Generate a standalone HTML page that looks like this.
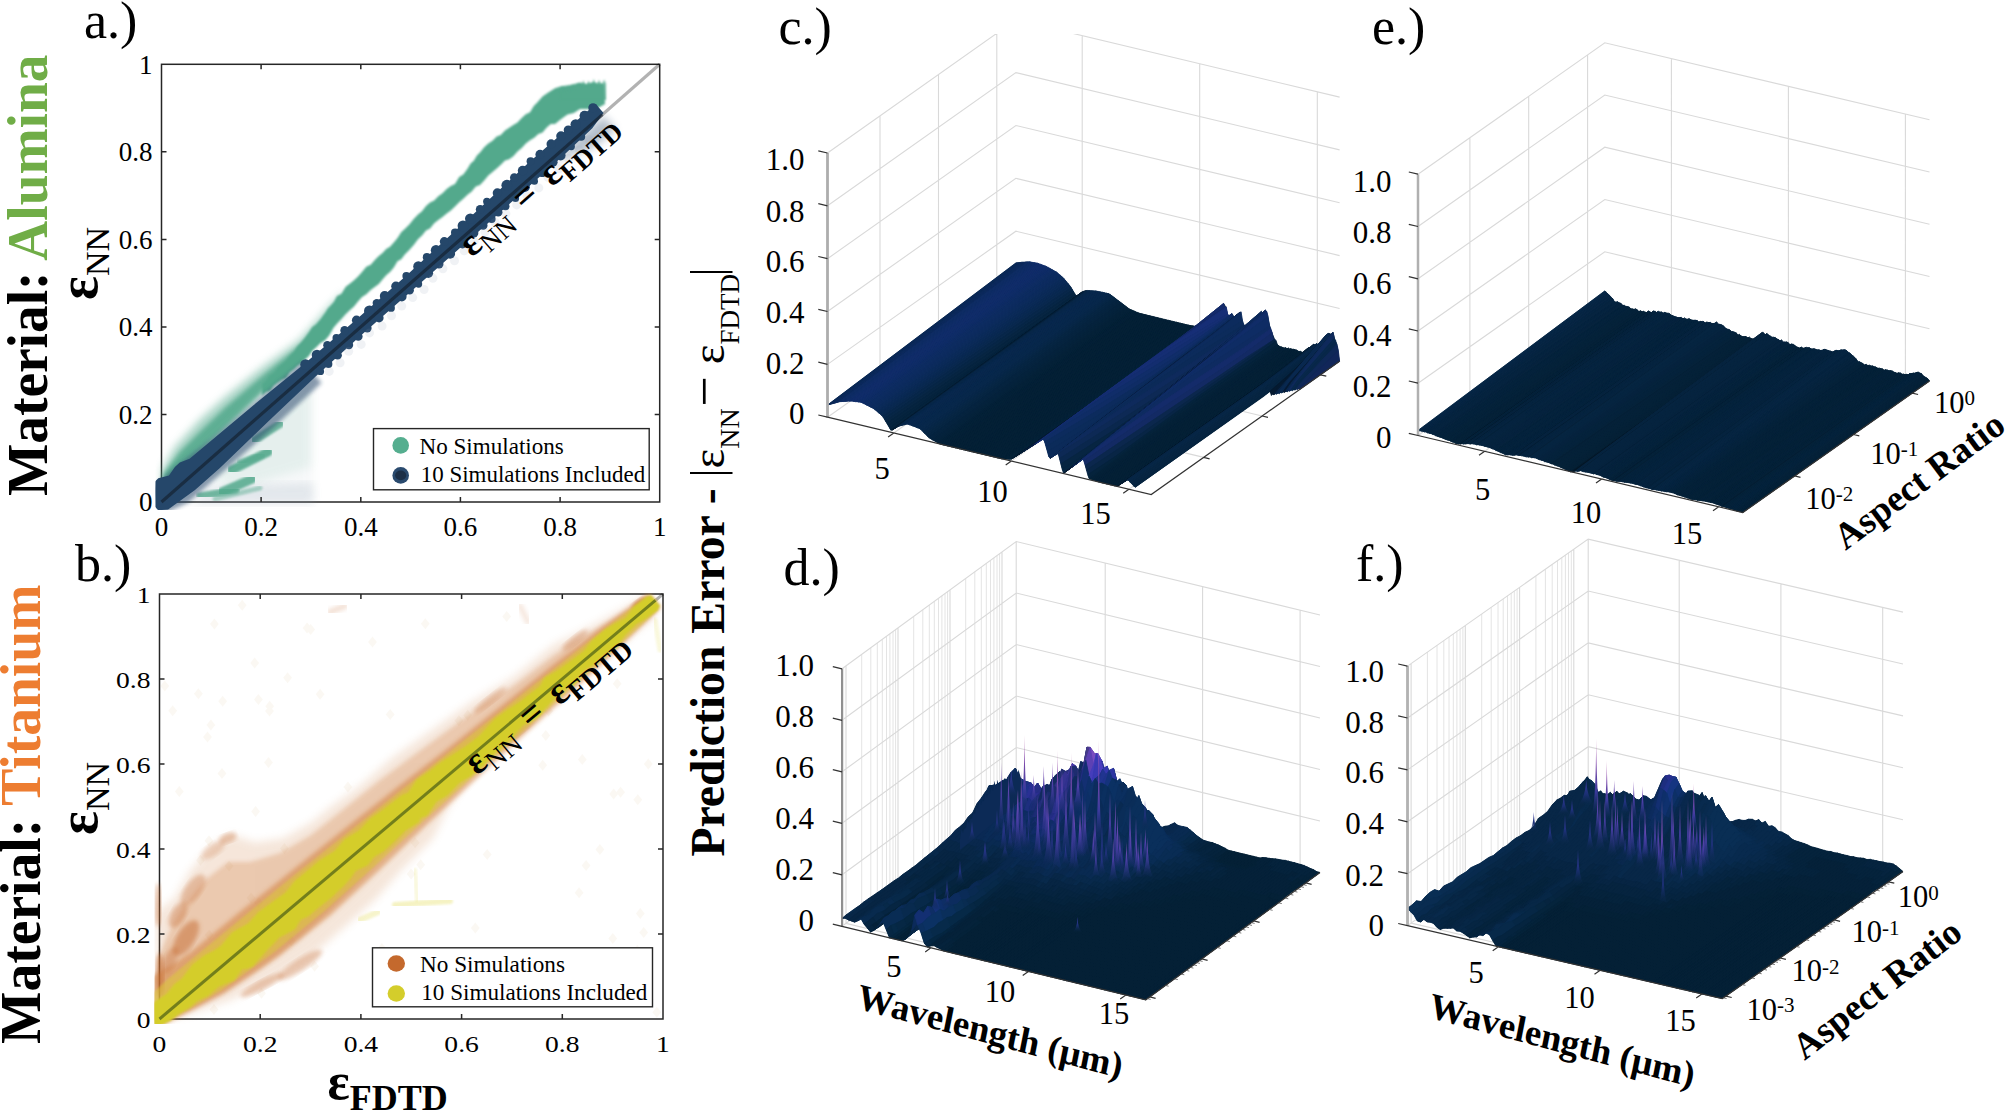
<!DOCTYPE html>
<html><head><meta charset="utf-8"><title>Figure</title>
<style>html,body{margin:0;padding:0;background:#fff}svg{display:block}text{font-family:'Liberation Serif',serif;fill:#000}</style>
</head><body>
<svg width="2007" height="1114" viewBox="0 0 2007 1114">
<defs>
<filter id="b1" x="-10%" y="-10%" width="120%" height="120%"><feGaussianBlur stdDeviation="0.8"/></filter>
<filter id="b2" x="-10%" y="-10%" width="120%" height="120%"><feGaussianBlur stdDeviation="2.2"/></filter>
<filter id="b3" x="-10%" y="-10%" width="120%" height="120%"><feGaussianBlur stdDeviation="4"/></filter>
</defs>
<g id="pa">
<clipPath id="ca"><rect x="155.5" y="62.3" width="506.2" height="447.7"/></clipPath>
<rect x="161.5" y="64.3" width="498.2" height="437.7" stroke="#262626" stroke-width="1.5" fill="none"/>
<g clip-path="url(#ca)">
<line x1="161.5" y1="502" x2="659.7" y2="64.3" stroke="#000" stroke-opacity="0.3" stroke-width="3.2"/>
<polygon points="171.5,502 313.5,502 313.5,383.8 261.1,427.6" fill="#8fa7b5" opacity="0.07" filter="url(#b3)"/>
<polygon points="191.4,504.2 313.5,504.2 313.5,482.3 211.3,486.7" fill="#7f93a8" opacity="0.16" filter="url(#b3)"/>
<polygon points="211.3,475.7 311,383.8 311,467 236.2,488.9" fill="#6fb59c" opacity="0.12" filter="url(#b3)"/>
<polygon points="162.5,470 175,447.5 200,420 225,397.5 262.5,367.5 300,340 330,306 345,292 345,310 300,352 262.5,390 225,428 200,452 175,478 162.5,496" fill="#52a98c" opacity="0.55" filter="url(#b3)"/>
<polygon points="163,474 180,452 200,432 225,408 262.5,376 300,345 330,316 330,330 300,360 262.5,392 225,428 200,452 175,478 163,497" fill="#52a98c" opacity="0.85" filter="url(#b2)"/>
<line x1="232" y1="470" x2="268" y2="452" stroke="#52a98c" stroke-width="9" stroke-linecap="round" opacity="0.9" filter="url(#b1)"/>
<line x1="222" y1="492" x2="252" y2="479" stroke="#52a98c" stroke-width="9" stroke-linecap="round" opacity="0.85" filter="url(#b1)"/>
<line x1="255" y1="440" x2="280" y2="424" stroke="#52a98c" stroke-width="8" stroke-linecap="round" opacity="0.8" filter="url(#b1)"/>
<line x1="200" y1="496" x2="236" y2="490" stroke="#52a98c" stroke-width="7" stroke-linecap="round" opacity="0.8" filter="url(#b1)"/>
<line x1="240" y1="462" x2="262" y2="455" stroke="#52a98c" stroke-width="6" stroke-linecap="round" opacity="0.5" filter="url(#b1)"/>
<line x1="215" y1="499" x2="260" y2="488" stroke="#52a98c" stroke-width="5" stroke-linecap="round" opacity="0.45" filter="url(#b1)"/>
<polygon points="262,384 266,380.5 270,375 274,372.8 278,367.4 282,363.9 286,360.8 290,355.5 293.8,352.1 297.5,346.2 301.2,342.5 305,337.7 308.7,332.4 312.3,326.9 316,324.6 320.5,319.3 325,313.1 328,308.2 331,305.3 334,301.8 337,296.1 341.3,294 345.7,286.8 350,283.6 354,280.2 358,276.5 362,272.1 366.3,266.7 370.7,264.8 375,259.8 378.8,256 382.5,253.1 386.2,249 390,246.8 393.8,242.6 397.5,237.9 401.2,232.2 405,228.7 409.3,224.4 413.7,218.9 418,214.6 422,211.3 426,206 430,202.4 434.2,200.5 438.3,196.3 442.5,193.2 446.7,188.9 450.8,186.1 455,184.1 459.2,177.1 463.3,174.6 467.5,168.7 470.6,163.4 473.8,160.8 476.9,155.4 480,152.4 484.2,147.2 488.3,143.5 492.5,140.8 496.7,136.5 500.8,134.9 505,130.4 509.2,127.8 513.3,124.9 517.5,122.4 521.7,117.9 525.8,114.2 530,112.3 533.8,106.1 537.5,102.3 542.5,96.6 547.5,93.1 555,88.3 561.2,86.3 567.5,85.4 573.8,84.2 580,82.5 586.2,84.2 592.5,82.6 598.1,83.5 603.8,84 605,104 598.8,107.6 592.5,108.9 586.2,109.1 580,109.1 573.8,113.1 567.5,114.4 561.2,119.1 555,123.9 550.8,124.1 546.7,127.5 542.5,132.5 538.3,134.1 534.2,137.7 530,140.3 525.8,143.6 521.7,148.1 517.5,151.4 513.3,156.3 509.2,159.2 505,160.4 500.8,164.8 496.7,168.5 492.5,172 488.3,175.4 484.2,180.6 480,185.1 475.8,186.5 471.7,191.5 467.5,194.7 463.3,198.8 459.2,202.3 455,206.4 450.8,210.6 446.7,213.5 442.5,217 438.3,220 434.2,223.3 430,228.4 426,230.6 422,235.4 418,239.2 413.7,245.1 409.3,250 405,254.3 401.2,259.2 397.5,261.2 393.8,267.5 390,271.9 386.2,275.3 382.5,279.6 378.8,284.1 375,286.7 370.7,290.1 366.3,294.3 362,297 358,301.6 354,306.4 350,310 345.7,314 341.3,318.9 337,323.5 333,328.3 329,335.5 325,340.2 320.5,342.8 316,347.2 312.3,350.5 308.7,355.9 305,359.5 301.2,363.4 297.5,366.1 293.8,369.6 290,372.2 286,377.9 282,379.7 278,382.6 274,385.5 270,390.7 266,391.9 262,395.4" fill="#52a98c" filter="url(#b1)"/>
<polygon points="560,93.6 562.6,86.2 565.2,92.1 567.8,86.2 570.4,90.7 573,84.4 575.6,89.2 578.2,83.6 580.8,87.9 583.4,80.2 586,87.2 588.6,80.4 591.2,86.6 593.8,78.9 596.4,86 599,79.8 601.6,85.3 604.2,79.5 606,84 606,100 560,100" fill="#52a98c" opacity="0.8" filter="url(#b1)"/>
<polygon points="150.9,490 175.2,467.3 212,439 303,361.7 321.5,382.7 273,428 223.2,471.8 188.3,502.4 163.1,513.9" fill="#25476a" opacity="0.55" filter="url(#b2)"/>
<polygon points="551.4,162.1 603.7,116.1 615.6,129.7 591.9,147.9" fill="#25476a" opacity="0.35" filter="url(#b3)"/>
<polygon points="147.6,498.2 149,487.7 158.3,478.2 169,475.4 174.9,467 179.8,462.6 189.6,458.7 253.2,405.4 304.7,363.6 355.2,320.5 405,276.8 478.4,209.6 526.9,164.3 595.7,103.9 603.6,112.9 592.3,128.2 563.4,155.6 489.3,222 414.9,288 365.1,331.8 315.9,376.3 267.7,422 219.9,468 195,489.9 168.1,509.5 158.2,510.3" fill="#25476a"/>
<g fill="#25476a"><circle cx="305.5" cy="364.5" r="5.3"/><circle cx="317" cy="355" r="5.3"/><circle cx="327.4" cy="345.2" r="4.2"/><circle cx="336.4" cy="337.9" r="3.9"/><circle cx="344.6" cy="330.4" r="4.3"/><circle cx="356.5" cy="320.2" r="4.6"/><circle cx="369.5" cy="311" r="5.5"/><circle cx="376.8" cy="303.1" r="4.2"/><circle cx="384.7" cy="295.9" r="4.9"/><circle cx="395.9" cy="286.2" r="4.7"/><circle cx="406.4" cy="276" r="4"/><circle cx="418.4" cy="266.5" r="5.2"/><circle cx="426.9" cy="257.2" r="4.1"/><circle cx="436" cy="250.2" r="5.2"/><circle cx="444.3" cy="241.6" r="4.5"/><circle cx="455.1" cy="232.5" r="4.1"/><circle cx="463" cy="225.9" r="5.4"/><circle cx="470.3" cy="218.8" r="5.3"/><circle cx="480.2" cy="209.3" r="4.4"/><circle cx="486.9" cy="201.5" r="3.8"/><circle cx="497.4" cy="193" r="4.7"/><circle cx="506.8" cy="185.2" r="5.4"/><circle cx="514.3" cy="177.6" r="4.3"/><circle cx="522.7" cy="170.6" r="4.9"/><circle cx="530.6" cy="161.3" r="4"/><circle cx="540" cy="154.4" r="4.6"/><circle cx="551.1" cy="143.9" r="4.6"/><circle cx="561" cy="136.1" r="4.8"/><circle cx="568.3" cy="130.1" r="4.6"/><circle cx="575.7" cy="124.4" r="5.2"/><circle cx="584.6" cy="115.8" r="5.1"/><circle cx="593" cy="107.9" r="4.7"/><circle cx="320.4" cy="371.4" r="3.7"/><circle cx="328.5" cy="364" r="3.9"/><circle cx="337.6" cy="355.2" r="4.3"/><circle cx="349" cy="345" r="4.2"/><circle cx="358.3" cy="336.5" r="4.3"/><circle cx="367.3" cy="328.1" r="4.3"/><circle cx="379.1" cy="317.9" r="4.5"/><circle cx="391" cy="307.9" r="3.9"/><circle cx="401.8" cy="296.7" r="4.8"/><circle cx="409.7" cy="290.4" r="4.2"/><circle cx="418.6" cy="284.1" r="3.6"/><circle cx="428.3" cy="273.2" r="4.8"/><circle cx="439" cy="264.1" r="4.5"/><circle cx="450.1" cy="253.8" r="5"/><circle cx="462.5" cy="244.3" r="4.1"/><circle cx="473.7" cy="233" r="4.7"/><circle cx="483.2" cy="225.4" r="4.3"/><circle cx="491.6" cy="218.9" r="4"/><circle cx="498.2" cy="212.2" r="4.3"/><circle cx="505.5" cy="206.3" r="4"/><circle cx="515.5" cy="198.4" r="3.6"/><circle cx="524.8" cy="187" r="5"/><circle cx="534.4" cy="181.2" r="3.6"/><circle cx="542.3" cy="173.4" r="3.7"/><circle cx="552.9" cy="162.3" r="4.7"/><circle cx="560.7" cy="155.6" r="4.9"/><circle cx="571.3" cy="146.6" r="3.6"/><circle cx="581.1" cy="136.7" r="4.1"/></g>
<circle cx="329.2" cy="371.4" r="4.5" fill="#8a9bb5" opacity="0.13"/>
<circle cx="340.1" cy="362.7" r="4.5" fill="#8a9bb5" opacity="0.13"/>
<circle cx="348.7" cy="351.3" r="4.5" fill="#8a9bb5" opacity="0.13"/>
<circle cx="361.2" cy="344.4" r="4.5" fill="#8a9bb5" opacity="0.13"/>
<circle cx="369.5" cy="332.9" r="4.5" fill="#8a9bb5" opacity="0.13"/>
<circle cx="382.1" cy="326.1" r="4.5" fill="#8a9bb5" opacity="0.13"/>
<circle cx="391.5" cy="315.7" r="4.5" fill="#8a9bb5" opacity="0.13"/>
<circle cx="401.7" cy="306.1" r="4.5" fill="#8a9bb5" opacity="0.13"/>
<circle cx="412.7" cy="297.6" r="4.5" fill="#8a9bb5" opacity="0.13"/>
<circle cx="424.1" cy="289.5" r="4.5" fill="#8a9bb5" opacity="0.13"/>
<circle cx="432.9" cy="278.3" r="4.5" fill="#8a9bb5" opacity="0.13"/>
<circle cx="442.9" cy="268.7" r="4.5" fill="#8a9bb5" opacity="0.13"/>
<circle cx="454.5" cy="260.7" r="4.5" fill="#8a9bb5" opacity="0.13"/>
<circle cx="464.2" cy="250.7" r="4.5" fill="#8a9bb5" opacity="0.13"/>
<circle cx="474.3" cy="241.1" r="4.5" fill="#8a9bb5" opacity="0.13"/>
<circle cx="484.9" cy="232.1" r="4.5" fill="#8a9bb5" opacity="0.13"/>
<circle cx="495.1" cy="222.5" r="4.5" fill="#8a9bb5" opacity="0.13"/>
<circle cx="505.9" cy="213.8" r="4.5" fill="#8a9bb5" opacity="0.13"/>
<circle cx="516.7" cy="204.9" r="4.5" fill="#8a9bb5" opacity="0.13"/>
<circle cx="527.1" cy="195.7" r="4.5" fill="#8a9bb5" opacity="0.13"/>
<circle cx="538.8" cy="187.9" r="4.5" fill="#8a9bb5" opacity="0.13"/>
<circle cx="548" cy="177.3" r="4.5" fill="#8a9bb5" opacity="0.13"/>
<circle cx="559" cy="168.7" r="4.5" fill="#8a9bb5" opacity="0.13"/>
<circle cx="568.6" cy="158.6" r="4.5" fill="#8a9bb5" opacity="0.13"/>
<circle cx="579.5" cy="149.9" r="4.5" fill="#8a9bb5" opacity="0.13"/>
<circle cx="589.1" cy="139.7" r="4.5" fill="#8a9bb5" opacity="0.13"/>
<line x1="161.5" y1="502" x2="602.4" y2="114.6" stroke="#101820" stroke-opacity="0.55" stroke-width="3.2"/>
</g>
<g stroke="#262626" stroke-width="1.5" fill="none">
<path d="M261.1 502v-5M261.1 64.3v5M161.5 414.5h5M659.7 414.5h-5M360.8 502v-5M360.8 64.3v5M161.5 326.9h5M659.7 326.9h-5M460.4 502v-5M460.4 64.3v5M161.5 239.4h5M659.7 239.4h-5M560.1 502v-5M560.1 64.3v5M161.5 151.8h5M659.7 151.8h-5"/>
</g>
<text x="161.5" y="536.2" font-size="27" text-anchor="middle" >0</text>
<text x="152.5" y="511.4" font-size="27" text-anchor="end" >0</text>
<text x="261.1" y="536.2" font-size="27" text-anchor="middle" >0.2</text>
<text x="152.5" y="423.9" font-size="27" text-anchor="end" >0.2</text>
<text x="360.8" y="536.2" font-size="27" text-anchor="middle" >0.4</text>
<text x="152.5" y="336.3" font-size="27" text-anchor="end" >0.4</text>
<text x="460.4" y="536.2" font-size="27" text-anchor="middle" >0.6</text>
<text x="152.5" y="248.8" font-size="27" text-anchor="end" >0.6</text>
<text x="560.1" y="536.2" font-size="27" text-anchor="middle" >0.8</text>
<text x="152.5" y="161.2" font-size="27" text-anchor="end" >0.8</text>
<text x="659.7" y="536.2" font-size="27" text-anchor="middle" >1</text>
<text x="152.5" y="73.7" font-size="27" text-anchor="end" >1</text>
<rect x="373.5" y="428.6" width="275.7" height="61.2" fill="#fff" stroke="#262626" stroke-width="1.4"/>
<circle cx="400.7" cy="445.4" r="8.3" fill="#55ae8f"/>
<circle cx="400.7" cy="475.4" r="8.3" fill="#2a4a6e"/><ellipse cx="400.7" cy="475.4" rx="5.6" ry="4.8" fill="#1d3048"/>
<text x="419.5" y="453.7" font-size="23" textLength="144.3" lengthAdjust="spacingAndGlyphs" >No Simulations</text>
<text x="420.7" y="482.4" font-size="23" textLength="224.5" lengthAdjust="spacingAndGlyphs" >10 Simulations Included</text>
<g transform="translate(472,258) rotate(-41.3)"><text font-size="38" font-weight="bold">ε<tspan font-size="27" font-weight="normal" dy="8">NN</tspan><tspan dy="-8" word-spacing="5.5"> = </tspan>ε<tspan font-size="27" dy="8">FDTD</tspan></text></g>
<text x="84" y="37.7" font-size="52" >a.)</text>
<g transform="translate(97,300) rotate(-90)"><text font-size="56" font-weight="bold">ε<tspan font-size="34" font-weight="normal" dy="12">NN</tspan></text></g>
<g transform="translate(46.8,496) rotate(-90)"><text font-size="56" font-weight="bold" textLength="441.5" lengthAdjust="spacingAndGlyphs">Material: <tspan fill="#70ad47">Alumina</tspan></text></g>
</g>
<g id="pb">
<clipPath id="cb"><rect x="154.5" y="593" width="509.5" height="431"/></clipPath>
<rect x="159.5" y="594" width="503.5" height="425" stroke="#262626" stroke-width="1.5" fill="none"/>
<g clip-path="url(#cb)">
<line x1="159.5" y1="1019" x2="663" y2="594" stroke="#000" stroke-opacity="0.3" stroke-width="3"/>
<path d="M387.7 825.8l4.4 5.5l-4.4 5.5l-4.4 -5.5zM620.6 786.7l4.4 5.5l-4.4 5.5l-4.4 -5.5zM415.1 837.3l4.4 5.5l-4.4 5.5l-4.4 -5.5zM255.6 805.9l4.4 5.5l-4.4 5.5l-4.4 -5.5zM475.3 922.6l4.4 5.5l-4.4 5.5l-4.4 -5.5zM210.9 719.4l4.4 5.5l-4.4 5.5l-4.4 -5.5zM209.2 929.5l4.4 5.5l-4.4 5.5l-4.4 -5.5zM506.7 610.9l4.4 5.5l-4.4 5.5l-4.4 -5.5zM649.2 993.9l4.4 5.5l-4.4 5.5l-4.4 -5.5zM487.2 849l4.4 5.5l-4.4 5.5l-4.4 -5.5zM242.2 599.7l4.4 5.5l-4.4 5.5l-4.4 -5.5zM425.3 618.2l4.4 5.5l-4.4 5.5l-4.4 -5.5zM258.4 693.9l4.4 5.5l-4.4 5.5l-4.4 -5.5zM179.3 786l4.4 5.5l-4.4 5.5l-4.4 -5.5zM381.9 943.1l4.4 5.5l-4.4 5.5l-4.4 -5.5zM420.7 859.2l4.4 5.5l-4.4 5.5l-4.4 -5.5zM411.1 868.4l4.4 5.5l-4.4 5.5l-4.4 -5.5zM390.2 708.9l4.4 5.5l-4.4 5.5l-4.4 -5.5zM656.8 1006.7l4.4 5.5l-4.4 5.5l-4.4 -5.5zM579.1 887.2l4.4 5.5l-4.4 5.5l-4.4 -5.5zM320.1 688.8l4.4 5.5l-4.4 5.5l-4.4 -5.5zM307.1 622.6l4.4 5.5l-4.4 5.5l-4.4 -5.5zM542.7 759.7l4.4 5.5l-4.4 5.5l-4.4 -5.5zM582.3 753.9l4.4 5.5l-4.4 5.5l-4.4 -5.5zM637.3 945.1l4.4 5.5l-4.4 5.5l-4.4 -5.5zM164.8 680.5l4.4 5.5l-4.4 5.5l-4.4 -5.5zM613.7 788.5l4.4 5.5l-4.4 5.5l-4.4 -5.5zM648.3 758.4l4.4 5.5l-4.4 5.5l-4.4 -5.5zM200.5 854.7l4.4 5.5l-4.4 5.5l-4.4 -5.5zM548.7 705.5l4.4 5.5l-4.4 5.5l-4.4 -5.5zM207.5 731.5l4.4 5.5l-4.4 5.5l-4.4 -5.5zM640.3 908.1l4.4 5.5l-4.4 5.5l-4.4 -5.5zM222.7 695.8l4.4 5.5l-4.4 5.5l-4.4 -5.5zM214.4 618.4l4.4 5.5l-4.4 5.5l-4.4 -5.5zM557.8 667.2l4.4 5.5l-4.4 5.5l-4.4 -5.5zM440.5 779.2l4.4 5.5l-4.4 5.5l-4.4 -5.5zM258.6 897.2l4.4 5.5l-4.4 5.5l-4.4 -5.5zM229.1 860.6l4.4 5.5l-4.4 5.5l-4.4 -5.5zM222 768.1l4.4 5.5l-4.4 5.5l-4.4 -5.5zM269.5 705.5l4.4 5.5l-4.4 5.5l-4.4 -5.5zM643.7 926.9l4.4 5.5l-4.4 5.5l-4.4 -5.5zM314.6 960.7l4.4 5.5l-4.4 5.5l-4.4 -5.5zM268.5 757.1l4.4 5.5l-4.4 5.5l-4.4 -5.5zM586.1 859.9l4.4 5.5l-4.4 5.5l-4.4 -5.5zM214 1004.1l4.4 5.5l-4.4 5.5l-4.4 -5.5zM269.7 700.7l4.4 5.5l-4.4 5.5l-4.4 -5.5zM545.8 730l4.4 5.5l-4.4 5.5l-4.4 -5.5zM310.7 624l4.4 5.5l-4.4 5.5l-4.4 -5.5zM209 835.3l4.4 5.5l-4.4 5.5l-4.4 -5.5zM284.4 843l4.4 5.5l-4.4 5.5l-4.4 -5.5zM347.9 781.6l4.4 5.5l-4.4 5.5l-4.4 -5.5zM637.8 794.2l4.4 5.5l-4.4 5.5l-4.4 -5.5zM448.1 953.1l4.4 5.5l-4.4 5.5l-4.4 -5.5zM254.7 657.5l4.4 5.5l-4.4 5.5l-4.4 -5.5zM612.8 932.9l4.4 5.5l-4.4 5.5l-4.4 -5.5zM287.6 672.3l4.4 5.5l-4.4 5.5l-4.4 -5.5zM529.4 983.8l4.4 5.5l-4.4 5.5l-4.4 -5.5zM261.5 987.8l4.4 5.5l-4.4 5.5l-4.4 -5.5zM599.9 844l4.4 5.5l-4.4 5.5l-4.4 -5.5zM372.5 636.6l4.4 5.5l-4.4 5.5l-4.4 -5.5zM183.6 993l4.4 5.5l-4.4 5.5l-4.4 -5.5zM282.2 885.9l4.4 5.5l-4.4 5.5l-4.4 -5.5zM291.3 935.3l4.4 5.5l-4.4 5.5l-4.4 -5.5zM458.9 715.3l4.4 5.5l-4.4 5.5l-4.4 -5.5zM251.1 892.4l4.4 5.5l-4.4 5.5l-4.4 -5.5zM198.4 688.3l4.4 5.5l-4.4 5.5l-4.4 -5.5zM440.5 947.2l4.4 5.5l-4.4 5.5l-4.4 -5.5zM467.7 709.8l4.4 5.5l-4.4 5.5l-4.4 -5.5zM617.2 678.2l4.4 5.5l-4.4 5.5l-4.4 -5.5zM172.7 705.2l4.4 5.5l-4.4 5.5l-4.4 -5.5z" fill="#d9b98a" opacity="0.10"/>
<polygon points="156,915 165,905 174,899 190,871 210.6,846.7 230.8,834.5 255,842.6 283,838.6 311.6,822.4 331.8,806 360,786 392.4,757.8 432.8,729.5 473,701 513.6,677 554,644.6 594.4,624.4 634.8,602 651,598 655,616 614.6,648.7 554,697 513.6,733.5 481,761.8 449,806 432.8,838.6 400.5,871 376,899 344,927.5 311.6,955.8 271,980 230.8,1000 190,1014 158,1020" fill="#cf8448" opacity="0.20" filter="url(#b3)"/>
<polygon points="157,960 170,930 185,905 205,880 228,862 250,862 280,853 311,835 340,812 380,780 432,742 473,712 513,686 554,655 594,630 634,607 652,598 656,610 614,640 554,686 513,720 481,748 449,780 420,812 395,842 365,875 335,905 300,938 262,968 225,992 190,1010 158,1020" fill="#cf7a3a" opacity="0.27" filter="url(#b2)"/>
<polygon points="145.4,1012.6 138.9,994.5 150.1,977.2 167.8,967.5 189.9,952.8 240.8,911.1 292.5,870.1 344.1,829.1 395.8,788.2 448.1,748 499.7,707 551.3,666 603.6,625.8 649,592.7 661.3,607.3 621,646.4 572.6,691.2 523.6,735.3 475.1,780 426.7,824.8 379,870.4 330.5,915.2 278.9,956.2 224,993.3 182.3,1015.4 158.3,1027.8" fill="#d07a35" opacity="0.5" filter="url(#b2)"/>
<ellipse cx="186" cy="938" rx="9" ry="20" transform="rotate(32 186 938)" fill="#c4692d" opacity="0.5" filter="url(#b2)"/>
<ellipse cx="193" cy="890" rx="8" ry="18" transform="rotate(35 193 890)" fill="#c4692d" opacity="0.35" filter="url(#b2)"/>
<ellipse cx="178" cy="915" rx="7" ry="14" transform="rotate(30 178 915)" fill="#c4692d" opacity="0.4" filter="url(#b2)"/>
<ellipse cx="170" cy="960" rx="6" ry="14" transform="rotate(25 170 960)" fill="#c4692d" opacity="0.4" filter="url(#b2)"/>
<ellipse cx="228" cy="838" rx="9" ry="5" transform="rotate(-20 228 838)" fill="#c4692d" opacity="0.35" filter="url(#b2)"/>
<ellipse cx="213" cy="850" rx="14" ry="6" transform="rotate(-35 213 850)" fill="#c4692d" opacity="0.25" filter="url(#b2)"/>
<ellipse cx="158" cy="905" rx="3" ry="22" transform="rotate(0 158 905)" fill="#c4692d" opacity="0.45" filter="url(#b2)"/>
<ellipse cx="160" cy="975" rx="4" ry="22" transform="rotate(0 160 975)" fill="#c4692d" opacity="0.55" filter="url(#b2)"/>
<ellipse cx="300" cy="965" rx="26" ry="6" transform="rotate(-33 300 965)" fill="#c4692d" opacity="0.35" filter="url(#b2)"/>
<ellipse cx="262" cy="985" rx="24" ry="5" transform="rotate(-28 262 985)" fill="#c4692d" opacity="0.35" filter="url(#b2)"/>
<ellipse cx="640" cy="603" rx="9" ry="4" transform="rotate(-35 640 603)" fill="#c4692d" opacity="0.6" filter="url(#b2)"/>
<ellipse cx="575" cy="640" rx="16" ry="4" transform="rotate(-38 575 640)" fill="#c4692d" opacity="0.35" filter="url(#b2)"/>
<ellipse cx="490" cy="700" rx="20" ry="4" transform="rotate(-38 490 700)" fill="#c4692d" opacity="0.3" filter="url(#b2)"/>
<ellipse cx="520" cy="730" rx="18" ry="4" transform="rotate(-40 520 730)" fill="#c4692d" opacity="0.3" filter="url(#b2)"/>
<line x1="330" y1="612" x2="345" y2="606" stroke="#c4692d" stroke-width="6" stroke-linecap="round" opacity="0.2" filter="url(#b2)"/>
<line x1="520" y1="606" x2="528" y2="622" stroke="#c4692d" stroke-width="6" stroke-linecap="round" opacity="0.15" filter="url(#b2)"/>
<polygon points="145.7,1014.9 144,1000.7 168.5,978.6 193.7,957.4 244.7,915.7 295.7,873.9 347.4,833 399,792 450.6,751 502.3,710 553.9,669.1 605.6,628.1 647.1,595.6 658.7,609.4 619.7,644.9 570.7,688.9 521.6,733 472.6,777 423.5,821 375.1,865.8 326,909.8 275,951.6 221.5,990.3 181.1,1013.9 156.7,1027.9" fill="#dccb3a" opacity="0.55" filter="url(#b1)"/>
<polygon points="148.3,1018 148.5,1006 159.4,998.5 166.6,993.7 174,984.2 181.5,978.7 192.2,964.5 204,955.6 207.7,953.5 213.9,950.6 220.7,945.8 232,932.2 248.2,923.3 258,912.3 270.7,903.1 285.7,892.3 294.2,881.2 307.7,870.2 319.4,860.3 334.4,850.9 344.3,839.2 359.1,830.2 370.3,818.2 381.8,810.3 391.2,802.9 401.6,795 408,792.4 416.5,779.7 430.7,770 440.1,762.5 452,754.8 466.2,745.7 478.7,736 488.4,725.4 495.7,718.1 506.3,710.2 521.2,700.5 527.3,695.4 539.4,686.3 544.7,677.6 557.8,670 571.7,659.7 583.7,650.8 591.5,640.7 604.9,629.4 615.2,623.1 625.5,617.8 633.5,606.9 647,596.8 650.9,595 660,605.7 657.4,610.3 644.7,619.4 636.4,624.3 624.9,635.8 619.1,644 612.7,649.8 605.6,654 593.8,664.9 582.9,671.4 576.7,682.1 561.9,691.7 550.5,703.3 538.3,717.1 522.8,725.7 512.6,737.6 500.5,748.9 492.8,755.3 484.2,765 471.8,775.5 459.7,782.9 447.5,795.4 436.4,802 427.4,815.4 420.9,818 419.1,822.3 405.1,831 393.8,842.2 384,851.3 373.9,857.2 367.9,865.3 355.9,871.1 350,879.3 343.1,886.7 329.9,898.9 318.2,908 308.6,916.2 300.7,919.9 295.1,929.3 287.7,933.2 279.2,937.7 267.9,949.4 258.6,960.1 252.9,966.2 246.6,969 242.1,969.5 234.6,980.2 218.5,987.1 208.6,995.8 197.1,1001.2 188.9,1008.2 180.3,1013 169.7,1020.9 156,1027.2" fill="#d4cd2b" filter="url(#b1)"/>
<line x1="395" y1="905" x2="450" y2="901" stroke="#e3dc55" stroke-width="6" stroke-linecap="round" opacity="0.35" filter="url(#b1)"/>
<line x1="360" y1="920" x2="378" y2="912" stroke="#e3dc55" stroke-width="6" stroke-linecap="round" opacity="0.3" filter="url(#b1)"/>
<line x1="415" y1="870" x2="417" y2="900" stroke="#e3dc55" stroke-width="4" stroke-linecap="round" opacity="0.2" filter="url(#b1)"/>
<line x1="655" y1="620" x2="660" y2="650" stroke="#e3dc55" stroke-width="5" stroke-linecap="round" opacity="0.2" filter="url(#b1)"/>
<line x1="159.5" y1="1019" x2="655.4" y2="600.4" stroke="#5a6a18" stroke-opacity="0.8" stroke-width="3"/>
</g>
<g stroke="#262626" stroke-width="1.5" fill="none">
<path d="M260.2 1019v-5M260.2 594v5M159.5 934h5M663 934h-5M360.9 1019v-5M360.9 594v5M159.5 849h5M663 849h-5M461.6 1019v-5M461.6 594v5M159.5 764h5M663 764h-5M562.3 1019v-5M562.3 594v5M159.5 679h5M663 679h-5"/>
</g>
<text transform="translate(159.5,1051.5) scale(1.2,1)" font-size="23" text-anchor="middle">0</text>
<text transform="translate(150.5,1027.8) scale(1.2,1)" font-size="23" text-anchor="end">0</text>
<text transform="translate(260.2,1051.5) scale(1.2,1)" font-size="23" text-anchor="middle">0.2</text>
<text transform="translate(150.5,942.8) scale(1.2,1)" font-size="23" text-anchor="end">0.2</text>
<text transform="translate(360.9,1051.5) scale(1.2,1)" font-size="23" text-anchor="middle">0.4</text>
<text transform="translate(150.5,857.8) scale(1.2,1)" font-size="23" text-anchor="end">0.4</text>
<text transform="translate(461.6,1051.5) scale(1.2,1)" font-size="23" text-anchor="middle">0.6</text>
<text transform="translate(150.5,772.8) scale(1.2,1)" font-size="23" text-anchor="end">0.6</text>
<text transform="translate(562.3,1051.5) scale(1.2,1)" font-size="23" text-anchor="middle">0.8</text>
<text transform="translate(150.5,687.8) scale(1.2,1)" font-size="23" text-anchor="end">0.8</text>
<text transform="translate(663,1051.5) scale(1.2,1)" font-size="23" text-anchor="middle">1</text>
<text transform="translate(150.5,602.8) scale(1.2,1)" font-size="23" text-anchor="end">1</text>
<rect x="372.5" y="947.8" width="280" height="59" fill="#fff" stroke="#262626" stroke-width="1.4"/>
<ellipse cx="396.3" cy="963.5" rx="8.7" ry="8.2" fill="#c4692d"/>
<ellipse cx="396.3" cy="993.5" rx="8.7" ry="8.2" fill="#d4cd2b"/>
<text x="420" y="972.3" font-size="23.5" textLength="145" lengthAdjust="spacingAndGlyphs" >No Simulations</text>
<text x="421.3" y="999.8" font-size="23.5" textLength="226" lengthAdjust="spacingAndGlyphs" >10 Simulations Included</text>
<g transform="translate(477,776) rotate(-40.2)"><text font-size="38" font-weight="bold">ε<tspan font-size="27" font-weight="normal" dy="8">NN</tspan><tspan dy="-8" word-spacing="6"> = </tspan>ε<tspan font-size="28" dy="8">FDTD</tspan></text></g>
<text x="75" y="581" font-size="52" >b.)</text>
<g transform="translate(96.5,835) rotate(-90)"><text font-size="56" font-weight="bold">ε<tspan font-size="34" font-weight="normal" dy="12">NN</tspan></text></g>
<g transform="translate(40,1044) rotate(-90)"><text font-size="56" font-weight="bold" textLength="459.5" lengthAdjust="spacingAndGlyphs">Material: <tspan fill="#ed7d31">Titanium</tspan></text></g>
<text x="327.5" y="1098.5" font-size="52" font-weight="bold">ε<tspan font-size="36" dy="11">FDTD</tspan></text>
</g>
<g id="cl">
<g transform="translate(724.3,856.6) rotate(-90)"><text font-size="47.7" font-weight="bold">Prediction Error -</text></g>
<g transform="translate(723.8,468.5) rotate(-90)"><text font-size="47">ε<tspan font-size="28" dy="15">NN</tspan><tspan dy="-17" dx="1.5" font-size="54">−</tspan><tspan dx="12" dy="2">ε</tspan><tspan font-size="27" dy="15">FDTD</tspan></text></g>
<path d="M690 473H732.5M690 272H732.5" stroke="#000" stroke-width="2" fill="none"/>
</g>
<defs><linearGradient id="sgp" x1="0" y1="0" x2="0" y2="1"><stop offset="0" stop-color="#d08ab8"/><stop offset="0.3" stop-color="#8a4fb0"/><stop offset="0.7" stop-color="#3a3a9c"/><stop offset="1" stop-color="#1a2f70" stop-opacity="0"/></linearGradient>
<linearGradient id="sgv" x1="0" y1="0" x2="0" y2="1"><stop offset="0" stop-color="#9058b8"/><stop offset="0.45" stop-color="#4a3ea6"/><stop offset="1" stop-color="#1c2f74" stop-opacity="0"/></linearGradient>
<linearGradient id="sgn" x1="0" y1="0" x2="0" y2="1"><stop offset="0" stop-color="#15306e"/><stop offset="1" stop-color="#0c2a58"/></linearGradient>
<linearGradient id="sgb" x1="0" y1="0" x2="0" y2="1"><stop offset="0" stop-color="#3a3ca2"/><stop offset="0.55" stop-color="#1b2f74"/><stop offset="1" stop-color="#0a2848" stop-opacity="0"/></linearGradient></defs>
<g id="pc">
<clipPath id="cgc"><rect x="0" y="34" width="2007" height="1114"/></clipPath>
<g clip-path="url(#cgc)">
<path d="M827.5 364.4L1015.9 231.2L1339.6 308.5M827.5 311.5L1015.9 178.3L1339.6 255.6M827.5 258.7L1015.9 125.5L1339.6 202.8M827.5 205.8L1015.9 72.6L1339.6 149.9M827.5 153L1015.9 19.8L1339.6 97.1M827.5 417.2L1015.9 284L1339.6 361.3M1082.2 299.8L1082.2 35.6M1082.2 299.8L893.8 433M1199.7 327.9L1199.7 63.7M1199.7 327.9L1011.4 461.1M1317.3 356L1317.3 91.8M1317.3 356L1128.9 489.2M880 380.1L880 115.9M880 380.1L1203.8 457.4M938.5 338.7L938.5 74.5M938.5 338.7L1262.2 416M996.8 297.5L996.8 33.3M996.8 297.5L1320.5 374.8" stroke="#d9d9d9" stroke-width="1.1" fill="none"/>
</g>
<path d="M827.5 405l11.5-3.2 11.6-.8 9.6 1.1 1.9 .6 11.6 5.9 7.7 6.5 1.9 2.3 7.7 12.9 1.9-.7 5.8-3.4 7.7-2.1 1.9 .1 11.6 4.4 9.6 9.5 9.6 5.4 63.5 15.4 7.7 .3 1.9-.5 30.8-19.5 1.9 3.6 3.9 13.7 1.9 1.5 5.8-3.7 1.9 0 3.9 15.1 1.9 3.5 17.3-12.6 1.9-.9 5.8 19.3 26.9 7.4 2-.3 9.6-6.1 7.7 7.9 128-90.5 6.7-5.4 3 3.1 27.9-6.2 38.6-27.3-2-14.7-2-5.9-2.1-8.7-2 1.9-2-.8-2 .6-2.1 3.2-2 7.3-2 .1-2 2.5-2.1-3.4-4 5-2 1-2.1-2.3-2 4.5-2 1-2 0-2-1-2.1 0-2-1.3-4-.7-2.1-.9-2-.4-2 .4-6.1-1.8-2-1.1-2-1.9-6.1-15.2-4-17.2-2.1 4.8-2-.5-2-1-2 .9-4.1 4-4 11.6-2.1-4.8-2 .6-2-.1-2-6.3-2-8.5-2.1 4.3-2 .8-2-.2-2-3.7-2.1 2-2-.1-2-8.1-2-3.5-4.1 7.7-2-1.7-2 5.3-2.1 1.7-2 2.3-2 1.7-2 .6-2 2.6-2.1 1.4-4 1.4-10.1-1.2-50.6-12.3-10.1-4.3-18.2-13.8-2.1-1.3-12.1-2.6-10.1-.6-4.1 1.2-6 4.8-6.1-10-8.1-9.5-6.1-5.1-10.1-5.6-10.1-3.4-8.1-1.1-12.2 1z" fill="#05223b"/><g stroke-width="0.9" stroke-linejoin="round"><path d="M827.5 405l188.4-142.1 1.3-.1-188.4 141.9z" fill="#0a2955" stroke="#0a2955"/><path d="M828.8 404.7l188.4-141.9 1.3-.2-188.3 141.7z" fill="#0b2956" stroke="#0b2956"/><path d="M830.2 404.3l188.3-141.7 1.4-.1-188.4 141.4z" fill="#0b2957" stroke="#0b2957"/><path d="M831.5 403.9l188.4-141.4 1.3-.1-188.3 141.1z" fill="#0b2958" stroke="#0b2958"/><path d="M832.9 403.5l188.3-141.1 1.4-.1-188.4 140.9z" fill="#0c295a" stroke="#0c295a"/><path d="M834.2 403.2l188.4-140.9 1.3-.1-188.3 140.6z" fill="#0c2a5b" stroke="#0c2a5b"/><path d="M835.6 402.8l188.3-140.6 1.4-.1-188.4 140.3z" fill="#0c2a5c" stroke="#0c2a5c"/><path d="M836.9 402.4l188.4-140.3 1.3-.1-188.3 140z" fill="#0d2a5d" stroke="#0d2a5d"/><path d="M838.3 402l188.3-140 1.4-.1-188.4 139.7z" fill="#0d2a5e" stroke="#0d2a5e"/><path d="M839.6 401.6l188.4-139.7 1.3-.1-188.3 139.8z" fill="#0e2c63" stroke="#0e2c63"/><path d="M841 401.6l188.3-139.8 1.4 .3-188.4 139.4z" fill="#0e2c64" stroke="#0e2c64"/><path d="M842.3 401.5l188.4-139.4 1.3 .2-188.3 139.1z" fill="#0e2c64" stroke="#0e2c64"/><path d="M843.7 401.4l188.3-139.1 1.4 .3-188.4 138.7z" fill="#0f2c65" stroke="#0f2c65"/><path d="M845 401.3l188.4-138.7 1.3 .2-188.3 138.4z" fill="#0f2c66" stroke="#0f2c66"/><path d="M846.4 401.2l188.3-138.4 1.4 .2-188.4 138.1z" fill="#102c67" stroke="#102c67"/><path d="M847.7 401.1l188.4-138.1 1.3 .3-188.3 137.8z" fill="#102d69" stroke="#102d69"/><path d="M849.1 401.1l188.3-137.8 1.4 .4-188.4 137.3z" fill="#102d69" stroke="#102d69"/><path d="M850.4 401l188.4-137.3 1.3 .5-188.3 136.8z" fill="#112d6a" stroke="#112d6a"/><path d="M851.8 401l188.3-136.8 1.4 .5-188.4 136.5z" fill="#112d6a" stroke="#112d6a"/><path d="M853.1 401.2l188.4-136.5 1.3 .5-188.3 136.2z" fill="#112d6a" stroke="#112d6a"/><path d="M854.5 401.4l188.3-136.2 1.4 .5-188.4 135.9z" fill="#112d6a" stroke="#112d6a"/><path d="M855.8 401.6l188.4-135.9 1.3 .5-188.3 135.5z" fill="#112d6a" stroke="#112d6a"/><path d="M857.2 401.7l188.3-135.5 1.4 .6-188.4 135.1z" fill="#102d6a" stroke="#102d6a"/><path d="M858.5 401.9l188.4-135.1 1.3 .7-188.3 134.6z" fill="#102d69" stroke="#102d69"/><path d="M859.9 402.1l188.3-134.6 1.4 .8-188.4 134z" fill="#102c68" stroke="#102c68"/><path d="M861.2 402.3l188.4-134 1.3 .7-188.3 133.9z" fill="#0f2c67" stroke="#0f2c67"/><path d="M862.6 402.9l188.3-133.9 1.4 .8-188.4 133.8z" fill="#0f2c66" stroke="#0f2c66"/><path d="M863.9 403.6l188.4-133.8 1.3 .7-188.3 133.8z" fill="#0e2c64" stroke="#0e2c64"/><path d="M865.3 404.3l188.3-133.8 1.4 .8-188.4 133.7z" fill="#0e2c63" stroke="#0e2c63"/><path d="M866.6 405l188.4-133.7 1.3 .7-188.3 133.7z" fill="#0d2c62" stroke="#0d2c62"/><path d="M868 405.7l188.3-133.7 1.4 1.1-188.4 133.3z" fill="#0d2c61" stroke="#0d2c61"/><path d="M869.3 406.4l188.4-133.3 1.3 1.2-188.3 132.8z" fill="#0d2b60" stroke="#0d2b60"/><path d="M870.7 407.1l188.3-132.8 1.4 1.1-188.4 132.4z" fill="#0c2b5f" stroke="#0c2b5f"/><path d="M872 407.8l188.4-132.4 1.3 1.1-188.3 132z" fill="#0c2b5d" stroke="#0c2b5d"/><path d="M873.4 408.5l188.3-132 1.4 1.2-188.4 131.8z" fill="#0c2b5c" stroke="#0c2b5c"/><path d="M874.7 409.5l188.4-131.8 1.3 1.5-188.3 131.4z" fill="#0b2b5a" stroke="#0b2b5a"/><path d="M876.1 410.6l188.3-131.4 1.4 1.6-188.4 130.9z" fill="#0b2a58" stroke="#0b2a58"/><path d="M877.4 411.7l188.4-130.9 1.3 1.7-188.3 130.4z" fill="#0a2a56" stroke="#0a2a56"/><path d="M878.8 412.9l188.3-130.4 1.4 1.6-188.4 129.9z" fill="#0a2953" stroke="#0a2953"/><path d="M880.1 414l188.4-129.9 1.3 1.6-188.3 129.5z" fill="#092951" stroke="#092951"/><path d="M881.5 415.2l188.3-129.5 1.4 2-188.4 128.9z" fill="#09284e" stroke="#09284e"/><path d="M882.8 416.6l188.4-128.9 1.3 2.3-188.3 128.8z" fill="#08274a" stroke="#08274a"/><path d="M884.2 418.8l188.3-128.8 1.4 2.2-188.4 128.9z" fill="#072646" stroke="#072646"/><path d="M885.5 421.1l188.4-128.9 1.3 2.3-188.3 128.8z" fill="#072542" stroke="#072542"/><path d="M886.9 423.3l188.3-128.8 1.4 2.1-188.4 129z" fill="#06243f" stroke="#06243f"/><path d="M888.2 425.6l189.7-130.1-188.3 132.4z" fill="#05233d" stroke="#05233d"/><path d="M889.6 427.9l189.7-133.6-188.4 135.8z" fill="#05233c" stroke="#05233c"/><path d="M890.9 430.1l189.7-136.9-188.3 136.8z" fill="#051d33" stroke="#051d33"/><path d="M892.2 430l27-19.5 26.9-19.6 26.9-19.5 26.9-19.6 26.9-19.5 26.9-19.6 26.9-19.5 1.3-1.1-26.9 19.6-26.9 19.6-26.9 19.5-26.9 19.6-26.9 19.6-26.9 19.6-26.9 19.6z" fill="#041a2e" stroke="#041a2e"/><path d="M893.6 429.2l188.3-137.1 1.4-.6z" fill="#051e35" stroke="#051e35"/><path d="M894.9 428.4l188.4-136.9 1.3-.4z" fill="#061f38" stroke="#061f38"/><path d="M896.3 427.6l188.3-136.5 1.4-.4z" fill="#062039" stroke="#062039"/><path d="M897.6 426.7l188.4-136 1.3-.1-188.3 135.5z" fill="#072441" stroke="#072441"/><path d="M899 426.1l188.3-135.5 1.4 .1-188.4 135z" fill="#082747" stroke="#082747"/><path d="M900.3 425.7l188.4-135 1.3 0-188.3 134.7z" fill="#082749" stroke="#082749"/><path d="M901.7 425.4l188.3-134.7 1.4 .1-188.4 134.2z" fill="#08274a" stroke="#08274a"/><path d="M903 425l188.4-134.2 1.3 .1-188.3 133.8z" fill="#08274b" stroke="#08274b"/><path d="M904.4 424.7l188.3-133.8 1.4 0-188.4 133.4z" fill="#08284c" stroke="#08284c"/><path d="M905.7 424.3l188.4-133.4 1.3 .1-188.3 133z" fill="#08284d" stroke="#08284d"/><path d="M907.1 424l188.3-133 1.4 .2-188.4 133.1z" fill="#09284e" stroke="#09284e"/><path d="M908.4 424.3l188.4-133.1 1.3 .3-188.3 133.3z" fill="#09284e" stroke="#09284e"/><path d="M909.8 424.8l188.3-133.3 1.4 .3-188.4 133.5z" fill="#09284d" stroke="#09284d"/><path d="M911.1 425.3l188.4-133.5 1.3 .2-188.3 133.8z" fill="#09284d" stroke="#09284d"/><path d="M912.5 425.8l188.3-133.8 1.4 .3-188.4 134z" fill="#09284d" stroke="#09284d"/><path d="M913.8 426.3l188.4-134 1.3 .3-188.3 134.2z" fill="#08284d" stroke="#08284d"/><path d="M915.2 426.8l188.3-134.2 1.4 .3-188.4 134.5z" fill="#08284d" stroke="#08284d"/><path d="M916.5 427.4l188.4-134.5 1.3 .3-188.3 134.7z" fill="#08284c" stroke="#08284c"/><path d="M917.9 427.9l188.3-134.7 1.4 .3-188.4 134.9z" fill="#08284c" stroke="#08284c"/><path d="M919.2 428.4l188.4-134.9 1.3 .3-188.3 135.4z" fill="#08284c" stroke="#08284c"/><path d="M920.6 429.2l188.3-135.4 1.4 .8-188.4 136z" fill="#08284b" stroke="#08284b"/><path d="M921.9 430.6l188.4-136 1.3 1-188.3 136.4z" fill="#082749" stroke="#082749"/><path d="M923.3 432l188.3-136.4 1.4 1-188.4 136.8z" fill="#072747" stroke="#072747"/><path d="M924.6 433.4l188.4-136.8 1.3 1-188.3 137.2z" fill="#072645" stroke="#072645"/><path d="M926 434.8l188.3-137.2 1.4 1-188.4 137.5z" fill="#072643" stroke="#072643"/><path d="M927.3 436.1l188.4-137.5 1.3 1.1-188.3 137.8z" fill="#062542" stroke="#062542"/><path d="M928.7 437.5l188.3-137.8 1.4 1-188.4 137.7z" fill="#062440" stroke="#062440"/><path d="M930 438.4l188.4-137.7 1.3 1-188.3 137.4z" fill="#06243f" stroke="#06243f"/><path d="M931.4 439.1l188.3-137.4 1.4 1-188.4 137.2z" fill="#06243e" stroke="#06243e"/><path d="M932.7 439.9l188.4-137.2 1.3 1.1-188.3 136.9z" fill="#06233d" stroke="#06233d"/><path d="M934.1 440.7l188.3-136.9 1.4 1-188.4 136.6z" fill="#05233c" stroke="#05233c"/><path d="M935.4 441.4l188.4-136.6 1.3 1-188.3 136.4z" fill="#05223b" stroke="#05223b"/><path d="M936.8 442.2l188.3-136.4 1.4 1.1-188.4 136.1z" fill="#05223a" stroke="#05223a"/><path d="M938.1 443l188.4-136.1 1.3 1-188.3 135.8z" fill="#052139" stroke="#052139"/><path d="M939.5 443.7l188.3-135.8 1.4 1-188.4 135.4z" fill="#042138" stroke="#042138"/><path d="M940.8 444.3l188.4-135.4 1.3 .6-188.3 135.1z" fill="#042138" stroke="#042138"/><path d="M942.2 444.6l188.3-135.1 1.4 .6-188.4 134.8z" fill="#042138" stroke="#042138"/><path d="M943.5 444.9l188.4-134.8 1.3 .6-188.3 134.5z" fill="#042137" stroke="#042137"/><path d="M944.9 445.2l188.3-134.5 1.4 .6-188.4 134.2z" fill="#042037" stroke="#042037"/><path d="M946.2 445.5l188.4-134.2 1.3 .6-188.3 134z" fill="#042037" stroke="#042037"/><path d="M947.6 445.9l188.3-134 1.4 .6-188.4 133.7z" fill="#042037" stroke="#042037"/><path d="M948.9 446.2l188.4-133.7 1.3 .5-188.3 133.5z" fill="#042036" stroke="#042036"/><path d="M950.3 446.5l188.3-133.5 1.4 .4-188.4 133.4z" fill="#042036" stroke="#042036"/><path d="M951.6 446.8l188.4-133.4 1.3 .3-188.3 133.5z" fill="#042036" stroke="#042036"/><path d="M953 447.2l188.3-133.5 1.4 .4-188.4 133.4z" fill="#042036" stroke="#042036"/><path d="M954.3 447.5l188.4-133.4 1.3 .3-188.3 133.4z" fill="#042036" stroke="#042036"/><path d="M955.7 447.8l188.3-133.4 1.3 .3-188.3 133.4z" fill="#042036" stroke="#042036"/><path d="M957 448.1l188.3-133.4 1.4 .4-188.4 133.3z" fill="#042036" stroke="#042036"/><path d="M958.3 448.4l188.4-133.3 1.3 .3-188.3 133.4z" fill="#042036" stroke="#042036"/><path d="M959.7 448.8l188.3-133.4 1.4 .3-188.4 133.4z" fill="#042036" stroke="#042036"/><path d="M961 449.1l188.4-133.4 1.3 .4-188.3 133.3z" fill="#042036" stroke="#042036"/><path d="M962.4 449.4l188.3-133.3 1.4 .3-188.4 133.3z" fill="#042036" stroke="#042036"/><path d="M963.7 449.7l188.4-133.3 1.3 .3-188.3 133.4z" fill="#042036" stroke="#042036"/><path d="M965.1 450.1l188.3-133.4 1.4 .4-188.4 133.3z" fill="#042036" stroke="#042036"/><path d="M966.4 450.4l188.4-133.3 1.3 .3-188.3 133.3z" fill="#042036" stroke="#042036"/><path d="M967.8 450.7l188.3-133.3 1.4 .3-188.4 133.3z" fill="#042036" stroke="#042036"/><path d="M969.1 451l188.4-133.3 1.3 .4-188.3 133.2z" fill="#042036" stroke="#042036"/><path d="M970.5 451.3l188.3-133.2 1.4 .3-188.4 133.3z" fill="#042036" stroke="#042036"/><path d="M971.8 451.7l188.4-133.3 1.3 .4-188.3 133.2z" fill="#042036" stroke="#042036"/><path d="M973.2 452l188.3-133.2 1.4 .3-188.4 133.2z" fill="#042036" stroke="#042036"/><path d="M974.5 452.3l188.4-133.2 1.3 .3-188.3 133.2z" fill="#042036" stroke="#042036"/><path d="M975.9 452.6l188.3-133.2 1.4 .4-188.4 133.2z" fill="#042036" stroke="#042036"/><path d="M977.2 453l188.4-133.2 1.3 .3-188.3 133.2z" fill="#042036" stroke="#042036"/><path d="M978.6 453.3l188.3-133.2 1.4 .3-188.4 133.2z" fill="#042036" stroke="#042036"/><path d="M979.9 453.6l188.4-133.2 1.3 .3-188.3 133.2z" fill="#042036" stroke="#042036"/><path d="M981.3 453.9l188.3-133.2 1.4 .3-188.4 133.2z" fill="#042036" stroke="#042036"/><path d="M982.6 454.2l188.4-133.2 1.3 .4-188.3 133.2z" fill="#042036" stroke="#042036"/><path d="M984 454.6l188.3-133.2 1.4 .3-188.4 133.2z" fill="#042036" stroke="#042036"/><path d="M985.3 454.9l188.4-133.2 1.3 .3-188.3 133.2z" fill="#042036" stroke="#042036"/><path d="M986.7 455.2l188.3-133.2 1.4 .3-188.4 133.2z" fill="#042036" stroke="#042036"/><path d="M988 455.5l188.4-133.2 1.3 .3-188.3 133.2z" fill="#042036" stroke="#042036"/><path d="M989.4 455.8l188.3-133.2 1.4 .4-188.4 133.2z" fill="#042036" stroke="#042036"/><path d="M990.7 456.2l188.4-133.2 1.3 .3-188.3 133.2z" fill="#042036" stroke="#042036"/><path d="M992.1 456.5l188.3-133.2 1.4 .3-188.4 133.2z" fill="#042036" stroke="#042036"/><path d="M993.4 456.8l188.4-133.2 1.3 .3-188.3 133.2z" fill="#042036" stroke="#042036"/><path d="M994.8 457.1l188.3-133.2 1.4 .4-188.4 133.2z" fill="#042036" stroke="#042036"/><path d="M996.1 457.5l188.4-133.2 1.3 .3-188.3 133.2z" fill="#042036" stroke="#042036"/><path d="M997.5 457.8l188.3-133.2 1.4 .3-188.4 133.2z" fill="#042036" stroke="#042036"/><path d="M998.8 458.1l188.4-133.2 1.3 .3-188.3 133.2z" fill="#042036" stroke="#042036"/><path d="M1000.2 458.4l188.3-133.2 1.4 .3-188.4 133.2z" fill="#042036" stroke="#042036"/><path d="M1001.5 458.7l188.4-133.2 1.3 .2-188.3 133.2z" fill="#042036" stroke="#042036"/><path d="M1002.9 458.9l188.3-133.2 1.4 .2-188.4 133z" fill="#042036" stroke="#042036"/><path d="M1004.2 458.9l188.4-133 1.3 .2-188.3 132.9z" fill="#042037" stroke="#042037"/><path d="M1005.6 459l188.3-132.9 1.4 .2-188.4 132.8z" fill="#042137" stroke="#042137"/><path d="M1006.9 459.1l188.4-132.8 1.3 .1-188.3 132.7z" fill="#042138" stroke="#042138"/><path d="M1008.3 459.1l188.3-132.7 1.4 .2-188.4 132.6z" fill="#042138" stroke="#042138"/><path d="M1009.6 459.2l188.4-132.6 1.3 .2-188.3 132.4z" fill="#052138" stroke="#052138"/><path d="M1011 459.2l188.3-132.4 1.4-.3-188.4 132.1z" fill="#041e33" stroke="#041e33"/><path d="M1012.3 458.6l188.4-132.1 1.3-.5z" fill="#041c31" stroke="#041c31"/><path d="M1013.7 457.8l188.3-131.8 1.4-.4z" fill="#041d32" stroke="#041d32"/><path d="M1015 456.9l188.4-131.3 1.3-.5z" fill="#051d33" stroke="#051d33"/><path d="M1016.4 456.1l26.9-18.9 26.9-18.8 26.9-18.8 26.9-18.7 26.9-18.7 26.9-18.6 26.9-18.5 1.4-1.2-27 19.1-26.9 18.6-26.9 18.6-26.9 18.7-26.9 18.7-26.9 18.8-26.9 18.8z" fill="#051d32" stroke="#051d32"/><path d="M1017.7 455.2l161.4-112.2 27-19.1 1.3-1.9-53.8 38.7z" fill="#051a2f" stroke="#051a2f"/><path d="M1019.1 454.4l134.5-93.7 53.8-38.7 1.4-2.5-27 20.4-53.8 38.7z" fill="#05192d" stroke="#05192d"/><path d="M1020.4 453.5l134.5-94 26.9-19.6 27-20.4 1.3 1.2z" fill="#06203c" stroke="#06203c"/><path d="M1021.8 452.7l189.6-132.9-26.9 18.2z" fill="#061b34" stroke="#061b34"/><path d="M1023.1 451.8l161.4-113.8 26.9-18.2 1.4-5.2-26.9 21-26.9 20z" fill="#061a33" stroke="#061a33"/><path d="M1024.4 451l134.6-95.4 26.9-20 26.9-21 1.3 2.1-53.8 37.6z" fill="#082346" stroke="#082346"/><path d="M1025.8 450.1l161.4-114.9 28.3-19.5-26.9 18.3z" fill="#071c3a" stroke="#071c3a"/><path d="M1027.1 449.3l161.5-115.3 26.9-18.3 1.3-3z" fill="#071c39" stroke="#071c39"/><path d="M1028.5 448.4l188.3-135.7 1.4-3-26.9 20.8-134.5 97.9z" fill="#081c3c" stroke="#081c3c"/><path d="M1029.8 447.6l134.6-97.1 26.9-20 26.9-20.8 1.3 2.4-26.9 18.1z" fill="#0b2653" stroke="#0b2653"/><path d="M1031.2 446.7l134.5-97.4 26.9-19.1 26.9-18.1 1.4-2.7z" fill="#091c3f" stroke="#091c3f"/><path d="M1032.5 445.9l161.5-117.4 26.9-19.1 1.3-1.5z" fill="#0a1e44" stroke="#0a1e44"/><path d="M1033.9 445l188.3-137.1 1.4-4.5-26.9 21.6-26.9 20.7z" fill="#0c1d47" stroke="#0c1d47"/><path d="M1035.2 444.1l134.6-98.4 26.9-20.7 26.9-21.6 1.3 4-26.9 17.1z" fill="#132a6b" stroke="#132a6b"/><path d="M1036.6 443.3l161.4-118.8 26.9-17.1 1.4-.2-53.8 36.7z" fill="#132866" stroke="#132866"/><path d="M1037.9 442.4l107.7-79.1 26.9-19.4 53.8-36.7 1.3 6.9-53.8 32-26.9 17.2-26.9 18.9z" fill="#162e76" stroke="#162e76"/><path d="M1039.3 441.6l80.7-59.4 26.9-18.9 26.9-17.2 53.8-32 1.4 1.4-107.6 66.8-27 18.8z" fill="#152e73" stroke="#152e73"/><path d="M1040.6 440.7l53.8-39.6 27-18.8 107.6-66.8 1.3-.1-26.9 19.2-26.9 17.8-53.8 33.4-26.9 16-26.9 18.4z" fill="#132d6f" stroke="#132d6f"/><path d="M1042 439.9l26.9-19.7 26.9-18.4 53.8-32.5 26.9-16.9 26.9-17.8 26.9-19.2 1.4-1.9-26.9 22.4-26.9 19.6-53.8 34.1-53.9 32.1z" fill="#102d69" stroke="#102d69"/><path d="M1043.3 439l26.9-17.3 53.9-32.1 53.8-34.1 26.9-19.6 26.9-22.4 1.3 2.5-53.8 40.9-26.9 19.4-53.8 33.8-53.8 31.8z" fill="#0f2c65" stroke="#0f2c65"/><path d="M1044.7 441.9l53.8-31.8 53.8-33.8 26.9-19.4 53.8-40.9 1.4 1.1-26.9 19.2-53.8 40.8-26.9 19.9-27 17.2-53.8 32.5z" fill="#0c2b5d" stroke="#0c2b5d"/><path d="M1046 446.7l53.8-32.5 27-17.2 26.9-19.9 53.8-40.8 26.9-19.2 1.3 .3-26.9 18.7-26.9 19.8-80.7 62.1-26.9 17.2-26.9 16.3z" fill="#0b2b5a" stroke="#0b2b5a"/><path d="M1047.4 451.5l26.9-16.3 26.9-17.2 80.7-62.1 26.9-19.8 26.9-18.7 1.4-2.8-161.5 123.7-26.9 18z" fill="#0b2a59" stroke="#0b2a59"/><path d="M1048.7 456.3l26.9-18 161.5-123.7 1.3 1.9-26.9 18.7-26.9 19.8-134.5 103.4z" fill="#0b2a59" stroke="#0b2a59"/><path d="M1050.1 458.4l134.5-103.4 26.9-19.8 26.9-18.7 1.4-4.2-26.9 21.5z" fill="#071c3b" stroke="#071c3b"/><path d="M1051.4 457.6l161.5-123.8 26.9-21.5 1.3-.3-26.9 21.8z" fill="#0b2551" stroke="#0b2551"/><path d="M1052.8 456.7l161.4-122.9 26.9-21.8 1.4 8.7-26.9 16-53.8 37.2z" fill="#0c2b5d" stroke="#0c2b5d"/><path d="M1054.1 455.8l107.7-81.9 53.8-37.2 26.9-16 1.3 4-53.8 33.5-26.9 17.8-26.9 18.5-26.9 19.4z" fill="#0c2b5b" stroke="#0c2b5b"/><path d="M1055.5 455l53.8-41.1 26.9-19.4 26.9-18.5 26.9-17.8 53.8-33.5 1.4 1-26.9 19.3-26.9 18-53.9 34.5-53.8 36.1z" fill="#0b2a58" stroke="#0b2a58"/><path d="M1056.8 454.1l26.9-20.5 53.8-36.1 53.9-34.5 26.9-18 26.9-19.3 1.3 1.4-26.9 21.1-26.9 19.6-107.6 69z" fill="#0e2a5c" stroke="#0e2a5c"/><path d="M1058.2 453.4l26.9-16.6 107.6-69 26.9-19.6 26.9-21.1 1.4-.7-53.8 42.8-27 20.4-26.9 17.8-80.7 51.2z" fill="#0d2955" stroke="#0d2955"/><path d="M1059.5 458.6l80.7-51.2 26.9-17.8 27-20.4 53.8-42.8 1.3 3.2-26.9 19.4-53.8 40.8-26.9 21-26.9 18.9-53.8 34.2z" fill="#0a274d" stroke="#0a274d"/><path d="M1060.9 463.9l53.8-34.2 26.9-18.9 53.8-41.7 26.9-20.1 26.9-19.4 1.4 1.7-26.9 18.2-26.9 19.6-107.7 83-26.9 17.1z" fill="#072542" stroke="#072542"/><path d="M1062.2 469.2l26.9-17.1 107.7-83 26.9-19.6 26.9-18.2 1.3-3.7-26.9 21.8-26.9 19.6-80.7 61.8-53.8 42.5z" fill="#062541" stroke="#062541"/><path d="M1063.6 473.3l80.7-63.4 53.8-40.9 26.9-19.6 26.9-21.8 1.4-8.5-26.9 25.7-26.9 24-80.8 61.4z" fill="#05192c" stroke="#05192c"/><path d="M1064.9 472.3l80.7-62.8 53.9-40.7 26.9-24 26.9-25.7 1.3 .6-26.9 21.3-53.8 46.9-26.9 21.2z" fill="#05192f" stroke="#05192f"/><path d="M1066.3 471.4l107.6-83.5 53.8-46.9 26.9-21.3 1.4-1.5-53.8 42.8-53.9 46.3-26.9 21.7z" fill="#061a32" stroke="#061a32"/><path d="M1067.6 470.4l53.8-41.4 26.9-21.7 53.9-46.3 53.8-42.8 1.3-1.4-80.7 65.1-53.8 45.2-26.9 21.6z" fill="#061b35" stroke="#061b35"/><path d="M1069 469.4l26.9-20.7 26.9-21.6 53.8-45.2 82.1-66.2-134.6 109.1-26.9 22.3z" fill="#061b38" stroke="#061b38"/><path d="M1070.3 468.4l26.9-21.3 134.6-109.8 28.2-22.3z" fill="#081e3e" stroke="#081e3e"/><path d="M1071.7 467.4l161.4-131.1 26.9-21.3 1.4-3.6-26.9 23.2z" fill="#081c3c" stroke="#081c3c"/><path d="M1073 466.5l134.5-109.5 27-22.4 26.9-23.2 1.3 4.4-26.9 19.8-26.9 20.8z" fill="#0c2b5e" stroke="#0c2b5e"/><path d="M1074.4 465.5l134.5-109.1 26.9-20.8 26.9-19.8 1.4 .6-26.9 19-27 20.4z" fill="#0b2552" stroke="#0b2552"/><path d="M1075.7 464.5l134.5-108.7 27-20.4 26.9-19 1.3-6.3-26.9 23.2-26.9 22z" fill="#091c40" stroke="#091c40"/><path d="M1077.1 463.5l134.5-108.2 26.9-22 26.9-23.2 1.4 1.4-27 22.1-134.5 107.1z" fill="#0e2960" stroke="#0e2960"/><path d="M1078.4 462.5l107.6-86.4 53.8-42.5 27-22.1 1.3 5.2-53.8 39.3-53.8 40.8z" fill="#102c68" stroke="#102c68"/><path d="M1079.8 461.6l80.7-64.8 53.8-40.8 53.8-39.3 1.4 9.3-53.9 34.3-26.9 17.8-53.8 39.3z" fill="#0e2c64" stroke="#0e2c64"/><path d="M1081.1 460.6l53.8-43.2 53.8-39.3 53.8-35.2 27-16.9 1.3 2.7-26.9 19-80.7 53.4-53.8 37.5z" fill="#0e2b61" stroke="#0e2b61"/><path d="M1082.5 459.6l26.9-21 53.8-37.5 80.7-53.4 26.9-19 1.4 4.2-27 20.2-26.9 18.2-80.7 52.9-53.8 36.5z" fill="#142b6a" stroke="#142b6a"/><path d="M1083.8 460.7l80.7-54.4 53.8-35 26.9-18.2 27-20.2 1.3 7-26.9 17.3-53.8 36.6-80.7 53.4-26.9 18.2z" fill="#132a64" stroke="#132a64"/><path d="M1085.2 465.4l134.5-89.8 26.9-18.4 28.2-18-107.6 76.5-26.9 18.6-53.8 35.8z" fill="#0b274d" stroke="#0b274d"/><path d="M1086.5 470.1l53.8-35.8 107.6-75.8 27-19.3 1.3 1.9-107.6 76.6-53.8 39.2-27 17.9z" fill="#082545" stroke="#082545"/><path d="M1087.8 474.8l27-17.9 80.7-58.5 53.8-37.8 26.9-19.5 1.3 4-80.7 54.9-53.8 38.4-53.8 40.3z" fill="#05233c" stroke="#05233c"/><path d="M1089.2 478.7l53.8-40.3 53.8-38.4 80.7-54.9 1.4 .7-53.8 37.7-53.8 36.9-53.8 38.7-27 20z" fill="#05223a" stroke="#05223a"/><path d="M1090.5 479.1l53.9-39.6 53.8-37.8 53.8-36.8 26.9-19.1 1.3 .9-80.7 56.7-53.8 37.1-53.8 39z" fill="#052138" stroke="#052138"/><path d="M1091.9 479.5l53.8-39 134.5-93.8 1.4 .3-161.4 113.6-27 19.4z" fill="#042138" stroke="#042138"/><path d="M1093.2 480l53.9-38.4 134.5-94.6 1.3 .6-188.3 132.8z" fill="#042037" stroke="#042037"/><path d="M1094.6 480.4l188.3-132.8 1.4 .5-188.4 132.8z" fill="#042037" stroke="#042037"/><path d="M1095.9 480.9l188.4-132.8 1.3-.4-188.3 133.6z" fill="#042037" stroke="#042037"/><path d="M1097.3 481.3l188.3-133.6 1.4 1-188.4 133.1z" fill="#042037" stroke="#042037"/><path d="M1098.6 481.8l188.4-133.1 1.3-.6-188.3 134.1z" fill="#042037" stroke="#042037"/><path d="M1100 482.2l161.4-114.6 26.9-19.5 1.4 1.3-188.4 133.2z" fill="#042036" stroke="#042036"/><path d="M1101.3 482.6l189.7-133.9-188.3 134.2z" fill="#042036" stroke="#042036"/><path d="M1102.7 482.9l161.4-114.6 26.9-19.6 1.4 .7-188.4 133.8z" fill="#042036" stroke="#042036"/><path d="M1104 483.2l188.4-133.8 1.3-.1-188.3 134.2z" fill="#042036" stroke="#042036"/><path d="M1105.4 483.5l161.4-114.5 26.9-19.7 1.4 .4-188.4 134.2z" fill="#042036" stroke="#042036"/><path d="M1106.7 483.9l161.5-114.6 26.9-19.6 1.3 .4-188.3 134.1z" fill="#042036" stroke="#042036"/><path d="M1108.1 484.2l161.4-114.5 26.9-19.6 1.4 .9-188.4 133.5z" fill="#042036" stroke="#042036"/><path d="M1109.4 484.5l188.4-133.5 1.3 .6-188.3 133.2z" fill="#042036" stroke="#042036"/><path d="M1110.8 484.8l188.3-133.2 1.4-.2-188.4 133.8z" fill="#042036" stroke="#042036"/><path d="M1112.1 485.2l188.4-133.8 1.3 .9-188.3 133.2z" fill="#042036" stroke="#042036"/><path d="M1113.5 485.5l188.3-133.2 1.4 .3-188.4 133.2z" fill="#042036" stroke="#042036"/><path d="M1114.8 485.8l188.4-133.2 1.3 0-188.3 133.5z" fill="#042036" stroke="#042036"/><path d="M1116.2 486.1l188.3-133.5 1.4-.2-188.4 133.7z" fill="#042036" stroke="#042036"/><path d="M1117.5 486.1l26.9-19 26.9-19 26.9-19.1 27-19 26.9-19 26.9-19.3 26.9-19.3 1.3-.8-26.9 19.2-26.9 19.3-26.9 19.1-26.9 19-26.9 19-26.9 19-26.9 19.1z" fill="#03192b" stroke="#03192b"/><path d="M1118.9 485.3l188.3-133.7 1.4-4-26.9 21.4-26.9 20.2z" fill="#031626" stroke="#031626"/><path d="M1120.2 484.4l134.6-95.2 26.9-20.2 26.9-21.4 1.3 1.1-53.8 39.7z" fill="#051e34" stroke="#051e34"/><path d="M1121.6 483.6l134.5-95.2 53.8-39.7 1.4 .7z" fill="#051e34" stroke="#051e34"/><path d="M1122.9 482.7l188.4-133.3 1.3-.5-26.9 18.5z" fill="#051c32" stroke="#051c32"/><path d="M1124.3 481.8l161.4-114.4 26.9-18.5 1.4-4.9-26.9 21.4-26.9 20.4z" fill="#04182b" stroke="#04182b"/><path d="M1125.6 481l134.6-95.2 26.9-20.4 26.9-21.4 1.3 1.7-53.8 39.2z" fill="#06223e" stroke="#06223e"/><path d="M1127 480.1l134.5-95.2 53.8-39.2 1.4-2.2-26.9 21.2-26.9 20.3-134.6 95.2z" fill="#072544" stroke="#072544"/><path d="M1128.3 480.2l134.6-95.2 26.9-20.3 26.9-21.2 1.3 2.5-53.8 40.4-134.5 95.3z" fill="#072646" stroke="#072646"/><path d="M1129.7 481.7l134.5-95.3 53.8-40.4 1.4 .8-26.9 20-26.9 20.9-134.6 95.4z" fill="#072644" stroke="#072644"/><path d="M1131 483.1l134.6-95.4 26.9-20.9 26.9-20 1.3-2.4-53.8 44.6-134.5 95.5z" fill="#072542" stroke="#072542"/><path d="M1132.4 484.5l134.5-95.5 53.8-44.6 1.4-2.2-26.9 24.5-27 23.6-134.5 95.6z" fill="#072542" stroke="#072542"/><path d="M1133.7 485.9l107.6-76.1 26.9-19.5 27-23.6 26.9-24.5 1.3 2-26.9 23.2-26.9 24.2-134.5 95.7z" fill="#062440" stroke="#062440"/><path d="M1270.1 391.2l53.3-47 1.4-6.2-45.8 48.5-7.6 9z" fill="#051a30" stroke="#051a30"/><path d="M1272.7 394.1l52.1-56.1 1.3-3-44.6 50.6-7.5 9.3z" fill="#061b33" stroke="#061b33"/><path d="M1275.3 393.4l52.2-59.7-43.6 51-7.2 9.6z" fill="#082548" stroke="#082548"/><path d="M1278 392.7l28.2-34.8 21.3-24.2 1.3-.4-35.4 41.9-14.1 18.5z" fill="#092951" stroke="#092951"/><path d="M1280.6 392.1l20.7-26.5 27.5-32.3 1.4 4.9-34.5 36.9-6.9 8.4-6.9 9.6z" fill="#09284f" stroke="#09284f"/><path d="M1283.2 391.5l6.7-9.4 26.8-30 13.5-13.9 1.3-4.3-33.5 40.3-13.4 18.4z" fill="#061a33" stroke="#061a33"/><path d="M1285.8 390.9l6.6-9.4 40.5-49.3-32.7 41.2-13 18.6z" fill="#09274f" stroke="#09274f"/><path d="M1288.5 390.2l12.7-18 31.7-40 1.3 6.2-31.7 35.8-6.3 7.9-6.4 9.3z" fill="#0e295b" stroke="#0e295b"/><path d="M1291.1 389.7l6.2-9 36.9-42.3 1.4 2.3-30.8 34.1-6.2 7.6-6.1 8.4z" fill="#08284c" stroke="#08284c"/><path d="M1293.7 389.2l6-8.2 35.9-40.3 1.3 3.6-29.9 31.4-11.9 14.5z" fill="#082749" stroke="#082749"/><path d="M1296.4 388.7l5.8-7.4 34.7-37 1.4 6.1-34.8 33.1-5.8 6.1z" fill="#0f2857" stroke="#0f2857"/><path d="M1299 388.4l39.3-38 1.3 10.9-39.3 27.8z" fill="#112659" stroke="#112659"/></g>
<line x1="827.5" y1="417.7" x2="827.5" y2="153" stroke="#adadad" stroke-width="2.8"/>
<path d="M827.5 417.2l-9.2 -2.2M827.5 364.4l-9.2 -2.2M827.5 311.5l-9.2 -2.2M827.5 258.7l-9.2 -2.2M827.5 205.8l-9.2 -2.2M827.5 153l-9.2 -2.2M827.5 417.2L1151.2 494.5L1339.6 361.3M893.8 433l-5.7 4M1011.4 461.1l-5.7 4M1128.9 489.2l-5.7 4M1203.8 457.4l5.8 1.4M1262.2 416l5.8 1.4M1320.5 374.8l5.8 1.4" stroke="#333" stroke-width="1.2" fill="none"/>
<text x="804.5" y="424.2" font-size="31" text-anchor="end" >0</text>
<text x="804.5" y="374.2" font-size="31" text-anchor="end" >0.2</text>
<text x="804.5" y="322.5" font-size="31" text-anchor="end" >0.4</text>
<text x="804.5" y="272" font-size="31" text-anchor="end" >0.6</text>
<text x="804.5" y="221.7" font-size="31" text-anchor="end" >0.8</text>
<text x="804.5" y="169.9" font-size="31" text-anchor="end" >1.0</text>
<text x="882" y="479.1" font-size="30.5" text-anchor="middle" >5</text>
<text x="992.5" y="501.6" font-size="30.5" text-anchor="middle" >10</text>
<text x="1095.5" y="524" font-size="30.5" text-anchor="middle" >15</text>
<text x="778.5" y="43.8" font-size="52" >c.)</text>
</g>
<g id="pe">
<g>
<path d="M1418 383.2L1604.8 251.8L1929.5 328.8M1418 331L1604.8 199.5L1929.5 276.5M1418 278.8L1604.8 147.2L1929.5 224.2M1418 226.5L1604.8 95L1929.5 172M1418 174.2L1604.8 42.8L1929.5 119.8M1418 435.5L1604.8 304L1929.5 381M1671.4 319.8L1671.4 58.6M1671.4 319.8L1484.7 451.3M1788.4 347.5L1788.4 86.3M1788.4 347.5L1601.7 479M1905.4 375.3L1905.4 114M1905.4 375.3L1718.7 506.8M1469.9 398.9L1469.9 137.7M1469.9 398.9L1794.7 475.9M1528.7 357.5L1528.7 96.3M1528.7 357.5L1853.5 434.5M1587.6 316.1L1587.6 54.8M1587.6 316.1L1912.3 393.1" stroke="#d9d9d9" stroke-width="1.1" fill="none"/>
</g>
<path d="M1418 430.4l8.1 1.6 2 1 6.1 1.8 2.1 1.1 6.1 2 6 2.5 2.1 .6 2 1.1 2 .5 2.1 1.1 4 .3 2.1-.4 2 .3 2-.3 4.1 .4 2-.4 4.1 1.2 2 0 10.1 2.5 6.1 2.5 2.1 1.2 6 2.4 2.1 1.1 4 .2 2.1 .5 2-.4 4.1 .2 2 .6 2-.1 10.2 2.1 4 .5 8.1 2.8 2.1 1.1 4 1 2.1 1.1 2 .2 6.1 2.6 10.1 4.7 2.1 .1 4-.8 2 .3 2.1-.6 6.1 1.7 2 .1 12.2 3.2 2 1.2 6.1 2.1 4.1 1.9 2-.1 4 .8 4.1 .2 10.1 1.8 2.1 .8 2 .2 10.2 3.6 14.2 2.9 8.1 1.1 4 .9 4.1 1.9 2 .4 12.2 4.1 4.1 .4 2 .6 8.1 .9 8.1 2 8.2 3.1 12.1 3.5 2.1 1 6.1 1.6 186.7-131.5-2-2.2-4.1-2.8-2-2.4-2-.9-2.1-.4-2 .8-4.1 .2-2 1.5-2-.6-2.1 .4-2-.1-2-1.3-2-.3-2.1 .4-2-.8-2-1.3-2.1-.5-2 .1-2-.8-2.1 .4-2-1.4-2-.4-2 .1-2.1-1.5-2-.3-2-.9-2.1-.4-2 .2-2-1.2-2 .4-2.1-1.8-2-1.1-2 .1-2.1-2.9-4-3.7-2.1-2.4-2-.8-2-1.9-2-.7-8.2 .7-2 1.2-2 .1-2.1-.9-4-1.3-2-.3-2.1 1.3-2-.7-2 0-6.1-1-2.1-1.1-2 0-2 .5-2 0-2.1-1.2-2 1.1-2-.6-2.1-2-2-.5-2-1-2 .3-2.1-2.1-4-.1-2.1-.8-2-1.5-2-.8-2.1-1.5-2 .1-4-2.3-2.1-1.8-2 .6-2-2.4-2.1 3-2 4-2 1.3-4.1-1-2-.8-2-.1-2.1-1.5-4 0-2.1-1.7-2 .7-2-2.5-2-.9-2.1 .3-2-2.3-4.1-1.5-2-2.3-4.1-2-2-.2-2-1.1-4.1 .3-2-1-2-.4-2.1 1.3-2-1.6-2-.3-2.1-.8-2 1.2-2-1.6-2 0-2.1-.4-2-1-2 .5-2.1-.5-2 .2-2-1.5-4.1 0-4-1.7-2.1-.5-2-1.6-2-.2-2.1-1.1-2 .8-2-1.2-2-.6-2.1 1.1-2-1.2-2-.3-2.1 1.3-2-1.3-2 1.5-4.1-.5-2-1.3-2 .9-2.1-1.9-2 .1-4.1-1.1-2-1.8-2-.1-2.1-1.2-2-.1-2-2.3-2-.9-4.1-.2-2-3.4-8.2-7.9z" fill="#05223b"/><g stroke-width="0.9" stroke-linejoin="round"><path d="M1418 430.4l186.8-139.5 1.6 1.5-186.8 138.3z" fill="#072746" stroke="#072746"/><path d="M1419.6 430.7l186.8-138.3 1.6 1.6-186.8 137z" fill="#072645" stroke="#072645"/><path d="M1421.2 431l186.8-137 1.6 1.4-186.7 135.9z" fill="#072644" stroke="#072644"/><path d="M1422.9 431.3l186.7-135.9 1.6 2.1-186.7 134.3z" fill="#072543" stroke="#072543"/><path d="M1424.5 431.8l186.7-134.3 1.7 1.3-186.8 133.2z" fill="#062542" stroke="#062542"/><path d="M1426.1 432l186.8-133.2 1.6 3.2-186.8 130.8z" fill="#062440" stroke="#062440"/><path d="M1427.7 432.8l186.8-130.8 1.6 0-186.7 131.2z" fill="#06243f" stroke="#06243f"/><path d="M1429.4 433.2l186.7-131.2 1.6-.2-186.7 131.7z" fill="#06243f" stroke="#06243f"/><path d="M1431 433.5l186.7-131.7 1.7 1.3-186.8 131.2z" fill="#06243f" stroke="#06243f"/><path d="M1432.6 434.3l186.8-131.2 1.6 .2-186.8 131.5z" fill="#06233e" stroke="#06233e"/><path d="M1434.2 434.8l186.8-131.5 1.6 2.1-186.7 130.4z" fill="#06233d" stroke="#06233d"/><path d="M1435.9 435.8l186.7-130.4 1.6 0-186.7 130.8z" fill="#05233c" stroke="#05233c"/><path d="M1437.5 436.2l186.7-130.8 1.7 1-186.8 130.5z" fill="#05233c" stroke="#05233c"/><path d="M1439.1 436.9l186.8-130.5 1.6 .1-186.8 130.8z" fill="#05223c" stroke="#05223c"/><path d="M1440.7 437.3l186.8-130.8 1.6 .5-186.7 130.9z" fill="#05223c" stroke="#05223c"/><path d="M1442.4 437.9l186.7-130.9 1.6 1.7-186.7 130.1z" fill="#05223b" stroke="#05223b"/><path d="M1444 438.8l186.7-130.1 1.7 .2-186.8 130.4z" fill="#05223a" stroke="#05223a"/><path d="M1445.6 439.3l186.8-130.4 1.6 .5-186.8 130.5z" fill="#05223a" stroke="#05223a"/><path d="M1447.2 439.9l186.8-130.5 1.6-.5-186.7 131.3z" fill="#05223a" stroke="#05223a"/><path d="M1448.9 440.2l186.7-131.3 1.6 .9-186.7 131.2z" fill="#05223a" stroke="#05223a"/><path d="M1450.5 441l186.7-131.2 1.6 1.7-186.7 130.4z" fill="#052139" stroke="#052139"/><path d="M1452.1 441.9l186.7-130.4 1.7-.7-186.8 131.4z" fill="#042138" stroke="#042138"/><path d="M1453.7 442.2l186.8-131.4 1.6 1.3-186.8 131.1z" fill="#052138" stroke="#052138"/><path d="M1455.3 443.2l186.8-131.1 1.6-.8-186.7 132.3z" fill="#042138" stroke="#042138"/><path d="M1457 443.6l186.7-132.3 1.6 1-186.7 131.6z" fill="#052139" stroke="#052139"/><path d="M1458.6 443.9l186.7-131.6 1.7 .3-186.8 131.4z" fill="#052138" stroke="#052138"/><path d="M1460.2 444l186.8-131.4 1.6-1.5-186.8 132.5z" fill="#041a2d" stroke="#041a2d"/><path d="M1461.8 443.6l186.8-132.5 1.6 1.3-186.7 131.5z" fill="#05223b" stroke="#05223b"/><path d="M1463.5 443.9l186.7-131.5 1.6 .1-186.7 131.4z" fill="#05223b" stroke="#05223b"/><path d="M1465.1 443.9l188.4-132.8-186.8 132.5z" fill="#041c30" stroke="#041c30"/><path d="M1466.7 443.6l186.8-132.5 1.6 .3-186.8 132.2z" fill="#06233d" stroke="#06233d"/><path d="M1468.3 443.6l186.8-132.2 1.6 1.2-186.7 131.4z" fill="#06233d" stroke="#06233d"/><path d="M1470 444l188.3-132.6-186.7 132.2z" fill="#051e34" stroke="#051e34"/><path d="M1471.6 443.6l186.7-132.2 1.7 .9-186.8 131.6z" fill="#06243f" stroke="#06243f"/><path d="M1473.2 443.9l186.8-131.6 1.6-.2-186.8 132z" fill="#06243f" stroke="#06243f"/><path d="M1474.8 444.1l186.8-132 1.6 1.1-186.7 131.5z" fill="#06243f" stroke="#06243f"/><path d="M1476.5 444.7l188.3-132.4-186.7 132.4z" fill="#05213a" stroke="#05213a"/><path d="M1478.1 444.7l186.7-132.4 1.7 .9-186.8 131.9z" fill="#062440" stroke="#062440"/><path d="M1479.7 445.1l186.8-131.9 1.6 0-186.8 132.1z" fill="#062440" stroke="#062440"/><path d="M1481.3 445.3l186.8-132.1 1.6 .6-186.7 131.9z" fill="#062440" stroke="#062440"/><path d="M1483 445.7l186.7-131.9 1.6 1.5-186.7 131z" fill="#06243f" stroke="#06243f"/><path d="M1484.6 446.3l186.7-131 1.6 .4-186.7 130.9z" fill="#06243e" stroke="#06243e"/><path d="M1486.2 446.6l186.7-130.9 1.7 .8-186.8 130.6z" fill="#06243e" stroke="#06243e"/><path d="M1487.8 447.1l186.8-130.6 1.6 .5-186.8 130.4z" fill="#06233e" stroke="#06233e"/><path d="M1489.4 447.4l186.8-130.4 1.6 .6-186.7 130.6z" fill="#06233e" stroke="#06233e"/><path d="M1491.1 448.2l186.7-130.6 1.6 0-186.7 131.2z" fill="#06233e" stroke="#06233e"/><path d="M1492.7 448.8l186.7-131.2 1.7-.2-186.8 132z" fill="#06233e" stroke="#06233e"/><path d="M1494.3 449.4l186.8-132 1.6 1.5-186.8 131.6z" fill="#06233d" stroke="#06233d"/><path d="M1495.9 450.5l188.4-132.5-186.7 132.9z" fill="#05223b" stroke="#05223b"/><path d="M1497.6 450.9l186.7-132.9 1.6 .9-186.7 132.9z" fill="#05233d" stroke="#05233d"/><path d="M1499.2 451.8l186.7-132.9 1.7 .4-186.8 133.3z" fill="#05233c" stroke="#05233c"/><path d="M1500.8 452.6l186.8-133.3 1.6-.6-186.8 134.4z" fill="#05233d" stroke="#05233d"/><path d="M1502.4 453.1l186.8-134.4 1.6 1-186.7 134.3z" fill="#05233c" stroke="#05233c"/><path d="M1504.1 454l186.7-134.3 1.6 .6-186.7 134.5z" fill="#05223c" stroke="#05223c"/><path d="M1505.7 454.8l186.7-134.5 1.7 0-186.8 134.5z" fill="#05223c" stroke="#05223c"/><path d="M1507.3 454.8l186.8-134.5 1.6 0-186.8 134.4z" fill="#05233c" stroke="#05233c"/><path d="M1508.9 454.7l186.8-134.4 1.6 .3-186.7 134.2z" fill="#05233d" stroke="#05233d"/><path d="M1510.6 454.8l186.7-134.2 1.6 1.5-186.7 133.1z" fill="#05233d" stroke="#05233d"/><path d="M1512.2 455.2l186.7-133.1 1.7 .4-186.8 132.8z" fill="#05233c" stroke="#05233c"/><path d="M1513.8 455.3l188.4-133.8-186.8 133.4z" fill="#051e35" stroke="#051e35"/><path d="M1515.4 454.9l186.8-133.4 1.6 .2-186.8 133.3z" fill="#06243f" stroke="#06243f"/><path d="M1517 455l186.8-133.3 1.6 1.7-186.7 132z" fill="#06233e" stroke="#06233e"/><path d="M1518.7 455.4l188.3-133.4-186.7 133.3z" fill="#051e34" stroke="#051e34"/><path d="M1520.3 455.3l186.7-133.3 1.7 .8-186.8 133z" fill="#06243f" stroke="#06243f"/><path d="M1521.9 455.8l186.8-133 1.6-.3-186.8 133.5z" fill="#06243f" stroke="#06243f"/><path d="M1523.5 456l186.8-133.5 1.6 1-186.7 133.1z" fill="#062440" stroke="#062440"/><path d="M1525.2 456.6l186.7-133.1 1.6 0-186.7 133.3z" fill="#06243f" stroke="#06243f"/><path d="M1526.8 456.8l186.7-133.3 1.7-.3-186.8 133.8z" fill="#062440" stroke="#062440"/><path d="M1528.4 457l188.4-135-186.8 134.9z" fill="#062038" stroke="#062038"/><path d="M1530 456.9l186.8-134.9 1.6 2.3-186.7 133.3z" fill="#062541" stroke="#062541"/><path d="M1531.7 457.6l186.7-133.3 1.6 0-186.7 133.3z" fill="#062541" stroke="#062541"/><path d="M1533.3 457.6l186.7-133.3 1.7 .6-186.8 132.9z" fill="#062541" stroke="#062541"/><path d="M1534.9 457.8l186.8-132.9 1.6 .9-186.8 132.5z" fill="#062541" stroke="#062541"/><path d="M1536.5 458.3l186.8-132.5 1.6 2.1-186.7 131.3z" fill="#06243f" stroke="#06243f"/><path d="M1538.2 459.2l186.7-131.3 1.6 .9-186.7 130.9z" fill="#06233e" stroke="#06233e"/><path d="M1539.8 459.7l186.7-130.9 1.7 .6-186.8 130.8z" fill="#06233e" stroke="#06233e"/><path d="M1541.4 460.2l186.8-130.8 1.6 .5-186.8 130.7z" fill="#06233d" stroke="#06233d"/><path d="M1543 460.6l186.8-130.7 1.6 2.1-186.7 129.6z" fill="#05233c" stroke="#05233c"/><path d="M1544.7 461.6l186.7-129.6 1.6-.4-186.7 130.2z" fill="#05223c" stroke="#05223c"/><path d="M1546.3 461.8l186.7-130.2 1.7 .7-186.8 130z" fill="#05233c" stroke="#05233c"/><path d="M1547.9 462.3l186.8-130 1.6 .7-186.8 129.8z" fill="#05223c" stroke="#05223c"/><path d="M1549.5 462.8l186.8-129.8 1.6 2.3-186.8 128.5z" fill="#05223a" stroke="#05223a"/><path d="M1551.1 463.8l188.4-129.4-186.7 129.5z" fill="#051f36" stroke="#051f36"/><path d="M1552.8 463.9l186.7-129.5 1.6 1.9-186.7 128.6z" fill="#052139" stroke="#052139"/><path d="M1554.4 464.9l155.6-106.8 31.1-21.8 1.7 .4-186.8 128.8z" fill="#052138" stroke="#052138"/><path d="M1556 465.5l186.8-128.8 1.6-.1-186.8 129.4z" fill="#052139" stroke="#052139"/><path d="M1557.6 466l186.8-129.4 1.6-.1-186.7 130.1z" fill="#052139" stroke="#052139"/><path d="M1559.3 466.6l186.7-130.1 1.6 1.4-186.7 129.7z" fill="#042138" stroke="#042138"/><path d="M1560.9 467.6l186.7-129.7 1.7-.7-186.8 130.8z" fill="#042138" stroke="#042138"/><path d="M1562.5 468l186.8-130.8 1.6 1.1-186.8 130.6z" fill="#042138" stroke="#042138"/><path d="M1564.1 468.9l186.8-130.6 1.6 .7-186.7 130.7z" fill="#042037" stroke="#042037"/><path d="M1565.8 469.7l186.7-130.7 1.6 .4-186.7 131z" fill="#042037" stroke="#042037"/><path d="M1567.4 470.4l186.7-131 1.7 .4-186.8 131.4z" fill="#042036" stroke="#042036"/><path d="M1569 471.2l186.8-131.4 1.6 .4-186.8 131.5z" fill="#042036" stroke="#042036"/><path d="M1570.6 471.7l188.4-132.9-186.7 132.9z" fill="#041c2f" stroke="#041c2f"/><path d="M1572.3 471.7l186.7-132.9 1.6-3.4-186.7 135.9z" fill="#031626" stroke="#031626"/><path d="M1573.9 471.3l186.7-135.9 1.7-3-186.8 138.6z" fill="#041728" stroke="#041728"/><path d="M1575.5 471l186.8-138.6 1.6 1.3-186.8 137.6z" fill="#06243f" stroke="#06243f"/><path d="M1577.1 471.3l186.8-137.6 1.6 .9-186.7 136.6z" fill="#06243f" stroke="#06243f"/><path d="M1578.8 471.2l188.3-137.6-186.7 137z" fill="#051e34" stroke="#051e34"/><path d="M1580.4 470.6l186.7-137 1.6 1.6-186.7 136z" fill="#062440" stroke="#062440"/><path d="M1582 471.2l186.7-136 1.7 1-186.8 135.4z" fill="#06243f" stroke="#06243f"/><path d="M1583.6 471.6l186.8-135.4 1.6 1-186.8 134.8z" fill="#06243f" stroke="#06243f"/><path d="M1585.2 472l186.8-134.8 1.6 .1-186.7 134.8z" fill="#06243f" stroke="#06243f"/><path d="M1586.9 472.1l186.7-134.8 1.6 .3-186.7 134.8z" fill="#06243f" stroke="#06243f"/><path d="M1588.5 472.4l186.7-134.8 1.7 1.3-186.8 134z" fill="#06243f" stroke="#06243f"/><path d="M1590.1 472.9l186.8-134 1.6 .7-186.8 133.6z" fill="#06243e" stroke="#06243e"/><path d="M1591.7 473.2l186.8-133.6 1.6 1.3-186.7 132.9z" fill="#06233e" stroke="#06233e"/><path d="M1593.4 473.8l188.3-133.8-186.7 133.6z" fill="#052038" stroke="#052038"/><path d="M1595 473.6l186.7-133.6 1.7 2.2-186.8 132.2z" fill="#06233e" stroke="#06233e"/><path d="M1596.6 474.4l186.8-132.2 1.6-.2-186.8 132.8z" fill="#05233d" stroke="#05233d"/><path d="M1598.2 474.8l186.8-132.8 1.6 0-186.7 133.3z" fill="#06233d" stroke="#06233d"/><path d="M1599.9 475.3l186.7-133.3 1.6 .6-186.7 133.4z" fill="#06233d" stroke="#06233d"/><path d="M1601.5 476l186.7-133.4 1.7 2-186.8 132.4z" fill="#05233c" stroke="#05233c"/><path d="M1603.1 477l186.8-132.4 1.6-.5-186.8 133.2z" fill="#05223c" stroke="#05223c"/><path d="M1604.7 477.3l186.8-133.2 1.6 .2-186.7 133.5z" fill="#05233c" stroke="#05233c"/><path d="M1606.4 477.8l186.7-133.5 1.6 1-186.7 133.3z" fill="#05223c" stroke="#05223c"/><path d="M1608 478.6l186.7-133.3 1.7 1.8-186.8 132.5z" fill="#05223a" stroke="#05223a"/><path d="M1609.6 479.6l186.8-132.5 1.6 .1-186.8 132.8z" fill="#052139" stroke="#052139"/><path d="M1611.2 480l186.8-132.8 1.6 1-186.8 132.6z" fill="#052139" stroke="#052139"/><path d="M1612.8 480.8l188.4-133.7-186.7 133.6z" fill="#041d32" stroke="#041d32"/><path d="M1614.5 480.7l186.7-133.6 1.6 1.1-186.7 133z" fill="#05223a" stroke="#05223a"/><path d="M1616.1 481.2l186.7-133 1.7-.1-186.8 133.2z" fill="#05223a" stroke="#05223a"/><path d="M1617.7 481.3l186.8-133.2 1.6-.8-186.8 133.9z" fill="#051f36" stroke="#051f36"/><path d="M1619.3 481.2l186.8-133.9 1.6 .5-186.7 133.7z" fill="#05223c" stroke="#05223c"/><path d="M1621 481.5l186.7-133.7 1.6-.1-186.7 134z" fill="#05233c" stroke="#05233c"/><path d="M1622.6 481.7l186.7-134 1.7 1.1-186.8 133.4z" fill="#05233c" stroke="#05233c"/><path d="M1624.2 482.2l186.8-133.4 1.6 .2-186.8 133.3z" fill="#05223c" stroke="#05223c"/><path d="M1625.8 482.3l186.8-133.3 1.6-.3-186.7 133.7z" fill="#05233c" stroke="#05233c"/><path d="M1627.5 482.4l186.7-133.7 1.6 .6-186.7 133.5z" fill="#05233d" stroke="#05233d"/><path d="M1629.1 482.8l186.7-133.5 1.7 .6-186.8 133.2z" fill="#05233d" stroke="#05233d"/><path d="M1630.7 483.1l186.8-133.2 1.6-.1-186.8 133.4z" fill="#05233d" stroke="#05233d"/><path d="M1632.3 483.2l186.8-133.4 1.6 .7-186.7 133.4z" fill="#05233d" stroke="#05233d"/><path d="M1634 483.9l186.7-133.4 1.6-.3-186.7 134.1z" fill="#06233d" stroke="#06233d"/><path d="M1635.6 484.3l188.4-135-186.8 135.2z" fill="#05213a" stroke="#05213a"/><path d="M1637.2 484.5l186.8-135.2 1.6 .2-186.8 135.5z" fill="#06243f" stroke="#06243f"/><path d="M1638.8 485l186.8-135.5 1.6 .8-186.7 135.4z" fill="#06243e" stroke="#06243e"/><path d="M1640.5 485.7l186.7-135.4 1.6 .4-186.7 135.6z" fill="#06233e" stroke="#06233e"/><path d="M1642.1 486.3l186.7-135.6 1.7 .5-186.8 135.7z" fill="#06233e" stroke="#06233e"/><path d="M1643.7 486.9l186.8-135.7 1.6 .6-186.8 135.7z" fill="#06233d" stroke="#06233d"/><path d="M1645.3 487.5l186.8-135.7 1.6-.1-186.8 136.2z" fill="#06233d" stroke="#06233d"/><path d="M1646.9 487.9l188.4-137.3-186.7 137.6z" fill="#05213a" stroke="#05213a"/><path d="M1648.6 488.2l186.7-137.6 1.6-.3-186.7 138.4z" fill="#06243f" stroke="#06243f"/><path d="M1650.2 488.7l186.7-138.4 1.7 .7-186.8 138.4z" fill="#06243f" stroke="#06243f"/><path d="M1651.8 489.4l188.4-139.3-186.8 139.4z" fill="#06213a" stroke="#06213a"/><path d="M1653.4 489.5l186.8-139.4 1.6-.2-186.7 139.8z" fill="#062541" stroke="#062541"/><path d="M1655.1 489.7l186.7-139.8 1.6 0-186.7 140.1z" fill="#062541" stroke="#062541"/><path d="M1656.7 490l186.7-140.1 1.7-.1-186.8 140.5z" fill="#072542" stroke="#072542"/><path d="M1658.3 490.3l186.8-140.5 1.6 .8-186.8 139.9z" fill="#072542" stroke="#072542"/><path d="M1659.9 490.5l186.8-139.9 1.6 1.8-186.7 138.6z" fill="#062541" stroke="#062541"/><path d="M1661.6 491l186.7-138.6 1.6 .6-186.7 138z" fill="#062440" stroke="#062440"/><path d="M1663.2 491l186.7-138 1.7 1.9-186.8 136.6z" fill="#062440" stroke="#062440"/><path d="M1664.8 491.5l186.8-136.6 1.6 1.2-186.8 135.6z" fill="#06243f" stroke="#06243f"/><path d="M1666.4 491.7l186.8-135.6 1.6 1.3-186.7 134.4z" fill="#06243e" stroke="#06243e"/><path d="M1668.1 491.8l186.7-134.4 1.6 1.9-186.7 132.8z" fill="#06233d" stroke="#06233d"/><path d="M1669.7 492.1l186.7-132.8 1.7 2.5-186.8 130.7z" fill="#05223c" stroke="#05223c"/><path d="M1671.3 492.5l186.8-130.7 1.6 0-186.8 131z" fill="#05223b" stroke="#05223b"/><path d="M1672.9 492.8l186.8-131 1.6 1.1-186.7 130.6z" fill="#05223b" stroke="#05223b"/><path d="M1674.6 493.5l186.7-130.6 1.6 .6-186.7 130.6z" fill="#05223a" stroke="#05223a"/><path d="M1676.2 494.1l186.7-130.6 1.6 1.5-186.7 129.9z" fill="#052139" stroke="#052139"/><path d="M1677.8 494.9l186.8-129.9 1.6-.5-186.8 130.7z" fill="#052139" stroke="#052139"/><path d="M1679.4 495.2l186.8-130.7 1.6 1-186.8 130.4z" fill="#052139" stroke="#052139"/><path d="M1681 495.9l186.8-130.4 1.6-.2-186.7 130.9z" fill="#052139" stroke="#052139"/><path d="M1682.7 496.2l186.7-130.9 1.6 .8-186.7 130.8z" fill="#052139" stroke="#052139"/><path d="M1684.3 496.9l186.7-130.8 1.7-.1-186.8 131.3z" fill="#052139" stroke="#052139"/><path d="M1685.9 497.3l186.8-131.3 1.6 .8-186.8 131.1z" fill="#052139" stroke="#052139"/><path d="M1687.5 497.9l186.8-131.1 1.6 .2-186.7 131.4z" fill="#052138" stroke="#052138"/><path d="M1689.2 498.4l186.7-131.4 1.6 1.3-186.7 130.9z" fill="#042138" stroke="#042138"/><path d="M1690.8 499.2l186.7-130.9 1.7-.1-186.8 131.1z" fill="#042138" stroke="#042138"/><path d="M1692.4 499.3l186.8-131.1 1.6 .4-186.8 130.9z" fill="#042138" stroke="#042138"/><path d="M1694 499.5l186.8-130.9 1.6 .3-186.7 130.8z" fill="#042138" stroke="#042138"/><path d="M1695.7 499.7l186.7-130.8 1.6 1.3-186.7 130z" fill="#042138" stroke="#042138"/><path d="M1697.3 500.2l186.7-130 1.7-.5-186.8 130.5z" fill="#042036" stroke="#042036"/><path d="M1698.9 500.2l186.8-130.5 1.6 .4-186.8 130.4z" fill="#052139" stroke="#052139"/><path d="M1700.5 500.5l186.8-130.4 1.6 .7-186.7 130z" fill="#052139" stroke="#052139"/><path d="M1702.2 500.8l186.7-130 1.6-.2-186.7 130.3z" fill="#052139" stroke="#052139"/><path d="M1703.8 500.9l186.7-130.3 1.7 .4-186.8 130.2z" fill="#052139" stroke="#052139"/><path d="M1705.4 501.2l186.8-130.2 1.6 1.2-186.8 129.5z" fill="#052139" stroke="#052139"/><path d="M1707 501.7l186.8-129.5 1.6 .4-186.7 129.3z" fill="#052138" stroke="#052138"/><path d="M1708.7 501.9l186.7-129.3 1.6 .7-186.7 129.1z" fill="#042138" stroke="#042138"/><path d="M1710.3 502.4l186.7-129.1 1.6-.5-186.7 129.8z" fill="#042037" stroke="#042037"/><path d="M1711.9 502.6l186.7-129.8 1.7 .2-186.8 130z" fill="#052139" stroke="#052139"/><path d="M1713.5 503l186.8-130 1.6 1.2-186.8 129.6z" fill="#052139" stroke="#052139"/><path d="M1715.1 503.8l186.8-129.6 1.6 0-186.7 130.1z" fill="#042138" stroke="#042138"/><path d="M1716.8 504.3l186.7-130.1 1.6 .4-186.7 130.2z" fill="#052138" stroke="#052138"/><path d="M1718.4 504.8l186.7-130.2 1.7-.3-186.8 131z" fill="#052139" stroke="#052139"/><path d="M1720 505.3l186.8-131 1.6 .7-186.8 131.2z" fill="#052138" stroke="#052138"/><path d="M1721.6 506.2l188.4-132.7-186.7 132.9z" fill="#041d32" stroke="#041d32"/><path d="M1723.3 506.4l186.7-132.9 1.6 .1-186.7 133.4z" fill="#05223a" stroke="#05223a"/><path d="M1724.9 507l186.7-133.4 1.7-.5-186.8 134.4z" fill="#05223a" stroke="#05223a"/><path d="M1726.5 507.5l186.8-134.4 1.6 .1-186.8 134.9z" fill="#05223b" stroke="#05223b"/><path d="M1728.1 508.1l186.8-134.9 1.6-.7-186.7 136z" fill="#05223b" stroke="#05223b"/><path d="M1729.8 508.5l186.7-136 1.6-.4-186.7 136.8z" fill="#05233c" stroke="#05233c"/><path d="M1731.4 508.9l186.7-136.8 1.7 1-186.8 136.4z" fill="#05233c" stroke="#05233c"/><path d="M1733 509.5l186.8-136.4 1.6 .5-186.8 136.3z" fill="#05223c" stroke="#05223c"/><path d="M1734.6 509.9l186.8-136.3 1.6 2-186.7 135.2z" fill="#05223a" stroke="#05223a"/><path d="M1736.3 510.8l186.7-135.2 1.6 1.2-186.7 134.4z" fill="#052139" stroke="#052139"/><path d="M1737.9 511.2l186.7-134.4 1.7 .9-186.8 133.9z" fill="#052139" stroke="#052139"/><path d="M1739.5 511.6l186.8-133.9 1.6 1.1-186.8 133.1z" fill="#042138" stroke="#042138"/><path d="M1741.1 511.9l186.8-133.1 1.6 2.2-186.7 131.5z" fill="#042037" stroke="#042037"/></g>
<line x1="1418" y1="436" x2="1418" y2="174.2" stroke="#b0b0b0" stroke-width="2.5"/>
<path d="M1418 435.5l-9.2 -2.2M1418 383.2l-9.2 -2.2M1418 331l-9.2 -2.2M1418 278.8l-9.2 -2.2M1418 226.5l-9.2 -2.2M1418 174.2l-9.2 -2.2M1418 435.5L1742.8 512.5L1929.5 381M1484.7 451.3l-5.7 4M1601.7 479l-5.7 4M1718.7 506.8l-5.7 4M1794.7 475.9l5.8 1.4M1853.5 434.5l5.8 1.4M1912.3 393.1l5.8 1.4" stroke="#333" stroke-width="1.2" fill="none"/>
<text x="1391.5" y="448" font-size="31" text-anchor="end" >0</text>
<text x="1391.5" y="396.7" font-size="31" text-anchor="end" >0.2</text>
<text x="1391.5" y="345.5" font-size="31" text-anchor="end" >0.4</text>
<text x="1391.5" y="294.2" font-size="31" text-anchor="end" >0.6</text>
<text x="1391.5" y="243" font-size="31" text-anchor="end" >0.8</text>
<text x="1391.5" y="191.7" font-size="31" text-anchor="end" >1.0</text>
<text x="1482.5" y="499.8" font-size="30.5" text-anchor="middle" >5</text>
<text x="1586" y="522.8" font-size="30.5" text-anchor="middle" >10</text>
<text x="1687" y="544" font-size="30.5" text-anchor="middle" >15</text>
<text x="1372" y="43.8" font-size="52" >e.)</text>
<text x="1934" y="412.5" font-size="30.5">10<tspan font-size="21" dy="-7.5">0</tspan></text>
<text x="1870.3" y="463.8" font-size="30.5">10<tspan font-size="21" dy="-7.5">-1</tspan></text>
<text x="1805.3" y="508.8" font-size="30.5">10<tspan font-size="21" dy="-7.5">-2</tspan></text>
<g transform="translate(1845.5,551) rotate(-36.8)"><text font-size="37" font-weight="bold">Aspect Ratio</text></g>
</g>
<g id="pd">
<g>
<path d="M843.6 925.1L843.6 667.6M861.7 911.9L861.7 654.4M870.8 905.3L870.8 647.8M877.3 900.5L877.3 643M882.3 896.8L882.3 639.3M886.5 893.8L886.5 636.3M889.9 891.3L889.9 633.8M893 889.1L893 631.6M895.6 887.1L895.6 629.6M913.7 874L913.7 616.5M922.8 867.3L922.8 609.8M929.3 862.5L929.3 605M934.3 858.8L934.3 601.3M938.5 855.8L938.5 598.3M941.9 853.3L941.9 595.8M945 851.1L945 593.6M947.6 849.1L947.6 591.6M965.7 836L965.7 578.5M974.8 829.3L974.8 571.8M981.3 824.5L981.3 567M986.3 820.8L986.3 563.3M990.5 817.8L990.5 560.3M993.9 815.3L993.9 557.8M997 813.1L997 555.6M999.6 811.1L999.6 553.6" stroke="#e4e4e4" stroke-width="1" fill="none"/>
<path d="M842 874.8L1016.2 747.5L1320 821M842 823.3L1016.2 696L1320 769.5M842 771.8L1016.2 644.5L1320 718M842 720.3L1016.2 593L1320 666.5M842 668.8L1016.2 541.5L1320 615M842 926.3L1016.2 799L1320 872.5M1105.2 820.5L1105.2 563M1105.2 820.5L930.9 947.8M1202.6 844.1L1202.6 586.6M1202.6 844.1L1028.4 971.4M1300.1 867.7L1300.1 610.2M1300.1 867.7L1125.9 995M846 923.4L846 665.9M846 923.4L1149.8 996.9M898 885.4L898 627.9M898 885.4L1201.8 958.9M950 847.4L950 589.9M950 847.4L1253.8 920.9M1002 809.4L1002 551.9M1002 809.4L1305.8 882.9M1016.2 799L1016.2 541.5" stroke="#d9d9d9" stroke-width="1.1" fill="none"/>
</g>
<style>.d0{fill:#0a2d58;stroke:#0a2d58}.d1{fill:#092c54;stroke:#092c54}.d2{fill:#092a51;stroke:#092a51}.d3{fill:#09284d;stroke:#09284d}.d4{fill:#09284d;stroke:#09284d}.d5{fill:#092952;stroke:#092952}.d6{fill:#092951;stroke:#092951}.d7{fill:#092953;stroke:#092953}.d8{fill:#082747;stroke:#082747}.d9{fill:#08294b;stroke:#08294b}.d10{fill:#072746;stroke:#072746}.d11{fill:#072543;stroke:#072543}.d12{fill:#0a2954;stroke:#0a2954}.d13{fill:#06243f;stroke:#06243f}.d14{fill:#062542;stroke:#062542}.d15{fill:#072543;stroke:#072543}.d16{fill:#092951;stroke:#092951}.d17{fill:#0a2a56;stroke:#0a2a56}.d18{fill:#072949;stroke:#072949}.d19{fill:#082a4e;stroke:#082a4e}.d20{fill:#0a2954;stroke:#0a2954}.d21{fill:#0b2a58;stroke:#0b2a58}.d22{fill:#05233c;stroke:#05233c}.d23{fill:#06243f;stroke:#06243f}.d24{fill:#0b2b5a;stroke:#0b2b5a}.d25{fill:#0c2b5d;stroke:#0c2b5d}.d26{fill:#052139;stroke:#052139}.d27{fill:#042137;stroke:#042137}.d28{fill:#05233c;stroke:#05233c}.d29{fill:#0a2b57;stroke:#0a2b57}.d30{fill:#0c2c5e;stroke:#0c2c5e}.d31{fill:#0e2e65;stroke:#0e2e65}.d32{fill:#0c2e62;stroke:#0c2e62}.d33{fill:#06243f;stroke:#06243f}.d34{fill:#05233c;stroke:#05233c}.d35{fill:#052139;stroke:#052139}.d36{fill:#052139;stroke:#052139}.d37{fill:#0e2f6a;stroke:#0e2f6a}.d38{fill:#14337c;stroke:#14337c}.d39{fill:#143177;stroke:#143177}.d40{fill:#072543;stroke:#072543}.d41{fill:#072543;stroke:#072543}.d42{fill:#06243f;stroke:#06243f}.d43{fill:#132f72;stroke:#132f72}.d44{fill:#122d6d;stroke:#122d6d}.d45{fill:#082747;stroke:#082747}.d46{fill:#09284d;stroke:#09284d}.d47{fill:#1e3085;stroke:#1e3085}.d48{fill:#1f328b;stroke:#1f328b}.d49{fill:#0d2c61;stroke:#0d2c61}.d50{fill:#1d2e7f;stroke:#1d2e7f}.d51{fill:#293094;stroke:#293094}.d52{fill:#062641;stroke:#062641}.d53{fill:#062745;stroke:#062745}.d54{fill:#05243f;stroke:#05243f}.d55{fill:#05243c;stroke:#05243c}.d56{fill:#05253f;stroke:#05253f}.d57{fill:#052641;stroke:#052641}.d58{fill:#062744;stroke:#062744}.d59{fill:#062947;stroke:#062947}.d60{fill:#222d82;stroke:#222d82}.d61{fill:#252e86;stroke:#252e86}.d62{fill:#282e8e;stroke:#282e8e}.d63{fill:#05223a;stroke:#05223a}.d64{fill:#04233b;stroke:#04233b}.d65{fill:#05243e;stroke:#05243e}.d66{fill:#052640;stroke:#052640}.d67{fill:#192d76;stroke:#192d76}.d68{fill:#1e2d78;stroke:#1e2d78}.d69{fill:#2c2f93;stroke:#2c2f93}.d70{fill:#102c67;stroke:#102c67}.d71{fill:#042036;stroke:#042036}.d72{fill:#042239;stroke:#042239}.d73{fill:#152c6c;stroke:#152c6c}.d74{fill:#192c6d;stroke:#192c6d}.d75{fill:#212d7b;stroke:#212d7b}.d76{fill:#1b2c75;stroke:#1b2c75}.d77{fill:#042137;stroke:#042137}.d78{fill:#042036;stroke:#042036}.d79{fill:#0b2a5a;stroke:#0b2a5a}.d80{fill:#1b2c6e;stroke:#1b2c6e}.d81{fill:#122b5f;stroke:#122b5f}.d82{fill:#112a5e;stroke:#112a5e}.d83{fill:#172b6b;stroke:#172b6b}.d84{fill:#042036;stroke:#042036}.d85{fill:#0e2b61;stroke:#0e2b61}.d86{fill:#132b60;stroke:#132b60}.d87{fill:#082747;stroke:#082747}.d88{fill:#06243f;stroke:#06243f}.d89{fill:#05233c;stroke:#05233c}.d90{fill:#05233c;stroke:#05233c}.d91{fill:#052139;stroke:#052139}.d92{fill:#052139;stroke:#052139}.d93{fill:#142b60;stroke:#142b60}.d94{fill:#212f72;stroke:#212f72}.d95{fill:#152b69;stroke:#152b69}.d96{fill:#05233c;stroke:#05233c}.d97{fill:#06243f;stroke:#06243f}.d98{fill:#162c62;stroke:#162c62}.d99{fill:#082747;stroke:#082747}.d100{fill:#09284d;stroke:#09284d}.d101{fill:#09284d;stroke:#09284d}.d102{fill:#082747;stroke:#082747}.d103{fill:#152c61;stroke:#152c61}.d104{fill:#242f73;stroke:#242f73}.d105{fill:#2e3183;stroke:#2e3183}.d106{fill:#1d2d6f;stroke:#1d2d6f}.d107{fill:#2d308c;stroke:#2d308c}.d108{fill:#072948;stroke:#072948}.d109{fill:#082a4c;stroke:#082a4c}.d110{fill:#092c51;stroke:#092c51}.d111{fill:#092e54;stroke:#092e54}.d112{fill:#0a2f5b;stroke:#0a2f5b}.d113{fill:#0b3163;stroke:#0b3163}.d114{fill:#0b2f5f;stroke:#0b2f5f}.d115{fill:#3a3494;stroke:#3a3494}.d116{fill:#353391;stroke:#353391}.d117{fill:#31318f;stroke:#31318f}.d118{fill:#292f8a;stroke:#292f8a}.d119{fill:#062744;stroke:#062744}.d120{fill:#072a4a;stroke:#072a4a}.d121{fill:#082c4f;stroke:#082c4f}.d122{fill:#33329f;stroke:#33329f}.d123{fill:#4035a2;stroke:#4035a2}.d124{fill:#493aad;stroke:#493aad}.d125{fill:#2e319a;stroke:#2e319a}.d126{fill:#052641;stroke:#052641}.d127{fill:#272f7f;stroke:#272f7f}.d128{fill:#0f2a5c;stroke:#0f2a5c}.d129{fill:#102a5d;stroke:#102a5d}.d130{fill:#0d2a5c;stroke:#0d2a5c}.d131{fill:#112b63;stroke:#112b63}.d132{fill:#0d2a59;stroke:#0d2a59}.d133{fill:#0b2a57;stroke:#0b2a57}.d134{fill:#192d62;stroke:#192d62}.d135{fill:#2a3081;stroke:#2a3081}.d136{fill:#4b3c8b;stroke:#4b3c8b}.d137{fill:#463a8a;stroke:#463a8a}.d138{fill:#4f3cb0;stroke:#4f3cb0}.d139{fill:#794cc0;stroke:#794cc0}.d140{fill:#5d41b4;stroke:#5d41b4}.d141{fill:#0f3372;stroke:#0f3372}.d142{fill:#493db8;stroke:#493db8}.d143{fill:#6d49c5;stroke:#6d49c5}.d144{fill:#453dbb;stroke:#453dbb}.d145{fill:#4c3fbf;stroke:#4c3fbf}.d146{fill:#3939b4;stroke:#3939b4}.d147{fill:#0d326a;stroke:#0d326a}.d148{fill:#0d3066;stroke:#0d3066}.d149{fill:#0a2d5b;stroke:#0a2d5b}.d150{fill:#3535a6;stroke:#3535a6}.d151{fill:#3438ae;stroke:#3438ae}.d152{fill:#203490;stroke:#203490}.d153{fill:#2d35a1;stroke:#2d35a1}</style><path d="M842 918.4l3.2-.2 3.1 1.7 6.4 2.3 3.1-1.4 3.2-2.1 3.1 5.5 6.4 7.8 3.1-1.5 6.4-6.7 3.1-2 6.4 16 12.6 3 3.2-1.4 3.1-2.6 3.2-6 3.2-15.7 3.1 10.4 3.2 7.6 3.2 10.1 3.1 3.8 3.2-1.1 3.2-.3 9.4 5.2 202.5 49 135.1-98.7 4.3-4.2 8.8-6.5 4.3-2 21.8-15.9-3.2-.8-3.1-1.9-9.5-4.2-9.5-2.9-9.5-2.3-9.5-1.5-12.7-1.4-3.1 .5-31.7-7.7-3.1-2.1-6.4-3.1-6.3-2.5-3.1-.5-6.4-2.1-6.3-4.5-9.5-8-6.3-1.3-3.2-1-3.1-2.4-6.4 3.1-3.1 .3-3.2 1.1-6.3-2.9-3.2-2.2-3.2-1.4-3.1-2.1-3.2-3.6-3.2 .6-3.1-3.1-3.2-1.1-3.1-4.5-3.2 0-3.2-1.2-3.1-3.4-3.2-2.1-3.2-.3-3.1-.7-3.2-2.9-3.2 .8-3.1-2.6-3.2 1.7-3.1-3.5-3.2-1.6-3.2 2.2-3.1-.1-3.2 .9-3.2 .2-3.1-1.7-6.4 1.2-3.1-.4-3.2 1.4-3.2-1.3-3.1 1.2-3.2 0-3.1 .5-3.2-1.3-3.2 .7-3.1-.2-3.2-1.1-3.2 .5-6.3-4.2-3.2-1.2-6.3-8.5-3.2-2.5-4.3 5.5-4.4 2.8-4.3 5.6-4.4 .1-4.3-3.2-4.4-.1-4.3 3-4.4 6.8-4.4 5.5-4.3 9.3-4.4 3.9-4.3 6.3-4.4 3.9-4.3 3.3-4.4 5.3-4.4 3.6-8.7 8.2-17.4 13.8-4.3 3.9-13.1 9.3-4.4 3.6-34.8 24.1-4.4 3.6-13 9.1z" fill="#042036"/><g stroke-width="0.9" stroke-linejoin="round"><path class="d0" d="M1011.9 783l4.4-5.5 3.1 2.5-4.3 3.6z"/><path class="d1" d="M1007.5 785.8l4.4-2.8 3.2 .6-4.4 6.2z"/><path class="d2" d="M1003.2 791.4l4.3-5.6 3.2 4-4.4 2.6z"/><path class="d3" d="M998.8 791.5l4.4-.1 3.1 1-4.3-1.5z"/><path class="d4" d="M994.5 788.3l4.3 3.2 3.2-.6-4.4-5z"/><path class="d5" d="M990.1 788.2l4.4 .1 3.1-2.4-4.3-.6z"/><path class="d6" d="M981.4 798l4.4-6.8 4.3-3 3.2-2.9-4.4 .6-4.3 10.1z"/><path class="d7" d="M977 803.5l4.4-5.5 3.2-2-4.4 8.5z"/><path class="d4" d="M972.7 812.8l4.3-9.3 3.2 1-4.3 7.1z"/><path class="d3" d="M942.2 843.2l8.7-7.7 4.4-5.3 4.3-3.3 4.4-3.9 4.3-6.3 4.4-3.9 3.2-1.2-17.5 19.7-4.3 3.4-8.7 8.8z"/><path class="d8" d="M937.8 847.3l4.4-4.1 3.2 .3-4.4 4z"/><path class="d9" d="M924.8 857.8l13-10.5 3.2 .2-13.1 11.6z"/><path class="d10" d="M911.7 868.2l4.4-3.2 8.7-7.2 3.1 1.3-13 9.6z"/><path class="d11" d="M907.3 871.4l4.4-3.2 3.2 .5-4.4 3.6z"/><path class="d10" d="M894.3 880.6l4.3-2.7 4.4-3.6 4.3-2.9 3.2 .9-13.1 9.4z"/><path class="d11" d="M881.2 890.1l13.1-9.5 3.1 1.1-8.7 5.6-4.3 3.7z"/><path class="d10" d="M876.9 893l4.3-2.9 3.2 .9-4.4 2.4z"/><path class="d11" d="M868.1 898.9l8.8-5.9 3.1 .4-8.7 6.9z"/><path class="d9" d="M863.8 902l4.3-3.1 3.2 1.4-4.4 2.4z"/><path class="d8" d="M855.1 908.5l4.3-2.9 4.4-3.6 3.1 .7-8.7 6.2z"/><path class="d9" d="M846.4 914.7l8.7-6.2 3.1 .4-8.7 6.1z"/><path class="d8" d="M842 918.4l4.4-3.7 3.1 .3-4.3 3.2z"/><path class="d0" d="M1015.1 783.6l4.3-3.6 3.2 4.2-4.4 3.2z"/><path class="d1" d="M1006.3 792.4l4.4-2.6 4.4-6.2 3.1 3.8-4.3 3.2-4.4 2.1z"/><path class="d3" d="M1002 790.9l4.3 1.5 3.2 .3-4.3-2.6z"/><path class="d7" d="M997.6 785.9l4.4 5 3.2-.8z"/><path class="d5" d="M993.3 785.3l4.3 .6 3.2 1.9z"/><path class="d6" d="M988.9 785.9l4.4-.6 3.1 1.3-4.3-.7z"/><path class="d5" d="M984.6 796l4.3-10.1 3.2 0-4.4 8.5z"/><path class="d7" d="M975.9 811.6l4.3-7.1 4.4-8.5 3.1-1.6-4.3 6.4-4.4 10.9z"/><path class="d4" d="M967.1 821.7l8.8-10.1 3.1 .1-4.3 5.6-4.4 4.7z"/><path class="d3" d="M949.7 839.3l4.4-4.6 4.3-3.4 8.7-9.6 3.2 .3-8.7 9.1-4.4 5.5-4.3 4.7z"/><path class="d8" d="M936.6 850.9l13.1-11.6 3.2 2-13.1 11.9z"/><path class="d9" d="M932.3 855l4.3-4.1 3.2 2.3-4.3 3.8z"/><path class="d10" d="M906.2 875.4l8.7-6.7 8.7-6.1 8.7-7.6 3.2 2-4.4 3.9-4.4 2.9-13 9.9-4.4 3.8z"/><path class="d11" d="M871.3 900.3l8.7-6.9 4.4-2.4 4.3-3.7 17.5-11.9 3.1 2.1-4.3 3-4.4 2.4-4.4 3.7-13 8.3-4.4 3.3-4.3 2.6z"/><path class="d8" d="M845.2 918.2l21.7-15.5 4.4-2.4 3.2 .5-4.4 3-4.3 3.8-4.4 2.4-13.1 9.9z"/><path class="d1" d="M1009.5 792.7l4.4-2.1 8.7-6.4 3.1 4.3-4.3 1.6-4.4 3.7-4.3 1z"/><path class="d12" d="M1005.2 790.1l4.3 2.6 3.2 2.1-4.4-2.8z"/><path class="d7" d="M1000.8 787.8l4.4 2.3 3.1 1.9-4.3-2.7z"/><path class="d5" d="M979 811.7l4.4-10.9 4.3-6.4 4.4-8.5 4.3 .7 4.4 1.2 3.2 1.5-4.4-6.5-4.4 2.7-8.7 19.3-4.3 8z"/><path class="d7" d="M974.7 817.3l4.3-5.6 3.2 1.1-4.4 6.3z"/><path class="d4" d="M965.9 826.3l8.8-9 3.1 1.8-8.7 9.9z"/><path class="d3" d="M952.9 841.3l4.3-4.7 8.7-10.3 3.2 2.7-4.3 4.1-4.4 5.3-4.4 3.4z"/><path class="d8" d="M944.2 849.1l8.7-7.8 3.1 .5-4.3 3.9-4.4 5.3z"/><path class="d11" d="M926.7 863.8l4.4-2.9 13.1-11.8 3.1 1.9-4.3 3.5-4.4 4.3-8.7 7.1z"/><path class="d13" d="M922.4 867.5l4.3-3.7 3.2 2.1-4.4 3.4z"/><path class="d11" d="M913.7 873.7l8.7-6.2 3.1 1.8-4.3 2.4-4.4 3.2z"/><path class="d13" d="M905 880.5l4.3-3 4.4-3.8 3.1 1.2-8.7 6.9z"/><path class="d11" d="M848.3 919.9l13.1-9.9 4.4-2.4 4.3-3.8 8.7-5.6 4.4-3.3 13-8.3 4.4-3.7 4.4-2.4 3.1 1.3-8.7 5.3-8.7 6.2-4.4 3.9-4.3 1.6-4.4 3.4-4.3 4.2-4.4 1.8-4.3 4-4.4 2.7-4.4 3.6-4.3 2.4z"/><path class="d1" d="M1017 793.8l4.4-3.7 4.3-1.6 3.2 1.2-4.4 3.7-4.3 2.9z"/><path class="d2" d="M1012.7 794.8l4.3-1 3.2 2.5-4.4 2.5z"/><path class="d12" d="M1008.3 792l4.4 2.8 3.1 4-4.3-5.6z"/><path class="d7" d="M1004 789.3l4.3 2.7 3.2 1.2-4.4-6.3z"/><path class="d5" d="M995.2 785.5l4.4-2.7 4.4 6.5 3.1-2.4-4.3-6.5-4.4 3.3z"/><path class="d6" d="M986.5 804.8l8.7-19.3 3.2-1.8-4.3 13-4.4 8.6z"/><path class="d5" d="M982.2 812.8l4.3-8 3.2 .5-4.4 8z"/><path class="d7" d="M973.5 823.7l4.3-4.6 4.4-6.3 3.1 .5-4.3 3.5-4.4 8z"/><path class="d3" d="M956 841.8l4.4-3.4 4.4-5.3 4.3-4.1 4.4-5.3 3.1 1.1-4.3 4.8-4.4 3.2-4.3 5-4.4 6z"/><path class="d8" d="M947.3 851l4.4-5.3 4.3-3.9 3.2 2-4.3 3.4-4.4 4.2z"/><path class="d11" d="M934.3 862.4l4.3-3.6 4.4-4.3 4.3-3.5 3.2 .4-8.7 8.2-4.4 2.8z"/><path class="d14" d="M916.8 874.9l4.4-3.2 4.3-2.4 8.8-6.9 3.1 0-8.7 7.4-4.3 3.1-4.4 3.8z"/><path class="d13" d="M903.8 884.4l8.7-5.8 4.3-3.7 3.2 1.8-4.4 1.9-8.7 6.5z"/><path class="d11" d="M873.3 906.4l4.3-4.2 4.4-3.4 4.3-1.6 4.4-3.9 8.7-6.2 4.4-2.7 3.1 .7-4.3 3.2-4.4 1.8-4.3 4-4.4 2.8-4.4 3.6-8.7 4.6z"/><path class="d15" d="M860.2 914.9l4.4-2.7 4.3-4 7.5-3.1-4.3 4-4.4 2.1-4.3 4.3z"/><path class="d11" d="M855.8 918.5l4.4-3.6 3.2 .6z"/><path class="d15" d="M851.5 920.9l4.3-2.4 3.2-1.1-4.3 4.8z"/><path class="d2" d="M1015.8 798.8l8.8-5.4 4.3-3.7 3.2 2.2-4.4 3.9-4.3 2.1-4.4 1.6z"/><path class="d12" d="M1011.5 793.2l4.3 5.6 3.2 .7-4.4-5z"/><path class="d5" d="M1007.1 786.9l4.4 6.3 3.1 1.3-4.3-7.3z"/><path class="d16" d="M998.4 783.7l4.4-3.3 4.3 6.5 3.2 .3-4.4-4.6-4.3 6.1z"/><path class="d6" d="M994.1 796.7l4.3-13 3.2 5-4.4 .6z"/><path class="d5" d="M981 816.8l4.3-3.5 8.8-16.6 3.1-7.4-8.7 20.5-4.3 8.3z"/><path class="d7" d="M972.3 829.6l4.3-4.8 4.4-8 3.2 1.3-4.4 6.7-4.4 3.5z"/><path class="d4" d="M967.9 832.8l4.4-3.2 3.1-1.3-4.3 6.7z"/><path class="d3" d="M959.2 843.8l4.4-6 4.3-5 3.2 2.2-4.4 3.5-4.3 4.5z"/><path class="d8" d="M950.5 851.4l4.4-4.2 4.3-3.4 3.2-.8-8.7 8.7z"/><path class="d11" d="M937.4 862.4l4.4-2.8 8.7-8.2 3.2 .3-8.8 8-4.3 3.4z"/><path class="d10" d="M928.7 869.8l8.7-7.4 3.2 .7-8.7 6.8z"/><path class="d14" d="M915.6 878.6l4.4-1.9 4.4-3.8 4.3-3.1 3.2 .1-13.1 10.2z"/><path class="d10" d="M889.5 896.9l4.4-2.8 4.3-4 4.4-1.8 13-9.7 3.2 1.5-4.3 1.4-17.5 12.6-4.3 2.3z"/><path class="d11" d="M885.1 900.5l4.4-3.6 3.2-.5z"/><path class="d8" d="M854.7 922.2l4.3-4.8 4.4-1.9 4.3-4.3 4.4-2.1 4.3-4 11.9-6.5-8.7 5.8-4.4 4.3-4.3 2.5-4.4 4.2-8.7 5.4z"/><path class="d9" d="M1027.7 795.8l4.4-3.9 3.1 2-4.3 2.8z"/><path class="d2" d="M1023.4 797.9l4.3-2.1 3.2 .9-4.4 1.9z"/><path class="d3" d="M1019 799.5l4.4-1.6 3.1 .7-4.3-.1z"/><path class="d7" d="M1014.6 794.5l4.4 5 3.2-1-4.4-3.4z"/><path class="d5" d="M1010.3 787.2l4.3 7.3 3.2 .6-4.3-12z"/><path class="d16" d="M997.2 789.3l4.4-.6 4.3-6.1 4.4 4.6 3.2-4.1-4.4-1.7-4.4-2.5-4.3 7z"/><path class="d6" d="M988.5 809.8l8.7-20.5 3.2-3.4-4.4 11.9-4.3 14.1z"/><path class="d5" d="M984.2 818.1l4.3-8.3 3.2 2.1z"/><path class="d7" d="M975.4 828.3l4.4-3.5 4.4-6.7 3.1-2.7-4.3 9.3-4.4 5z"/><path class="d4" d="M966.7 838.5l4.4-3.5 4.3-6.7 3.2 1.4-8.7 10.1z"/><path class="d3" d="M962.4 843l4.3-4.5 3.2 1.3-4.4 4.4z"/><path class="d8" d="M953.7 851.7l8.7-8.7 3.1 1.2-4.3 3.9-4.4 4.8z"/><path class="d11" d="M940.6 863.1l13.1-11.4 3.1 1.2-4.3 4.1-4.4 3.3-4.3 4.6z"/><path class="d13" d="M936.2 866.4l4.4-3.3 3.2 1.8-4.4 3.7z"/><path class="d14" d="M918.8 880.1l17.4-13.7 3.2 2.2-4.4 2.9-4.3 3.8-4.4 2.3-4.3 3.7z"/><path class="d10" d="M897 894.1l17.5-12.6 4.3-1.4 3.2 1.2-4.4 1.7-4.3 3.8-4.4 2.5-4.4 1.3-4.3 4.2z"/><path class="d9" d="M875.2 908.7l4.4-4.3 8.7-5.8 8.7-4.5 3.2 .7-4.4 1.5-4.3 2.7-8.7 6.5-4.4 1.1z"/><path class="d2" d="M870.9 911.2l7.5-4.6-4.3 1.9z"/><path class="d9" d="M862.2 918.1l4.3-2.7 7.6-6.9-4.4 6z"/><path class="d2" d="M857.8 920.8l4.4-2.7 3.1-1.7-4.3 2.3z"/><path class="d8" d="M1030.9 796.7l4.3-2.8 3.2-.5-4.4 3.6z"/><path class="d3" d="M1022.2 798.5l4.3 .1 4.4-1.9 3.1 .3-4.3 3.6-4.4-.7z"/><path class="d7" d="M1017.8 795.1l4.4 3.4 3.1 1.4-4.3-10.7z"/><path class="d5" d="M1009.1 781.4l4.4 1.7 4.3 12 3.2-5.9-4.4-10.7-4.3-4.4z"/><path class="d17" d="M1000.4 785.9l4.3-7 4.4 2.5 3.2-7.3-4.4 3.1-4.4 9.9z"/><path class="d5" d="M987.3 815.4l4.4-3.5 4.3-14.1 4.4-11.9 3.1 1.2-4.3 10.6-4.4 7.6-4.3 10.4z"/><path class="d7" d="M978.6 829.7l4.4-5 4.3-9.3 3.2 .3-8.7 11.9z"/><path class="d12" d="M974.2 834.4l4.4-4.7 3.2-2.1-4.4 4.8z"/><path class="d3" d="M965.5 844.2l4.4-4.4 4.3-5.4 3.2-2-4.3 7.4-4.4 4.7z"/><path class="d8" d="M956.8 852.9l4.4-4.8 4.3-3.9 3.2 .3-4.4 3.6-4.3 4.9z"/><path class="d11" d="M948.1 860.3l4.4-3.3 4.3-4.1 3.2 .1-4.4 4.3-4.3 5.4z"/><path class="d13" d="M943.8 864.9l4.3-4.6 3.2 2.4-4.4 3.4z"/><path class="d14" d="M908.9 889.3l4.4-2.5 4.3-3.8 4.4-1.7 4.3-3.7 4.4-2.3 4.3-3.8 4.4-2.9 4.4-3.7 3.1 1.2-4.3 4.4-4.4 2.7-17.4 13.5-8.7 5.6z"/><path class="d18" d="M891.5 899l4.3-2.7 4.4-1.5 4.3-4.2 4.4-1.3 3.2 3-8.7 6.2-8.8 4.2z"/><path class="d19" d="M887.1 902.5l4.4-3.5 3.1 3.7-4.3 2.7z"/><path class="d18" d="M882.8 905.5l4.3-3 3.2 2.9-4.4 4.1z"/><path class="d19" d="M861 918.7l8.7-4.2 4.4-6 4.3-1.9 4.4-1.1 3.1 4-4.3 2.4-4.4 1.6-13.1 10.7z"/><path class="d3" d="M1029.7 800.6l8.7-7.2 3.2 1.1-4.4 4-4.4 .9z"/><path class="d4" d="M1025.3 799.9l4.4 .7 3.1-1.2-4.3-1.6z"/><path class="d7" d="M1016.6 778.5l8.7 21.4 3.2-2.1-8.7-16.6z"/><path class="d17" d="M1012.3 774.1l7.5 7.1-4.4-13.1z"/><path class="d20" d="M1007.9 777.2l4.4-3.1 3.1-6-4.3 4.4z"/><path class="d17" d="M1003.5 787.1l4.4-9.9 3.2-4.7-4.4 13.2z"/><path class="d21" d="M999.2 797.7l4.3-10.6 3.2-1.4-4.3 8.8z"/><path class="d7" d="M986.1 821.8l4.4-6.1 4.3-10.4 4.4-7.6 3.2-3.2-8.8 23.4-4.3 4.7z"/><path class="d12" d="M977.4 832.4l4.4-4.8 4.3-5.8 3.2 .8-8.7 11z"/><path class="d7" d="M973.1 839.8l4.3-7.4 3.2 1.2-4.4 5.3z"/><path class="d3" d="M968.7 844.5l4.4-4.7 3.1-.9-4.3 6.9z"/><path class="d8" d="M960 853l4.3-4.9 4.4-3.6 3.2 1.3-8.8 8.7z"/><path class="d11" d="M955.6 857.3l4.4-4.3 3.1 1.5-4.3 5.3z"/><path class="d13" d="M946.9 866.1l4.4-3.4 4.3-5.4 3.2 2.5-8.7 8.1z"/><path class="d22" d="M925.1 883l13.1-9.8 4.4-2.7 4.3-4.4 3.2 1.8-8.7 8-13.1 10.3z"/><path class="d23" d="M899 900.5l4.4-2 13-9.3 4.4-2.5 4.3-3.7 3.2 3.2-21.8 15-4.3 2.6z"/><path class="d14" d="M881.6 911.9l4.3-2.4 4.4-4.1 8.7-4.9 3.2 3.3-4.4 3.7-13.1 8.1z"/><path class="d10" d="M872.9 917.4l4.3-3.9 4.4-1.6 3.1 3.7-8.7 6.7z"/><path class="d14" d="M864.1 924.2l8.8-6.8 3.1 4.9-8.7 5.7z"/><path class="d4" d="M1037.2 798.5l4.4-4 3.1 .2-4.3 3.7z"/><path class="d3" d="M1032.8 799.4l4.4-.9 3.2-.1-4.4 1.9z"/><path class="d12" d="M1028.5 797.8l7.5 2.5-4.3-1z"/><path class="d7" d="M1024.1 789.7l4.4 8.1 3.2 1.5-4.4-7.3z"/><path class="d21" d="M1019.8 781.2l4.3 8.5 3.2 2.3-4.4-10.7z"/><path class="d24" d="M1015.4 768.1l4.4 13.1 3.1 .1-4.3-5z"/><path class="d25" d="M1011.1 772.5l4.3-4.4 3.2 8.2-4.4 5.5z"/><path class="d24" d="M998 806.4l4.4-11.9 4.3-8.8 4.4-13.2 3.1 9.3-4.3 9.8-8.7 15.9z"/><path class="d7" d="M993.6 817.9l4.4-11.5 3.2 1.1-4.4 10.4z"/><path class="d12" d="M976.2 838.9l13.1-16.3 4.3-4.7 3.2 0-4.3 5-4.4 8.7-4.4 4.8-4.3 3.8z"/><path class="d3" d="M971.9 845.8l4.3-6.9 3.2 1.3-4.4 6.6z"/><path class="d8" d="M963.1 854.5l8.8-8.7 3.1 1-4.3 3.7-4.4 5z"/><path class="d11" d="M958.8 859.8l4.4-5.3 3.1 1-4.3 5.1z"/><path class="d13" d="M950.1 867.9l8.7-8.1 3.2 .8-8.8 8z"/><path class="d22" d="M941.4 875.9l8.7-8 3.1 .7-8.7 7.6z"/><path class="d26" d="M915.2 895.2l13.1-9 13.1-10.3 3.1 .3-21.7 17.5-4.4 4.5z"/><path class="d27" d="M906.5 901.2l8.7-6 3.2 3-8.7 6.3z"/><path class="d26" d="M884.7 915.6l13.1-8.1 4.4-3.7 4.3-2.6 3.2 3.3-21.8 16z"/><path class="d28" d="M876 922.3l8.7-6.7 3.2 4.9-8.7 6.3z"/><path class="d26" d="M871.7 925.2l4.3-2.9 3.2 4.5-4.4 2.2z"/><path class="d23" d="M867.3 928l4.4-2.8 3.1 3.8-4.3 3z"/><path class="d4" d="M1036 800.3l4.4-1.9 4.3-3.7 3.2-.7-4.4 4.9-4.3 1.2z"/><path class="d12" d="M1031.7 799.3l4.3 1 3.2-.2-4.4-.2z"/><path class="d29" d="M1027.3 792l4.4 7.3 3.1 .6-4.3-6.7z"/><path class="d30" d="M1022.9 781.3l4.4 10.7 3.2 1.2z"/><path class="d31" d="M1005.5 799.4l4.4-7.8 4.3-9.8 4.4-5.5 4.3 5 3.2 4.9-4.3-7.2-4.4 .1-4.4 8.3-4.3 12.5z"/><path class="d32" d="M1001.2 807.5l4.3-8.1 3.2 .5-4.4 10.8z"/><path class="d30" d="M996.8 817.9l4.4-10.4 3.1 3.2-4.3 8z"/><path class="d29" d="M983.7 836.4l4.4-4.8 4.4-8.7 4.3-5 3.2 .8-4.4 7.4-8.7 10.2z"/><path class="d12" d="M979.4 840.2l4.3-3.8 3.2-.1-4.4 4.1z"/><path class="d3" d="M975 846.8l4.4-6.6 3.1 .2-4.3 6.1z"/><path class="d8" d="M966.3 855.5l4.4-5 4.3-3.7 3.2-.3-4.4 5.4-4.3 3.6z"/><path class="d11" d="M957.6 864.7l4.4-4.1 4.3-5.1 3.2 0-8.7 8.1z"/><path class="d33" d="M944.5 876.2l13.1-11.5 3.2-1.1-4.4 4.7-4.3 3.7z"/><path class="d34" d="M922.8 893.7l17.4-13.6 4.3-3.9 3.2-1.5-8.7 7.2-4.4 3.2-4.3 3.9z"/><path class="d35" d="M918.4 898.2l4.4-4.5 3.1-2-4.3 3.2z"/><path class="d36" d="M905.3 907.7l13.1-9.5 3.2-3.3-4.4 2.3-8.7 6.6z"/><path class="d35" d="M896.6 914.1l8.7-6.4 3.2-3.9-8.7 6.6z"/><path class="d36" d="M887.9 920.5l8.7-6.4 3.2-3.7-4.4 2.9z"/><path class="d35" d="M879.2 926.8l8.7-6.3 3.2-2.9-8.7 6z"/><path class="d36" d="M874.8 929l4.4-2.2 3.2-3.2-4.4 3.7z"/><path class="d35" d="M870.5 932l4.3-3 3.2-1.7-4.4 3.2z"/><path class="d4" d="M1039.2 800.1l4.3-1.2 4.4-4.9 3.2 1.3-4.4 2.7-4.4 3.3z"/><path class="d12" d="M1034.8 799.9l4.4 .2 3.1 1.2-4.3-.4z"/><path class="d29" d="M1030.5 793.2l4.3 6.7 3.2 1-4.4-6.5z"/><path class="d30" d="M1026.1 786.2l4.4 7 3.1 1.2-4.3-7.2z"/><path class="d37" d="M1021.8 779l4.3 7.2 3.2 1-4.4-6z"/><path class="d38" d="M1017.4 779.1l4.4-.1 3.1 2.2-4.3 1.2z"/><path class="d39" d="M1013 787.4l4.4-8.3 3.2 3.3-4.4 8.9z"/><path class="d37" d="M1008.7 799.9l4.3-12.5 3.2 3.9-4.4 12.5z"/><path class="d32" d="M1004.3 810.7l4.4-10.8 3.1 3.9-4.3 6.4z"/><path class="d30" d="M1000 818.7l4.3-8 3.2-.5-4.4 10.3z"/><path class="d29" d="M982.5 840.4l4.4-4.1 8.7-10.2 4.4-7.4 3.1 1.8-4.3 6.4-8.7 9.5-4.4 6.9z"/><path class="d3" d="M973.8 851.9l8.7-11.5 3.2 2.9-4.3 3-4.4 4z"/><path class="d8" d="M965.1 859.3l8.7-7.4 3.2-1.6-4.4 6.1-4.3 3.5z"/><path class="d11" d="M956.4 868.3l8.7-9 3.2 .6-4.4 3.4-4.3 4.8z"/><path class="d13" d="M952.1 872l4.3-3.7 3.2-.2-4.4 3.4z"/><path class="d33" d="M921.6 894.9l8.7-5.9 4.3-3.9 8.7-6.5 4.4-3.9 4.4-2.7 3.1-.5-8.7 6.2-4.4 2.6-4.3 3.5-4.4 2.3-4.3 3.8-4.4 1.8z"/><path class="d40" d="M891.1 917.6l4.3-4.3 21.8-16.1 4.4-2.3 3.1-3.2-8.7 6.9-8.7 5.7-4.4 2-4.3 4.2-4.4 1.6z"/><path class="d41" d="M878 927.3l8.7-6.9 4.4-2.8 3.1-5.5-4.3 5-4.4 2-4.3 4.2z"/><path class="d42" d="M873.6 930.5l4.4-3.2 3.2-4z"/><path class="d4" d="M1042.3 801.3l4.4-3.3 4.4-2.7 3.1-.5-4.3 2-4.4 5z"/><path class="d12" d="M1033.6 794.4l4.4 6.5 7.5 .9-4.3 .7-4.4-3.3z"/><path class="d31" d="M1029.3 787.2l7.5 12-4.4-12.5z"/><path class="d39" d="M1024.9 781.2l4.4 6 3.1-.5-4.3-4.6z"/><path class="d43" d="M1020.6 782.4l4.3-1.2 3.2 .9-4.4 1.2z"/><path class="d44" d="M1016.2 791.3l4.4-8.9 3.1 .9-4.3 10.8z"/><path class="d31" d="M1011.8 803.8l4.4-12.5 3.2 2.8-4.4 12.8z"/><path class="d30" d="M1003.1 820.5l4.4-10.3 4.3-6.4 3.2 3.1-4.3 9.7-4.4 5.1z"/><path class="d29" d="M998.8 826.9l4.3-6.4 3.2 1.2-4.4 7.5z"/><path class="d12" d="M985.7 843.3l4.4-6.9 8.7-9.5 3.1 2.3-4.3 5.6-4.4 3.4-4.3 4.3z"/><path class="d3" d="M977 850.3l4.4-4 4.3-3 3.2-.8-4.4 5.9-4.3 3z"/><path class="d8" d="M968.3 859.9l4.3-3.5 4.4-6.1 3.2 1.1-8.7 9.4z"/><path class="d11" d="M929.1 889.9l4.3-3.8 4.4-2.3 4.3-3.5 8.8-5.5 8.7-6.7 4.3-4.8 4.4-3.4 3.2 .9-4.4 2.8-4.4 4.2-4.3 3-4.4 1.7-8.7 7.4-8.7 5.8z"/><path class="d8" d="M924.7 891.7l4.4-1.8 3.1-2z"/><path class="d45" d="M907.3 904.3l8.7-5.7 8.7-6.9 3.2-1.5-4.4 2.6-4.3 1-4.4 5-4.3 1.5z"/><path class="d4" d="M889.9 917.1l4.3-5 4.4-1.6 4.3-4.2 4.4-2 3.2-4-4.4 4.4-4.3 .9-4.4 3z"/><path class="d46" d="M876.8 927.2l8.7-8.1 4.4-2 3.1-3.9-8.7 4.7-4.3 5.9z"/><path class="d7" d="M1045.5 801.8l4.4-5 4.3-2 3.2 0-4.4 3-4.3 4.5z"/><path class="d12" d="M1036.8 799.2l4.4 3.3 4.3-.7 3.2 .5-4.4 .5-4.3-5.3z"/><path class="d31" d="M1032.4 786.7l4.4 12.5 3.2-1.7-4.4-8z"/><path class="d44" d="M1028.1 782.1l7.5 7.4-4.4-6.5z"/><path class="d47" d="M1023.7 783.3l4.4-1.2 3.1 .9-4.3 3.4z"/><path class="d48" d="M1019.4 794.1l4.3-10.8 3.2 3.1-4.4 10.8z"/><path class="d39" d="M1015 806.9l4.4-12.8 3.1 3.1-4.3 7.4z"/><path class="d37" d="M1010.7 816.6l4.3-9.7 3.2-2.3-4.4 12.3z"/><path class="d30" d="M1006.3 821.7l4.4-5.1 3.1 .3-4.3 8z"/><path class="d29" d="M993.2 838.2l4.4-3.4 4.3-5.6 4.4-7.5 3.2 3.2-8.7 9.9-4.4 6.5z"/><path class="d2" d="M984.5 848.4l4.4-5.9 4.3-4.3 3.2 3.1-4.4 4.2-4.3 5z"/><path class="d9" d="M975.8 856.3l4.4-4.9 4.3-3 3.2 2.1-4.4 3.4-4.3 4.3z"/><path class="d10" d="M932.2 887.9l4.4-2.2 8.7-5.8 8.7-7.4 4.4-1.7 4.3-3 4.4-4.2 4.4-2.8 4.3-4.5 3.2 1.9-8.7 9.1-8.8 7.1-4.3 2.2-4.4 3.6-8.7 5.2-8.7 6.1z"/><path class="d9" d="M923.5 892.8l8.7-4.9 3.2 3.6-8.7 3.4z"/><path class="d2" d="M901.8 905.6l4.3-.9 4.4-4.4 4.3-1.5 4.4-5 4.3-1 3.2 2.1-8.7 3.7-4.4 5.2-4.3-.8-4.4 5.2z"/><path class="d29" d="M880 923.8l4.3-5.9 8.7-4.7 4.4-4.6 4.4-3 3.1 2.6-4.3 .7-8.8 3.4-8.7 9.5z"/><path class="d7" d="M1044.3 802.8l4.4-.5 4.3-4.5 4.4-3 3.1-1.2-4.3 3.1-4.4 5.5-4.3 1.2z"/><path class="d24" d="M1040 797.5l4.3 5.3 3.2 .6-4.4-5.4z"/><path class="d49" d="M1035.6 789.5l4.4 8 3.1 .5-4.3-6.7z"/><path class="d50" d="M1031.2 783l4.4 6.5 3.2 1.8-4.4-2.8z"/><path class="d51" d="M1026.9 786.4l4.3-3.4 3.2 5.5-4.3-2.9z"/><path class="d48" d="M1022.5 797.2l4.4-10.8 3.2-.8-4.4 13.4z"/><path class="d43" d="M1018.2 804.6l4.3-7.4 3.2 1.8-4.4 10.3z"/><path class="d31" d="M1013.8 816.9l4.4-12.3 3.1 4.7-4.3 6z"/><path class="d30" d="M1009.5 824.9l4.3-8 3.2-1.6-4.4 10.9z"/><path class="d12" d="M1000.8 834.8l8.7-9.9 3.1 1.3-4.3 3.9-4.4 5.3z"/><path class="d29" d="M996.4 841.3l4.4-6.5 3.1 .6-4.3 5.9z"/><path class="d2" d="M992 845.5l4.4-4.2 3.2 0-4.4 4.8z"/><path class="d9" d="M983.3 853.9l4.4-3.4 4.3-5 3.2 .6-8.7 10.7z"/><path class="d10" d="M974.6 863.1l8.7-9.2 3.2 2.9-4.4 3.7-4.3 4.4z"/><path class="d14" d="M965.9 870.6l4.4-3.3 4.3-4.2 3.2 1.8-4.4 4.8-4.3 3.9z"/><path class="d23" d="M948.5 882.7l4.3-2.5 4.4-3.6 4.3-2.2 4.4-3.8 3.2 3-17.5 14.2z"/><path class="d52" d="M939.8 888.6l8.7-5.9 3.1 5.1-8.7 6.2z"/><path class="d53" d="M926.7 894.9l8.7-3.4 4.4-2.9 3.1 5.4-13 8.4z"/><path class="d18" d="M913.6 903.8l4.4-5.2 8.7-3.7 3.2 7.5-4.4 3.1-4.4 2.3-4.3 3z"/><path class="d19" d="M900.6 908.9l4.3-.7 4.4-5.2 4.3 .8 3.2 7-4.4 1.9-8.7 6.6z"/><path class="d1" d="M883.1 921.8l8.7-9.5 8.8-3.4 3.1 10.4-8.7 4.6-4.3 1.6-4.4 4.4z"/><path class="d7" d="M1047.5 803.4l4.3-1.2 4.4-5.5 4.3-3.1 3.2 1.3-4.3 1.4-4.4 4.5-4.4 2.8z"/><path class="d21" d="M1043.1 798l4.4 5.4 3.1 .2-4.3-4.9z"/><path class="d44" d="M1038.8 791.3l4.3 6.7 3.2 .7-4.4-5.3z"/><path class="d50" d="M1034.4 788.5l7.5 4.9-4.3-10.4z"/><path class="d51" d="M1025.7 799l4.4-13.4 4.3 2.9 3.2-5.5-4.4 5.4-4.3 9.7z"/><path class="d44" d="M1021.3 809.3l4.4-10.3 3.2-.9-4.4 12.4z"/><path class="d49" d="M1017 815.3l4.3-6 3.2 1.2-4.4 10.2z"/><path class="d24" d="M1008.3 830.1l4.3-3.9 4.4-10.9 3.1 5.4-4.3 4.8-4.4 7.3z"/><path class="d12" d="M999.6 841.3l8.7-11.2 3.1 2.7-4.3 5.2-4.4 4.3z"/><path class="d2" d="M995.2 846.1l4.4-4.8 3.1 1-4.3 5.5z"/><path class="d9" d="M986.5 856.8l8.7-10.7 3.2 1.7-4.4 5.1-4.3 4.3z"/><path class="d10" d="M982.1 860.5l4.4-3.7 3.2 .4-4.4 5z"/><path class="d14" d="M973.4 869.7l8.7-9.2 3.2 1.7-4.4 3.8-4.3 4.7z"/><path class="d23" d="M964.7 877.4l8.7-7.7 3.2 1-8.7 7.6z"/><path class="d54" d="M956 884.4l8.7-7 3.2 .9-8.7 7.5z"/><path class="d55" d="M934.2 899.8l17.4-12 4.4-3.4 3.2 1.4-4.4 4.2-17.4 12.8z"/><path class="d56" d="M929.9 902.4l4.3-2.6 3.2 3-4.4 3.2z"/><path class="d57" d="M903.7 919.3l8.7-6.6 4.4-1.9 4.3-3 4.4-2.3 4.4-3.1 3.1 3.6-26.1 19.1z"/><path class="d58" d="M895 923.9l8.7-4.6 3.2 5.8-8.7 6.3z"/><path class="d59" d="M890.7 925.5l4.3-1.6 3.2 7.5-4.4 3.2z"/><path class="d58" d="M886.3 929.9l4.4-4.4 3.1 9.1-4.3 3.2z"/><path class="d21" d="M1055 800.8l4.4-4.5 7.5-2.8-4.4 2.2-4.3 4.2z"/><path class="d7" d="M1050.6 803.6l4.4-2.8 3.2-.9-4.4 4.6z"/><path class="d24" d="M1046.3 798.7l4.3 4.9 3.2 .9-4.3-7.4z"/><path class="d44" d="M1041.9 793.4l4.4 5.3 3.1-1.6-4.3-7.7z"/><path class="d60" d="M1037.6 783l4.3 10.4 3.2-4-4.4-1.4z"/><path class="d61" d="M1033.2 788.4l4.4-5.4 3.1 5-4.3 5.2z"/><path class="d62" d="M1028.9 798.1l4.3-9.7 3.2 4.8-4.4 8.2z"/><path class="d50" d="M1024.5 810.5l4.4-12.4 3.1 3.3-4.3 10.3z"/><path class="d49" d="M1015.8 825.5l4.3-4.8 4.4-10.2 3.2 1.2-4.4 6.7-4.3 7.6z"/><path class="d24" d="M1011.4 832.8l4.4-7.3 3.2 .5-4.4 5.9z"/><path class="d12" d="M1002.7 842.3l4.4-4.3 4.3-5.2 3.2-.9-8.7 11.8z"/><path class="d3" d="M998.4 847.8l4.3-5.5 3.2 1.4-4.4 5.3z"/><path class="d8" d="M994 852.9l4.4-5.1 3.1 1.2-4.3 4.7z"/><path class="d11" d="M985.3 862.2l8.7-9.3 3.2 .8-4.4 4.5-4.3 3.8z"/><path class="d13" d="M976.6 870.7l4.3-4.7 4.4-3.8 3.2-.2-4.4 5.3-4.4 3.6z"/><path class="d22" d="M967.9 878.3l8.7-7.6 3.1 .2-4.3 4.5-4.4 3.6z"/><path class="d28" d="M959.2 885.8l8.7-7.5 3.1 .7-8.7 7.3z"/><path class="d63" d="M954.8 890l4.4-4.2 3.1 .5-4.3 4.5z"/><path class="d64" d="M928.7 909.1l26.1-19.1 3.2 .8-26.2 19.1z"/><path class="d65" d="M906.9 925.1l21.8-16 3.1 .8-21.8 15.9z"/><path class="d66" d="M889.5 937.8l17.4-12.7 3.1 .7-17.4 12.8z"/><path class="d21" d="M1053.8 804.5l8.7-8.8 4.4-2.2 3.1 .4-8.7 8.2z"/><path class="d25" d="M1049.5 797.1l4.3 7.4 3.2-1-4.4-2.4z"/><path class="d67" d="M1045.1 789.4l4.4 7.7 3.1 4-4.3-12.6z"/><path class="d68" d="M1040.7 788l4.4 1.4 3.2-.9-4.4 2z"/><path class="d61" d="M1036.4 793.2l4.3-5.2 3.2 2.5-4.4 2.7z"/><path class="d69" d="M1032 801.4l4.4-8.2 3.1 0-4.3 4.3z"/><path class="d67" d="M1027.7 811.7l4.3-10.3 3.2-3.9-4.4 13.6z"/><path class="d70" d="M1023.3 818.4l4.4-6.7 3.1-.6-4.3 9.8z"/><path class="d49" d="M1019 826l4.3-7.6 3.2 2.5-4.4 5.1z"/><path class="d24" d="M1014.6 831.9l4.4-5.9 3.1 0-4.3 7.4z"/><path class="d12" d="M1005.9 843.7l8.7-11.8 3.2 1.5-4.4 5.6-4.3 4.5z"/><path class="d3" d="M1001.5 849l4.4-5.3 3.2-.2-4.4 5.6z"/><path class="d8" d="M992.8 858.2l8.7-9.2 3.2 .1-8.7 9.4z"/><path class="d11" d="M988.5 862l4.3-3.8 3.2 .3-4.4 3.9z"/><path class="d13" d="M979.8 870.9l4.3-3.6 4.4-5.3 3.1 .4-8.7 9.7z"/><path class="d22" d="M971 879l4.4-3.6 4.4-4.5 3.1 1.2-8.7 7.6z"/><path class="d26" d="M962.3 886.3l8.7-7.3 3.2 .7-8.7 7.5z"/><path class="d27" d="M958 890.8l4.3-4.5 3.2 .9-4.4 4.4z"/><path class="d71" d="M944.9 900.4l13.1-9.6 3.1 .8-13 9.5z"/><path class="d72" d="M905.7 929l39.2-28.6 3.2 .7-39.2 28.7z"/><path class="d64" d="M892.6 938.5l13.1-9.5 3.2 .8-13.1 9.5z"/><path class="d21" d="M1057 803.5l4.3-1.4 8.7-8.2 3.2-.6-4.4 5.1-4.3 1.6-4.4 4z"/><path class="d25" d="M1052.6 801.1l4.4 2.4 3.1 .5-4.3-2.8z"/><path class="d73" d="M1048.3 788.5l4.3 12.6 3.2 .1-4.4-11.3z"/><path class="d74" d="M1043.9 790.5l4.4-2 3.1 1.4-4.3-5.4z"/><path class="d75" d="M1035.2 797.5l4.3-4.3 4.4-2.7 3.2-6-4.4 2.2-4.3 14.1z"/><path class="d76" d="M1030.8 811.1l4.4-13.6 3.2 3.3-4.4 10.3z"/><path class="d70" d="M1026.5 820.9l4.3-9.8 3.2 0-4.4 7.9z"/><path class="d25" d="M1022.1 826l4.4-5.1 3.1-1.9-4.3 8.4z"/><path class="d21" d="M1017.8 833.4l4.3-7.4 3.2 1.4-4.4 5.1z"/><path class="d7" d="M1009.1 843.5l4.3-4.5 4.4-5.6 3.1-.9-4.3 7.1-4.4 3.9z"/><path class="d4" d="M1004.7 849.1l4.4-5.6 3.1 0-4.3 6.6z"/><path class="d45" d="M996 858.5l8.7-9.4 3.2 1-4.4 3.2-4.4 5.6z"/><path class="d11" d="M991.6 862.4l4.4-3.9 3.1 .4-4.3 4z"/><path class="d15" d="M987.3 867l4.3-4.6 3.2 .5-4.4 5z"/><path class="d33" d="M982.9 872.1l4.4-5.1 3.1 .9-4.3 4.6z"/><path class="d34" d="M974.2 879.7l8.7-7.6 3.2 .4-8.7 7.9z"/><path class="d35" d="M965.5 887.2l8.7-7.5 3.2 .7-8.7 7.5z"/><path class="d77" d="M961.1 891.6l4.4-4.4 3.2 .7-4.4 4.4z"/><path class="d78" d="M895.8 939.3l65.3-47.7 3.2 .7-65.3 47.8z"/><path class="d25" d="M1068.8 798.4l4.4-5.1 3.2-.6-4.4 4.4z"/><path class="d24" d="M1064.5 800l7.5-2.9-4.3 5.8z"/><path class="d21" d="M1060.1 804l4.4-4 3.2 2.9-4.4-.8z"/><path class="d79" d="M1055.8 801.2l4.3 2.8 3.2-1.9-4.4-1.8z"/><path class="d76" d="M1051.4 789.9l4.4 11.3 3.1-.9-4.3-12.7z"/><path class="d80" d="M1047.1 784.5l4.3 5.4 3.2-2.3z"/><path class="d81" d="M1042.7 786.7l4.4-2.2 3.1 1.5-4.3 5.6z"/><path class="d82" d="M1038.4 800.8l4.3-14.1 3.2 4.9-4.4 8.4z"/><path class="d83" d="M1034 811.1l4.4-10.3 3.1-.8-4.3 5.6z"/><path class="d73" d="M1029.6 819l7.6-13.4-4.4 12.1z"/><path class="d70" d="M1025.3 827.4l4.3-8.4 3.2-1.3-4.4 11z"/><path class="d21" d="M1016.6 839.6l4.3-7.1 4.4-5.1 3.1 1.3-4.3 4.7-4.4 5.8z"/><path class="d7" d="M1012.2 843.5l4.4-3.9 3.1-.4-4.3 5.1z"/><path class="d46" d="M1007.9 850.1l4.3-6.6 3.2 .8-4.4 5.1z"/><path class="d4" d="M1003.5 853.3l4.4-3.2 3.1-.7-4.3 5.5z"/><path class="d45" d="M999.1 858.9l4.4-5.6 3.2 1.6-4.4 3.2z"/><path class="d15" d="M990.4 867.9l4.4-5 4.3-4 3.2-.8-8.7 9.9z"/><path class="d33" d="M981.7 876.2l4.4-3.7 4.3-4.6 3.2 .1-8.7 8.3z"/><path class="d34" d="M973 884.1l8.7-7.9 3.2 .1-8.7 7.6z"/><path class="d35" d="M968.7 887.9l4.3-3.8 3.2-.2-4.4 3.9z"/><path class="d77" d="M955.6 898.7l8.7-6.4 4.4-4.4 3.1-.1-13.1 10.5z"/><path class="d78" d="M925.1 921l30.5-22.3 3.1-.4-4.3 4.4-26.1 19.1z"/><path class="d84" d="M903.3 936.9l21.8-15.9 3.2 .8-21.8 15.9z"/><path class="d78" d="M899 940.1l4.3-3.2 3.2 .8-4.4 3.1z"/><path class="d25" d="M1072 797.1l4.4-4.4 3.1 1.7-4.3 3.1z"/><path class="d21" d="M1067.7 802.9l4.3-5.8 3.2 .4-4.4 4.8z"/><path class="d25" d="M1063.3 802.1l4.4 .8 3.1-.6-4.3 1.7z"/><path class="d85" d="M1058.9 800.3l4.4 1.8 3.2 1.9-4.4-6.2z"/><path class="d83" d="M1054.6 787.6l4.3 12.7 3.2-2.5-4.3-13.7z"/><path class="d86" d="M1045.9 791.6l4.3-5.6 4.4 1.6 3.1-3.5-4.3-4.7-4.4 7.8z"/><path class="d81" d="M1041.5 800l4.4-8.4 3.1-4.4-4.3 6.5z"/><path class="d75" d="M1037.2 805.6l4.3-5.6 3.2-6.3-4.4 16.4z"/><path class="d76" d="M1032.8 817.7l4.4-12.1 3.1 4.5-4.3 7.5z"/><path class="d85" d="M1028.4 828.7l4.4-11 3.2-.1z"/><path class="d79" d="M1024.1 833.4l4.3-4.7 3.2-4.2-4.3 7.8z"/><path class="d17" d="M1019.7 839.2l4.4-5.8 3.2-1.1-4.4 5.3z"/><path class="d5" d="M1011 849.4l8.7-10.2 3.2-1.6-8.7 12.1z"/><path class="d46" d="M1006.7 854.9l4.3-5.5 3.2 .3-4.4 4.4z"/><path class="d87" d="M998 863.4l4.3-5.3 4.4-3.2 3.1-.8-4.3 5.3-4.4 4.4z"/><path class="d40" d="M989.2 872l4.4-4 4.4-4.6 3.1 .4-4.3 3.9-4.4 4.7z"/><path class="d88" d="M980.5 880.1l8.7-8.1 3.2 .4-4.4 3.5-4.3 4.2z"/><path class="d89" d="M976.2 883.9l4.3-3.8 3.2 0-4.4 3.1z"/><path class="d90" d="M967.5 891.5l8.7-7.6 3.1-.7-4.3 4.1-4.4 3.4z"/><path class="d91" d="M963.1 894.9l4.4-3.4 3.1-.8-4.3 3.1z"/><path class="d92" d="M950 905.8l4.4-3.1 4.3-4.4 4.4-3.4 3.2-1.1-13.1 10.1z"/><path class="d91" d="M906.5 937.7l43.5-31.9 3.2-1.9-13.1 8.9-8.7 6.9-8.7 5.8-4.3 3.6z"/><path class="d92" d="M902.1 940.8l7.5-5.5-4.3 4.1z"/><path class="d25" d="M1066.5 804l4.3-1.7 4.4-4.8 4.3-3.1 3.2-.2-8.7 7.8-4.4-1.7z"/><path class="d73" d="M1062.1 797.8l4.4 6.2 3.1-3.7-4.3-5.4z"/><path class="d74" d="M1057.8 784.1l4.3 13.7 3.2-2.9-4.4-8.5z"/><path class="d93" d="M1053.4 779.4l4.3 4.7 3.2 2.3-4.3-12.1z"/><path class="d94" d="M1049 787.2l7.6-12.9-4.4 4.8z"/><path class="d93" d="M1044.7 793.7l4.3-6.5 3.2-8.1-4.4 12.6z"/><path class="d82" d="M1040.3 810.1l4.4-16.4 3.1-2-4.3 15.2z"/><path class="d95" d="M1036 817.6l4.3-7.5 3.2-3.2-4.4 11.6z"/><path class="d73" d="M1031.6 824.5l4.4-6.9 3.1 .9z"/><path class="d85" d="M1027.3 832.3l4.3-7.8 3.2-2.4-4.4 9.4z"/><path class="d79" d="M1022.9 837.6l4.4-5.3 3.1-.8-4.3 6.3z"/><path class="d17" d="M1018.5 843.8l4.4-6.2 3.2 .2z"/><path class="d5" d="M1009.8 854.1l4.4-4.4 4.3-5.9 3.2-2.4-4.3 5.1-4.4 6.4z"/><path class="d4" d="M1005.5 859.4l4.3-5.3 3.2-1.2-4.4 5.3z"/><path class="d45" d="M996.8 867.7l8.7-8.3 3.1-1.2-4.3 2.9-4.4 4.4z"/><path class="d40" d="M988 875.9l4.4-3.5 4.4-4.7 3.1-2.2-4.3 5.5-4.4 3.9z"/><path class="d88" d="M975 887.3l4.3-4.1 4.4-3.1 4.4-4.2 3.1-1-8.7 6.6-4.4 3.8z"/><path class="d42" d="M961.9 897.2l13.1-9.9 3.1-2-4.3 4.1-4.4 2.8-4.3 4.2z"/><path class="d96" d="M948.8 907.2l13.1-10 3.2-.8-8.7 6.2-4.4 2.3z"/><path class="d97" d="M905.3 939.4l4.3-4.1 8.8-6.2 8.7-6.6 13-9.7 11.9-7.9-4.3 2.9-4.4 4.2-4.4 2-4.3 3.5-4.4 2.4-17.4 13.1z"/><path class="d25" d="M1078.3 798.2l4.4-4 3.2-.9-4.4 3.8z"/><path class="d79" d="M1074 802l4.3-3.8 3.2-1.1-4.4 3.9z"/><path class="d25" d="M1069.6 800.3l4.4 1.7 3.1-1-4.3 2.1z"/><path class="d73" d="M1065.3 794.9l4.3 5.4 3.2 2.8-4.4-9.6z"/><path class="d74" d="M1060.9 786.4l4.4 8.5 3.1-1.4-4.3-11.1z"/><path class="d93" d="M1056.6 774.3l4.3 12.1 3.2-4-4.4-10.6z"/><path class="d98" d="M1052.2 779.1l4.4-4.8 3.1-2.5-4.3 3.7z"/><path class="d93" d="M1047.8 791.7l4.4-12.6 3.2-3.6-4.4 18z"/><path class="d80" d="M1043.5 806.9l4.3-15.2 3.2 1.8-4.3 9.3z"/><path class="d83" d="M1039.1 818.5l4.4-11.6 3.2-4.1-4.4 14.6z"/><path class="d73" d="M1034.8 822.1l4.3-3.6 3.2-1.1-4.4 7.3z"/><path class="d85" d="M1030.4 831.5l4.4-9.4 3.1 2.6-4.3 3.5z"/><path class="d79" d="M1021.7 841.4l4.4-3.6 4.3-6.3 3.2-3.3-4.4 7.5-4.3 4.5z"/><path class="d21" d="M1013 852.9l4.4-6.4 4.3-5.1 3.2-1.2-4.4 5.6-4.3 4.8z"/><path class="d7" d="M1008.6 858.2l4.4-5.3 3.2-2.3-4.4 6.4z"/><path class="d4" d="M999.9 865.5l4.4-4.4 4.3-2.9 3.2-1.2-4.4 1.9-4.3 5.8z"/><path class="d45" d="M973.8 889.4l13.1-11.3 4.3-3.2 4.4-3.9 4.3-5.5 3.2-.8-13.1 10.5-8.7 5.1-4.3 1.1z"/><path class="d87" d="M956.4 902.6l8.7-6.2 4.3-4.2 4.4-2.8 3.2-8-4.4 2.6-4.4 4.8-4.3 1-4.4 5.4z"/><path class="d99" d="M952 904.9l4.4-2.3 3.1-7.4-4.3 0z"/><path class="d100" d="M943.3 912l4.4-4.2 4.3-2.9 3.2-9.7-4.4 2-4.3 4.8z"/><path class="d101" d="M912.8 933l17.4-13.1 4.4-2.4 4.3-3.5 4.4-2 3.2-10-4.4 2.9-4.4 .9-4.3 5.3-4.4 2.9-4.3 5.5-4.4 .3-4.3 5.5z"/><path class="d102" d="M908.4 936.8l4.4-3.8 3.2-7.7-4.4 5.5z"/><path class="d70" d="M1077.1 801l8.8-7.7 3.1 .1-4.3 1-4.4 5.5z"/><path class="d85" d="M1072.8 803.1l7.5-3.2-4.3 1.4z"/><path class="d73" d="M1068.4 793.5l4.4 9.6 3.2-1.8-4.4-5.1z"/><path class="d80" d="M1064.1 782.4l4.3 11.1 3.2 2.7-4.4-17.2z"/><path class="d94" d="M1059.7 771.8l4.4 10.6 3.1-3.4-4.3-5z"/><path class="d98" d="M1055.4 775.5l4.3-3.7 3.2 2.2-4.4 6z"/><path class="d103" d="M1051 793.5l4.4-18 3.1 4.5-4.3 5.7z"/><path class="d86" d="M1046.7 802.8l4.3-9.3 3.2-7.8-4.4 13.6z"/><path class="d74" d="M1042.3 817.4l4.4-14.6 3.1-3.5-4.3 13z"/><path class="d76" d="M1037.9 824.7l7.6-12.4-4.4 12z"/><path class="d73" d="M1033.6 828.2l4.3-3.5 3.2-.4-4.4 3.4z"/><path class="d70" d="M1029.2 835.7l4.4-7.5 3.1-.5-4.3 7.1z"/><path class="d25" d="M1024.9 840.2l4.3-4.5 3.2-.9-4.4 6.8z"/><path class="d21" d="M1016.2 850.6l4.3-4.8 4.4-5.6 3.1 1.4-4.3 5.8-4.4 3.5z"/><path class="d7" d="M1011.8 857l4.4-6.4 3.1 .3-4.3 6.8z"/><path class="d4" d="M998.7 868.4l4.4-3.7 4.3-5.8 4.4-1.9 3.2 .7-4.4 5.1-4.3 3.8-4.4 2.8z"/><path class="d3" d="M977 881.4l4.3-1.1 8.7-5.1 8.7-6.8 3.2 1-4.4 4.8-4.3 1.6-4.4 4.1-4.3 1.3-4.4 4.7z"/><path class="d12" d="M963.9 889.8l4.3-1 4.4-4.8 4.4-2.6 3.1 4.5-4.3 .2-4.4 3.4-4.4 .6z"/><path class="d7" d="M959.5 895.2l4.4-5.4 3.1 .3-4.3 .1z"/><path class="d21" d="M942.1 904.9l4.4-2.9 4.3-4.8 4.4-2 4.3 0 3.2-5-4.4 2.6-4.3 1.6-4.4 4-4.3-.1z"/><path class="d25" d="M933.4 911.1l4.3-5.3 4.4-.9 3.2-6.6-4.4 2-4.3-1.3z"/><path class="d79" d="M911.6 930.8l8.7-11 4.4-.3 4.3-5.5 4.4-2.9 3.2-12.1-4.4 8.5-4.4-1.2-4.3 6.6-4.4-3-4.3 5.2z"/><path class="d70" d="M1076 801.3l4.3-1.4 4.4-5.5 4.3-1 3.2-2.2-4.4 3.7-4.3 5-4.4 1.7z"/><path class="d60" d="M1071.6 796.2l4.4 5.1 3.1 .3-4.3-11.9z"/><path class="d80" d="M1067.2 779l4.4 17.2 3.2-6.5-4.4-11.6z"/><path class="d103" d="M1062.9 774l4.3 5 3.2-.9-4.4-6.5z"/><path class="d104" d="M1058.5 780l4.4-6 3.1-2.4-4.3-2.2z"/><path class="d105" d="M1054.2 785.7l4.3-5.7 3.2-10.6-4.4 19.6z"/><path class="d106" d="M1049.8 799.3l4.4-13.6 3.1 3.3-4.3 7.2z"/><path class="d74" d="M1045.5 812.3l4.3-13 3.2-3.1-4.4 17.9z"/><path class="d76" d="M1041.1 824.3l4.4-12 3.1 1.8-4.3 8.4z"/><path class="d67" d="M1036.7 827.7l4.4-3.4 3.2-1.8-4.4 8z"/><path class="d70" d="M1032.4 834.8l4.3-7.1 3.2 2.8-4.3 3.2z"/><path class="d25" d="M1028 841.6l4.4-6.8 3.2-1.1-4.4 8.4z"/><path class="d24" d="M1019.3 850.9l4.4-3.5 4.3-5.8 3.2 .5-8.7 12z"/><path class="d12" d="M1015 857.7l4.3-6.8 3.2 3.2-4.4 3z"/><path class="d3" d="M1001.9 869.4l4.4-2.8 4.3-3.8 4.4-5.1 3.1-.6-4.3 6.5-4.4 3.4-4.3 4.2z"/><path class="d8" d="M997.5 874.2l4.4-4.8 3.2 1.8-4.4 5.5z"/><path class="d9" d="M975.8 886.1l4.3-.2 4.4-4.7 4.3-1.3 4.4-4.1 4.3-1.6 3.2 2.5-8.7 5.6-4.4 4.5-4.3 2-4.4 2.6z"/><path class="d2" d="M967 890.1l4.4-.6 4.4-3.4 3.1 5.3-4.3 4.1-4.4 1.8z"/><path class="d29" d="M958.3 892.8l4.4-2.6 4.3-.1 3.2 7.2-4.3 2.7-4.4-.4z"/><path class="d30" d="M945.3 898.3l4.3 .1 4.4-4 4.3-1.6 3.2 6.8-4.4 4.5-4.3 1.2-4.4 1.9z"/><path class="d31" d="M940.9 900.3l4.4-2 3.1 8.9-4.3 3.9z"/><path class="d37" d="M936.6 899l4.3 1.3 3.2 10.8-4.4-1.8z"/><path class="d39" d="M932.2 907.5l4.4-8.5 3.1 10.3-4.3 3.8z"/><path class="d31" d="M927.8 906.3l4.4 1.2 3.2 5.6-4.4 2.2z"/><path class="d43" d="M914.8 915.1l4.3-5.2 4.4 3 4.3-6.6 3.2 9-4.3 3.4-4.4 4.5-4.4 2.3z"/><path class="d44" d="M1083.5 799.9l4.3-5 4.4-3.7 3.2 1.6-4.4 2.4-4.4 5.7z"/><path class="d70" d="M1079.1 801.6l4.4-1.7 3.1 1-4.3-1.4z"/><path class="d60" d="M1074.8 789.7l4.3 11.9 3.2-2.1-4.4-7.7z"/><path class="d107" d="M1070.4 778.1l4.4 11.6 3.1 2.1-4.3-18.6z"/><path class="d105" d="M1066 771.6l4.4 6.5 3.2-4.9-4.4-3.3z"/><path class="d104" d="M1061.7 769.4l4.3 2.2 3.2-1.7-4.3 2.1z"/><path class="d94" d="M1057.3 789l4.4-19.6 3.2 2.6-4.4 7z"/><path class="d106" d="M1053 796.2l4.3-7.2 3.2-10-4.4 19.2z"/><path class="d74" d="M1048.6 814.1l4.4-17.9 3.1 2-4.3 15.3z"/><path class="d76" d="M1044.3 822.5l4.3-8.4 3.2-.6-4.4 5.9z"/><path class="d67" d="M1039.9 830.5l4.4-8 3.1-3.1-4.3 9.4z"/><path class="d44" d="M1035.6 833.7l4.3-3.2 3.2-1.7-4.4 7.9z"/><path class="d49" d="M1031.2 842.1l4.4-8.4 3.1 3-4.3 7.1z"/><path class="d24" d="M1022.5 854.1l8.7-12 3.2 1.7-4.4 4.8-4.3 3.8z"/><path class="d12" d="M1018.1 857.1l4.4-3 3.2-1.7-4.4 7.6z"/><path class="d2" d="M1009.4 867l4.4-3.4 4.3-6.5 3.2 2.9-4.4 5-4.3 4z"/><path class="d9" d="M1005.1 871.2l4.3-4.2 3.2 2-4.4 4.9z"/><path class="d10" d="M996.4 879.5l4.3-2.8 4.4-5.5 3.1 2.7-8.7 9.8z"/><path class="d18" d="M987.6 886.8l4.4-4.5 4.4-2.8 3.1 4.2-8.7 6.5z"/><path class="d108" d="M983.3 888.8l4.3-2 3.2 3.4-4.4 4z"/><path class="d109" d="M965.9 900l4.3-2.7 4.4-1.8 4.3-4.1 4.4-2.6 3.1 5.4-13 8.6-4.4 2.3z"/><path class="d110" d="M961.5 899.6l4.4 .4 3.1 5.1-4.3 3z"/><path class="d111" d="M952.8 905.3l4.3-1.2 4.4-4.5 3.2 8.5-4.4 2.7-4.3 2.1z"/><path class="d112" d="M939.7 909.3l4.4 1.8 4.3-3.9 4.4-1.9 3.2 7.6-4.4 3.6-4.4 1-4.3 3z"/><path class="d113" d="M922.3 923.2l4.4-4.5 4.3-3.4 4.4-2.2 4.3-3.8 3.2 11.2-4.4 2.4-4.3 4.3-8.7 4.3z"/><path class="d114" d="M917.9 925.5l4.4-2.3 3.2 8.3-4.4 1.6z"/><path class="d44" d="M1091 795.2l4.4-2.4 3.1 3.5-4.3 1.2z"/><path class="d49" d="M1086.6 800.9l4.4-5.7 3.2 2.3-4.4 5.1z"/><path class="d44" d="M1082.3 799.5l4.3 1.4 3.2 1.7-4.4-1.5z"/><path class="d67" d="M1077.9 791.8l4.4 7.7 3.1 1.6z"/><path class="d107" d="M1073.6 773.2l4.3 18.6 3.2 4.1-4.4-23.9z"/><path class="d115" d="M1069.2 769.9l4.4 3.3 3.1-1.2-4.3-8.3z"/><path class="d105" d="M1064.9 772l4.3-2.1 3.2-6.2-4.4 11.4z"/><path class="d116" d="M1060.5 779l4.4-7 3.1 3.1-4.3 13.1z"/><path class="d117" d="M1056.1 798.2l4.4-19.2 3.2 9.2-4.4 7.2z"/><path class="d118" d="M1051.8 813.5l4.3-15.3 3.2-2.8-4.3 18.2z"/><path class="d60" d="M1047.4 819.4l4.4-5.9 3.2 .1-4.4 6.2z"/><path class="d50" d="M1043.1 828.8l4.3-9.4 3.2 .4-4.4 11.9z"/><path class="d44" d="M1038.7 836.7l4.4-7.9 3.1 2.9-4.3 5.6z"/><path class="d49" d="M1034.4 843.8l4.3-7.1 3.2 .6-4.4 7.4z"/><path class="d24" d="M1025.7 852.4l4.3-3.8 4.4-4.8 3.1 .9-4.3 3.5-4.4 7.9z"/><path class="d12" d="M1021.3 860l4.4-7.6 3.1 3.7-4.3 4z"/><path class="d3" d="M1016.9 865l4.4-5 3.2 .1-4.4 5.1z"/><path class="d8" d="M1012.6 869l4.3-4 3.2 .2-4.4 5.6z"/><path class="d9" d="M1008.2 873.9l4.4-4.9 3.1 1.8-4.3 5.4z"/><path class="d10" d="M1003.9 879.1l4.3-5.2 3.2 2.3-4.4 4.1z"/><path class="d14" d="M999.5 883.7l4.4-4.6 3.1 1.2-4.3 4.7z"/><path class="d52" d="M982.1 896.9l4.3-2.7 4.4-4 8.7-6.5 3.2 1.3-17.4 15.5z"/><path class="d57" d="M973.4 902.8l8.7-5.9 3.2 3.6-4.4 4.3-4.4 3.2z"/><path class="d119" d="M969 905.1l4.4-2.3 3.1 5.2-4.3 3.2z"/><path class="d59" d="M947.2 917.5l4.4-1 4.4-3.6 4.3-2.1 8.7-5.7 3.2 6.1-21.8 15.9z"/><path class="d120" d="M929.8 929.4l4.4-2.2 4.3-4.3 4.4-2.4 4.3-3 3.2 9.6-8.7 6.4-4.4 1.7-4.3 2.8z"/><path class="d121" d="M921.1 933.1l4.4-1.6 4.3-2.1 3.2 8.6-8.7 5.2z"/><path class="d31" d="M1089.8 802.6l4.4-5.1 4.3-1.2 3.2-1.7-4.4 5.6-4.3 1.9z"/><path class="d49" d="M1085.4 801.1l4.4 1.5 3.2-.5-4.4 .1z"/><path class="d50" d="M1081.1 795.9l4.3 5.2 3.2 1.1-4.3-5.2z"/><path class="d122" d="M1076.7 772l4.4 23.9 3.2 1.1-4.4-18.4z"/><path class="d123" d="M1072.4 763.7l7.5 14.9-4.4-12.7z"/><path class="d124" d="M1068 775.1l4.4-11.4 3.1 2.2-4.3 .8z"/><path class="d117" d="M1063.7 788.2l7.5-21.5-4.4 21.9z"/><path class="d107" d="M1059.3 795.4l4.4-7.2 3.1 .4-4.3 5.3z"/><path class="d125" d="M1055 813.6l4.3-18.2 3.2-1.5-4.4 18.6z"/><path class="d62" d="M1050.6 819.8l4.4-6.2 3.1-1.1-4.3 9z"/><path class="d70" d="M1046.2 831.7l4.4-11.9 3.2 1.7-4.4 10z"/><path class="d49" d="M1037.5 844.7l4.4-7.4 4.3-5.6 3.2-.2-8.7 11.7z"/><path class="d24" d="M1033.2 848.2l4.3-3.5 3.2-1.5-4.4 7.1z"/><path class="d12" d="M1024.5 860.1l4.3-4 4.4-7.9 3.1 2.1-4.3 4.4-4.4 6.6z"/><path class="d3" d="M1020.1 865.2l4.4-5.1 3.1 1.2-4.3 5.5z"/><path class="d8" d="M1015.7 870.8l4.4-5.6 3.2 1.6-4.4 5.4z"/><path class="d10" d="M1007 880.3l4.4-4.1 4.3-5.4 3.2 1.4-4.3 4.9-4.4 3.6z"/><path class="d14" d="M1002.7 885l4.3-4.7 3.2 .4-4.4 4.2z"/><path class="d23" d="M994 893l8.7-8 3.1-.1-8.7 8.3z"/><path class="d28" d="M985.3 900.5l8.7-7.5 3.1 .2-8.7 7.2z"/><path class="d63" d="M980.9 904.8l4.4-4.3 3.1-.1-4.3 3.7z"/><path class="d55" d="M967.8 914.4l13.1-9.6 3.2-.7-13.1 9.7z"/><path class="d56" d="M959.1 920.7l8.7-6.3 3.2-.6-8.7 6.5z"/><path class="d65" d="M950.4 927.1l8.7-6.4 3.2-.4-4.4 4.4-4.3 1.9z"/><path class="d126" d="M946 930.3l4.4-3.2 3.2-.5-4.4 3.3z"/><path class="d66" d="M941.7 933.5l4.3-3.2 3.2-.4-4.3 4.3z"/><path class="d126" d="M928.6 940.6l8.7-5.4 4.4-1.7 3.2 .7-4.4 2.2-4.4 4.2-4.3 3.2z"/><path class="d119" d="M924.3 943.2l4.3-2.6 3.2 3.2-4.4 3.2z"/><path class="d31" d="M1088.6 802.2l4.4-.1 4.3-1.9 4.4-5.6 3.1 2.6-4.3 3.2-4.4 5-4.3 1z"/><path class="d44" d="M1084.3 797l7.5 9.4-4.4-14.1z"/><path class="d69" d="M1079.9 778.6l4.4 18.4 3.1-4.7-4.3-10.3z"/><path class="d107" d="M1075.5 765.9l4.4 12.7 3.2 3.4-4.4-11.1z"/><path class="d106" d="M1071.2 766.7l4.3-.8 3.2 5-4.4 5.6z"/><path class="d127" d="M1066.8 788.6l4.4-21.9 3.1 9.8-4.3 9.6z"/><path class="d75" d="M1062.5 793.9l4.3-5.3 3.2-2.5-4.4 15.1z"/><path class="d68" d="M1058.1 812.5l4.4-18.6 3.1 7.3-4.3 8.1z"/><path class="d67" d="M1053.8 821.5l4.3-9 3.2-3.2-4.4 16.4z"/><path class="d44" d="M1049.4 831.5l4.4-10 3.1 4.2-4.3 5.3z"/><path class="d25" d="M1045 837.4l4.4-5.9 3.2-.5-4.4 7.3z"/><path class="d21" d="M1036.3 850.3l4.4-7.1 4.3-5.8 3.2 .9-4.3 7.6-4.4 4.6z"/><path class="d12" d="M1027.6 861.3l4.4-6.6 4.3-4.4 3.2 .2-8.7 10.2z"/><path class="d3" d="M1023.3 866.8l4.3-5.5 3.2-.6-4.4 7.3z"/><path class="d8" d="M1018.9 872.2l4.4-5.4 3.1 1.2-4.3 3.9z"/><path class="d11" d="M1010.2 880.7l4.4-3.6 4.3-4.9 3.2-.3-4.4 5.6-4.3 4.3z"/><path class="d13" d="M1005.8 884.9l4.4-4.2 3.2 1.1-4.4 4.4z"/><path class="d22" d="M992.8 897.1l8.7-7.7 4.3-4.5 3.2 1.3-13.1 10.8z"/><path class="d26" d="M988.4 900.4l4.4-3.3 3.1-.1-4.3 3.6z"/><path class="d28" d="M953.6 926.6l4.3-1.9 4.4-4.4 21.8-16.2 4.3-3.7 3.2 .2-21.8 16.6-4.4 2.7-4.3 3.5-4.4 2.8z"/><path class="d54" d="M936.1 940.6l4.4-4.2 4.4-2.2 4.3-4.3 4.4-3.3 3.1-.4-17.4 13.1z"/><path class="d55" d="M927.4 947l8.7-6.4 3.2-1.3-4.4 2.9-4.3 3.7z"/><path class="d30" d="M1100.5 800.4l4.3-3.2 3.2-.8-4.3 5.3z"/><path class="d24" d="M1091.8 806.4l4.3-1 4.4-5 3.2 1.3-4.4 4.1-4.4-2.1z"/><path class="d44" d="M1087.4 792.3l4.4 14.1 3.1-2.7-4.3-4.7z"/><path class="d62" d="M1083.1 782l7.5 17-4.4-18.2z"/><path class="d118" d="M1078.7 770.9l4.4 11.1 3.1-1.2-4.3-4.3z"/><path class="d80" d="M1074.3 776.5l4.4-5.6 3.2 5.6z"/><path class="d81" d="M1070 786.1l4.3-9.6 3.2 .2-4.3 3.5z"/><path class="d83" d="M1065.6 801.2l4.4-15.1 3.2-5.9-4.4 25.4z"/><path class="d76" d="M1061.3 809.3l4.3-8.1 3.2 4.4-4.4 11.7z"/><path class="d70" d="M1052.6 831l4.3-5.3 4.4-16.4 3.1 8-4.3 5.7-4.4 8.3z"/><path class="d25" d="M1048.2 838.3l4.4-7.3 3.1 .3-4.3 9.1z"/><path class="d21" d="M1039.5 850.5l4.4-4.6 4.3-7.6 3.2 2.1-4.4 6.4-4.3 5.1z"/><path class="d7" d="M1030.8 860.7l8.7-10.2 3.2 1.4-4.4 4.2-4.3 5.5z"/><path class="d4" d="M1026.4 868l4.4-7.3 3.2 .9-4.4 5.6z"/><path class="d8" d="M1022.1 871.9l4.3-3.9 3.2-.8-4.4 6.1z"/><path class="d11" d="M1013.4 881.8l4.3-4.3 4.4-5.6 3.1 1.4-8.7 9.4z"/><path class="d13" d="M1009 886.2l4.4-4.4 3.1 .9-4.3 3.7z"/><path class="d22" d="M991.6 900.6l17.4-14.4 3.2 .2-4.4 4.7-13.1 10.5z"/><path class="d26" d="M952.4 929.4l8.7-6 4.3-3.5 4.4-2.7 21.8-16.6 3.1 1-17.4 13.3-21.8 15.2z"/><path class="d22" d="M948 932.6l4.4-3.2 3.1 .7-4.3 2.8z"/><path class="d26" d="M930.6 945.9l4.4-3.7 13-9.6 3.2 .3-13.1 9.9-4.3 2.8z"/><path class="d24" d="M1103.7 801.7l4.3-5.3 3.2 2.9-4.4 2z"/><path class="d30" d="M1099.3 805.8l4.4-4.1 3.1-.4-4.3 5.3z"/><path class="d24" d="M1094.9 803.7l4.4 2.1 3.2 .8-4.4-.4z"/><path class="d79" d="M1090.6 799l4.3 4.7 3.2 2.5-4.4-11.8z"/><path class="d128" d="M1086.2 780.8l4.4 18.2 3.1-4.6-4.3-17.8z"/><path class="d82" d="M1073.2 780.2l4.3-3.5 4.4-.2 4.3 4.3 3.2-4.2-4.4-13.3-4.3-1.6-4.4 19z"/><path class="d129" d="M1068.8 805.6l4.4-25.4 3.1 .5-4.3 10.8z"/><path class="d73" d="M1064.4 817.3l4.4-11.7 3.2-14.1-4.4 17.8z"/><path class="d130" d="M1060.1 823l4.3-5.7 3.2-8-4.3 15.2z"/><path class="d79" d="M1051.4 840.4l8.7-17.4 3.2 1.5-8.8 10.5z"/><path class="d21" d="M1047 846.8l7.5-11.8-4.3 8.2z"/><path class="d17" d="M1042.7 851.9l7.5-8.7-4.4 5.8z"/><path class="d7" d="M1034 861.6l4.3-5.5 7.5-7.1-4.3 7.5-4.4 4.3z"/><path class="d4" d="M1029.6 867.2l4.4-5.6 3.1-.8-4.3 7.8z"/><path class="d45" d="M1020.9 878.2l4.3-4.9 4.4-6.1 3.2 1.4-4.4 4-4.4 5z"/><path class="d11" d="M1016.5 882.7l4.4-4.5 3.1-.6-4.3 5.7z"/><path class="d13" d="M1012.2 886.4l4.3-3.7 3.2 .6-4.4 4.5z"/><path class="d22" d="M999.1 898.1l8.7-7 4.4-4.7 3.1 1.4-13 11.5z"/><path class="d26" d="M933.8 945.6l56.6-40.6 8.7-6.9 3.2 1.2-21.8 16.8-39.2 27.7-4.4 3.5z"/><path class="d30" d="M1102.5 806.6l4.3-5.3 4.4-2 3.1 .7-4.3 6.5-4.4-1.2z"/><path class="d24" d="M1098.1 806.2l4.4 .4 3.1-1.3-4.3 1.3z"/><path class="d25" d="M1093.7 794.4l4.4 11.8 3.2 .4-4.4-11.3z"/><path class="d131" d="M1089.4 776.6l4.3 17.8 3.2 .9-4.3-19.1z"/><path class="d129" d="M1085 763.3l4.4 13.3 3.2-.4-4.4-15.2z"/><path class="d86" d="M1080.7 761.7l4.3 1.6 3.2-2.3-4.4 3.2z"/><path class="d82" d="M1076.3 780.7l4.4-19 3.1 2.5-4.3 10.3z"/><path class="d128" d="M1072 791.5l4.3-10.8 3.2-6.2-4.4 16.4z"/><path class="d132" d="M1067.6 809.3l4.4-17.8 3.1-.6-4.3 20.1z"/><path class="d130" d="M1063.3 824.5l4.3-15.2 3.2 1.7-4.4 9z"/><path class="d133" d="M1058.9 829.7l7.5-9.7-4.3 10.3z"/><path class="d79" d="M1054.5 835l4.4-5.3 3.2 .6-4.4 4.8z"/><path class="d17" d="M1045.8 849l4.4-5.8 4.3-8.2 3.2 .1-4.4 9.1-4.3 4.8z"/><path class="d5" d="M1041.5 856.5l4.3-7.5 3.2 0-4.4 5.7z"/><path class="d7" d="M1032.8 868.6l4.3-7.8 4.4-4.3 3.1-1.8-4.3 5.7-4.4 6.6z"/><path class="d4" d="M1028.4 872.6l4.4-4 3.1-1.6-4.3 7.2z"/><path class="d45" d="M1024 877.6l4.4-5 3.2 1.6-4.4 5.1z"/><path class="d15" d="M1019.7 883.3l4.3-5.7 3.2 1.7-4.3 3.9z"/><path class="d13" d="M1015.3 887.8l4.4-4.5 3.2-.1-4.4 4.7z"/><path class="d22" d="M1002.3 899.3l13-11.5 3.2 .1-4.4 4.6-8.7 7.8z"/><path class="d26" d="M993.6 906.3l8.7-7 3.1 1-8.7 6.9z"/><path class="d28" d="M989.2 909.4l4.4-3.1 3.1 .9-4.3 3.5z"/><path class="d63" d="M980.5 916.1l8.7-6.7 3.2 1.3-4.4 4.3-4.4 3.2z"/><path class="d27" d="M976.1 918.9l4.4-2.8 3.1 2.1-4.3 3.2z"/><path class="d63" d="M950 937.8l26.1-18.9 3.2 2.5-4.4 2.1-4.3 4.3-4.4 3.1-4.3 2.1-4.4 4.3-4.3 2.1z"/><path class="d28" d="M936.9 947.3l13.1-9.5 3.2 1.6-13.1 9.4z"/><path class="d29" d="M1105.6 805.3l4.4 1.2 4.3-6.5 3.2 .3-4.4 5.4-4.3 4.4z"/><path class="d24" d="M1101.3 806.6l4.3-1.3 3.2 4.8-4.4-5.2z"/><path class="d25" d="M1096.9 795.3l4.4 11.3 3.1-1.7-4.3-19.5z"/><path class="d132" d="M1092.6 776.2l4.3 19.1 3.2-9.9-4.4-25.2z"/><path class="d129" d="M1088.2 761l4.4 15.2 3.1-16-4.3-1.3z"/><path class="d134" d="M1083.8 764.2l7.6-5.3-4.4-11.7z"/><path class="d94" d="M1079.5 774.5l4.3-10.3 3.2-17-4.3 22.2z"/><path class="d95" d="M1075.1 790.9l4.4-16.4 3.2-5.1-4.4 22z"/><path class="d132" d="M1070.8 811l4.3-20.1 3.2 .5z"/><path class="d130" d="M1066.4 820l4.4-9 3.1-8-4.3 14.2z"/><path class="d25" d="M1062.1 830.3l4.3-10.3 3.2-2.8-4.4 8.8z"/><path class="d17" d="M1049 849l4.3-4.8 4.4-9.1 4.4-4.8 3.1-4.3-4.3 10.4-4.4 3.4-4.3 8.9z"/><path class="d5" d="M1044.6 854.7l4.4-5.7 3.2-.3-4.4 6.3z"/><path class="d7" d="M1040.3 860.4l4.3-5.7 3.2 .3-4.4 7.4z"/><path class="d12" d="M1035.9 867l4.4-6.6 3.1 2-4.3 4.1z"/><path class="d4" d="M1031.6 874.2l4.3-7.2 3.2-.5-4.4 7.2z"/><path class="d45" d="M1027.2 879.3l4.4-5.1 3.1-.5-4.3 4.8z"/><path class="d11" d="M1022.9 883.2l4.3-3.9 3.2-.8-4.4 5.6z"/><path class="d13" d="M1014.1 892.5l8.8-9.3 3.1 .9-8.7 9.3z"/><path class="d22" d="M1009.8 896.2l4.3-3.7 3.2 .9-4.3 4z"/><path class="d26" d="M1001.1 904l8.7-7.8 3.1 1.2-8.7 7.6z"/><path class="d27" d="M996.7 907.2l4.4-3.2 3.1 1-4.3 4.4z"/><path class="d63" d="M992.4 910.7l4.3-3.5 3.2 2.2-4.4 3.2z"/><path class="d71" d="M979.3 921.4l8.7-6.4 4.4-4.3 3.1 1.9-13 9.6z"/><path class="d72" d="M953.2 939.4l4.3-2.1 4.4-4.3 4.3-2.1 4.4-3.1 4.3-4.3 4.4-2.1 3.2 .8-26.2 19.1z"/><path class="d63" d="M940.1 948.8l13.1-9.4 3.1 1.9-13.1 9.5z"/><path class="d29" d="M1108.8 810.1l4.3-4.4 4.4-5.4 3.2 2.1-4.4 5.4-4.3 2.9z"/><path class="d12" d="M1104.4 804.9l4.4 5.2 3.2 .6-4.4-4.9z"/><path class="d25" d="M1100.1 785.4l4.3 19.5 3.2 .9-4.4-13z"/><path class="d85" d="M1095.7 760.2l4.4 25.2 3.1 7.4-4.3-25.8z"/><path class="d135" d="M1091.4 758.9l4.3 1.3 3.2 6.8-4.4-13.4z"/><path class="d136" d="M1087 747.2l4.4 11.7 3.1-5.3-4.3-6.2z"/><path class="d137" d="M1082.7 769.4l4.3-22.2 3.2 .2z"/><path class="d60" d="M1078.3 791.4l4.4-22 3.1-9.1-4.3 20.2z"/><path class="d44" d="M1073.9 803l4.4-11.6 3.2-10.9-4.4 21.3z"/><path class="d25" d="M1065.2 826l4.4-8.8 4.3-14.2 3.2-1.2-4.4 10.9-4.3 13.7z"/><path class="d21" d="M1052.2 848.7l4.3-8.9 4.4-3.4 4.3-10.4 3.2 .4-4.4 6.3-4.3 9-4.4 5.4z"/><path class="d12" d="M1039.1 866.5l4.3-4.1 4.4-7.4 4.4-6.3 3.1-1.6-8.7 12.9-4.3 7.5z"/><path class="d3" d="M1034.7 873.7l4.4-7.2 3.2 1-4.4 5.2z"/><path class="d8" d="M1030.4 878.5l4.3-4.8 3.2-1-4.4 6z"/><path class="d11" d="M1026 884.1l4.4-5.6 3.1 .2-4.3 5.3z"/><path class="d13" d="M1017.3 893.4l8.7-9.3 3.2-.1-4.4 5.5-4.3 4.3z"/><path class="d22" d="M1013 897.4l4.3-4 3.2 .4-4.4 4.1z"/><path class="d26" d="M1004.2 905l8.8-7.6 3.1 .5-8.7 7.8z"/><path class="d27" d="M999.9 909.4l4.3-4.4 3.2 .7-4.4 4.5z"/><path class="d71" d="M952 944.4l47.9-35 3.1 .8-47.9 35z"/><path class="d72" d="M943.2 950.8l8.8-6.4 3.1 .8-8.7 6.4z"/><path class="d29" d="M1107.6 805.8l4.4 4.9 4.3-2.9 4.4-5.4 3.1 3.4-4.3 2-4.4 4z"/><path class="d24" d="M1103.2 792.8l4.4 13 3.2 2.4-4.4-12.7z"/><path class="d49" d="M1098.9 767l4.3 25.8 3.2 2.7-4.4-34.3z"/><path class="d138" d="M1094.5 753.6l4.4 13.4 3.1-5.8-4.3-7.7z"/><path class="d139" d="M1090.2 747.4l4.3 6.2 3.2-.1-4.4 12z"/><path class="d140" d="M1085.8 760.3l4.4-12.9 3.1 18.1-4.3 10.6z"/><path class="d43" d="M1081.5 780.5l4.3-20.2 3.2 15.8-4.4 18.7z"/><path class="d31" d="M1077.1 801.8l4.4-21.3 3.1 14.3-4.3 7.2z"/><path class="d49" d="M1072.7 812.7l4.4-10.9 3.2 .2-4.4 19.4z"/><path class="d21" d="M1068.4 826.4l4.3-13.7 3.2 8.7-4.3 7.3z"/><path class="d24" d="M1064 832.7l4.4-6.3 3.2 2.3-4.4 7.7z"/><path class="d30" d="M1059.7 841.7l4.3-9 3.2 3.7-4.4 4.5z"/><path class="d12" d="M1042.3 867.5l8.7-14.3 8.7-11.5 3.1-.8-8.7 14.1-4.3 8.6-4.4 6.2z"/><path class="d3" d="M1037.9 872.7l4.4-5.2 3.1 2.3-4.3 4.6z"/><path class="d8" d="M1033.5 878.7l4.4-6 3.2 1.7-4.4 6.1z"/><path class="d11" d="M1029.2 884l4.3-5.3 3.2 1.8-4.4 5.1z"/><path class="d13" d="M1020.5 893.8l4.3-4.3 4.4-5.5 3.1 1.6-8.7 8.8z"/><path class="d22" d="M1016.1 897.9l4.4-4.1 3.1 .6-4.3 4.3z"/><path class="d26" d="M1007.4 905.7l8.7-7.8 3.2 .8-8.7 7.6z"/><path class="d27" d="M1003 910.2l4.4-4.5 3.2 .6-4.4 4.7z"/><path class="d71" d="M946.4 951.6l56.6-41.4 3.2 .8-56.6 41.3z"/><path class="d29" d="M1110.8 808.2l4.3 3.6 4.4-4 4.3-2 3.2 1.2-4.4 4.5-4.3 0-4.4-2.3z"/><path class="d32" d="M1106.4 795.5l4.4 12.7 3.1 1-4.3-18.2z"/><path class="d141" d="M1102 761.2l4.4 34.3 3.2-4.5-4.4-19.4z"/><path class="d142" d="M1097.7 753.5l4.3 7.7 3.2 10.4z"/><path class="d143" d="M1093.3 765.5l4.4-12 3.2 7.6-4.4-7.5z"/><path class="d144" d="M1089 776.1l4.3-10.6 3.2-11.9-4.4 29.1z"/><path class="d37" d="M1080.3 802l4.3-7.2 4.4-18.7 3.1 6.6-4.3 9.8-4.4 20.3z"/><path class="d32" d="M1075.9 821.4l4.4-19.4 3.1 10.8-4.3 11.7z"/><path class="d30" d="M1071.6 828.7l4.3-7.3 3.2 3.1z"/><path class="d29" d="M1045.4 869.8l4.4-6.2 4.3-8.6 8.7-14.1 4.4-4.5 4.4-7.7 3.1-1.9-4.3 8.9-4.4 6.4-4.4 9.2-4.3 7.9-8.7 10.5z"/><path class="d2" d="M1041.1 874.4l4.3-4.6 3.2-.1-4.4 6.7z"/><path class="d8" d="M1036.7 880.5l4.4-6.1 3.1 2-4.3 5.6z"/><path class="d11" d="M1032.3 885.6l4.4-5.1 3.2 1.5-4.4 4.1z"/><path class="d13" d="M1023.6 894.4l8.7-8.8 3.2 .5-8.7 9.7z"/><path class="d22" d="M1019.3 898.7l4.3-4.3 3.2 1.4-4.4 3.7z"/><path class="d26" d="M1010.6 906.3l8.7-7.6 3.1 .8-8.7 7.9z"/><path class="d27" d="M1006.2 911l4.4-4.7 3.1 1.1-4.3 4.3z"/><path class="d71" d="M949.6 952.3l56.6-41.3 3.2 .7-56.7 41.4z"/><path class="d29" d="M1109.6 791l4.3 18.2 4.4 2.3 4.3 0 4.4-4.5 3.2 0-4.4 6.1-4.4 0-4.3-1.2-4.4-14.5z"/><path class="d32" d="M1105.2 771.6l4.4 19.4 3.1 6.4z"/><path class="d141" d="M1100.9 761.1l4.3 10.5 3.2 10.7-4.4-11.4z"/><path class="d145" d="M1096.5 753.6l4.4 7.5 3.1 9.8-4.3 4.1z"/><path class="d146" d="M1092.1 782.7l4.4-29.1 3.2 21.4-4.4 3.5z"/><path class="d147" d="M1087.8 792.5l4.3-9.8 3.2-4.2-4.3 22.9z"/><path class="d148" d="M1079.1 824.5l4.3-11.7 4.4-20.3 3.2 8.9-4.4 14.3z"/><path class="d114" d="M1074.7 826.8l4.4-2.3 3.1-3.7-4.3 9.4z"/><path class="d149" d="M1070.4 835.7l4.3-8.9 3.2 3.4-4.4 12.3z"/><path class="d29" d="M1061.6 851.3l4.4-9.2 4.4-6.4 3.1 6.8-4.3 6.7-4.4 2.8z"/><path class="d149" d="M1057.3 859.2l4.3-7.9 3.2 .7-4.3 6.6z"/><path class="d29" d="M1052.9 864.2l4.4-5 3.2-.6-4.4 6.8z"/><path class="d2" d="M1044.2 876.4l4.4-6.7 4.3-5.5 3.2 1.2-4.4 7.3-4.3 4.1z"/><path class="d9" d="M1039.9 882l4.3-5.6 3.2 .4-4.4 6z"/><path class="d10" d="M1035.5 886.1l4.4-4.1 3.1 .8-4.3 5.4z"/><path class="d13" d="M1031.2 891.2l4.3-5.1 3.2 2.1-4.4 4.4z"/><path class="d22" d="M1022.4 899.5l4.4-3.7 4.4-4.6 3.1 1.4-8.7 8.2z"/><path class="d26" d="M1013.7 907.4l8.7-7.9 3.2 1.3-8.7 7.3z"/><path class="d27" d="M1009.4 911.7l4.3-4.3 3.2 .7-4.4 4.4z"/><path class="d71" d="M952.7 953.1l56.7-41.4 3.1 .8-56.6 41.4z"/><path class="d149" d="M1125.8 813.1l4.4-6.1 3.1 4.5-4.3 1.3z"/><path class="d29" d="M1112.7 797.4l4.4 14.5 4.3 1.2 7.6-.3-4.4 3.5-4.3-.8-4.4-13.3z"/><path class="d114" d="M1108.4 782.3l4.3 15.1 3.2 4.8-4.4-17.7z"/><path class="d147" d="M1104 770.9l4.4 11.4 3.1 2.2-4.3-18.4z"/><path class="d150" d="M1099.7 775l4.3-4.1 3.2-4.8-4.4 3.1z"/><path class="d47" d="M1095.3 778.5l4.4-3.5 3.1-5.8-4.3 14.7z"/><path class="d30" d="M1091 801.4l4.3-22.9 3.2 5.4-4.4 19.2z"/><path class="d149" d="M1086.6 815.7l4.4-14.3 3.1 1.7-4.3 15z"/><path class="d114" d="M1082.2 820.8l4.4-5.1 3.2 2.4-4.4 6.6z"/><path class="d149" d="M1073.5 842.5l4.4-12.3 4.3-9.4 3.2 3.9-4.4 12.4-4.3 4.5z"/><path class="d29" d="M1056.1 865.4l8.7-13.4 4.4-2.8 4.3-6.7 3.2-.9-4.4 8.6-4.3 7.3-8.7 10.8z"/><path class="d3" d="M1047.4 876.8l4.3-4.1 4.4-7.3 3.2 2.9-4.4 4.9-4.3 5.6z"/><path class="d9" d="M1043 882.8l4.4-6 3.2 2-4.4 5.8z"/><path class="d11" d="M1038.7 888.2l4.3-5.4 3.2 1.8-4.4 4.4z"/><path class="d13" d="M1034.3 892.6l4.4-4.4 3.1 .8-4.3 4.2z"/><path class="d22" d="M1025.6 900.8l8.7-8.2 3.2 .6-8.7 8.5z"/><path class="d26" d="M1016.9 908.1l8.7-7.3 3.2 .9-8.7 7.2z"/><path class="d27" d="M1012.5 912.5l4.4-4.4 3.2 .8-4.4 4.4z"/><path class="d71" d="M955.9 953.9l56.6-41.4 3.2 .8-56.6 41.3z"/><path class="d29" d="M1124.6 816.3l4.4-3.5 4.3-1.3 3.2 1.1-4.4 3.7-4.3 1.7z"/><path class="d149" d="M1115.9 802.2l4.4 13.3 4.3 .8 3.2 1.7-4.4-4.8-4.3-10.8z"/><path class="d114" d="M1111.5 784.5l4.4 17.7 3.2 .2-4.4-21.6z"/><path class="d148" d="M1107.2 766.1l4.3 18.4 3.2-3.7-4.4-3z"/><path class="d151" d="M1102.8 769.2l4.4-3.1 3.1 11.7-4.3-3.3z"/><path class="d152" d="M1098.5 783.9l4.3-14.7 3.2 5.3-4.4 8.5z"/><path class="d149" d="M1089.8 818.1l4.3-15 4.4-19.2 3.1-.9-4.3 18.5-4.4 14.1z"/><path class="d29" d="M1081 837.1l4.4-12.4 4.4-6.6 3.1-2.5-4.3 15-4.4 5.8z"/><path class="d149" d="M1072.3 850.2l4.4-8.6 4.3-4.5 3.2-.7-4.3 8.8-4.4 3.3z"/><path class="d29" d="M1068 857.5l4.3-7.3 3.2-1.7-4.4 8.9z"/><path class="d12" d="M1063.6 862.6l4.4-5.1 3.1-.1-4.3 6.8z"/><path class="d2" d="M1054.9 873.2l4.4-4.9 4.3-5.7 3.2 1.6-8.7 9.6z"/><path class="d8" d="M1050.6 878.8l4.3-5.6 3.2 .6-4.4 5.4z"/><path class="d11" d="M1041.8 889l4.4-4.4 4.4-5.8 3.1 .4-4.3 5.9-4.4 4.2z"/><path class="d13" d="M1037.5 893.2l4.3-4.2 3.2 .3-4.4 4.9z"/><path class="d22" d="M1033.1 897.6l4.4-4.4 3.1 1-4.3 4.2z"/><path class="d26" d="M1020.1 908.9l13-11.3 3.2 .8-13.1 11.3z"/><path class="d27" d="M1015.7 913.3l4.4-4.4 3.1 .8-4.3 4.3z"/><path class="d71" d="M959.1 954.6l56.6-41.3 3.2 .7-56.7 41.4z"/><path class="d1" d="M1132.1 816.3l4.4-3.7 3.1 3.1-4.3 2.2z"/><path class="d2" d="M1127.8 818l4.3-1.7 3.2 1.6-4.4 3z"/><path class="d29" d="M1110.3 777.8l4.4 3 4.4 21.6 4.3 10.8 4.4 4.8 3.1 2.9-4.3-2.2-4.4-15.1-8.7-35.2z"/><path class="d125" d="M1106 774.5l4.3 3.3 3.2-9.4-4.3 2z"/><path class="d48" d="M1101.6 783l4.4-8.5 3.2-4.1-4.4 14.3z"/><path class="d149" d="M1084.2 836.4l4.4-5.8 8.7-29.1 4.3-18.5 3.2 1.7-4.4 14.8-4.3 22.5-8.7 18.2z"/><path class="d29" d="M1079.9 845.2l4.3-8.8 3.2 3.8-4.4 4.6z"/><path class="d12" d="M1075.5 848.5l4.4-3.3 3.1-.4-4.3 5z"/><path class="d29" d="M1066.8 864.2l4.3-6.8 4.4-8.9 3.2 1.3-4.4 6-4.4 7z"/><path class="d2" d="M1062.4 868.7l4.4-4.5 3.1-1.4-4.3 5.7z"/><path class="d3" d="M1058.1 873.8l4.3-5.1 3.2-.2-4.4 6z"/><path class="d8" d="M1053.7 879.2l4.4-5.4 3.1 .7-4.3 5.8z"/><path class="d11" d="M1045 889.3l4.4-4.2 4.3-5.9 3.2 1.1-4.4 6-4.3 4.1z"/><path class="d13" d="M1040.6 894.2l4.4-4.9 3.2 1.1-4.4 4.1z"/><path class="d22" d="M1031.9 902.3l8.7-8.1 3.2 .3-8.7 8.4z"/><path class="d26" d="M1027.6 906.2l4.3-3.9 3.2 .6-4.4 3.9z"/><path class="d27" d="M1023.2 909.7l4.4-3.5 3.1 .6-4.3 4.8z"/><path class="d71" d="M962.2 955.4l56.7-41.4 4.3-4.3 3.2 1.9-61 44.6z"/><path class="d1" d="M1135.3 817.9l4.3-2.2 3.2-.6-4.3 3.9z"/><path class="d2" d="M1126.6 818.7l4.3 2.2 4.4-3 3.2 1.1-4.4 3.2-4.4-3.5z"/><path class="d29" d="M1117.9 785.8l4.3 17.8 4.4 15.1 3.1 0-4.3-14.8-4.4-17.5z"/><path class="d149" d="M1113.5 768.4l4.4 17.4 3.1 .6-4.3-6.2z"/><path class="d153" d="M1109.2 770.4l4.3-2 3.2 11.8-4.4-1.8z"/><path class="d38" d="M1104.8 784.7l4.4-14.3 3.1 8-4.3 8.7z"/><path class="d114" d="M1100.4 799.5l4.4-14.8 3.2 2.4-4.4 22.7z"/><path class="d29" d="M1078.7 849.8l8.7-9.6 8.7-18.2 4.3-22.5 3.2 10.3-4.4 8.7-4.3 12.6-4.4 6.1-4.3 8.3-4.4 6.9z"/><path class="d12" d="M1069.9 862.8l4.4-7 4.4-6 3.1 2.6-4.3 5.3-4.4 6.6z"/><path class="d3" d="M1061.2 874.5l8.7-11.7 3.2 1.5-4.3 7.4-4.4 4.2z"/><path class="d8" d="M1056.9 880.3l4.3-5.8 3.2 1.4-4.4 4.9z"/><path class="d11" d="M1052.5 886.3l4.4-6 3.1 .5-4.3 5.5z"/><path class="d13" d="M1043.8 894.5l8.7-8.2 3.2 0-4.4 5.4-4.3 4.2z"/><path class="d22" d="M1035.1 902.9l8.7-8.4 3.2 1.4-8.7 8z"/><path class="d26" d="M1030.7 906.8l4.4-3.9 3.2 1-4.4 3.8z"/><path class="d27" d="M1026.4 911.6l4.3-4.8 3.2 .9-4.4 4.7z"/><path class="d71" d="M965.4 956.2l61-44.6 3.1 .8-60.9 44.5z"/><path class="d2" d="M1129.7 818.7l4.4 3.5 4.4-3.2 4.3-3.9 3.2 3.6-4.4 2.8-4.3 .9-4.4-3.4z"/><path class="d149" d="M1125.4 803.9l4.3 14.8 3.2 .3-4.3-10.8z"/><path class="d114" d="M1121 786.4l4.4 17.5 3.2 4.3-4.4-19.8z"/><path class="d149" d="M1112.3 778.4l4.4 1.8 4.3 6.2 3.2 2-4.4-9.6-4.3 4.4z"/><path class="d113" d="M1108 787.1l4.3-8.7 3.2 4.8-4.4 10.3z"/><path class="d149" d="M1099.2 818.5l4.4-8.7 4.4-22.7 3.1 6.4-4.3 19-4.4 13.1z"/><path class="d29" d="M1094.9 831.1l4.3-12.6 3.2 7.1-4.3 8z"/><path class="d12" d="M1081.8 852.4l4.4-6.9 4.3-8.3 4.4-6.1 3.2 2.5-8.8 13.2-4.3 8z"/><path class="d2" d="M1077.5 857.7l4.3-5.3 3.2 2.4-4.4 7.1z"/><path class="d3" d="M1068.8 871.7l8.7-14 3.1 4.2-4.3 5.2-4.4 4.3z"/><path class="d2" d="M1064.4 875.9l4.4-4.2 3.1-.3-4.3 6.7z"/><path class="d9" d="M1060 880.8l4.4-4.9 3.2 2.2-4.4 4.6z"/><path class="d11" d="M1051.3 891.7l8.7-10.9 3.2 1.9-8.7 9.2z"/><path class="d13" d="M1047 895.9l4.3-4.2 3.2 .2-4.4 4.6z"/><path class="d22" d="M1042.6 900l4.4-4.1 3.1 .6-4.3 4.1z"/><path class="d26" d="M1033.9 907.7l8.7-7.7 3.2 .6-8.7 8z"/><path class="d27" d="M1029.5 912.4l4.4-4.7 3.2 .9-4.4 4.5z"/><path class="d71" d="M968.6 956.9l60.9-44.5 3.2 .7-61 44.6z"/><path class="d2" d="M1132.9 819l4.4 3.4 4.3-.9 4.4-2.8 3.1 2.1-4.3 2.5-4.4 1.6-4.3-2.1z"/><path class="d29" d="M1128.6 808.2l4.3 10.8 3.2 3.8-4.4-9.2z"/><path class="d149" d="M1124.2 788.4l4.4 19.8 3.1 5.4-4.3-21.4z"/><path class="d113" d="M1111.1 793.5l4.4-10.3 4.3-4.4 4.4 9.6 3.2 3.8-4.4-10-4.4 2.9-4.3 18.2z"/><path class="d114" d="M1106.8 812.5l4.3-19 3.2 9.8-4.4 12.2z"/><path class="d29" d="M1102.4 825.6l4.4-13.1 3.1 3z"/><path class="d12" d="M1098.1 833.6l4.3-8 3.2-4.1-4.4 13.7z"/><path class="d29" d="M1093.7 840.4l4.4-6.8 3.1 1.6-4.3 7.5z"/><path class="d12" d="M1089.3 846.8l4.4-6.4 3.2 2.3-4.4 8.1z"/><path class="d3" d="M1085 854.8l4.3-8 3.2 4-4.3 4.1z"/><path class="d2" d="M1067.6 878.1l4.3-6.7 4.4-4.3 4.3-5.2 4.4-7.1 3.2 .1-4.4 8.1-4.4 3.8-4.3 5.9-4.4 5z"/><path class="d8" d="M1063.2 882.7l4.4-4.6 3.1-.4-4.3 6.7z"/><path class="d11" d="M1058.9 887.1l4.3-4.4 3.2 1.7-4.4 3.6z"/><path class="d13" d="M1050.1 896.5l8.8-9.4 3.1 .9-4.3 5.6-4.4 4.2z"/><path class="d22" d="M1045.8 900.6l4.3-4.1 3.2 1.3-4.4 4z"/><path class="d26" d="M1037.1 908.6l8.7-8 3.1 1.2-8.7 7.6z"/><path class="d27" d="M1032.7 913.1l4.4-4.5 3.1 .8-4.3 4.5z"/><path class="d71" d="M971.7 957.7l61-44.6 3.2 .8-61 44.6z"/><path class="d19" d="M1144.8 823.3l4.3-2.5 3.2 1.4-4.4 2.5z"/><path class="d2" d="M1131.7 813.6l4.4 9.2 4.3 2.1 4.4-1.6 3.1 1.4-4.3 1.2-4.4-1.2-4.3-9.4z"/><path class="d149" d="M1123 782.2l4.4 10 4.3 21.4 3.2 1.7-4.4-16.3-4.3-13.7z"/><path class="d29" d="M1118.6 785.1l4.4-2.9 3.2 3.1-4.4 8.9z"/><path class="d114" d="M1114.3 803.3l4.3-18.2 3.2 9.1-4.3 5.9z"/><path class="d149" d="M1109.9 815.5l4.4-12.2 3.2-3.2-4.4 11.4z"/><path class="d29" d="M1101.2 835.2l4.4-13.7 7.5-10-4.4 16.3-4.3 8.2z"/><path class="d2" d="M1079.4 866.8l4.4-3.8 4.4-8.1 4.3-4.1 8.7-15.6 3.2 .8-4.4 6.3-4.3 7.5-4.4 5.7-4.3 7.7-4.4 4.7z"/><path class="d3" d="M1070.7 877.7l4.4-5 4.3-5.9 3.2 1.1-4.4 6.8-4.3 5.1z"/><path class="d8" d="M1066.4 884.4l4.3-6.7 3.2 2.1-4.4 5.2z"/><path class="d11" d="M1062 888l4.4-3.6 3.1 .6-4.3 4.3z"/><path class="d13" d="M1057.7 893.6l4.3-5.6 3.2 1.3-4.4 4.4z"/><path class="d22" d="M1048.9 901.8l8.8-8.2 3.1 .1-8.7 9z"/><path class="d26" d="M1040.2 909.4l8.7-7.6 3.2 .9-8.7 7.5z"/><path class="d27" d="M1035.9 913.9l4.3-4.5 3.2 .8-4.4 4.5z"/><path class="d71" d="M974.9 958.5l61-44.6 3.1 .8-60.9 44.5z"/><path class="d9" d="M1147.9 824.7l4.4-2.5 3.2 2.2-4.4 2.8z"/><path class="d2" d="M1139.2 824.7l4.4 1.2 4.3-1.2 3.2 2.5-4.3 .7-4.4-1.2z"/><path class="d1" d="M1134.9 815.3l4.3 9.4 3.2 2-4.4-12.4z"/><path class="d0" d="M1130.5 799l4.4 16.3 3.1-1-4.3-13.1z"/><path class="d114" d="M1117.5 800.1l4.3-5.9 4.4-8.9 4.3 13.7 3.2 2.2-4.4-9.2-4.3 3.3-4.4 6.5z"/><path class="d149" d="M1113.1 811.5l4.4-11.4 3.1 1.7-4.3 8.8z"/><path class="d29" d="M1108.7 827.8l4.4-16.3 3.2-.9-4.4 16.2z"/><path class="d3" d="M1104.4 836l4.3-8.2 3.2-1-4.4 10.4z"/><path class="d2" d="M1091.3 855.5l4.4-5.7 4.3-7.5 4.4-6.3 3.1 1.2-4.3 9.3-4.4 3.2-4.3 6.8z"/><path class="d3" d="M1082.6 867.9l4.4-4.7 4.3-7.7 3.2 1-4.4 7.8-4.3 6z"/><path class="d2" d="M1078.2 874.7l4.4-6.8 3.2 2.4-4.4 5.3z"/><path class="d9" d="M1073.9 879.8l4.3-5.1 3.2 .9-4.3 5.6z"/><path class="d8" d="M1069.5 885l4.4-5.2 3.2 1.4-4.4 3.9z"/><path class="d11" d="M1065.2 889.3l4.3-4.3 3.2 .1-4.4 5z"/><path class="d13" d="M1056.5 898.4l8.7-9.1 3.1 .8-8.7 9z"/><path class="d22" d="M1052.1 902.7l4.4-4.3 3.1 .7-4.3 4.4z"/><path class="d26" d="M1043.4 910.2l8.7-7.5 3.2 .8-8.7 7.4z"/><path class="d27" d="M1039 914.7l4.4-4.5 3.2 .7-4.4 4.5z"/><path class="d71" d="M978.1 959.2l60.9-44.5 3.2 .7-61 44.6z"/><path class="d9" d="M1146.8 827.9l4.3-.7 4.4-2.8 3.1 1.3-4.3 2.5-4.4 1.5z"/><path class="d2" d="M1138 814.3l4.4 12.4 4.4 1.2 3.1 1.8-4.3-3.2-4.4-12.1z"/><path class="d1" d="M1133.7 801.2l4.3 13.1 3.2 .1-4.3-13.1z"/><path class="d0" d="M1129.3 792l4.4 9.2 3.2 .1-4.4-14.8z"/><path class="d114" d="M1125 795.3l4.3-3.3 3.2-5.5-4.4 2.5z"/><path class="d149" d="M1120.6 801.8l4.4-6.5 3.1-6.3-4.3 16.1z"/><path class="d2" d="M1116.3 810.6l4.3-8.8 3.2 3.3-4.4 8.5z"/><path class="d1" d="M1103.2 846.5l8.7-19.7 4.4-16.2 3.1 3-4.3 16.5-4.4 8.1-4.3 11.1z"/><path class="d2" d="M1081.4 875.6l8.7-11.3 4.4-7.8 4.3-6.8 4.4-3.2 3.2 2.8-4.4 3.7-4.4 8-8.7 11-4.3 3.6z"/><path class="d9" d="M1072.7 885.1l4.4-3.9 4.3-5.6 3.2 0-4.4 6.4-4.3 4.1z"/><path class="d11" d="M1068.3 890.1l4.4-5 3.2 1-4.4 5.5z"/><path class="d13" d="M1059.6 899.1l8.7-9 3.2 1.5-8.7 8.5z"/><path class="d22" d="M1055.3 903.5l4.3-4.4 3.2 1-4.4 4.3z"/><path class="d26" d="M1046.6 910.9l8.7-7.4 3.1 .9-8.7 7.4z"/><path class="d27" d="M1042.2 915.4l4.4-4.5 3.1 .9-4.3 4.4z"/><path class="d71" d="M981.2 960l61-44.6 3.2 .8-61 44.6z"/><path class="d11" d="M1154.3 828.2l4.3-2.5 3.2 1.6-4.4 1.8z"/><path class="d8" d="M1149.9 829.7l4.4-1.5 3.1 .9-4.3 3z"/><path class="d3" d="M1145.6 826.5l7.5 5.6-4.4-3.6z"/><path class="d2" d="M1136.9 801.3l8.7 25.2 3.1 2-4.3-6.9-4.4-16.7z"/><path class="d0" d="M1115.1 830.1l4.3-16.5 4.4-8.5 4.3-16.1 4.4-2.5 4.4 14.8 3.1 3.6-4.3-8.9-4.4 4.6-4.4 6.1-4.3 18.3-4.4 4.6z"/><path class="d2" d="M1110.7 838.2l4.4-8.1 3.1-.5-4.3 10.3z"/><path class="d1" d="M1097.6 861l4.4-8 4.4-3.7 4.3-11.1 3.2 1.7-8.7 17.5-4.4 3.6z"/><path class="d2" d="M1084.6 875.6l4.3-3.6 8.7-11 3.2 0-4.3 5.6-4.4 6.7-4.4 4.4z"/><path class="d9" d="M1080.2 882l4.4-6.4 3.1 2.1-4.3 5.8z"/><path class="d11" d="M1071.5 891.6l4.4-5.5 4.3-4.1 3.2 1.5-8.7 9.4z"/><path class="d13" d="M1067.2 895.6l4.3-4 3.2 1.3-4.4 4.4z"/><path class="d22" d="M1058.4 904.4l8.8-8.8 3.1 1.7-8.7 8z"/><path class="d26" d="M1049.7 911.8l8.7-7.4 3.2 .9-8.7 7.2z"/><path class="d27" d="M1045.4 916.2l4.3-4.4 3.2 .7-4.4 4.5z"/><path class="d71" d="M984.4 960.8l61-44.6 3.1 .8-61 44.5z"/><path class="d15" d="M1157.4 829.1l7.6-2.9-4.4 3.8z"/><path class="d45" d="M1153.1 832.1l4.3-3 3.2 .9-4.4 2z"/><path class="d3" d="M1148.7 828.5l4.4 3.6 3.1-.1-4.3-.7z"/><path class="d2" d="M1144.4 821.6l4.3 6.9 3.2 2.8-4.4-10.1z"/><path class="d1" d="M1140 804.9l4.4 16.7 3.1-.4-4.3-13.1z"/><path class="d0" d="M1126.9 806.7l4.4-6.1 4.4-4.6 4.3 8.9 3.2 3.2-4.4-12.5-4.3 8.8-4.4 6.7z"/><path class="d112" d="M1118.2 829.6l4.4-4.6 4.3-18.3 3.2 4.4-8.7 23.2z"/><path class="d1" d="M1100.8 861l4.4-3.6 8.7-17.5 4.3-10.3 3.2 4.7-4.4 12.8-13 17.5z"/><path class="d2" d="M1087.7 877.7l4.4-4.4 4.4-6.7 4.3-5.6 3.2 3.6-4.4 4.4-4.3 6-4.4 5z"/><path class="d9" d="M1083.4 883.5l4.3-5.8 3.2 2.3-4.4 4.1z"/><path class="d10" d="M1079 887.9l4.4-4.4 3.1 .6-4.3 5.7z"/><path class="d14" d="M1074.7 892.9l4.3-5 3.2 1.9-4.4 4.3z"/><path class="d13" d="M1070.3 897.3l4.4-4.4 3.1 1.2-4.3 3.7z"/><path class="d22" d="M1061.6 905.3l8.7-8 3.2 .5-8.7 8.3z"/><path class="d26" d="M1052.9 912.5l8.7-7.2 3.2 .8-8.7 7.4z"/><path class="d27" d="M1048.5 917l4.4-4.5 3.2 1-4.4 4.2z"/><path class="d71" d="M987.5 961.5l61-44.5 3.2 .7-61 44.6z"/><path class="d45" d="M1156.2 832l4.4-2 4.4-3.8 3.1-.3-4.3 3.8-4.4 .9z"/><path class="d3" d="M1151.9 831.3l4.3 .7 3.2-1.4-4.3-.2z"/><path class="d2" d="M1147.5 821.2l4.4 10.1 3.2-.9-4.4-8.9z"/><path class="d1" d="M1143.2 808.1l4.3 13.1 3.2 .3-4.4-9.1z"/><path class="d112" d="M1125.8 822.6l4.3-11.5 4.4-6.7 4.3-8.8 4.4 12.5 3.1 4.3-4.3-8.5-4.4 3-4.3 8.6-4.4 15.3z"/><path class="d0" d="M1121.4 834.3l4.4-11.7 3.1 8.2-4.3 6.3z"/><path class="d1" d="M1108.3 858.8l8.7-11.7 4.4-12.8 3.2 2.8-4.4 8.8-4.4 7.6-4.3 5.8z"/><path class="d2" d="M1095.3 875l4.3-6 4.4-4.4 4.3-5.8 3.2 .5-4.4 6.5-4.3 5.7-4.4 4.6z"/><path class="d9" d="M1086.5 884.1l4.4-4.1 4.4-5 3.1 1.1-4.3 5.3-4.4 4.4z"/><path class="d10" d="M1082.2 889.8l4.3-5.7 3.2 1.7-4.3 4.8z"/><path class="d14" d="M1077.8 894.1l4.4-4.3 3.2 .8-4.4 4.4z"/><path class="d13" d="M1073.5 897.8l4.3-3.7 3.2 .9-4.4 3.8z"/><path class="d22" d="M1069.1 902.1l4.4-4.3 3.1 1-4.3 4.5z"/><path class="d26" d="M1056.1 913.5l13-11.4 3.2 1.2-13.1 10.9z"/><path class="d27" d="M1051.7 917.7l4.4-4.2 3.1 .7-4.3 4.3z"/><path class="d71" d="M990.7 962.3l61-44.6 3.2 .8-61 44.6z"/><path class="d4" d="M1155.1 830.4l4.3 .2 4.4-.9 4.3-3.8 3.2-1.5-8.7 6.6-4.4 .6z"/><path class="d3" d="M1150.7 821.5l4.4 8.9 3.1 1.2-4.3-8.9z"/><path class="d1" d="M1146.3 812.4l4.4 9.1 3.2 1.2-4.4-8.7z"/><path class="d0" d="M1142 803.9l4.3 8.5 3.2 1.6-4.3-6.5z"/><path class="d112" d="M1133.3 815.5l4.3-8.6 4.4-3 3.2 3.6-4.4 4.4-4.4 6.6z"/><path class="d0" d="M1128.9 830.8l4.4-15.3 3.1 3-4.3 16.3z"/><path class="d1" d="M1124.6 837.1l4.3-6.3 3.2 4-4.4 7.8z"/><path class="d0" d="M1120.2 845.9l4.4-8.8 3.1 5.5-4.3 6.5z"/><path class="d1" d="M1115.8 853.5l4.4-7.6 3.2 3.2-4.4 7.2z"/><path class="d2" d="M1098.4 876.1l4.4-4.6 4.3-5.7 8.7-12.3 3.2 2.8-8.7 9.8-8.7 12.2z"/><path class="d9" d="M1094.1 881.4l4.3-5.3 3.2 2.2-4.4 4z"/><path class="d10" d="M1089.7 885.8l4.4-4.4 3.1 .9-4.3 4.7z"/><path class="d11" d="M1085.4 890.6l4.3-4.8 3.2 1.2-4.4 4.8z"/><path class="d13" d="M1081 895l4.4-4.4 3.1 1.2-4.3 4.3z"/><path class="d22" d="M1072.3 903.3l4.3-4.5 4.4-3.8 3.2 1.1-8.7 7.9z"/><path class="d26" d="M1063.6 910.6l8.7-7.3 3.2 .7-8.8 7.5z"/><path class="d27" d="M1054.9 918.5l8.7-7.9 3.1 .9-8.7 7.8z"/><path class="d71" d="M993.9 963l61-44.5 3.1 .8-61 44.5z"/><path class="d4" d="M1162.6 831l8.7-6.6 3.2-1.6-8.8 9.2z"/><path class="d3" d="M1158.2 831.6l4.4-.6 3.1 1-4.3-2z"/><path class="d2" d="M1153.9 822.7l4.3 8.9 3.2-1.6z"/><path class="d0" d="M1149.5 814l4.4 8.7 3.1 2.9-4.3-11z"/><path class="d112" d="M1132.1 834.8l4.3-16.3 4.4-6.6 4.4-4.4 4.3 6.5 3.2 .6-4.4-4.6-4.3 9-4.4 3-4.4 11z"/><path class="d0" d="M1127.7 842.6l4.4-7.8 3.1-1.8-4.3 9.8z"/><path class="d1" d="M1123.4 849.1l4.3-6.5 3.2 .2-4.4 8.9z"/><path class="d2" d="M1105.9 872.4l4.4-6.3 8.7-9.8 4.4-7.2 3.1 2.6-8.7 13.1-4.3 3.1-4.4 6.7z"/><path class="d9" d="M1097.2 882.3l4.4-4 4.3-5.9 3.2 2.2-4.3 4.9-4.4 3.8z"/><path class="d10" d="M1092.9 887l4.3-4.7 3.2 1-4.4 4.5z"/><path class="d14" d="M1088.5 891.8l4.4-4.8 3.1 .8-4.3 5.1z"/><path class="d13" d="M1084.2 896.1l4.3-4.3 3.2 1.1-4.4 3.8z"/><path class="d22" d="M1075.5 904l8.7-7.9 3.1 .6-8.7 8.3z"/><path class="d26" d="M1066.7 911.5l8.8-7.5 3.1 1-8.7 7.5z"/><path class="d27" d="M1062.4 915l4.3-3.5 3.2 1-4.4 4.3z"/><path class="d71" d="M997 963.8l61-44.5 4.4-4.3 3.1 1.8-65.3 47.8z"/><path class="d4" d="M1170.1 827.6l4.4-4.8 3.1 2.4-4.3 2.8z"/><path class="d3" d="M1161.4 830l4.3 2 4.4-4.4 3.2 .4-4.4 3.5-4.4 1.2z"/><path class="d1" d="M1157 825.6l7.5 7.1-4.3-4.6z"/><path class="d0" d="M1152.7 814.6l4.3 11 3.2 2.5-4.4-5.8z"/><path class="d112" d="M1135.2 833l4.4-11 4.4-3 4.3-9 4.4 4.6 3.1 7.7-4.3-9-4.4 9.4-4.3 7.7-4.4 4.6z"/><path class="d0" d="M1122.2 857.9l4.3-6.2 8.7-18.7 3.2 2-4.3 11-4.4 8.1-4.4 6.1z"/><path class="d1" d="M1113.5 867.9l4.3-3.1 4.4-6.9 3.1 2.3-4.3 4.6-4.4 6.2z"/><path class="d2" d="M1109.1 874.6l4.4-6.7 3.1 3.1-4.3 5z"/><path class="d9" d="M1100.4 883.3l4.4-3.8 4.3-4.9 3.2 1.4-8.7 8.7z"/><path class="d10" d="M1096 887.8l4.4-4.5 3.2 1.4-4.4 4.6z"/><path class="d14" d="M1091.7 892.9l4.3-5.1 3.2 1.5-4.4 4.2z"/><path class="d13" d="M1087.3 896.7l4.4-3.8 3.1 .6-4.3 4.2z"/><path class="d22" d="M1078.6 905l8.7-8.3 3.2 1-8.7 8.1z"/><path class="d26" d="M1069.9 912.5l8.7-7.5 3.2 .8-8.7 7.6z"/><path class="d27" d="M1065.5 916.8l4.4-4.3 3.2 .9-4.4 4.2z"/><path class="d71" d="M1000.2 964.6l65.3-47.8 3.2 .8-65.3 47.7z"/><path class="d3" d="M1164.5 832.7l4.4-1.2 8.7-6.3 3.2 1-4.4 2.7-4.3 4.4-4.4 2.5z"/><path class="d1" d="M1160.2 828.1l7.5 7.7-4.3-2.5z"/><path class="d0" d="M1155.8 822.3l4.4 5.8 3.2 5.2-4.4-9.3z"/><path class="d112" d="M1138.4 835l4.4-4.6 4.3-7.7 4.4-9.4 4.3 9 3.2 1.7-4.4-5.6-4.3 7.9-4.4 6.5-4.3 7.4z"/><path class="d0" d="M1129.7 854.1l4.4-8.1 4.3-11 3.2 5.2-4.4 10.6-4.3 5.8z"/><path class="d1" d="M1116.6 871l4.4-6.2 4.3-4.6 4.4-6.1 3.2 2.5-8.8 10.5-4.3 5.8z"/><path class="d9" d="M1107.9 880.3l4.4-4.3 4.3-5 3.2 1.9-4.4 5.1-4.3 4.2z"/><path class="d10" d="M1099.2 889.3l8.7-9 3.2 1.9-8.7 8.4z"/><path class="d14" d="M1094.8 893.5l4.4-4.2 3.2 1.3-4.4 4.8z"/><path class="d22" d="M1086.1 902.1l8.7-8.6 3.2 1.9-8.7 7.9z"/><path class="d26" d="M1077.4 909.6l8.7-7.5 3.2 1.2-8.7 7.4z"/><path class="d27" d="M1073.1 913.4l4.3-3.8 3.2 1.1-4.4 4.5z"/><path class="d71" d="M1003.4 965.3l65.3-47.7 4.4-4.2 3.1 1.8-69.7 50.9z"/><path class="d2" d="M1167.7 835.8l4.4-2.5 4.3-4.4 4.4-2.7 3.1 .5-8.7 7.9-4.3 2z"/><path class="d1" d="M1163.4 833.3l4.3 2.5 3.2 .8-4.4-1.4z"/><path class="d112" d="M1137.2 850.8l4.4-10.6 4.3-7.4 4.4-6.5 4.3-7.9 4.4 5.6 4.4 9.3 3.1 1.9-4.3-7.5-4.4-2.9-4.3 5.4-4.4 10.2-8.7 14.6z"/><path class="d0" d="M1132.9 856.6l4.3-5.8 3.2 4.2-4.4 5.9z"/><path class="d1" d="M1119.8 872.9l13.1-16.3 3.1 4.3-4.3 5.8-4.4 4.9-4.3 3.6z"/><path class="d19" d="M1115.4 878l4.4-5.1 3.2 2.3-4.4 3.7z"/><path class="d10" d="M1106.7 886.3l8.7-8.3 3.2 .9-4.4 5.1-4.3 3.9z"/><path class="d14" d="M1098 895.4l8.7-9.1 3.2 1.6-8.7 8.4z"/><path class="d23" d="M1093.7 899.3l4.3-3.9 3.2 .9-4.4 4.4z"/><path class="d22" d="M1089.3 903.3l4.4-4 3.1 1.4-4.3 3.5z"/><path class="d26" d="M1080.6 910.7l8.7-7.4 3.2 .9-8.7 7.3z"/><path class="d27" d="M1076.2 915.2l4.4-4.5 3.2 .8-4.4 4.5z"/><path class="d71" d="M1006.5 966.1l69.7-50.9 3.2 .8-69.7 50.9z"/><path class="d2" d="M1170.9 836.6l4.3-2 8.7-7.9 3.2 .8-4.3 5.5-4.4 2-4.4 4z"/><path class="d1" d="M1166.5 835.2l4.4 1.4 3.1 2.4-4.3-1.6z"/><path class="d0" d="M1162.2 827.7l4.3 7.5 3.2 2.2-4.4-2.8z"/><path class="d112" d="M1140.4 855l8.7-14.6 4.4-10.2 4.3-5.4 4.4 2.9 3.1 6.9-4.3 1.2-8.7 7.6-4.4 7.7-4.4 5.9z"/><path class="d0" d="M1136 860.9l4.4-5.9 3.1 2-4.3 7.6z"/><path class="d1" d="M1131.7 866.7l4.3-5.8 3.2 3.7-4.4 3.5z"/><path class="d19" d="M1123 875.2l4.3-3.6 4.4-4.9 3.1 1.4-8.7 8.6z"/><path class="d9" d="M1118.6 878.9l4.4-3.7 3.1 1.5-4.3 4.5z"/><path class="d10" d="M1114.2 884l4.4-5.1 3.2 2.3-4.4 4.4z"/><path class="d14" d="M1105.5 892.3l8.7-8.3 3.2 1.6-4.3 4.7-4.4 3.9z"/><path class="d23" d="M1096.8 900.7l8.7-8.4 3.2 1.9-8.7 7.3z"/><path class="d26" d="M1088.1 908l8.7-7.3 3.2 .8-8.7 7.6z"/><path class="d27" d="M1079.4 916l4.4-4.5 4.3-3.5 3.2 1.1-4.4 3.4-4.3 4.2z"/><path class="d71" d="M1009.7 966.9l69.7-50.9 3.2 .7-69.7 50.9z"/><path class="d2" d="M1169.7 837.4l4.3 1.6 4.4-4 4.4-2 4.3-5.5 3.2 2.6-4.4 4.3-4.3 2.8-4.4 4.1-4.4 .1z"/><path class="d0" d="M1165.3 834.6l4.4 2.8 3.1 4-4.3-2.8z"/><path class="d112" d="M1147.9 851.1l4.4-7.7 8.7-7.6 4.3-1.2 3.2 4-4.4 .1-4.3 3-4.4 7.6-4.3 5.7z"/><path class="d0" d="M1143.5 857l4.4-5.9 3.2 3.9-4.4 5.4z"/><path class="d1" d="M1139.2 864.6l4.3-7.6 3.2 3.4-4.3 5.6z"/><path class="d19" d="M1126.1 876.7l8.7-8.6 4.4-3.5 3.2 1.4-4.4 4.7-8.7 7.9z"/><path class="d10" d="M1121.8 881.2l4.3-4.5 3.2 1.9-4.4 4.9z"/><path class="d14" d="M1113.1 890.3l8.7-9.1 3.1 2.3-4.3 3.6-4.4 4.4z"/><path class="d23" d="M1104.3 897.8l8.8-7.5 3.1 1.2-8.7 7.7z"/><path class="d26" d="M1091.3 909.1l13-11.3 3.2 1.4-13.1 10.8z"/><path class="d27" d="M1086.9 912.5l4.4-3.4 3.1 .9-4.3 4.3z"/><path class="d71" d="M1012.9 967.6l69.7-50.9 4.3-4.2 3.2 1.8-74.1 54.1z"/><path class="d19" d="M1177.2 841.3l4.4-4.1 4.3-2.8 4.4-4.3 3.1 2.5-8.7 8-4.3 1.8z"/><path class="d1" d="M1172.8 841.4l4.4-.1 3.2 1.1-4.4 .1z"/><path class="d0" d="M1168.5 838.6l4.3 2.8 3.2 1.1-4.3-1z"/><path class="d112" d="M1155.4 849.3l4.4-7.6 4.3-3 4.4-.1 3.2 2.9-4.4-.7-4.4 5.5-4.3 4.4z"/><path class="d0" d="M1151.1 855l4.3-5.7 3.2 1.4-4.4 5.4z"/><path class="d1" d="M1142.4 866l8.7-11 3.1 1.1-4.3 7.3-4.4 4.6z"/><path class="d9" d="M1138 870.7l4.4-4.7 3.1 2-4.3 5.1z"/><path class="d10" d="M1129.3 878.6l8.7-7.9 3.2 2.4-8.8 8.2z"/><path class="d14" d="M1120.6 887.1l4.3-3.6 4.4-4.9 3.2 2.7-4.4 3.5-4.4 4.2z"/><path class="d23" d="M1107.5 899.2l8.7-7.7 4.4-4.4 3.1 1.9-4.3 3.3-8.7 8z"/><path class="d26" d="M1098.8 906.4l8.7-7.2 3.2 1.1-8.7 7z"/><path class="d27" d="M1094.4 910l4.4-3.6 3.2 .9-4.4 4.6z"/><path class="d71" d="M1016 968.4l74.1-54.1 4.3-4.3 3.2 1.9-78.4 57.3z"/><path class="d19" d="M1189.1 836.7l4.3-4.1 3.2 2.9-4.4 2.7z"/><path class="d18" d="M1180.4 842.4l4.3-1.8 4.4-3.9 3.1 1.5-4.3 4.4-4.4 1.7z"/><path class="d19" d="M1176 842.5l4.4-.1 3.1 1.9-4.3 .1z"/><path class="d1" d="M1171.7 841.5l4.3 1 3.2 1.9-4.4-1.2z"/><path class="d0" d="M1154.2 856.1l4.4-5.4 4.3-4.4 4.4-5.5 4.4 .7 3.1 1.7-4.3 1.5-4.4 3.7-8.7 11.8z"/><path class="d1" d="M1149.9 863.4l4.3-7.3 3.2 4.1-4.4 4.7z"/><path class="d19" d="M1145.5 868l4.4-4.6 3.1 1.5-4.3 4.8z"/><path class="d10" d="M1136.8 876.9l4.4-3.8 4.3-5.1 3.2 1.7-4.4 5-4.3 3.4z"/><path class="d14" d="M1123.7 889l4.4-4.2 4.3-3.5 4.4-4.4 3.2 1.2-13.1 11.6z"/><path class="d23" d="M1119.4 892.3l4.3-3.3 3.2 .7-4.4 4z"/><path class="d22" d="M1115 896.3l4.4-4 3.1 1.4-4.3 3.6z"/><path class="d26" d="M1102 907.3l8.7-7 4.3-4 3.2 1-13.1 11z"/><path class="d27" d="M1097.6 911.9l4.4-4.6 3.1 1-4.3 4.4z"/><path class="d71" d="M1019.2 969.2l78.4-57.3 3.2 .8-78.4 57.2z"/><path class="d18" d="M1187.9 842.6l4.3-4.4 4.4-2.7 3.2 2.3-8.7 6.3z"/><path class="d10" d="M1183.5 844.3l4.4-1.7 3.2 1.5-4.4 3.1z"/><path class="d9" d="M1179.2 844.4l4.3-.1 3.2 2.9-4.4 1.1z"/><path class="d1" d="M1170.5 844.7l4.3-1.5 4.4 1.2 3.1 3.9-4.3-.1-4.4-1.7z"/><path class="d0" d="M1166.1 848.4l4.4-3.7 3.1 1.8-4.3 5.4z"/><path class="d1" d="M1157.4 860.2l8.7-11.8 3.2 3.5-4.4 3.3-4.3 6z"/><path class="d19" d="M1153 864.9l4.4-4.7 3.2 1-4.4 6.2z"/><path class="d10" d="M1144.3 874.7l8.7-9.8 3.2 2.5-8.7 8.2z"/><path class="d14" d="M1131.3 885.7l13-11 3.2 .9-8.7 8-4.4 3.5z"/><path class="d23" d="M1122.5 893.7l8.8-8 3.1 1.4-8.7 7.8z"/><path class="d22" d="M1118.2 897.3l4.3-3.6 3.2 1.2-4.3 3.7z"/><path class="d26" d="M1109.5 904.8l8.7-7.5 3.2 1.3-8.8 7.2z"/><path class="d27" d="M1105.1 908.3l4.4-3.5 3.1 1-4.3 4.4z"/><path class="d71" d="M1022.4 969.9l78.4-57.2 4.3-4.4 3.2 1.9-82.8 60.5z"/><path class="d14" d="M1186.7 847.2l13.1-9.4 3.1 2.2-4.3 2.8-4.4 3.7-4.3 2.7z"/><path class="d10" d="M1182.3 848.3l4.4-1.1 3.2 2-4.4 .5z"/><path class="d19" d="M1178 848.2l4.3 .1 3.2 1.4-4.4-.4z"/><path class="d1" d="M1160.6 861.2l4.3-6 4.4-3.3 4.3-5.4 7.5 2.8-4.3 .8-4.4 4.3-4.3 5.3-4.4 3.8z"/><path class="d9" d="M1156.2 867.4l4.4-6.2 3.1 2.3-4.3 6.1z"/><path class="d10" d="M1147.5 875.6l8.7-8.2 3.2 2.2-4.4 3.2-4.3 4.8z"/><path class="d14" d="M1138.8 883.6l8.7-8 3.2 2-8.8 7.1z"/><path class="d22" d="M1125.7 894.9l13.1-11.3 3.1 1.1-13 11.4z"/><path class="d26" d="M1112.6 905.8l13.1-10.9 3.2 1.2-13.1 10.6z"/><path class="d27" d="M1108.3 910.2l4.3-4.4 3.2 .9-4.4 4.3z"/><path class="d71" d="M1025.5 970.7l82.8-60.5 3.1 .8-82.7 60.5z"/><path class="d14" d="M1198.6 842.8l4.3-2.8 3.2 1.1-4.4 3.2z"/><path class="d23" d="M1194.2 846.5l4.4-3.7 3.1 1.5-4.3 3.2z"/><path class="d14" d="M1185.5 849.7l4.4-.5 4.3-2.7 3.2 1-4.4 2.4-4.3 1z"/><path class="d19" d="M1181.1 849.3l4.4 .4 3.2 1.2-4.4 0z"/><path class="d1" d="M1168.1 859.7l4.3-5.3 4.4-4.3 4.3-.8 3.2 1.6-4.3 2.1-8.8 6.9z"/><path class="d9" d="M1163.7 863.5l4.4-3.8 3.1 .2-4.3 5.6z"/><path class="d10" d="M1155 872.8l4.4-3.2 4.3-6.1 3.2 2-8.7 8.8z"/><path class="d14" d="M1146.3 881.4l4.4-3.8 4.3-4.8 3.2 1.5-4.4 4.7-4.3 3.2z"/><path class="d23" d="M1137.6 888.4l8.7-7 3.2 .8-8.8 7.8z"/><path class="d22" d="M1133.2 892.4l4.4-4 3.1 1.6-4.3 3.6z"/><path class="d26" d="M1120.2 903.1l13-10.7 3.2 1.2-13.1 10.6z"/><path class="d27" d="M1111.4 911l4.4-4.3 4.4-3.6 3.1 1.1-4.3 3.3-4.4 4.3z"/><path class="d71" d="M1028.7 971.5l82.7-60.5 3.2 .8-82.8 60.4z"/><path class="d23" d="M1193 849.9l4.4-2.4 8.7-6.4 3.2 1-8.8 6.5-4.3 2.4z"/><path class="d14" d="M1188.7 850.9l4.3-1 3.2 1.1-4.4 1.2z"/><path class="d10" d="M1184.3 850.9l4.4 0 3.1 1.3-4.3 .7z"/><path class="d9" d="M1180 853l4.3-2.1 3.2 2-4.4 .8z"/><path class="d2" d="M1175.6 856.5l4.4-3.5 3.1 .7-4.3 4.2z"/><path class="d9" d="M1166.9 865.5l4.3-5.6 4.4-3.4 3.2 1.4-8.7 8.7z"/><path class="d10" d="M1162.5 870l4.4-4.5 3.2 1.1-4.4 5.1z"/><path class="d14" d="M1153.8 879l8.7-9 3.2 1.7-8.7 8.3z"/><path class="d23" d="M1149.5 882.2l4.3-3.2 3.2 1-4.4 3.6z"/><path class="d22" d="M1140.8 890l8.7-7.8 3.1 1.4-4.3 3.2-4.4 4z"/><path class="d26" d="M1123.3 904.2l17.5-14.2 3.1 .8-17.4 14.2z"/><path class="d27" d="M1114.6 911.8l4.4-4.3 4.3-3.3 3.2 .8-4.4 3.3-4.3 4.2z"/><path class="d71" d="M1031.8 972.2l82.8-60.4 3.2 .7-82.8 60.5z"/><path class="d22" d="M1196.2 851l4.3-2.4 8.8-6.5 3.1 .5-8.7 7.1-4.3 2.7z"/><path class="d14" d="M1191.8 852.2l4.4-1.2 3.2 1.4-4.4 1.2z"/><path class="d10" d="M1187.5 852.9l4.3-.7 3.2 1.4-4.4 .8z"/><path class="d9" d="M1174.4 862.3l8.7-8.6 4.4-.8 3.1 1.5-4.3 2-4.4 2.8-4.3 4.6z"/><path class="d10" d="M1165.7 871.7l4.4-5.1 4.3-4.3 3.2 1.5-8.7 8.7z"/><path class="d14" d="M1157 880l8.7-8.3 3.2 .8-8.8 8.2z"/><path class="d22" d="M1143.9 890.8l4.4-4 8.7-6.8 3.1 .7-4.3 4.1-8.7 6.7z"/><path class="d26" d="M1126.5 905l17.4-14.2 3.2 .7-17.4 14.2z"/><path class="d27" d="M1122.1 908.3l4.4-3.3 3.2 .7-4.4 4.4z"/><path class="d71" d="M1035 973l82.8-60.5 4.3-4.2 3.2 1.8-87.1 63.7z"/><path class="d22" d="M1203.7 849.7l8.7-7.1 3.2 1.4-8.7 6.2z"/><path class="d23" d="M1199.4 852.4l4.3-2.7 3.2 .5-4.4 3.2z"/><path class="d14" d="M1195 853.6l4.4-1.2 3.1 1-4.3 1.1z"/><path class="d10" d="M1190.6 854.4l4.4-.8 3.2 .9-4.4 .6z"/><path class="d9" d="M1177.6 863.8l4.3-4.6 4.4-2.8 4.3-2 3.2 .7-4.4 1.9-8.7 7.5z"/><path class="d10" d="M1168.9 872.5l8.7-8.7 3.1 .7-8.7 9.7z"/><path class="d14" d="M1164.5 876.9l4.4-4.4 3.1 1.7-4.3 3.7z"/><path class="d22" d="M1147.1 891.5l8.7-6.7 8.7-7.9 3.2 1-17.5 15z"/><path class="d26" d="M1134 902.3l13.1-10.8 3.1 1.4-13 10.5z"/><path class="d27" d="M1129.7 905.7l4.3-3.4 3.2 1.1-4.4 4.3z"/><path class="d71" d="M1038.2 973.8l87.1-63.7 4.4-4.4 3.1 2-91.5 66.8z"/><path class="d23" d="M1198.2 854.5l4.3-1.1 8.7-6.6 4.4-2.8 3.1 1.1-8.7 6.8-4.3 2.7-4.4 2z"/><path class="d10" d="M1189.4 857l4.4-1.9 4.4-.6 3.1 2.1-4.3 1-4.4 2z"/><path class="d9" d="M1185.1 860.8l4.3-3.8 3.2 2.6-4.3 3.6z"/><path class="d10" d="M1176.4 869.7l4.3-5.2 4.4-3.7 3.2 2.4-8.8 7.5z"/><path class="d14" d="M1167.7 877.9l4.3-3.7 4.4-4.5 3.1 1-8.7 9z"/><path class="d22" d="M1154.6 889.3l13.1-11.4 3.1 1.8-13 10.7z"/><path class="d26" d="M1137.2 903.4l17.4-14.1 3.2 1.1-17.5 13.6z"/><path class="d27" d="M1132.8 907.7l4.4-4.3 3.1 .6-4.3 4.5z"/><path class="d71" d="M1041.3 974.5l91.5-66.8 3.2 .8-91.5 66.8z"/><path class="d28" d="M1205.7 854.6l4.3-2.7 8.8-6.8 3.1 1.6-8.7 6.6-4.4 2.7z"/><path class="d23" d="M1201.3 856.6l4.4-2 3.1 1.4-4.3 1.6z"/><path class="d14" d="M1197 857.6l4.3-1 3.2 1-4.4 1.5z"/><path class="d10" d="M1183.9 867l8.7-7.4 4.4-2 3.1 1.5-4.3 2.3-8.7 7.1z"/><path class="d14" d="M1175.2 875.5l4.3-4.8 4.4-3.7 3.2 1.5-8.7 8z"/><path class="d23" d="M1170.8 879.7l4.4-4.2 3.2 1-4.4 4.2z"/><path class="d22" d="M1162.1 886.7l8.7-7 3.2 1-8.7 7.1z"/><path class="d26" d="M1144.7 900.7l17.4-14 3.2 1.1-17.4 13.8z"/><path class="d27" d="M1140.3 904l4.4-3.3 3.2 .9-4.4 4.5z"/><path class="d71" d="M1044.5 975.3l91.5-66.8 4.3-4.5 3.2 2.1-95.8 70z"/><path class="d28" d="M1208.8 856l4.4-2.7 8.7-6.6 3.2 1.5-8.7 6.5-4.4 2.7z"/><path class="d23" d="M1204.5 857.6l4.3-1.6 3.2 1.4-4.3 2z"/><path class="d14" d="M1195.8 861.4l4.3-2.3 4.4-1.5 3.2 1.8-8.8 3.3z"/><path class="d10" d="M1187.1 868.5l8.7-7.1 3.1 1.3-4.3 2.7-4.4 3.8z"/><path class="d14" d="M1178.4 876.5l8.7-8 3.1 .7-8.7 8.9z"/><path class="d22" d="M1169.6 884.1l4.4-3.4 4.4-4.2 3.1 1.6-8.7 7.4z"/><path class="d26" d="M1147.9 901.6l21.7-17.5 3.2 1.4-21.8 16.9z"/><path class="d27" d="M1143.5 906.1l4.4-4.5 3.1 .8-4.3 4.4z"/><path class="d71" d="M1047.7 976.1l95.8-70 3.2 .7-95.9 70z"/><path class="d63" d="M1212 857.4l8.7-5.8 4.4-3.4 3.1 2.1-8.7 6.4-4.3 1.9z"/><path class="d28" d="M1207.7 859.4l4.3-2 3.2 1.2-4.4 1.6z"/><path class="d23" d="M1203.3 860.9l4.4-1.5 3.1 .8-4.3 1.9z"/><path class="d14" d="M1198.9 862.7l4.4-1.8 3.2 1.2-4.4 1.2z"/><path class="d10" d="M1194.6 865.4l4.3-2.7 3.2 .6-4.4 3.5z"/><path class="d14" d="M1185.9 874l4.3-4.8 4.4-3.8 3.1 1.4-8.7 8.4z"/><path class="d22" d="M1177.2 881.7l8.7-7.7 3.1 1.2-8.7 7.5z"/><path class="d26" d="M1155.4 899.1l21.8-17.4 3.1 1-21.8 17.4z"/><path class="d27" d="M1146.7 906.8l4.3-4.4 4.4-3.3 3.1 1-4.3 3.3-4.4 4.2z"/><path class="d71" d="M1050.8 976.8l95.9-70 3.1 .8-95.8 70z"/><path class="d71" d="M1219.5 856.7l8.7-6.4 3.2 .8-8.7 6.3z"/><path class="d72" d="M1215.2 858.6l4.3-1.9 3.2 .7-4.4 3.2z"/><path class="d28" d="M1210.8 860.2l4.4-1.6 3.1 2-4.3 .7z"/><path class="d22" d="M1206.5 862.1l4.3-1.9 3.2 1.1-4.4 1.3z"/><path class="d13" d="M1189 875.2l8.7-8.4 4.4-3.5 4.4-1.2 3.1 .5-8.7 5-4.3 4.6-4.4 3.7z"/><path class="d22" d="M1180.3 882.7l8.7-7.5 3.2 .7-8.7 7.7z"/><path class="d26" d="M1158.5 900.1l21.8-17.4 3.2 .9-21.8 17.3z"/><path class="d27" d="M1154.2 903.4l4.3-3.3 3.2 .8-4.4 4.3z"/><path class="d71" d="M1054 977.6l95.8-70 4.4-4.2 3.1 1.8-100.1 73.2z"/><path class="d71" d="M1218.3 860.6l13.1-9.5 3.2 .7-13.1 9.6z"/><path class="d27" d="M1214 861.3l4.3-.7 3.2 .8-4.4 1z"/><path class="d22" d="M1209.6 862.6l4.4-1.3 3.1 1.1-4.3 1.5z"/><path class="d13" d="M1200.9 867.6l8.7-5 3.2 1.3-8.7 5.4z"/><path class="d14" d="M1196.6 872.2l4.3-4.6 3.2 1.7-4.4 3.4z"/><path class="d22" d="M1183.5 883.6l13.1-11.4 3.1 .5-13 11.8z"/><path class="d26" d="M1166.1 897.4l17.4-13.8 3.2 .9-17.5 13.8z"/><path class="d27" d="M1157.3 905.2l4.4-4.3 4.4-3.5 3.1 .9-4.3 3.4-4.4 4.2z"/><path class="d71" d="M1057.2 978.4l100.1-73.2 3.2 .7-100.2 73.2z"/><path class="d71" d="M1221.5 861.4l13.1-9.6 3.1 .8-13 9.5z"/><path class="d27" d="M1217.1 862.4l4.4-1 3.2 .7-4.4 1.2z"/><path class="d22" d="M1212.8 863.9l4.3-1.5 3.2 .9-4.3 1.5z"/><path class="d13" d="M1208.4 866.4l4.4-2.5 3.2 .9-4.4 2.1z"/><path class="d14" d="M1204.1 869.3l4.3-2.9 3.2 .5-4.4 3.5z"/><path class="d13" d="M1199.7 872.7l4.4-3.4 3.1 1.1-4.3 3.3z"/><path class="d22" d="M1191 880.8l8.7-8.1 3.2 1-8.7 8.2z"/><path class="d26" d="M1173.6 895l17.4-14.2 3.2 1.1-17.5 13.9z"/><path class="d27" d="M1164.9 901.7l8.7-6.7 3.1 .8-4.3 3.4-4.4 4.3z"/><path class="d71" d="M1060.3 979.1l100.2-73.2 4.4-4.2 3.1 1.8-104.5 76.4z"/><path class="d71" d="M1224.7 862.1l13-9.5 3.2 .8-13.1 9.5z"/><path class="d27" d="M1220.3 863.3l4.4-1.2 3.1 .8-4.3 1.2z"/><path class="d22" d="M1211.6 866.9l8.7-3.6 3.2 .8-8.7 3.9z"/><path class="d14" d="M1207.2 870.4l4.4-3.5 3.2 1.1-4.4 3.8z"/><path class="d22" d="M1194.2 881.9l8.7-8.2 4.3-3.3 3.2 1.4-13.1 11z"/><path class="d26" d="M1176.7 895.8l17.5-13.9 3.1 .9-17.4 13.8z"/><path class="d27" d="M1168 903.5l4.4-4.3 4.3-3.4 3.2 .8-4.3 3.3-4.4 4.4z"/><path class="d71" d="M1063.5 979.9l104.5-76.4 3.2 .8-104.6 76.4z"/><path class="d71" d="M1227.8 862.9l13.1-9.5 3.2 .7-13.1 9.6z"/><path class="d27" d="M1223.5 864.1l4.3-1.2 3.2 .8-4.4 1.7z"/><path class="d26" d="M1219.1 866.2l4.4-2.1 3.1 1.3-4.3 1.7z"/><path class="d22" d="M1201.7 879.2l13.1-11.2 4.3-1.8 3.2 .9-4.4 2.1-8.7 7-4.3 4.1z"/><path class="d26" d="M1184.3 893.3l17.4-14.1 3.2 1.1-17.5 14z"/><path class="d27" d="M1175.6 899.9l8.7-6.6 3.1 1-4.3 3.3-4.4 4.3z"/><path class="d71" d="M1066.6 980.7l104.6-76.4 4.4-4.4 3.1 2-108.9 79.5z"/><path class="d71" d="M1231 863.7l13.1-9.6 3.1 .8-13 9.5z"/><path class="d27" d="M1226.6 865.4l4.4-1.7 3.2 .7-4.4 1.8z"/><path class="d26" d="M1222.3 867.1l4.3-1.7 3.2 .8-4.4 1.8z"/><path class="d23" d="M1209.2 876.2l8.7-7 4.4-2.1 3.1 .9-8.7 5.7-4.3 3.7z"/><path class="d22" d="M1204.9 880.3l4.3-4.1 3.2 1.2-4.4 3.7z"/><path class="d26" d="M1191.8 890.9l13.1-10.6 3.1 .8-13 10.7z"/><path class="d27" d="M1183.1 897.6l8.7-6.7 3.2 .9-4.4 3.3-4.4 4.3z"/><path class="d71" d="M1069.8 981.4l108.9-79.5 4.4-4.3 3.1 1.8-113.2 82.8z"/><path class="d71" d="M1234.2 864.4l13-9.5 3.2 .8-13.1 9.5z"/><path class="d27" d="M1229.8 866.2l4.4-1.8 3.1 .8-4.3 1.9z"/><path class="d26" d="M1225.4 868l4.4-1.8 3.2 .9-4.4 2.1z"/><path class="d22" d="M1208 881.1l8.7-7.4 8.7-5.7 3.2 1.2-4.3 2.5-13.1 10.4z"/><path class="d26" d="M1195 891.8l13-10.7 3.2 1-13.1 10.5z"/><path class="d27" d="M1186.2 899.4l4.4-4.3 4.4-3.3 3.1 .8-4.3 3.4-4.4 4.2z"/><path class="d71" d="M1073 982.2l113.2-82.8 3.2 .8-113.3 82.8z"/><path class="d71" d="M1237.3 865.2l13.1-9.5 3.2 .7-13.1 9.6z"/><path class="d27" d="M1233 867.1l4.3-1.9 3.2 .8-4.4 2z"/><path class="d26" d="M1224.3 871.7l8.7-4.6 3.1 .9-4.3 2.3-4.4 2.9z"/><path class="d22" d="M1215.5 878.5l8.8-6.8 3.1 1.5-8.7 6.4z"/><path class="d26" d="M1202.5 889.2l13-10.7 3.2 1.1-13.1 10.7z"/><path class="d27" d="M1193.8 896l8.7-6.8 3.1 1.1-4.3 4.3-4.4 3.2z"/><path class="d71" d="M1076.1 983l113.3-82.8 4.4-4.2 3.1 1.8-117.6 85.9z"/><path class="d71" d="M1240.5 866l13.1-9.6 3.1 .8-13 9.5z"/><path class="d27" d="M1236.1 868l4.4-2 3.2 .7-4.4 1.9z"/><path class="d26" d="M1205.6 890.3l21.8-17.1 4.4-2.9 4.3-2.3 3.2 .6-8.7 5.2-21.8 17.3z"/><path class="d27" d="M1201.3 894.6l4.3-4.3 3.2 .8-4.4 4.3z"/><path class="d71" d="M1079.3 983.7l122-89.1 3.1 .8-121.9 89.1z"/><path class="d71" d="M1243.7 866.7l13-9.5 3.2 .8-13.1 9.5z"/><path class="d27" d="M1239.3 868.6l4.4-1.9 3.1 .8-4.3 1.8z"/><path class="d26" d="M1213.2 887.5l17.4-13.7 8.7-5.2 3.2 .7-8.8 5.1-4.3 3.2-13.1 10.9z"/><path class="d27" d="M1204.4 895.4l4.4-4.3 4.4-3.6 3.1 1-4.3 3.4-4.4 4.2z"/><path class="d71" d="M1082.5 984.5l121.9-89.1 3.2 .7-122 89.2z"/><path class="d27" d="M1242.5 869.3l4.3-1.8 13.1-9.5 3.1-.5-17.4 12.4z"/><path class="d26" d="M1216.3 888.5l13.1-10.9 13.1-8.3 3.1 .6-8.7 5.4-8.7 6.6-8.7 7.4z"/><path class="d27" d="M1207.6 896.1l4.4-4.2 4.3-3.4 3.2 .8-4.4 3.4-4.3 4.2z"/><path class="d71" d="M1085.6 985.3l122-89.2 3.2 .8-122 89.1z"/><path class="d35" d="M1254.3 863.9l8.7-6.4 3.2 .3-8.7 6.7z"/><path class="d27" d="M1250 867l4.3-3.1 3.2 .6-4.4 3.2z"/><path class="d26" d="M1219.5 889.3l8.7-7.4 8.7-6.6 13.1-8.3 3.1 .7-17.4 11.6-13.1 10.6z"/><path class="d27" d="M1210.8 896.9l4.3-4.2 4.4-3.4 3.1 .6-4.3 3.5-4.4 4.3z"/><path class="d71" d="M1088.8 986l122-89.1 3.1 .8-121.9 89.1z"/><path class="d35" d="M1253.1 867.7l13.1-9.9 3.2 .6-13.1 9.8z"/><path class="d26" d="M1222.6 889.9l13.1-10.6 17.4-11.6 3.2 .5-13.1 8.6-17.4 13.9z"/><path class="d27" d="M1213.9 897.7l4.4-4.3 4.3-3.5 3.2 .8-4.3 3.4-4.4 4.3z"/><path class="d71" d="M1092 986.8l121.9-89.1 3.2 .7-122 89.1z"/><path class="d26" d="M1225.8 890.7l17.4-13.9 17.5-11.8 8.7-6.6 3.1 .4-17.4 13.2-8.7 5.6-17.4 14z"/><path class="d27" d="M1217.1 898.4l4.4-4.3 4.3-3.4 3.2 .9-4.4 3.4-4.3 4.2z"/><path class="d71" d="M1095.1 987.5l122-89.1 3.2 .8-122 89.1z"/><path class="d26" d="M1229 891.6l17.4-14 13.1-8.7 13-10.1 3.2 .1-4.4 3.2-4.3 3.9-13.1 9.7-4.3 2.7-17.5 14.1z"/><path class="d27" d="M1220.3 899.2l4.3-4.2 4.4-3.4 3.1 .9-4.3 3.2-4.4 4.3z"/><path class="d71" d="M1098.3 988.3l122-89.1 3.1 .8-121.9 89.1z"/><path class="d22" d="M1267 866l4.3-3.9 4.4-3.2 3.2 .6-8.7 6.8z"/><path class="d26" d="M1232.1 892.5l17.5-14.1 17.4-12.4 3.2 .3-4.4 3.9-21.8 16-8.7 7z"/><path class="d27" d="M1227.8 895.7l4.3-3.2 3.2 .7-4.4 4.4z"/><path class="d71" d="M1101.5 989.1l121.9-89.1 4.4-4.3 3.1 1.9-126.3 92.2z"/><path class="d22" d="M1270.2 866.3l8.7-6.8 3.1 .6-8.7 6.9z"/><path class="d26" d="M1239.7 889.9l17.4-13.8 8.7-5.9 4.4-3.9 3.1 .7-8.7 6.9-17.4 13-4.4 3.7z"/><path class="d27" d="M1230.9 897.6l4.4-4.4 4.4-3.3 3.1 .7-4.3 3.4-4.4 4.3z"/><path class="d71" d="M1104.6 989.8l126.3-92.2 3.2 .7-126.3 92.3z"/><path class="d22" d="M1269 870.5l13-10.4 3.2 .3-4.4 2.9-8.7 7.9z"/><path class="d26" d="M1242.8 890.6l17.5-13.7 8.7-6.4 3.1 .7-21.8 16.5-4.3 3.7z"/><path class="d27" d="M1234.1 898.3l4.4-4.3 4.3-3.4 3.2 .8-4.4 3.4-4.3 4.3z"/><path class="d71" d="M1107.8 990.6l126.3-92.3 3.2 .8-126.4 92.3z"/><path class="d22" d="M1272.1 871.2l8.7-7.9 4.4-2.9 3.2 .8-4.4 3.1-8.7 7.6z"/><path class="d26" d="M1246 891.4l13.1-10.5 13-9.7 3.2 .7-4.4 3.7-13 9.4-8.7 7z"/><path class="d27" d="M1241.6 894.8l4.4-3.4 3.2 .6-4.4 4.7z"/><path class="d71" d="M1110.9 991.4l126.4-92.3 4.3-4.3 3.2 1.9-130.7 95.4z"/><path class="d22" d="M1275.3 871.9l8.7-7.6 4.4-3.1 3.1 .9-13 10.7z"/><path class="d26" d="M1249.2 892l17.4-13.6 4.3-2.8 4.4-3.7 3.2 .9-13.1 9.6-13.1 10.5z"/><path class="d27" d="M1244.8 896.7l4.4-4.7 3.1 .9-4.3 4.5z"/><path class="d71" d="M1114.1 992.1l130.7-95.4 3.2 .7-130.7 95.5z"/><path class="d22" d="M1278.5 872.8l13-10.7 3.2 .6-4.4 3.2-4.3 4.2-4.4 3.3z"/><path class="d26" d="M1252.3 892.9l13.1-10.5 8.7-6 4.4-3.6 3.1 .6-8.7 7-4.3 2.9-13.1 10.4z"/><path class="d27" d="M1248 897.4l4.3-4.5 3.2 .8-4.4 4.5z"/><path class="d71" d="M1117.3 992.9l130.7-95.5 3.1 .8-130.7 95.5z"/><path class="d22" d="M1281.6 873.4l4.4-3.3 4.3-4.2 4.4-3.2 3.2 1.1-4.4 3.1-8.7 7.7z"/><path class="d26" d="M1255.5 893.7l13-10.4 8.8-6.3 4.3-3.6 3.2 1.2-26.2 19.9z"/><path class="d27" d="M1251.1 898.2l4.4-4.5 3.1 .8-4.3 4.5z"/><path class="d71" d="M1120.4 993.7l130.7-95.5 3.2 .8-130.7 95.4z"/><path class="d22" d="M1284.8 874.6l8.7-7.7 4.4-3.1 3.1 .7-13.1 10.5z"/><path class="d26" d="M1258.6 894.5l26.2-19.9 3.1 .4-4.3 3.8-21.8 16.5z"/><path class="d27" d="M1254.3 899l4.3-4.5 3.2 .8-4.3 4.4z"/><path class="d71" d="M1123.6 994.4l130.7-95.4 3.2 .7-130.7 95.5z"/><path class="d22" d="M1292.3 871.3l8.7-6.8 3.2 1.1-8.7 7.1z"/><path class="d26" d="M1261.8 895.3l21.8-16.5 8.7-7.5 3.2 1.4-30.5 23.4z"/><path class="d27" d="M1257.5 899.7l4.3-4.4 3.2 .8-4.4 4.4z"/><path class="d71" d="M1126.8 995.2l130.7-95.5 3.1 .8-130.7 95.5z"/><path class="d23" d="M1299.8 869l4.4-3.4 3.1 1.5-4.3 3.4z"/><path class="d28" d="M1295.5 872.7l4.3-3.7 3.2 1.5-4.4 3.3z"/><path class="d26" d="M1291.1 876.3l4.4-3.6 3.1 1.1-4.3 3.6z"/><path class="d28" d="M1286.8 879.7l4.3-3.4 3.2 1.1-4.4 3.3z"/><path class="d26" d="M1269.3 892.7l17.5-13 3.1 1-17.4 12.9z"/><path class="d27" d="M1260.6 900.5l4.4-4.4 4.3-3.4 3.2 .9-4.4 3.4-4.3 4.3z"/><path class="d71" d="M1129.9 996l130.7-95.5 3.2 .8-130.7 95.4z"/><path class="d28" d="M1289.9 880.7l17.4-13.6 3.2 1.4-17.4 13.1z"/><path class="d26" d="M1272.5 893.6l8.7-6.9 8.7-6 3.2 .9-17.4 12.8z"/><path class="d27" d="M1268.1 897l4.4-3.4 3.2 .8-4.4 4.4z"/><path class="d71" d="M1133.1 996.7l130.7-95.4 4.3-4.3 3.2 1.8-135 98.7z"/><path class="d28" d="M1301.8 875.1l8.7-6.6 3.2 1.3-8.7 6.5z"/><path class="d63" d="M1297.4 878.4l4.4-3.3 3.2 1.2-4.4 4.2z"/><path class="d27" d="M1288.7 884.6l8.7-6.2 3.2 2.1-4.4 3.2-4.3 1.9z"/><path class="d26" d="M1275.7 894.4l13-9.8 3.2 1-13.1 9.6z"/><path class="d27" d="M1271.3 898.8l4.4-4.4 3.1 .8-4.3 4.4z"/><path class="d71" d="M1136.3 997.5l135-98.7 3.2 .8-135.1 98.7z"/><path class="d63" d="M1305 876.3l8.7-6.5 3.1 1.9-8.7 6.4z"/><path class="d72" d="M1300.6 880.5l4.4-4.2 3.1 1.8-4.3 3.2z"/><path class="d71" d="M1296.2 883.7l4.4-3.2 3.2 .8-4.4 3.2z"/><path class="d27" d="M1287.5 888.6l4.4-3 4.3-1.9 3.2 .8-4.3 2.1-4.4 3z"/><path class="d26" d="M1278.8 895.2l8.7-6.6 3.2 1-8.7 6.5z"/><path class="d27" d="M1274.5 899.6l4.3-4.4 3.2 .9-4.4 4.3z"/><path class="d71" d="M1139.4 998.3l135.1-98.7 3.1 .8-135 98.6z"/><path class="d72" d="M1295.1 886.6l4.3-2.1 17.4-12.8 3.2 .8-21.8 15.9z"/><path class="d27" d="M1277.6 900.4l4.4-4.3 13.1-9.5 3.1 1.8-4.3 2-8.7 6.5-4.4 4.2z"/><path class="d71" d="M1142.6 999l135-98.6 3.2 .7-135 98.7z"/></g>
<polygon points="960,839 961.5,829.3 963,833 964.5,828.5 966,828.2 967.5,820 969,823.5 970.5,819 972,818.7 973.5,812 975,813.9 976.5,806.2 978,809.2 979.5,800.1 981,804.8 982.5,800.5 984,801.2 985.5,792.7 987,797.6 988.5,792.7 990,794 991.5,787.6 993,790.7 994.5,780.8 996,788.8 997.5,779.7 999,786.8 1000.5,782.4 1002,784.9 1003.5,780.9 1005,783 1006.5,778.8 1008,781.8 1009.5,773.1 1011,780.6 1012.5,776.4 1014,779.4 1015.5,770.7 1017,778.2 1018.5,769.4 1022,782 1022,800 960,850" fill="#0c2a56"/>
<path d="M1000 800Q1009.9 796.4 1011.2 770Q1012.6 796.4 1022.5 800Z" fill="url(#sgb)"/><path d="M1019.7 812Q1023.9 802.8 1024.5 735Q1025.1 802.8 1029.3 812Z" fill="url(#sgp)"/><path d="M1027.6 806Q1033 802.3 1033.8 775Q1034.5 802.3 1039.9 806Z" fill="url(#sgv)"/><path d="M1037.6 812Q1043 806.5 1043.8 766Q1044.5 806.5 1049.9 812Z" fill="url(#sgv)"/><path d="M1046.9 815Q1051.8 808.7 1052.5 762.5Q1053.2 808.7 1058.1 815Z" fill="url(#sgv)"/><path d="M1052.5 826Q1056.9 816.9 1057.5 750Q1058.1 816.9 1062.5 826Z" fill="url(#sgp)"/><path d="M1066.2 830Q1070.6 820.7 1071.2 752.5Q1071.9 820.7 1076.3 830Z" fill="url(#sgp)"/><path d="M1094.3 842Q1098.2 829.6 1098.8 739Q1099.3 829.6 1103.2 842Z" fill="url(#sgp)"/><path d="M1055 815Q1061.1 809.6 1062 770Q1062.9 809.6 1069 815Z" fill="url(#sgv)"/><path d="M1069.6 812Q1077 806.7 1078 768Q1079 806.7 1086.4 812Z" fill="url(#sgv)"/><path d="M978 862Q984.1 859.6 985 842Q985.9 859.6 992 862Z" fill="url(#sgb)"/><path d="M998 860Q1004.1 857.4 1005 838Q1005.9 857.4 1012 860Z" fill="url(#sgb)"/><path d="M1003 852Q1009.1 848.8 1010 825Q1010.9 848.8 1017 852Z" fill="url(#sgb)"/><path d="M991.4 835Q996.3 832 997 810Q997.7 832 1002.6 835Z" fill="url(#sgb)"/><path d="M965 842Q971.1 839.6 972 822Q972.9 839.6 979 842Z" fill="url(#sgb)"/><path d="M1078.8 856Q1084.2 849.3 1085 800Q1085.8 849.3 1091.2 856Z" fill="url(#sgv)"/><path d="M1088.8 860Q1094.2 854.2 1095 812Q1095.8 854.2 1101.2 860Z" fill="url(#sgv)"/><path d="M1103.8 858Q1109.2 850.2 1110 793Q1110.8 850.2 1116.2 858Z" fill="url(#sgv)"/><path d="M1111.3 862Q1116.7 856.4 1117.5 815Q1118.3 856.4 1123.7 862Z" fill="url(#sgv)"/><path d="M1123.8 866Q1129.2 858.8 1130 806Q1130.8 858.8 1136.2 866Z" fill="url(#sgv)"/><path d="M1130.4 868Q1135.3 862 1136 818Q1136.7 862 1141.6 868Z" fill="url(#sgv)"/><path d="M1135.4 872Q1140.3 867.2 1141 832Q1141.7 867.2 1146.6 872Z" fill="url(#sgv)"/><path d="M1040 850Q1046.1 843 1047 792Q1047.9 843 1054 850Z" fill="url(#sgv)"/><path d="M1059 858Q1065.1 849.2 1066 785Q1066.9 849.2 1073 858Z" fill="url(#sgv)"/><path d="M1031 856Q1037.1 850.5 1038 810Q1038.9 850.5 1045 856Z" fill="url(#sgb)"/><path d="M1018 852Q1024.1 847.9 1025 818Q1025.9 847.9 1032 852Z" fill="url(#sgb)"/><path d="M1045.8 866Q1051.2 860.7 1052 822Q1052.8 860.7 1058.2 866Z" fill="url(#sgb)"/><path d="M1067.8 868Q1073.2 860.8 1074 808Q1074.8 860.8 1080.2 868Z" fill="url(#sgv)"/><path d="M1095.8 872Q1101.2 866 1102 822Q1102.8 866 1108.2 872Z" fill="url(#sgb)"/><path d="M1116.4 878Q1121.3 873.2 1122 838Q1122.7 873.2 1127.6 878Z" fill="url(#sgb)"/><path d="M1072.5 932Q1076.9 930.2 1077.5 917Q1078.1 930.2 1082.5 932Z" fill="url(#sgb)"/><path d="M941.9 906Q946.8 904.3 947.5 892Q948.2 904.3 953.1 906Z" fill="url(#sgb)"/><path d="M1139.4 830Q1144.3 826.4 1145 800Q1145.7 826.4 1150.6 830Z" fill="url(#sgb)"/><path d="M1011.8 830Q1017.2 825.2 1018 790Q1018.8 825.2 1024.2 830Z" fill="url(#sgv)"/><path d="M1113.1 866.6Q1119 862.8 1119.9 834.6Q1120.7 862.8 1126.6 866.6Z" fill="url(#sgv)"/><path d="M1011.2 842.6Q1016.5 836.9 1017.3 794.7Q1018 836.9 1023.3 842.6Z" fill="url(#sgv)"/><path d="M1015 847.9Q1021 842.5 1021.8 802.8Q1022.7 842.5 1028.6 847.9Z" fill="url(#sgv)"/><path d="M997.5 850.2Q1003.4 846.8 1004.3 821.6Q1005.1 846.8 1011 850.2Z" fill="url(#sgb)"/><path d="M1070.9 872.1Q1075.4 868.6 1076.1 842.9Q1076.7 868.6 1081.3 872.1Z" fill="url(#sgb)"/><path d="M1008.2 848.6Q1012.5 843 1013.1 801.9Q1013.7 843 1017.9 848.6Z" fill="url(#sgv)"/><path d="M1022.8 837.4Q1028 833.8 1028.8 807.4Q1029.5 833.8 1034.7 837.4Z" fill="url(#sgb)"/><path d="M1058.9 866.3Q1064.8 863.5 1065.6 842.5Q1066.5 863.5 1072.4 866.3Z" fill="url(#sgb)"/><path d="M1140.5 877.6Q1146.5 872.8 1147.3 837.6Q1148.2 872.8 1154.1 877.6Z" fill="url(#sgv)"/><path d="M1007.6 841.3Q1013.4 838.5 1014.2 817.4Q1015.1 838.5 1020.8 841.3Z" fill="url(#sgb)"/><path d="M1074.1 855.7Q1079.9 850.7 1080.7 813.5Q1081.5 850.7 1087.3 855.7Z" fill="url(#sgv)"/><path d="M1078.4 856.6Q1082.3 848.6 1082.8 789.8Q1083.4 848.6 1087.2 856.6Z" fill="url(#sgv)"/><path d="M1119.4 882.4Q1125.6 877.6 1126.5 842.1Q1127.4 877.6 1133.6 882.4Z" fill="url(#sgv)"/><path d="M1073.2 858.2Q1078.8 852.9 1079.6 814.6Q1080.5 852.9 1086.1 858.2Z" fill="url(#sgv)"/><path d="M1111 867.8Q1114.7 859.8 1115.3 800.5Q1115.8 859.8 1119.6 867.8Z" fill="url(#sgv)"/><path d="M1067.1 852.5Q1073.5 848 1074.4 814.6Q1075.3 848 1081.6 852.5Z" fill="url(#sgv)"/><path d="M1011.4 855Q1016.9 847.1 1017.7 789.7Q1018.5 847.1 1024 855Z" fill="url(#sgv)"/><path d="M1003.9 839.8Q1007.8 833.3 1008.4 785.2Q1009 833.3 1012.9 839.8Z" fill="url(#sgv)"/><path d="M1037.7 844.1Q1043.9 836.6 1044.7 781.9Q1045.6 836.6 1051.8 844.1Z" fill="url(#sgv)"/><path d="M1134.2 877.6Q1138 873.5 1138.5 843.4Q1139.1 873.5 1142.9 877.6Z" fill="url(#sgv)"/><path d="M1067.9 869.3Q1071.7 862.4 1072.2 811.5Q1072.7 862.4 1076.5 869.3Z" fill="url(#sgv)"/><path d="M996.7 828.5Q1000.7 820.5 1001.2 762.3Q1001.8 820.5 1005.8 828.5Z" fill="url(#sgv)"/><path d="M1053.9 858.8Q1058 851.1 1058.5 794.6Q1059.1 851.1 1063.2 858.8Z" fill="url(#sgv)"/><path d="M1034.5 858.2Q1038.6 855.3 1039.2 833.9Q1039.8 855.3 1043.9 858.2Z" fill="url(#sgb)"/><path d="M998 850.1Q1003 846.3 1003.8 818.5Q1004.5 846.3 1009.5 850.1Z" fill="url(#sgb)"/><path d="M1050.8 870.3Q1056.1 863.6 1056.9 814.7Q1057.6 863.6 1062.9 870.3Z" fill="url(#sgv)"/><path d="M1068.9 857.8Q1072.9 850.3 1073.4 795.8Q1074 850.3 1077.9 857.8Z" fill="url(#sgv)"/><path d="M1087.7 863.4Q1092.6 859.3 1093.3 829.6Q1094 859.3 1098.9 863.4Z" fill="url(#sgv)"/><path d="M1024.1 849.6Q1027.8 846.7 1028.4 826Q1028.9 846.7 1032.6 849.6Z" fill="url(#sgb)"/><path d="M1015.4 834.6Q1020.5 827 1021.2 770.7Q1021.9 827 1027 834.6Z" fill="url(#sgv)"/><path d="M1094.7 876.8Q1100.9 873.4 1101.8 848.5Q1102.7 873.4 1108.9 876.8Z" fill="url(#sgb)"/><path d="M1051.3 858.1Q1056.9 852.8 1057.6 813.7Q1058.4 852.8 1064 858.1Z" fill="url(#sgv)"/><path d="M1109.7 863.3Q1114.6 855.9 1115.3 801.9Q1115.9 855.9 1120.8 863.3Z" fill="url(#sgv)"/><path d="M1030.8 859.8Q1036.8 852.2 1037.7 796.2Q1038.5 852.2 1044.5 859.8Z" fill="url(#sgv)"/><path d="M1041.3 865.3Q1047.6 858.3 1048.5 806.5Q1049.4 858.3 1055.7 865.3Z" fill="url(#sgv)"/><path d="M1106.7 882.5Q1112.4 877.3 1113.2 838.6Q1114 877.3 1119.7 882.5Z" fill="url(#sgv)"/><path d="M1111.7 871.3Q1116.5 865.8 1117.2 826.1Q1117.9 865.8 1122.6 871.3Z" fill="url(#sgv)"/><path d="M1124.3 868.3Q1129.5 863.5 1130.3 828.2Q1131 863.5 1136.2 868.3Z" fill="url(#sgv)"/><path d="M1099.8 865.7Q1105.3 862.8 1106 841.7Q1106.8 862.8 1112.3 865.7Z" fill="url(#sgb)"/><path d="M1017.4 841.3Q1021.2 834.2 1021.8 782.3Q1022.3 834.2 1026.1 841.3Z" fill="url(#sgv)"/><path d="M1130.4 873.6Q1135.9 869.6 1136.7 840Q1137.4 869.6 1142.9 873.6Z" fill="url(#sgv)"/><path d="M1002.5 829.1Q1007.8 822.4 1008.5 773.1Q1009.3 822.4 1014.6 829.1Z" fill="url(#sgv)"/><path d="M1091.2 876.7Q1095.3 872.7 1095.9 843.2Q1096.5 872.7 1100.6 876.7Z" fill="url(#sgv)"/><path d="M1139.2 861.3Q1144.6 857.4 1145.3 829.2Q1146.1 857.4 1151.5 861.3Z" fill="url(#sgv)"/><path d="M978.8 866Q984.2 863.1 985 842Q985.8 863.1 991.2 866Z" fill="url(#sgb)"/><path d="M953.8 884Q959.2 881.1 960 860Q960.8 881.1 966.2 884Z" fill="url(#sgb)"/><path d="M940.8 900Q946.2 897.6 947 880Q947.8 897.6 953.2 900Z" fill="url(#sgb)"/><path d="M928.8 910Q934.2 907.4 935 888Q935.8 907.4 941.2 910Z" fill="url(#sgb)"/><path d="M996.8 852Q1002.2 848.4 1003 822Q1003.8 848.4 1009.2 852Z" fill="url(#sgb)"/>
<line x1="842" y1="926.8" x2="842" y2="668.8" stroke="#7c7c7c" stroke-width="1.7"/>
<path d="M842 926.3l-9.2 -2.2M842 874.8l-9.2 -2.2M842 823.3l-9.2 -2.2M842 771.8l-9.2 -2.2M842 720.3l-9.2 -2.2M842 668.8l-9.2 -2.2M842 926.3L1145.8 999.8L1320 872.5M930.9 947.8l-5.7 4.1M1028.4 971.4l-5.7 4.1M1125.9 995l-5.7 4.1M1149.8 996.9l5.8 1.4M1201.8 958.9l5.8 1.4M1253.8 920.9l5.8 1.4M1305.8 882.9l5.8 1.4" stroke="#333" stroke-width="1.2" fill="none"/>
<path d="M1147.4 998.6l3.2 0.8M1165.4 985.4l3.2 0.8M1174.6 978.8l3.2 0.8M1181.1 974l3.2 0.8M1186.1 970.3l3.2 0.8M1190.2 967.3l3.2 0.8M1193.7 964.8l3.2 0.8M1196.7 962.6l3.2 0.8M1199.4 960.6l3.2 0.8M1217.4 947.5l3.2 0.8M1226.6 940.8l3.2 0.8M1233.1 936l3.2 0.8M1238.1 932.3l3.2 0.8M1242.2 929.3l3.2 0.8M1245.7 926.8l3.2 0.8M1248.7 924.6l3.2 0.8M1251.4 922.6l3.2 0.8M1269.4 909.5l3.2 0.8M1278.6 902.8l3.2 0.8M1285.1 898l3.2 0.8M1290.1 894.3l3.2 0.8M1294.2 891.3l3.2 0.8M1297.7 888.8l3.2 0.8M1300.7 886.6l3.2 0.8M1303.4 884.6l3.2 0.8" stroke="#555" stroke-width="0.8" fill="none"/>
<text x="814" y="931" font-size="31" text-anchor="end" >0</text>
<text x="814" y="880" font-size="31" text-anchor="end" >0.2</text>
<text x="814" y="829" font-size="31" text-anchor="end" >0.4</text>
<text x="814" y="778" font-size="31" text-anchor="end" >0.6</text>
<text x="814" y="727" font-size="31" text-anchor="end" >0.8</text>
<text x="814" y="676" font-size="31" text-anchor="end" >1.0</text>
<text x="893.8" y="976.5" font-size="30.5" text-anchor="middle" >5</text>
<text x="1000" y="1001.5" font-size="30.5" text-anchor="middle" >10</text>
<text x="1114" y="1023.6" font-size="30.5" text-anchor="middle" >15</text>
<text x="783.5" y="585" font-size="52" >d.)</text>
<g transform="matrix(1,0.266,-0.2,1,855.5,1008)"><text font-size="35.9" font-weight="bold">Wavelength (μm)</text></g>
</g>
<g id="pf">
<g>
<path d="M1408.6 924.8L1408.6 665.3M1427.4 911.6L1427.4 652.1M1437 904.9L1437 645.4M1443.8 900.1L1443.8 640.6M1449 896.4L1449 636.9M1453.3 893.4L1453.3 633.9M1456.9 890.9L1456.9 631.4M1460.1 888.7L1460.1 629.2M1462.9 886.7L1462.9 627.2M1481.7 873.5L1481.7 614M1491.2 866.8L1491.2 607.3M1498 862L1498 602.5M1503.2 858.3L1503.2 598.8M1507.5 855.3L1507.5 595.8M1511.2 852.8L1511.2 593.3M1514.3 850.6L1514.3 591.1M1517.1 848.6L1517.1 589.1M1535.9 835.4L1535.9 575.9M1545.4 828.7L1545.4 569.2M1552.2 823.9L1552.2 564.4M1557.5 820.2L1557.5 560.7M1561.8 817.2L1561.8 557.7M1565.4 814.7L1565.4 555.2M1568.5 812.5L1568.5 553M1571.3 810.5L1571.3 551" stroke="#e4e4e4" stroke-width="1" fill="none"/>
<path d="M1407.5 873.7L1588.2 746.7L1903 819.7M1407.5 821.8L1588.2 694.8L1903 767.8M1407.5 769.9L1588.2 642.9L1903 715.9M1407.5 718L1588.2 591L1903 664M1407.5 666.1L1588.2 539.1L1903 612.1M1407.5 925.6L1588.2 798.6L1903 871.6M1679.2 819.7L1679.2 560.2M1679.2 819.7L1498.4 946.7M1780.9 843.3L1780.9 583.8M1780.9 843.3L1600.2 970.3M1882.7 866.9L1882.7 607.4M1882.7 866.9L1701.9 993.9M1411.1 923.1L1411.1 663.6M1411.1 923.1L1725.9 996.1M1465.3 885L1465.3 625.5M1465.3 885L1780.1 958M1519.6 846.9L1519.6 587.4M1519.6 846.9L1834.3 919.9M1573.8 808.8L1573.8 549.3M1573.8 808.8L1888.5 881.8M1588.2 798.6L1588.2 539.1" stroke="#d9d9d9" stroke-width="1.1" fill="none"/>
</g>
<style>.f0{fill:#092e54;stroke:#092e54}.f1{fill:#082a4e;stroke:#082a4e}.f2{fill:#082747;stroke:#082747}.f3{fill:#082747;stroke:#082747}.f4{fill:#082747;stroke:#082747}.f5{fill:#082747;stroke:#082747}.f6{fill:#08294b;stroke:#08294b}.f7{fill:#092c51;stroke:#092c51}.f8{fill:#072543;stroke:#072543}.f9{fill:#072746;stroke:#072746}.f10{fill:#072949;stroke:#072949}.f11{fill:#062542;stroke:#062542}.f12{fill:#082747;stroke:#082747}.f13{fill:#06243f;stroke:#06243f}.f14{fill:#06243f;stroke:#06243f}.f15{fill:#05233c;stroke:#05233c}.f16{fill:#06243f;stroke:#06243f}.f17{fill:#05233c;stroke:#05233c}.f18{fill:#072543;stroke:#072543}.f19{fill:#06243f;stroke:#06243f}.f20{fill:#072543;stroke:#072543}.f21{fill:#09284d;stroke:#09284d}.f22{fill:#09284d;stroke:#09284d}.f23{fill:#0a2954;stroke:#0a2954}.f24{fill:#092953;stroke:#092953}.f25{fill:#062641;stroke:#062641}.f26{fill:#062745;stroke:#062745}.f27{fill:#092952;stroke:#092952}.f28{fill:#05233c;stroke:#05233c}.f29{fill:#05243c;stroke:#05243c}.f30{fill:#05243f;stroke:#05243f}.f31{fill:#092a51;stroke:#092a51}.f32{fill:#0b2a58;stroke:#0b2a58}.f33{fill:#0a2a56;stroke:#0a2a56}.f34{fill:#092951;stroke:#092951}.f35{fill:#052139;stroke:#052139}.f36{fill:#05223a;stroke:#05223a}.f37{fill:#042239;stroke:#042239}.f38{fill:#04233b;stroke:#04233b}.f39{fill:#05243e;stroke:#05243e}.f40{fill:#092952;stroke:#092952}.f41{fill:#092951;stroke:#092951}.f42{fill:#09284d;stroke:#09284d}.f43{fill:#09284d;stroke:#09284d}.f44{fill:#042137;stroke:#042137}.f45{fill:#042036;stroke:#042036}.f46{fill:#0a2954;stroke:#0a2954}.f47{fill:#0a2953;stroke:#0a2953}.f48{fill:#0b2a56;stroke:#0b2a56}.f49{fill:#0b2a57;stroke:#0b2a57}.f50{fill:#0d2a59;stroke:#0d2a59}.f51{fill:#0c2b5d;stroke:#0c2b5d}.f52{fill:#112b63;stroke:#112b63}.f53{fill:#0f2a5c;stroke:#0f2a5c}.f54{fill:#0e2b61;stroke:#0e2b61}.f55{fill:#0d2c61;stroke:#0d2c61}.f56{fill:#1d2e7f;stroke:#1d2e7f}.f57{fill:#282e8e;stroke:#282e8e}.f58{fill:#132f72;stroke:#132f72}.f59{fill:#0e2e65;stroke:#0e2e65}.f60{fill:#0c2c5e;stroke:#0c2c5e}.f61{fill:#0a2b57;stroke:#0a2b57}.f62{fill:#1f328b;stroke:#1f328b}.f63{fill:#0e2f6a;stroke:#0e2f6a}.f64{fill:#0c2e62;stroke:#0c2e62}.f65{fill:#0f316e;stroke:#0f316e}.f66{fill:#153581;stroke:#153581}.f67{fill:#0a2d5b;stroke:#0a2d5b}.f68{fill:#0d3066;stroke:#0d3066}</style><path d="M1407.5 908.3l6.6 7 3.2 5.7 3.3 .9 3.3-2.5 3.3 2.6 3.3 .2 3.2 1.4 3.3 3.8 3.3 2.1 3.3-1.3 6.5 .1 3.3-.3 3.3 3 3.3 .3 3.2 1.8 6.6 4.7 3.3-.8 3.3-.1 3.2-1.9 3.3 .4 3.3-2.3 3.3 1.7 6.5 11.3 226.3 52.5 144.6-101.6 4.5-4.4 4.5-3.1 4.5-2 22.6-15.9-6.6-5.5-3.2-2.1-3.3-.8-3.3-.2-3.3-.9-13.1-2.7-3.3 .1-3.2-1.2-6.6-.5-3.3-1-3.3-.3-9.8-2.4-3.3-1-3.3-.4-3.2-1.2-3.3-.2-16.4-4.6-6.6-3-9.8-3.1-3.3-1.8-3.3-3.2-6.5-3.7-3.3-.5-3.3-3.8-3.2-1.8-3.3 .5-3.3-4.9-3.3 1.6-3.3-3.4-3.2 1.3-3.3-1.6-3.3-.1-3.3 1.2-3.3 0-3.2-.9-3.3 .7-3.3 1.3-3.3 .3-3.2-1.6-3.3-.1-3.3-2.8-3.3-1.2-3.3 .4-3.2-2.2-3.3-.3-3.3-2.4-3.3-.7-3.3-1.7-3.2 .2-3.3-3.4-3.3-1.6-3.3 .5-3.2-1-3.3-1.7-6.6-1.8-3.3-1.7-3.2 2-3.3-1.6-3.3 2.3-3.3-.7-3.3 .4-3.2-.9-6.6 .9-3.3-1.6-3.2 .3-3.3 1-6.6-2.3-3.3-2.2-3.2 0-3.3-1.3-3.3-.7-3.3 .2-3.3-.8-3.2-.1-3.3-1.6-3.3-7.9-3.3-3.6-3.3-1.8-4.5 2.2-4.5 5.3-4.5 4.2-4.5 5.4-4.5 .4-4.6 1.5-4.5 2.5-4.5 4.8-4.5 6.4-4.5 3.8-4.6 3.1-4.5 7.5-4.5 4.5-4.5 2-4.5 3.4-4.6 2.4-4.5 3.4-4.5 4-4.5 2.6-4.5 3.4-4.5 4-4.6 1.9-9 6.2-9 4.1-4.6 4.1-9 5.4-4.5 4.6-9.1 4.2-4.5 5.1-4.5-1.5-4.5 2.6-4.5 4.1-4.5 5.2-4.6-.7-4.5 4.1z" fill="#042036"/><g stroke-width="0.9" stroke-linejoin="round"><path class="f0" d="M1574.7 790.4l4.5-4.2 4.5-5.3 4.5-2.2 3.3 1.8-4.5 2.2-4.5 3.6-4.5 7z"/><path class="f1" d="M1570.2 795.8l4.5-5.4 3.3 2.9-4.5 5.2z"/><path class="f2" d="M1565.7 796.2l4.5-.4 3.3 2.7-4.6-2.1z"/><path class="f3" d="M1561.1 797.7l4.6-1.5 3.2 .2-4.5-1z"/><path class="f4" d="M1556.6 800.2l4.5-2.5 3.3-2.3-4.5 4.9z"/><path class="f3" d="M1552.1 805l4.5-4.8 3.3 .1-4.5 3.3z"/><path class="f2" d="M1543.1 815.2l4.5-3.8 4.5-6.4 3.3-1.4-4.5 6.1-4.6 7.5z"/><path class="f5" d="M1534 825.8l4.5-7.5 4.6-3.1 3.2 2-9 9.2z"/><path class="f2" d="M1529.5 830.3l4.5-4.5 3.3 .6-4.5 5.7z"/><path class="f5" d="M1520.5 835.7l4.5-3.4 4.5-2 3.3 1.8-4.5 1.5-4.6 4.6z"/><path class="f6" d="M1502.4 848.1l4.5-2.6 4.5-4 4.5-3.4 4.6-2.4 3.2 2.5-4.5 1.9-4.5 4-4.5 2.9-4.5 4z"/><path class="f1" d="M1475.3 865.6l4.5-2 9-6.2 4.6-1.9 9-7.4 3.3 2.9-4.5 2.7-4.6 2-9 6.6-9 5.5z"/><path class="f7" d="M1439.1 891.1l4.6-5.1 9-4.2 4.5-4.6 9-5.4 4.6-4.1 4.5-2.1 3.3 2.2-4.6 2.5-4.5 3.9-4.5 2.9-9 7.8-9.1 7-4.5 2.6z"/><path class="f0" d="M1425.6 896.3l4.5-4.1 4.5-2.6 4.5 1.5 3.3 3.4-4.5 2.8-4.5 .7-4.5 1.8z"/><path class="f7" d="M1416.5 900.8l4.6 .7 4.5-5.2 3.3 3.5-4.6 2.1-4.5 5.7z"/><path class="f0" d="M1407.5 908.3l4.5-3.4 4.5-4.1 3.3 6.8-9 4.3z"/><path class="f0" d="M1587 782.7l4.5-2.2 3.3 3.6-4.5 4.4z"/><path class="f7" d="M1578 793.3l4.5-7 4.5-3.6 3.3 5.8-4.5 2.6-4.5 4.4z"/><path class="f6" d="M1573.5 798.5l4.5-5.2 3.3 2.2-4.6 4.9z"/><path class="f2" d="M1568.9 796.4l7.8 4-4.5-7.1z"/><path class="f4" d="M1555.4 803.6l4.5-3.3 4.5-4.9 4.5 1 3.3-3.1-4.5 1.6-4.5 3.3-4.5 4.2z"/><path class="f3" d="M1550.9 809.7l4.5-6.1 3.3-1.2-4.6 7.2z"/><path class="f2" d="M1546.3 817.2l4.6-7.5 3.2-.1-4.5 7.7z"/><path class="f5" d="M1537.3 826.4l9-9.2 3.3 .1-4.5 6-4.5 4.2z"/><path class="f2" d="M1532.8 832.1l4.5-5.7 3.3 1.1-4.5 3z"/><path class="f5" d="M1519.2 840.1l4.5-1.9 4.6-4.6 7.8-3.1-4.6 4.3-4.5 3.5-4.5 4.6z"/><path class="f6" d="M1487.6 862.3l9-6.6 4.6-2 4.5-2.7 4.5-4 4.5-2.9 4.5-4 3.3 2.8-4.5 3.8-18.1 12.1-4.5 3.5-4.5 2.4z"/><path class="f1" d="M1437.9 897.3l9-5.4 9.1-7 9-7.8 4.5-2.9 4.5-3.9 13.6-8 3.3 2.4-13.6 9.1-4.5 3.5-4.5 2.4-4.5 3.5-4.6 4.5-4.5 3.7-4.5 2.8-4.5 1.2-4.5 4.2z"/><path class="f7" d="M1410.8 911.9l9-4.3 4.5-5.7 9.1-3.9 4.5-.7 3.3 2.3-4.5 3.8-4.6 1.5-4.5 1-4.5 3.2-4.5 4.2-4.5 2z"/><path class="f7" d="M1585.8 791.1l4.5-2.6 4.5-4.4 3.3 7.9-4.5 2.4-4.6 3.6z"/><path class="f1" d="M1581.3 795.5l4.5-4.4 3.2 6.9-4.5 2.6z"/><path class="f5" d="M1576.7 800.4l4.6-4.9 3.2 5.1-4.5-2.9z"/><path class="f2" d="M1572.2 793.3l4.5 7.1 3.3-2.7-4.5-1.9z"/><path class="f3" d="M1567.7 794.9l4.5-1.6 3.3 2.5-4.5-3.6z"/><path class="f4" d="M1558.7 802.4l4.5-4.2 7.8-6-9.1 11.3z"/><path class="f3" d="M1554.1 809.6l4.6-7.2 3.2 1.1-4.5 6.8z"/><path class="f2" d="M1531.5 834.8l4.6-4.3 4.5-3 4.5-4.2 4.5-6 4.5-7.7 3.3 .7-4.5 7.2-4.5 5.2-13.6 12.8z"/><path class="f5" d="M1522.5 842.9l4.5-4.6 4.5-3.5 3.3 .7-9 8.4z"/><path class="f8" d="M1513.5 849.6l4.5-2.9 4.5-3.8 3.3 1-9.1 6.7z"/><path class="f9" d="M1486.4 867.4l9-5.1 18.1-12.7 3.2 1-4.5 3.3-4.5 5.2-4.5 3.5-4.5 1.9-4.5 3.5-4.6 2.7z"/><path class="f10" d="M1432.1 904.9l4.6-1.5 9-8 4.5-1.2 4.5-2.8 4.5-3.7 4.6-4.5 4.5-3.5 4.5-2.4 13.6-9.9 3.2 3.3-13.5 9.5-9.1 7.5-4.5 2.7-4.5 1.5-4.5 3-4.5 5-9.1 5.7-4.5 1z"/><path class="f1" d="M1414.1 915.3l4.5-2 4.5-4.2 4.5-3.2 4.5-1 3.3 1.7-4.5 2.8-4.5 4.6-4.5 1.5-4.6 5.5z"/><path class="f7" d="M1589 798l4.6-3.6 4.5-2.4 3.3 1.6-9.1 5.3z"/><path class="f1" d="M1584.5 800.6l4.5-2.6 3.3 .9-4.5 1.4z"/><path class="f5" d="M1580 797.7l4.5 2.9 3.3-.3z"/><path class="f3" d="M1575.5 795.8l7.8 3.1-4.5-7.4z"/><path class="f4" d="M1561.9 803.5l9.1-11.3 4.5 3.6 3.3-4.3-4.5-.9-4.6 .7-4.5 10.7z"/><path class="f3" d="M1557.4 810.3l4.5-6.8 3.3-1.5-4.5 7.6z"/><path class="f2" d="M1534.8 835.5l13.6-12.8 4.5-5.2 4.5-7.2 3.3-.7-4.5 5.4-4.5 7.8-4.6 2.6-4.5 5.8-4.5 3.1z"/><path class="f5" d="M1521.3 847.4l4.5-3.5 9-8.4 3.3-1.2-4.5 4.9-4.5 3.4-4.6 5.2z"/><path class="f8" d="M1507.7 859.1l4.5-5.2 9.1-6.5 3.2 .4-4.5 4.3-4.5 2.2-4.5 4.6z"/><path class="f11" d="M1503.2 862.6l4.5-3.5 3.3-.2z"/><path class="f9" d="M1494.2 868l4.5-3.5 7.8-3.2-4.5 4-4.6 2.7z"/><path class="f11" d="M1485.1 874l9.1-6 3.2 0-4.5 4.9-4.5 2.7z"/><path class="f9" d="M1476.1 880.2l9-6.2 3.3 1.6-4.5 1.7-4.5 4.9z"/><path class="f11" d="M1462.5 890.4l4.5-2.7 9.1-7.5 3.3 2-4.6 3.2-4.5 2.6z"/><path class="f8" d="M1458 891.9l7.8-2.3-4.5 4.2z"/><path class="f9" d="M1453.5 894.9l4.5-3 3.3 1.9-4.5 2.6z"/><path class="f8" d="M1444.4 902.9l4.6-3 4.5-5 3.3 1.5-4.6 2.8-4.5 4.3z"/><path class="f9" d="M1417.3 921l4.6-5.5 4.5-1.5 4.5-4.6 4.5-2.8 4.5-1 4.5-2.7 3.3 .6-4.5 .5-4.5 4.6-13.6 9.2-4.5 4.1z"/><path class="f6" d="M1587.8 800.3l4.5-1.4 9.1-5.3 3.2 .1-9 6.6-4.5-.4z"/><path class="f2" d="M1583.3 798.9l4.5 1.4 3.3-.4-4.5-1.9z"/><path class="f3" d="M1578.8 791.5l4.5 7.4 3.3-.9-4.6-4.8z"/><path class="f4" d="M1565.2 802l4.5-10.7 4.6-.7 4.5 .9 3.2 1.7-4.5-4.8-4.5 3.6-4.5 8.3z"/><path class="f3" d="M1551.7 822.8l4.5-7.8 4.5-5.4 4.5-7.6 3.3-1.7-9 14.7z"/><path class="f2" d="M1524.5 847.8l4.6-5.2 4.5-3.4 4.5-4.9 4.5-3.1 4.5-5.8 4.6-2.6 3.2-3.4-9 11.1-4.5 4.9-13.6 11z"/><path class="f5" d="M1520 852.1l4.5-4.3 3.3-1.4-4.5 4.2z"/><path class="f8" d="M1502 865.3l4.5-4 4.5-2.4 4.5-4.6 7.8-3.7-4.5 5.5-9.1 5.6-4.5 3.5z"/><path class="f9" d="M1497.4 868l4.6-2.7 3.2-.1-4.5 4.1z"/><path class="f11" d="M1488.4 875.6l4.5-2.7 4.5-4.9 3.3 1.3-4.5 4.1-4.5 3.3z"/><path class="f9" d="M1479.4 882.2l4.5-4.9 4.5-1.7 3.3 1.1-4.5 1.6-4.6 3.8z"/><path class="f11" d="M1470.3 888l4.5-2.6 4.6-3.2 3.2-.1-4.5 3.6-4.5 2.2z"/><path class="f9" d="M1465.8 889.6l4.5-1.6 3.3-.1-4.5 3.1z"/><path class="f8" d="M1456.8 896.4l4.5-2.6 4.5-4.2 3.3 1.4-9.1 6.9z"/><path class="f9" d="M1447.7 903.5l4.5-4.3 4.6-2.8 3.2 1.5-4.5 2.5-4.5 3.1z"/><path class="f8" d="M1438.7 908.6l4.5-4.6 7.8-.5-4.5 1.1-4.5 5.2z"/><path class="f9" d="M1429.7 914.6l9-6 3.3 1.2-4.6 2-4.5 3z"/><path class="f6" d="M1420.6 921.9l4.5-4.1 4.6-3.2 3.2 .2-4.5 1.9-4.5 2.7z"/><path class="f5" d="M1595.6 800.3l9-6.6 3.3 .8-9 6.1z"/><path class="f2" d="M1586.6 798l4.5 1.9 7.8 .7-4.5 .7-4.6-3.8z"/><path class="f3" d="M1582 793.2l4.6 4.8 3.2-.5-4.5-6z"/><path class="f12" d="M1568.5 800.3l4.5-8.3 4.5-3.6 4.5 4.8 3.3-1.7-4.5-7-4.5 7.7-4.5 6.4z"/><path class="f4" d="M1554.9 819.4l4.6-4.4 9-14.7 3.3-1.7-4.5 10.3-4.6 4.7-4.5 9.1z"/><path class="f3" d="M1545.9 830.5l9-11.1 3.3 3.3-4.5 2.3-4.5 5z"/><path class="f2" d="M1523.3 850.6l9-8.1 9.1-7.1 4.5-4.9 3.3-.5-4.5 6.3-13.6 11.3-4.5 4.7z"/><path class="f8" d="M1500.7 869.3l9-7.6 9.1-5.6 4.5-5.5 3.3 1.7-4.5 2.8-9.1 7.8-4.5 3.1-4.5 4.4z"/><path class="f13" d="M1478.1 885.7l9.1-7.4 4.5-1.6 4.5-3.3 4.5-4.1 3.3 1.1-4.5 2.7-9.1 7.4-9 5.2z"/><path class="f8" d="M1446.5 904.6l4.5-1.1 4.5-3.1 4.5-2.5 13.6-10 4.5-2.2 3.3 0-4.5 1.4-9.1 6.7-4.5 4-4.5 1.1-9 8z"/><path class="f5" d="M1442 909.8l4.5-5.2 3.3 2.3-4.6 .9z"/><path class="f6" d="M1437.4 911.8l7.8-4-4.5 2.8z"/><path class="f5" d="M1423.9 919.4l4.5-2.7 4.5-1.9 4.5-3 3.3-1.2-9 6.4-4.5 5z"/><path class="f5" d="M1589.8 797.5l4.6 3.8 4.5-.7 9-6.1 3.3-.2-4.5 3.6-9.1 4.1-4.5-6.6z"/><path class="f2" d="M1576.3 792.2l4.5-7.7 4.5 7 4.5 6 3.3-2.1-4.5-7.4-4.5-1.4-4.5 1z"/><path class="f3" d="M1567.3 808.9l4.5-10.3 7.8-11-4.5 10.2-4.6 8.1z"/><path class="f2" d="M1553.7 825l4.5-2.3 4.5-9.1 7.8-7.7-4.5 6.7-4.5 8.8-4.5 4.5z"/><path class="f5" d="M1526.6 852.3l4.5-4.7 13.6-11.3 4.5-6.3 4.5-5 3.3 .9-9.1 7.9-4.5 4.8-4.5 5.8-9 8.1z"/><path class="f8" d="M1508.5 866l9-6.7 4.6-4.2 4.5-2.8 3.3 .2-4.6 5-4.5 2.8-4.5 4.3-4.5 3.1z"/><path class="f9" d="M1504 870.4l4.5-4.4 3.3 1.7-4.5 4z"/><path class="f13" d="M1495 876.7l4.5-3.6 4.5-2.7 3.3 1.3-9.1 6.6z"/><path class="f11" d="M1481.4 885.7l9-5.2 4.6-3.8 3.2 1.6-4.5 3-4.5 2.2-4.5 4.3z"/><path class="f9" d="M1449.8 906.9l9-8 4.5-1.1 9.1-7.7 4.5-3 4.5-1.4 3.3 2.1-4.5 3.1-4.6 1.5-4.5 2.2-4.5 5-9 5.1-4.6 4z"/><path class="f6" d="M1431.7 917l13.5-9.2 4.6-.9 3.2 1.8-4.5 0-4.5 5.3-4.5 1.7-4.5 2.8z"/><path class="f5" d="M1427.2 922l4.5-5 3.3 1.5-4.5 3.7z"/><path class="f5" d="M1588.6 788l9 14 9.1-4.1 4.5-3.6 3.3 .7-4.5 3.2-4.6 1.4-4.5 .1-4.5-3.3-4.5-9.5z"/><path class="f6" d="M1584.1 786.6l4.5 1.4 3.3-1.1-4.5-10z"/><path class="f5" d="M1561.5 821.4l4.5-8.8 4.5-6.7 4.6-8.1 4.5-10.2 4.5-1 3.3-9.7-4.6 5.8-4.5 11.1-9 16.6z"/><path class="f6" d="M1557 825.9l4.5-4.5 3.3-4.3-4.5 6.1z"/><path class="f5" d="M1538.9 844.4l4.5-5.8 4.5-4.8 12.4-10.6-9.1 10.4-4.5 6.1-4.5 3.6z"/><path class="f6" d="M1529.9 852.5l9-8.1 3.3-1.1-4.5 5.5-4.6 3.7z"/><path class="f5" d="M1525.3 857.5l4.6-5 3.2 0-4.5 4.1z"/><path class="f8" d="M1520.8 860.3l4.5-2.8 3.3-.9-4.5 4.6z"/><path class="f9" d="M1511.8 867.7l4.5-3.1 4.5-4.3 3.3 .9-4.5 3.4-4.5 4.1z"/><path class="f13" d="M1493.7 881.3l13.6-9.6 4.5-4 3.3 1-18.1 13.9z"/><path class="f11" d="M1489.2 883.5l4.5-2.2 3.3 1.3-4.5 3.5z"/><path class="f13" d="M1480.2 890.9l4.5-3.1 4.5-4.3 3.3 2.6-9.1 5.5z"/><path class="f11" d="M1475.6 892.4l4.6-1.5 3.2 .7-4.5 2.7z"/><path class="f9" d="M1466.6 899.6l4.5-5 4.5-2.2 3.3 1.9-9 6.6z"/><path class="f11" d="M1462.1 902l4.5-2.4 3.3 1.3-4.5 3.9z"/><path class="f9" d="M1430.5 922.2l4.5-3.7 4.5-2.8 4.5-1.7 4.5-5.3 4.5 0 4.6-4 4.5-2.7 3.3 2.8-4.6 1.7-4.5 4.1-4.5 1.1-4.5 4.5-4.5 1.9-4.6 4.2-4.5 1.3z"/><path class="f5" d="M1591.9 786.9l4.5 9.5 4.5 3.3 4.5-.1 4.6-1.4 4.5-3.2 3.3 1.3-13.6 7.3-4.5-4z"/><path class="f6" d="M1587.4 776.9l4.5 10 3.3 5-4.6-2.4z"/><path class="f5" d="M1528.6 856.6l9.1-7.8 4.5-5.5 4.5-3.6 4.5-6.1 9.1-10.4 9-12.8 9-16.6 4.5-11.1 4.6-5.8 3.2 12.6-9 5.7-4.5 12.5-4.5 8.7-13.6 17.4-4.5 3.1-4.5 4.7-4.5 3.9-13.6 13.7z"/><path class="f9" d="M1524.1 861.2l4.5-4.6 3.3 2.6-4.5 3.7z"/><path class="f8" d="M1519.6 864.6l4.5-3.4 3.3 1.7-4.5 3.4z"/><path class="f13" d="M1506 876l13.6-11.4 3.3 1.7-4.6 4.8-4.5 3.7-4.5 2.9z"/><path class="f11" d="M1501.5 879.3l4.5-3.3 3.3 1.7-4.5 3.8z"/><path class="f14" d="M1497 882.6l4.5-3.3 3.3 2.2-4.5 3.5z"/><path class="f15" d="M1488 889l4.5-2.9 4.5-3.5 3.3 2.4-4.5 3.5-4.6 2.6z"/><path class="f14" d="M1483.4 891.6l4.6-2.6 3.2 2.1-4.5 3.3z"/><path class="f11" d="M1438.2 922.3l4.6-4.2 4.5-1.9 4.5-4.5 4.5-1.1 4.5-4.1 4.6-1.7 4.5-3.9 9-6.6 4.5-2.7 3.3 2.8-9 5.6-4.5 3.3-4.6 2.6-13.5 10.2-4.5 1.7-4.6 4-4.5 1.9z"/><path class="f9" d="M1433.7 923.6l4.5-1.3 3.3 1.4-4.5 3.7z"/><path class="f5" d="M1604.2 803.6l13.6-7.3 3.2 0-4.5 3.1-4.5 3.8-4.5 1z"/><path class="f6" d="M1581.6 795.2l9-5.7 4.6 2.4 4.5 7.7 4.5 4 3.3 .6-4.5-1.3-4.6-5.2-4.5-1.9-4.5-.3-4.5 9.7z"/><path class="f5" d="M1563.5 828l9.1-11.6 4.5-8.7 4.5-12.5 3.3 10-4.5 4.5-9.1 17.3-4.5 4.3z"/><path class="f6" d="M1554.5 836.9l4.5-3.1 4.5-5.8 3.3 3.3-4.5 3.6-4.5 5.5z"/><path class="f5" d="M1540.9 850.2l4.6-4.7 4.5-3.9 4.5-4.7 3.3 3.5-13.6 12.3z"/><path class="f8" d="M1527.4 862.9l4.5-3.7 9-9 3.3 2.5-4.5 4.4-4.5 3.1-4.5 4.2z"/><path class="f13" d="M1509.3 877.7l4.5-2.9 4.5-3.7 4.6-4.8 4.5-3.4 3.3 1.5-4.6 3.8-4.5 2.9-9 6.9z"/><path class="f15" d="M1482.2 897.5l9-6.4 4.6-2.6 13.5-10.8 3.3 .3-13.6 10.5-4.5 2.3-9 6.5z"/><path class="f14" d="M1477.7 900l4.5-2.5 3.3-.2-4.5 3z"/><path class="f15" d="M1464.1 909.2l4.5-3.3 4.6-2.6 4.5-3.3 3.3 .3-9.1 7.3-4.5 2.5z"/><path class="f13" d="M1459.6 912.8l4.5-3.6 3.3 .9-4.5 2.6z"/><path class="f14" d="M1455.1 916.1l4.5-3.3 3.3-.1-4.5 3.8z"/><path class="f11" d="M1450.6 917.8l4.5-1.7 3.3 .4-4.6 2.1z"/><path class="f13" d="M1446 921.8l4.6-4 3.2 .8-4.5 3.2z"/><path class="f11" d="M1437 927.4l4.5-3.7 4.5-1.9 3.3 0-9 7.7z"/><path class="f5" d="M1612 803.2l4.5-3.8 4.5-3.1 3.3 2.2-4.5 2.4-4.5 3.1z"/><path class="f6" d="M1598.4 797.7l4.6 5.2 4.5 1.3 4.5-1 3.3 .8-4.5 2.1-4.6-5.6-4.5-3.9z"/><path class="f1" d="M1589.4 795.5l4.5 .3 4.5 1.9 3.3-1.1-4.5-1.4-4.5-2.1z"/><path class="f6" d="M1580.4 809.7l4.5-4.5 4.5-9.7 3.3-2.4-9.1 19.7z"/><path class="f1" d="M1566.8 831.3l4.5-4.3 9.1-17.3 3.2 3.1-4.5 5-4.5 7.3-4.5 4.7z"/><path class="f6" d="M1548.7 848.5l9.1-8.1 4.5-5.5 4.5-3.6 3.3-1.5-9 11.4-4.6 2-4.5 5.7z"/><path class="f5" d="M1544.2 852.7l4.5-4.2 3.3 .4-4.5 3.9z"/><path class="f8" d="M1535.2 860.2l4.5-3.1 4.5-4.4 3.3 .1-4.5 3.5-4.5 4.9z"/><path class="f13" d="M1512.6 878l9-6.9 4.5-2.9 9.1-8 3.3 1-4.6 4.1-4.5 2.5-9 7-4.5 4.1z"/><path class="f15" d="M1499 888.5l13.6-10.5 3.3 .9-4.6 3.9-4.5 3.3-4.5 1.8z"/><path class="f13" d="M1490 894.3l4.5-3.5 4.5-2.3 3.3-.6-4.5 3.1-4.5 3.9z"/><path class="f15" d="M1485.5 897.3l4.5-3 3.3 .6-4.5 3.4z"/><path class="f13" d="M1440.3 929.5l9-7.7 4.5-3.2 4.6-2.1 4.5-3.8 9-5.1 9.1-7.3 4.5-3 3.3 1-13.6 7.8-4.5 3.7-9.1 5.8-4.5 4.5-13.5 8.1z"/><path class="f5" d="M1619.8 800.9l4.5-2.4 3.3 .9-4.5 4z"/><path class="f6" d="M1615.3 804l4.5-3.1 3.3 2.5-4.5 1.9z"/><path class="f5" d="M1592.7 793.1l4.5 2.1 4.5 1.4 4.5 3.9 4.6 5.6 4.5-2.1 3.3 1.3-4.6 1.2-4.5-3.8-9-11.9-4.5 5.7z"/><path class="f6" d="M1583.6 812.8l9.1-19.7 3.3 3.4-9.1 13.6z"/><path class="f5" d="M1543 856.3l9-7.4 4.5-5.7 4.6-2 9-11.4 4.5-4.7 4.5-7.3 4.5-5 3.3-2.7-4.5 9.5-4.5 5.3-4.5 7.6-4.5 4.2-4.6 2.3-9 8.9-4.5 5-4.5 3.5z"/><path class="f8" d="M1533.9 865.3l4.6-4.1 4.5-4.9 3.3 .1-4.6 5.3-4.5 3z"/><path class="f13" d="M1520.4 874.8l9-7 4.5-2.5 3.3-.6-4.5 4.8-4.5 2-4.5 3.4z"/><path class="f16" d="M1515.9 878.9l4.5-4.1 3.3 .1-4.6 4.3z"/><path class="f13" d="M1511.3 882.8l4.6-3.9 3.2 .3-4.5 3.2z"/><path class="f17" d="M1506.8 886.1l4.5-3.3 3.3-.4-4.5 3.5z"/><path class="f16" d="M1452.6 923.1l4.5-3 4.5-4.5 9.1-5.8 4.5-3.7 13.6-7.8 9-7.3 4.5-3.1 4.5-1.8 3.3-.2-4.5 3.4-4.5 2.1-4.5 2.9-9.1 7.5-4.5 1.7-4.5 3.3-4.5 2.7-4.6 4.7-9 4.3z"/><path class="f13" d="M1448.1 925.6l7.8-4.2-4.5 5.1z"/><path class="f16" d="M1443.6 928.2l4.5-2.6 3.3 .9-4.6 1.7z"/><path class="f8" d="M1623.1 803.4l4.5-4 3.3 1.4-4.5 1.9z"/><path class="f5" d="M1614 806.5l4.6-1.2 4.5-1.9 3.3-.7-4.6 2.8z"/><path class="f2" d="M1586.9 810.1l9.1-13.6 4.5-5.7 9 11.9 4.5 3.8 3.3-.5-4.5-3.3-4.5-8.1-4.5 0-4.6-2.3-9 20.3z"/><path class="f5" d="M1582.4 819.6l4.5-9.5 3.3 2.5-4.5 7.7z"/><path class="f2" d="M1573.4 832.5l4.5-7.6 4.5-5.3 3.3 .7-4.5 7.3-4.6 5.1z"/><path class="f5" d="M1568.8 836.7l4.6-4.2 3.2 .2-4.5 3.9z"/><path class="f2" d="M1559.8 843.5l4.5-4.5 4.5-2.3 3.3-.1-4.5 3.4-4.5 6z"/><path class="f5" d="M1555.3 847.9l4.5-4.4 3.3 2.5-4.5 4.1z"/><path class="f2" d="M1546.3 856.4l4.5-3.5 4.5-5 3.3 2.2-4.5 2.3-4.6 4.3z"/><path class="f8" d="M1537.2 864.7l4.5-3 4.6-5.3 3.2 .3-4.5 3.8-4.5 5.1z"/><path class="f13" d="M1487.5 901.8l9-7.5 4.6-2.9 4.5-2.1 13.5-10.1 4.6-4.3 4.5-3.4 4.5-2 4.5-4.8 3.3 .9-4.5 3.8-4.5 2.4-4.6 4.4-4.5 2.6-4.5 4.3-13.6 9.9-9 4.2-4.5 5z"/><path class="f16" d="M1478.5 906.8l4.5-3.3 4.5-1.7 3.3 .4-4.5 1.5-4.5 3.7z"/><path class="f18" d="M1474 909.5l4.5-2.7 3.3 .6-4.6 2.5z"/><path class="f16" d="M1464.9 916.3l4.5-2.1 4.6-4.7 3.2 .4-4.5 3.6-4.5 2.2z"/><path class="f18" d="M1460.4 918.5l4.5-2.2 3.3-.6-4.5 2.4z"/><path class="f8" d="M1455.9 921.4l4.5-2.9 3.3-.4-4.5 4.7z"/><path class="f18" d="M1446.8 928.2l4.6-1.7 4.5-5.1 3.3 1.4-4.6 1.8-4.5 3.7z"/><path class="f5" d="M1608.3 794.6l4.5 8.1 4.5 3.3 4.5-.5 4.6-2.8 7.8-2.9-4.6 4.3-4.5 2.9-4.5-.8-4.5-2.8-4.5-5.7z"/><path class="f2" d="M1585.7 820.3l4.5-7.7 9-20.3 4.6 2.3 4.5 0 3.3 3.1-4.6-3.5-4.5 .8-4.5 9.7-9 15.8z"/><path class="f5" d="M1576.6 832.7l4.6-5.1 4.5-7.3 3.3 .2-4.6 6.6-4.5 5.6z"/><path class="f2" d="M1567.6 840l9-7.3 3.3 0-9 8.7z"/><path class="f5" d="M1545 860.5l9.1-8.1 4.5-2.3 4.5-4.1 4.5-6 3.3 1.4-4.5 3.3-9.1 10.2-4.5 2.4-4.5 5.1z"/><path class="f8" d="M1531.5 871.8l4.5-2.4 4.5-3.8 4.5-5.1 3.3 1.9-4.5 2.8-9.1 8.3z"/><path class="f13" d="M1499.8 895.3l4.5-2.3 13.6-9.9 4.5-4.3 4.5-2.6 4.6-4.4 3.2 1.7-4.5 2.7-9 7.4-4.5 2.9-4.6 2-4.5 3.3-4.5 3.9z"/><path class="f8" d="M1450.1 928.3l4.5-3.7 4.6-1.8 4.5-4.7 9-4.6 4.5-3.6 4.6-2.5 4.5-3.7 4.5-1.5 4.5-5 4.5-1.9 3.3 .4-4.5 1.5-4.5 2.9-4.5 5.2-4.6 1.2-9 5.9-4.5 3.4-4.5 2.7-4.6 5.3-9 4.2z"/><path class="f2" d="M1625.1 807l4.5-2.9 4.6-4.3 3.2-.3-4.5 4.9z"/><path class="f5" d="M1620.6 806.2l4.5 .8 3.3-1-4.5 1.9z"/><path class="f2" d="M1593.5 812.3l4.5-7.6 4.5-9.7 4.5-.8 4.6 3.5 4.5 5.7 7.8 4.5-9.1-11.2-4.5-4.3-4.5 3.8-4.5 10.2-4.5 4.9z"/><path class="f5" d="M1589 820.5l4.5-8.2 3.3-1-4.6 10.3z"/><path class="f2" d="M1575.4 837.3l4.5-4.6 4.5-5.6 4.6-6.6 3.2 1.1-4.5 4.2-4.5 8.2-4.5 3.7z"/><path class="f5" d="M1552.8 857.3l4.5-2.4 9.1-10.2 4.5-3.3 4.5-4.1 3.3 .4-4.5 3.1-4.6 6.5-4.5 2.6-4.5 4.8-4.5 3.5z"/><path class="f8" d="M1539.3 869.4l4.5-4.2 4.5-2.8 4.5-5.1 3.3 .9-4.5 5.1-4.5 3.4-4.6 4.7z"/><path class="f13" d="M1498.6 897.2l4.5-1.5 4.5-3.9 4.5-3.3 4.6-2 4.5-2.9 9-7.4 4.5-2.7 4.6-4.1 3.2 2-4.5 2.6-4.5 4.8-9 6.5-4.6 2.1-18 12.9z"/><path class="f8" d="M1467 918.5l4.5-2.7 13.5-9.3 4.6-1.2 4.5-5.2 4.5-2.9 3.3 3.1-4.6 2.1-4.5 2.7-9 6.9-4.5 1.8-4.5 4.5-4.6 2z"/><path class="f9" d="M1462.4 923.8l4.6-5.3 3.2 1.8-4.5 4.2z"/><path class="f8" d="M1453.4 928l9-4.2 3.3 .7-4.5 .9-4.5 5.6z"/><path class="f2" d="M1632.9 804.4l4.5-4.9 3.3 1.6-4.5 3.2z"/><path class="f5" d="M1628.4 806l4.5-1.6 3.3-.1-4.5 3.4z"/><path class="f2" d="M1587.7 825.8l4.5-4.2 4.6-10.3 4.5-4.9 4.5-10.2 4.5-3.8 4.5 4.3 9.1 11.2 4.5-1.9 3.3 1.7-4.5 1.1-4.6-4.4-4.5-6.9-4.5-3.6-4.5 3.2-4.5 4.5-4.6 11.9-4.5 6.2-4.5 7.2z"/><path class="f5" d="M1556.1 858.2l4.5-3.5 4.5-4.8 4.5-2.6 4.6-6.5 9-6.8 4.5-8.2 3.3 1.1-13.6 15.1-4.5 4-4.5 5-4.5 5.8-4.5 2.8z"/><path class="f9" d="M1551.6 863.3l4.5-5.1 3.3 1.4-4.5 4z"/><path class="f8" d="M1547.1 866.7l4.5-3.4 3.3 .3-4.6 4z"/><path class="f13" d="M1538 874l4.5-2.6 4.6-4.7 3.2 .9-4.5 4.9-4.5 3.3z"/><path class="f11" d="M1519.9 887.4l4.6-2.1 9-6.5 4.5-4.8 3.3 1.8-9 7.3-4.6 2.4-4.5 3.1z"/><path class="f13" d="M1510.9 893.8l9-6.4 3.3 1.2-4.5 4.2-4.5 1.8z"/><path class="f11" d="M1483.8 912l9-6.9 4.5-2.7 4.6-2.1 9-6.5 3.3 .8-4.5 3.7-13.6 8.5-4.5 3.3-4.5 4.3z"/><path class="f9" d="M1456.7 931l4.5-5.6 4.5-.9 4.5-4.2 4.6-2 4.5-4.5 4.5-1.8 3.3 2.4-4.5 1-4.6 5-4.5 1.2-4.5 3.5-4.5 2.5-4.5 3.7z"/><path class="f2" d="M1622.6 804.4l4.6 4.4 4.5-1.1 9-6.6 3.3-.3-4.5 2.9-4.6 4.3-4.5-.4-4.5-5.6z"/><path class="f3" d="M1613.6 793.9l4.5 3.6 4.5 6.9 3.3-2.4-9-10.6z"/><path class="f2" d="M1609.1 797.1l7.8-5.7-4.5 4.6z"/><path class="f3" d="M1604.6 801.6l4.5-4.5 3.3-1.1-4.6 5.4z"/><path class="f2" d="M1600 813.5l4.6-11.9 3.2-.2-4.5 12.1z"/><path class="f5" d="M1595.5 819.7l4.5-6.2 3.3 0-4.5 7.2z"/><path class="f2" d="M1586.5 831.6l4.5-4.7 4.5-7.2 3.3 1-4.5 5.8-4.5 6.8z"/><path class="f5" d="M1559.4 859.6l4.5-2.8 4.5-5.8 4.5-5 4.5-4 9.1-10.4 3.3 1.7-4.6 6.1-4.5 4.9-4.5 2.8-9 8.8-4.6 5.3z"/><path class="f8" d="M1550.3 867.6l9.1-8 3.2 1.6-4.5 3.5-4.5 5.1z"/><path class="f13" d="M1536.8 879.3l9-6.8 4.5-4.9 3.3 2.2-4.5 3.2-9 7.7z"/><path class="f14" d="M1527.7 885.5l4.6-2.4 4.5-3.8 3.3 1.4-9.1 6.2z"/><path class="f15" d="M1523.2 888.6l4.5-3.1 3.3 1.4-4.5 4.2z"/><path class="f14" d="M1514.2 894.6l4.5-1.8 4.5-4.2 3.3 2.5-4.5 2.3-4.5 3.5z"/><path class="f11" d="M1464.5 927.6l4.5-2.5 4.5-3.5 4.5-1.2 4.6-5 4.5-1 4.5-4.3 18.1-11.8 4.5-3.7 3.3 2.3-13.6 8.6-4.5 4.2-4.5 2.3-4.6 3-4.5 4-4.5 1.6-9 7.1-4.5 2.1z"/><path class="f9" d="M1460 931.3l4.5-3.7 3.3 2.2-4.6 3.3z"/><path class="f2" d="M1607.8 801.4l9.1-10 13.5 16.2 4.5 .4 4.6-4.3 4.5-2.9 3.3-.6-4.6 4.7-4.5 2.4-4.5-.1-4.5-4.7-4.5-7.3-4.5-1.5-9.1 6.5z"/><path class="f3" d="M1603.3 813.5l4.5-12.1 3.3-1.2-4.5 10.7z"/><path class="f2" d="M1598.8 820.7l4.5-7.2 3.3-2.6-4.5 9.2z"/><path class="f5" d="M1594.3 826.5l4.5-5.8 3.3-.6-4.5 8.7z"/><path class="f2" d="M1585.2 839.4l9.1-12.9 3.3 2.3-4.6 6.8z"/><path class="f5" d="M1562.6 861.2l9.1-9.9 4.5-4.2 4.5-2.8 4.5-4.9 3.3-1.7-9 10.9-4.5 4.1-9.1 9.6z"/><path class="f8" d="M1553.6 869.8l4.5-5.1 4.5-3.5 3.3 1.1-4.5 4.3-4.5 3.1z"/><path class="f13" d="M1544.6 877.1l4.5-4.1 4.5-3.2 3.3-.1-9 8.4z"/><path class="f15" d="M1503.9 905.5l13.6-8.6 4.5-3.5 4.5-2.3 4.5-4.2 13.6-9.8 3.3 1-4.6 3.9-4.5 2.9-4.5 4.2-9 5.7-4.6 3.9-13.5 8.9z"/><path class="f14" d="M1481.3 920.6l4.5-1.6 4.5-4 4.6-3 4.5-2.3 4.5-4.2 3.3 2.1-18.1 13-4.5 2.4z"/><path class="f11" d="M1463.2 933.1l4.6-3.3 4.5-2.1 9-7.1 3.3 2.4-4.5 3.5-4.5 2-4.6 4.1-4.5 2.8z"/><path class="f2" d="M1633.7 807.2l4.5 .1 4.5-2.4 4.6-4.7 3.2 .9-9 6.8-4.5-.8z"/><path class="f5" d="M1624.7 795.2l4.5 7.3 4.5 4.7 3.3-.1-4.5-4.1-4.5-9.6z"/><path class="f2" d="M1615.6 796.7l4.6-3 4.5 1.5 3.3-1.8-4.6-2.1z"/><path class="f6" d="M1593 835.6l4.6-6.8 9-17.9 4.5-10.7 7.8-6-4.5 6.1-4.5 14.6-4.5 7.7-4.6 5-4.5 7.4z"/><path class="f5" d="M1565.9 862.3l9.1-9.6 4.5-4.1 9-10.9 4.5-2.1 3.3-.6-9 9.4-4.5 5.5-4.6 3.1-4.5 3.9-4.5 5.9z"/><path class="f8" d="M1556.9 869.7l4.5-3.1 4.5-4.3 3.3 .5-9 7.3z"/><path class="f13" d="M1547.9 878.1l9-8.4 3.3 .4-4.5 4.8-4.6 3.9z"/><path class="f15" d="M1466.5 935.4l4.5-2.8 4.6-4.1 4.5-2 4.5-3.5 4.5-2.4 9-6.9 22.6-15 4.6-3.9 9-5.7 4.5-4.2 4.5-2.9 4.6-3.9 3.2 .7-4.5 3-4.5 4.2-31.6 22.6-4.6 3.8-27.1 18.8-9 6.6z"/><path class="f2" d="M1641.5 807.9l9-6.8 3.3-.4-9 7.6z"/><path class="f5" d="M1632.5 803l4.5 4.1 7.8 1.2-4.5 .6-4.6-6.5z"/><path class="f6" d="M1618.9 794.2l4.5-2.9 4.6 2.1 4.5 9.6 3.2-.6-4.5-5.8-4.5-3-4.5 3.6z"/><path class="f1" d="M1614.4 800.3l4.5-6.1 3.3 3-4.5 3.6z"/><path class="f6" d="M1600.8 827.6l4.6-5 4.5-7.7 4.5-14.6 3.3 .5-4.5 9.8-4.6 11.8-4.5 6.7z"/><path class="f5" d="M1569.2 862.8l4.5-5.9 4.5-3.9 4.6-3.1 4.5-5.5 9-9.4 4.5-7.4 3.3 1.5-18.1 19.8-4.5 3.9-4.5 5.9-4.5 4.1z"/><path class="f8" d="M1560.2 870.1l9-7.3 3.3 0-4.5 4.3-4.6 3.4z"/><path class="f13" d="M1546.6 881.8l4.5-3 4.6-3.9 4.5-4.8 3.2 .4-4.5 4.9-4.5 3.2-4.5 3.8z"/><path class="f15" d="M1533.1 892.3l9-6.3 4.5-4.2 3.3 .6-13.6 10.3z"/><path class="f17" d="M1528.5 896l4.6-3.7 3.2 .4-4.5 3z"/><path class="f15" d="M1505.9 912.4l4.6-3.8 18-12.6 3.3-.3-18.1 12.2-4.5 4.5z"/><path class="f17" d="M1492.4 921.7l9-6.5 4.5-2.8 3.3 0-4.5 2.3-9 7.2z"/><path class="f15" d="M1469.8 937.8l22.6-16.1 3.3 .2-4.6 2-4.5 2.9-9 7.5-4.5 2.7z"/><path class="f2" d="M1640.3 808.9l4.5-.6 9-7.6 3.3 .7-4.5 1.4-4.5 5.3-4.6 2z"/><path class="f5" d="M1635.7 802.4l4.6 6.5 3.2 1.2-4.5-1.5z"/><path class="f6" d="M1617.7 800.8l9-7.2 4.5 3 4.5 5.8 3.3 6.2-4.5-11.1-4.5-4-4.5 6.9-4.5 10.9z"/><path class="f1" d="M1613.2 810.6l4.5-9.8 3.3 10.5-4.6 8.1z"/><path class="f6" d="M1604.1 829.1l4.5-6.7 4.6-11.8 3.2 8.8-4.5 7.2-4.5 6.2z"/><path class="f5" d="M1572.5 862.8l4.5-4.1 4.5-5.9 4.5-3.9 18.1-19.8 3.3 3.7-4.5 5.6-4.5 2.6-4.6 4.3-13.5 14.9-4.5 4.4z"/><path class="f8" d="M1558.9 875.4l4.5-4.9 4.6-3.4 4.5-4.3 3.3 1.8-9.1 7.5-4.5 3z"/><path class="f16" d="M1540.9 889.1l9-6.7 4.5-3.8 4.5-3.2 3.3-.3-9 8.1-9.1 6.4z"/><path class="f17" d="M1518.3 905l18-12.3 4.6-3.6 3.2 .5-22.6 16.1z"/><path class="f16" d="M1500.2 918l4.5-3.3 4.5-2.3 4.5-4.5 4.6-2.9 3.2 .7-4.5 1.8-4.5 4.3-4.5 1.7-4.5 4.7z"/><path class="f17" d="M1495.7 921.9l4.5-3.9 3.3 .2z"/><path class="f16" d="M1473.1 937l4.5-2.7 9-7.5 4.5-2.9 7.8-3.3-4.5 3.7-4.5 2.1-4.5 2.7-4.5 4.4-4.5 3.4z"/><path class="f2" d="M1643.5 810.1l4.6-2 4.5-5.3 4.5-1.4 3.3-2.3-4.5 3.2-4.6 5.8-4.5 3.1z"/><path class="f5" d="M1634.5 797.5l4.5 11.1 7.8 2.6-4.5-4.7-4.5-2.3z"/><path class="f6" d="M1616.4 819.4l4.6-8.1 4.5-10.9 4.5-6.9 4.5 4 3.3 6.7-4.5-6.5-4.6 6.9-4.5 8.5-4.5 4.5z"/><path class="f5" d="M1611.9 826.6l4.5-7.2 3.3-1.8-4.5 10.9z"/><path class="f6" d="M1602.9 838.4l9-11.8 3.3 1.9-4.5 4.1-4.5 5.8z"/><path class="f5" d="M1575.8 864.6l13.5-14 4.5-5.3 4.6-4.3 4.5-2.6 3.3 0-4.6 6-9 9-4.5 2.5-9.1 8.7z"/><path class="f8" d="M1562.2 875.1l4.5-3 9.1-7.5 3.2 0-9 7.2-4.5 4.6z"/><path class="f16" d="M1508 913.5l4.5-1.7 4.5-4.3 4.5-1.8 31.7-22.5 9-8.1 3.3 1.3-4.5 2.8-4.6 4.1-4.5 2.4-13.5 9.9-4.5 3.9-4.6 1.5-4.5 4.8-9 5.5-4.5 2.3z"/><path class="f19" d="M1498.9 920.6l4.6-2.4 4.5-4.7 3.3 .1-4.6 2.6-4.5 4.9z"/><path class="f16" d="M1494.4 924.3l4.5-3.7 3.3 .5z"/><path class="f19" d="M1480.9 933.5l4.5-4.4 4.5-2.7 7.8-3.6-9 7.6z"/><path class="f20" d="M1476.4 936.9l4.5-3.4 3.2-1.5z"/><path class="f2" d="M1646.8 811.2l4.5-3.1 4.6-5.8 4.5-3.2 3.3 1.6-4.6 .8-4.5 6.8-4.5-.2z"/><path class="f5" d="M1628.7 804.6l4.6-6.9 4.5 6.5 4.5 2.3 4.5 4.7 3.3-3.1-4.5 1.3-4.5-7.9-4.6-2.2-4.5 5.3z"/><path class="f6" d="M1615.2 828.5l4.5-10.9 4.5-4.5 4.5-8.5 3.3 0-4.5 6.5-4.5 9.4-4.5 7.4z"/><path class="f5" d="M1610.7 832.6l4.5-4.1 3.3-.6-4.5 5.4z"/><path class="f6" d="M1606.2 838.4l4.5-5.8 3.3 .7-4.6 4.7z"/><path class="f5" d="M1601.6 844.4l4.6-6 3.2-.4-4.5 4.7z"/><path class="f6" d="M1588.1 855.9l4.5-2.5 9-9 3.3-1.7-9 10.8-4.5 4z"/><path class="f5" d="M1579 864.6l9.1-8.7 3.3 1.6-4.6 4.3-4.5 2.3z"/><path class="f8" d="M1542.9 892.3l9-6.6 4.5-2.4 4.6-4.1 4.5-2.8 4.5-4.6 9-7.2 3.3-.5-4.5 5.5-4.5 1.8-4.5 4.7-9.1 5.9-4.5 3.8-4.5 2.6-4.5 3.9z"/><path class="f13" d="M1533.9 899.5l9-7.2 3.3 0-9.1 7.3z"/><path class="f8" d="M1529.3 901l4.6-1.5 3.2 .1z"/><path class="f18" d="M1524.8 905.8l4.5-4.8 3.3-.5-4.5 4.1z"/><path class="f16" d="M1520.3 908.3l4.5-2.5 3.3-1.2-4.5 3.7z"/><path class="f18" d="M1488.7 930.4l9-7.6 4.5-1.7 4.5-4.9 9.1-4.9 4.5-3 3.3 0-9.1 4.8-9 5.2-4.5 5.9-4.5 .3-4.6 5.9z"/><path class="f20" d="M1479.6 935l4.5-3 4.6-1.6 3.2 0-4.5 1.6-4.5 3.4z"/><path class="f2" d="M1641.1 801.5l4.5 7.9 4.5-1.3 4.5 .2 4.5-6.8 4.6-.8 3.2-2-4.5 4.4-9 5.7-4.5-3.4-4.6-5.5z"/><path class="f21" d="M1632 804.6l4.5-5.3 4.6 2.2 3.2-1.6-9 .8z"/><path class="f22" d="M1627.5 811.1l4.5-6.5 3.3-3.9-4.5 10.5z"/><path class="f2" d="M1623 820.5l4.5-9.4 3.3 .1-4.5 7.2z"/><path class="f5" d="M1577.8 869.6l4.5-5.5 4.5-2.3 9.1-8.3 9-10.8 9.1-9.4 4.5-5.4 4.5-7.4 3.3-2.1-4.5 10.1-4.6 6.8-4.5 5.2-9 7.7-4.5 3.2-4.6 6.1-4.5 3.1-9 8z"/><path class="f8" d="M1568.8 876.1l4.5-4.7 7.8-2.8-4.5 4.9-4.6 3.2z"/><path class="f9" d="M1514.5 913.1l9.1-4.8 9-7.8 4.5-.9 13.6-11.2 4.5-2.6 4.5-3.8 9.1-5.9 3.2 .6-4.5 2.4-4.5 3.1-4.5 3.9-9 5.6-9.1 6.2-4.5 4.4-4.5 .9-4.5 5.1-4.6 3.4-4.5 1.5z"/><path class="f6" d="M1510 916l4.5-2.9 3.3 .1z"/><path class="f5" d="M1505.5 918.3l4.5-2.3 3.3-1.2-4.5 3.9z"/><path class="f8" d="M1501 924.2l4.5-5.9 3.3 .4-4.5 5z"/><path class="f5" d="M1496.5 924.5l4.5-.3 3.3-.5-4.6 .6z"/><path class="f6" d="M1491.9 930.4l4.6-5.9 3.2-.2-4.5 4.5z"/><path class="f8" d="M1487.4 932l7.8-3.2-4.5 3.4z"/><path class="f5" d="M1482.9 935.4l4.5-3.4 3.3 .2-4.5 .9z"/><path class="f5" d="M1657.9 805.9l4.5-2.8 4.5-4.4 3.3 1.7-4.5 1.7-4.5 5.7z"/><path class="f2" d="M1648.9 805.4l4.5 3.4 4.5-2.9 3.3 1.9-4.5 2.7z"/><path class="f22" d="M1639.8 800.3l4.5-.4 4.6 5.5 3.2 2.4-4.5-8.7-4.5-3.2z"/><path class="f21" d="M1635.3 800.7l4.5-.4 3.3-4.4-4.5 4.9z"/><path class="f22" d="M1626.3 818.4l4.5-7.2 4.5-10.5 3.3 .1-4.5 10.7-4.6 8.1z"/><path class="f2" d="M1617.2 835.3l4.5-6.8 4.6-10.1 3.2 1.2-4.5 8.5-4.5 6.2z"/><path class="f5" d="M1581.1 868.6l9-8 4.5-3.1 4.6-6.1 13.5-10.9 4.5-5.2 3.3-1-4.5 6.3-4.5 3.6-4.5 6.8-4.6 3.5-4.5 4.9-4.5 3.9-4.5 3-4.5 4.7z"/><path class="f9" d="M1558.5 886.1l4.5-3.9 4.5-3.1 4.5-2.4 4.6-3.2 4.5-4.9 3.3 2.4-9.1 7.6-4.5 4.5-4.5 2.2-4.5 3.3z"/><path class="f11" d="M1549.5 891.7l9-5.6 3.3 2.5-9.1 7.4z"/><path class="f9" d="M1522.3 911.7l4.6-3.4 4.5-5.1 4.5-.9 4.5-4.4 9.1-6.2 3.2 4.3-9 5-9 5.4-4.6 1.9-4.5 4z"/><path class="f10" d="M1517.8 913.2l4.5-1.5 3.3 .6-4.5 2.8z"/><path class="f1" d="M1499.7 924.3l4.6-.6 4.5-5 4.5-3.9 4.5-1.6 3.3 1.9-9 6.1-4.6 1.1-4.5 1.9z"/><path class="f6" d="M1495.2 928.8l4.5-4.5 3.3-.1-4.5 5.1z"/><path class="f1" d="M1486.2 933.1l4.5-.9 4.5-3.4 3.3 .5-4.5 .4-4.5 5.1z"/><path class="f5" d="M1652.1 807.8l4.6 2.7 4.5-2.7 4.5-5.7 4.5-1.7 3.3 1.1-4.5 2.7-4.5 5.6-4.6 0-4.5-1.6z"/><path class="f22" d="M1647.6 799.1l4.5 8.7 3.3 .4-4.5-8.3z"/><path class="f23" d="M1643.1 795.9l4.5 3.2 3.3 .8-4.5-3.5z"/><path class="f24" d="M1638.6 800.8l4.5-4.9 3.3 .5-4.5 6.4z"/><path class="f22" d="M1625 828.1l9.1-16.6 4.5-10.7 3.3 2-4.6 9.6-4.5 7.9-4.5 9.3z"/><path class="f5" d="M1593.4 863.3l4.5-3.9 4.5-4.9 4.6-3.5 4.5-6.8 4.5-3.6 9-12.5 3.3 1.5-4.5 4.2-4.5 8.1-9.1 9.3-4.5 3.8-9 10.2z"/><path class="f8" d="M1584.4 871l4.5-4.7 4.5-3 3.3 1.9-9.1 8.4z"/><path class="f11" d="M1575.3 878.6l9.1-7.6 3.2 2.6-9 7.8z"/><path class="f14" d="M1552.7 896l13.6-10.7 4.5-2.2 4.5-4.5 3.3 2.8-4.5 4.2-18.1 13.8z"/><path class="f25" d="M1548.2 898.6l4.5-2.6 3.3 3.4-4.5 3.2z"/><path class="f14" d="M1543.7 901l4.5-2.4 3.3 4-4.5 3.1z"/><path class="f25" d="M1534.7 906.4l9-5.4 3.3 4.7-4.5 3.2-4.6 2.5z"/><path class="f26" d="M1512.1 921.2l13.5-8.9 4.5-4 4.6-1.9 3.2 5-13.5 8.8-4.5 3.4-4.6 2.4z"/><path class="f10" d="M1489.5 934.8l4.5-5.1 4.5-.4 4.5-5.1 4.5-1.9 4.6-1.1 3.2 4.8-13.5 9.4-4.5 1.7-4.6 3.5z"/><path class="f5" d="M1659.9 809.8l4.6 0 4.5-5.6 4.5-2.7 3.3 .7-9.1 8.1-4.5 .3z"/><path class="f21" d="M1650.9 799.9l4.5 8.3 7.8 2.4-4.5-1.2-4.5-6.5z"/><path class="f24" d="M1646.4 796.4l7.8 6.5-4.5-1.6z"/><path class="f27" d="M1641.9 802.8l4.5-6.4 3.3 4.9-4.6 3.4z"/><path class="f24" d="M1637.3 812.4l4.6-9.6 3.2 1.9-4.5 6.8z"/><path class="f22" d="M1623.8 833.8l4.5-4.2 4.5-9.3 4.5-7.9 3.3-.9-9 15.4-4.5 10.3z"/><path class="f2" d="M1619.3 841.9l4.5-8.1 3.3 3.4-4.6 5.6z"/><path class="f5" d="M1596.7 865.2l9-10.2 4.5-3.8 9.1-9.3 3.2 .9-4.5 3.5-4.5 5.8-9 7.8-4.5 5.3z"/><path class="f9" d="M1592.2 869.2l4.5-4 3.3 0-4.6 4.4z"/><path class="f11" d="M1583.1 877.4l9.1-8.2 3.2 .4-4.5 4.9-4.5 3.5z"/><path class="f14" d="M1574.1 885.6l9-8.2 3.3 .6-9 8.4z"/><path class="f28" d="M1560.5 896.1l13.6-10.5 3.3 .8-13.6 10.8z"/><path class="f29" d="M1528.9 917.3l13.6-8.4 18-12.8 3.3 1.1-4.5 4.5-27.1 19z"/><path class="f30" d="M1492.7 940.6l4.6-3.5 4.5-1.7 13.5-9.4 4.6-2.4 9-6.3 3.3 3.4-36.2 25.4z"/><path class="f31" d="M1672.3 806.4l4.5-4.2 3.3 1.7-4.6 1.7z"/><path class="f6" d="M1667.7 810.3l4.6-3.9 3.2-.8-4.5 6.1z"/><path class="f21" d="M1663.2 810.6l4.5-.3 3.3 1.4z"/><path class="f22" d="M1658.7 809.4l7.8 1.9-4.5-.7z"/><path class="f24" d="M1649.7 801.3l4.5 1.6 4.5 6.5 3.3 1.2-4.5-7.5z"/><path class="f32" d="M1645.1 804.7l4.6-3.4 3.2 .8-4.5-3.7z"/><path class="f33" d="M1640.6 811.5l4.5-6.8 3.3-6.3-4.5 14.5z"/><path class="f34" d="M1636.1 819.6l4.5-8.1 3.3 1.4-4.5 4.5z"/><path class="f27" d="M1631.6 826.9l4.5-7.3 3.3-2.2-4.5 13.4z"/><path class="f22" d="M1622.5 842.8l4.6-5.6 4.5-10.3 3.3 3.9-4.6 5.1-4.5 6.6z"/><path class="f2" d="M1600 865.2l4.5-5.3 9-7.8 4.5-5.8 4.5-3.5 3.3-.3-9 9.6-4.5 4.1-4.5 5.7-4.6 3.4z"/><path class="f8" d="M1590.9 874.5l9.1-9.3 3.2 .1-9 9.7z"/><path class="f13" d="M1581.9 882.3l4.5-4.3 4.5-3.5 3.3 .5-9 7.7z"/><path class="f15" d="M1577.4 886.4l4.5-4.1 3.3 .4-4.6 4.3z"/><path class="f35" d="M1572.8 890.1l4.6-3.7 3.2 .6-4.5 3.9z"/><path class="f28" d="M1563.8 897.2l9-7.1 3.3 .8-9 7.1z"/><path class="f36" d="M1559.3 901.7l4.5-4.5 3.3 .8-4.5 4.4z"/><path class="f37" d="M1541.2 914.4l18.1-12.7 3.3 .7-18.1 12.7z"/><path class="f38" d="M1514.1 933.4l27.1-19 3.3 .7-27.1 19.1z"/><path class="f39" d="M1509.6 936.6l4.5-3.2 3.3 .8-4.5 3.2z"/><path class="f38" d="M1505.1 939.8l4.5-3.2 3.3 .8-4.6 3.1z"/><path class="f39" d="M1496 946.1l9.1-6.3 3.2 .7-9 6.4z"/><path class="f21" d="M1666.5 811.3l4.5 .4 4.5-6.1 4.6-1.7 3.2 1-4.5 1.9-4.5 5-4.5 .7z"/><path class="f22" d="M1662 810.6l4.5 .7 3.3 1.2z"/><path class="f27" d="M1657.5 803.1l4.5 7.5 3.3 1-4.6-9.4z"/><path class="f40" d="M1643.9 812.9l4.5-14.5 4.5 3.7 4.6 1 3.2-.9-4.5-5.2-4.5 2.2-4.5 11.2z"/><path class="f41" d="M1634.9 830.8l4.5-13.4 4.5-4.5 3.3-2.5-4.5 9.7-4.6 8.3z"/><path class="f42" d="M1630.3 835.9l4.6-5.1 3.2-2.4-4.5 6.2z"/><path class="f43" d="M1621.3 847.2l4.5-4.7 4.5-6.6 3.3-1.3-4.5 7.5-4.5 4.3z"/><path class="f3" d="M1616.8 852.1l4.5-4.9 3.3-.8-4.5 5.6z"/><path class="f2" d="M1603.2 865.3l4.6-3.4 4.5-5.7 4.5-4.1 3.3-.1-4.6 4.1-4.5 6-4.5 4.2z"/><path class="f18" d="M1594.2 875l9-9.7 3.3 1-9 9.3z"/><path class="f16" d="M1585.2 882.7l9-7.7 3.3 .6-9.1 7.8z"/><path class="f17" d="M1580.6 887l4.6-4.3 3.2 .7-4.5 3.9z"/><path class="f35" d="M1567.1 898l13.5-11 3.3 .3-4.5 4.3-9 7z"/><path class="f44" d="M1562.6 902.4l4.5-4.4 3.3 .6-4.6 4.6z"/><path class="f45" d="M1544.5 915.1l18.1-12.7 3.2 .8-18 12.7z"/><path class="f37" d="M1499.3 946.9l45.2-31.8 3.3 .8-45.2 31.8z"/><path class="f31" d="M1678.8 806.8l4.5-1.9 3.3-.5-4.5 5.4z"/><path class="f21" d="M1669.8 812.5l4.5-.7 4.5-5 3.3 3-9 4.4z"/><path class="f22" d="M1665.3 811.6l4.5 .9 3.3 1.7-4.6-8.9z"/><path class="f46" d="M1660.7 802.2l4.6 9.4 3.2-6.3-4.5-7.2z"/><path class="f47" d="M1647.2 810.4l4.5-11.2 4.5-2.2 4.5 5.2 3.3-4.1-4.5-3.1-4.5 4.2z"/><path class="f40" d="M1642.7 820.1l4.5-9.7 3.3-5-4.6 6.5z"/><path class="f41" d="M1638.1 828.4l4.6-8.3 3.2-8.2-4.5 14.5z"/><path class="f34" d="M1633.6 834.6l4.5-6.2 3.3-2-4.5 8.4z"/><path class="f42" d="M1629.1 842.1l4.5-7.5 3.3 .2-4.5 5.6z"/><path class="f43" d="M1620.1 852l4.5-5.6 4.5-4.3 3.3-1.7-4.5 3.2-4.6 6.4z"/><path class="f3" d="M1611 862.1l4.5-6 4.6-4.1 3.2-2-4.5 5.5z"/><path class="f2" d="M1606.5 866.3l4.5-4.2 3.3-2.5-4.5 6.6z"/><path class="f18" d="M1597.5 875.6l9-9.3 3.3-.1-9 9.3z"/><path class="f16" d="M1593 879.6l4.5-4 3.3-.1-4.6 3.7z"/><path class="f13" d="M1588.4 883.4l4.6-3.8 3.2-.4-4.5 4.6z"/><path class="f17" d="M1583.9 887.3l4.5-3.9 3.3 .4-4.5 3.7z"/><path class="f15" d="M1579.4 891.6l4.5-4.3 3.3 .2-4.5 4z"/><path class="f35" d="M1570.4 898.6l9-7 3.3-.1-9.1 7.7z"/><path class="f44" d="M1565.8 903.2l4.6-4.6 3.2 .6-4.5 3.5z"/><path class="f45" d="M1502.6 947.7l63.2-44.5 3.3-.5-4.5 4.4-58.7 41.3z"/><path class="f31" d="M1677.6 812.1l4.5-2.3 4.5-5.4 3.3 1.6-9 6.4z"/><path class="f21" d="M1673.1 814.2l4.5-2.1 3.3 .3-4.6 1.6z"/><path class="f24" d="M1668.5 805.3l4.6 8.9 3.2-.2-4.5-7.4z"/><path class="f46" d="M1664 798.1l4.5 7.2 3.3 1.3-4.5-12.9z"/><path class="f48" d="M1650.5 805.4l4.5-6.2 4.5-4.2 4.5 3.1 3.3-4.4-4.5-15-9.1 21z"/><path class="f47" d="M1645.9 811.9l4.6-6.5 3.2-5.7-4.5 5.2z"/><path class="f49" d="M1641.4 826.4l4.5-14.5 3.3-7z"/><path class="f46" d="M1636.9 834.8l4.5-8.4 3.3-9.3-4.5 12.3z"/><path class="f27" d="M1632.4 840.4l4.5-5.6 3.3-5.4-4.5 4.5z"/><path class="f34" d="M1627.9 843.6l4.5-3.2 3.3-6.5-4.6 9.8z"/><path class="f43" d="M1614.3 859.6l4.5-4.1 9.1-11.9 3.2 .1-4.5 5.4-4.5 3.7-4.5 7z"/><path class="f2" d="M1600.8 875.5l9-9.3 4.5-6.6 3.3 .2-9 8.7-4.6 5.5z"/><path class="f18" d="M1596.2 879.2l4.6-3.7 3.2-1.5-4.5 5.2z"/><path class="f16" d="M1587.2 887.5l4.5-3.7 4.5-4.6 3.3 0-4.5 3.7-4.5 4.7z"/><path class="f15" d="M1578.2 895.6l9-8.1 3.3 .1-9.1 8.5z"/><path class="f35" d="M1569.1 902.7l9.1-7.1 3.2 .5-9 7.2z"/><path class="f44" d="M1564.6 907.1l4.5-4.4 3.3 .6-4.5 3.5z"/><path class="f45" d="M1505.9 948.4l58.7-41.3 3.3-.3-4.5 4.3-54.3 38.1z"/><path class="f31" d="M1680.9 812.4l9-6.4 3.3 3.4-4.6 3.2-4.5 2z"/><path class="f21" d="M1676.3 814l4.6-1.6 3.2 2.2z"/><path class="f27" d="M1671.8 806.6l4.5 7.4 3.3 .3-4.5-11.8z"/><path class="f47" d="M1667.3 793.7l4.5 12.9 3.3-4.1-4.5-10.3z"/><path class="f50" d="M1653.7 799.7l9.1-21 4.5 15 3.3-1.5-4.5-13.5-4.6 4.2-4.5 13.8z"/><path class="f48" d="M1649.2 804.9l4.5-5.2 3.3-3-4.5 9.6z"/><path class="f49" d="M1644.7 817.1l4.5-12.2 3.3 1.4-4.5 12.6z"/><path class="f46" d="M1640.2 829.4l4.5-12.3 3.3 1.8-4.5 11.2z"/><path class="f34" d="M1635.7 833.9l4.5-4.5 3.3 .7-4.6 6.8z"/><path class="f27" d="M1631.1 843.7l4.6-9.8 3.2 3-4.5 5.9z"/><path class="f43" d="M1622.1 852.8l4.5-3.7 4.5-5.4 3.3-.9-4.5 3.1-4.5 5.5z"/><path class="f22" d="M1617.6 859.8l4.5-7 3.3-1.4-4.5 8.3z"/><path class="f2" d="M1604 874l4.6-5.5 9-8.7 3.3-.1-4.6 3.2-9 11.4z"/><path class="f18" d="M1595 882.9l4.5-3.7 4.5-5.2 3.3 .3-4.5 5.6-4.5 4.3z"/><path class="f13" d="M1590.5 887.6l4.5-4.7 3.3 1.3-4.5 3.6z"/><path class="f15" d="M1581.4 896.1l9.1-8.5 3.3 .2-9.1 8.7z"/><path class="f35" d="M1572.4 903.3l9-7.2 3.3 .4-9 7.6z"/><path class="f44" d="M1563.4 911.1l4.5-4.3 4.5-3.5 3.3 .8-4.5 3.4-4.6 4.3z"/><path class="f45" d="M1509.1 949.2l54.3-38.1 3.2 .7-54.2 38.1z"/><path class="f6" d="M1684.1 814.6l4.5-2 4.6-3.2 3.2-.2-9 7.5z"/><path class="f21" d="M1679.6 814.3l4.5 .3 3.3 2.1-4.5-2.2z"/><path class="f23" d="M1675.1 802.5l4.5 11.8 3.3 .2-4.5-9.9z"/><path class="f51" d="M1670.6 792.2l4.5 10.3 3.3 2.1-4.5-15.8z"/><path class="f52" d="M1666.1 778.7l4.5 13.5 3.3-3.4-4.6-13.7z"/><path class="f53" d="M1661.5 782.9l7.8-7.8-4.5 .9z"/><path class="f50" d="M1657 796.7l4.5-13.8 3.3-6.9z"/><path class="f54" d="M1652.5 806.3l4.5-9.6 3.3-8.6-4.5 19.4z"/><path class="f51" d="M1648 818.9l4.5-12.6 3.3 1.2-4.5 13z"/><path class="f33" d="M1643.5 830.1l4.5-11.2 3.3 1.6-4.6 9.5z"/><path class="f24" d="M1629.9 845.9l4.5-3.1 4.5-5.9 4.6-6.8 3.2-.1-4.5 5.9-4.5 4.2-4.5 9.2z"/><path class="f22" d="M1616.3 862.9l4.6-3.2 4.5-8.3 4.5-5.5 3.3 3.4-4.5 2.5-4.6 6-4.5 7.1z"/><path class="f2" d="M1607.3 874.3l9-11.4 3.3 2-4.5 4-4.5 5.9z"/><path class="f5" d="M1602.8 879.9l4.5-5.6 3.3 .5-4.5 4.4z"/><path class="f8" d="M1598.3 884.2l4.5-4.3 3.3-.7-4.5 4.7z"/><path class="f13" d="M1589.2 892.5l4.6-4.7 4.5-3.6 3.3-.3-9.1 9.1z"/><path class="f15" d="M1584.7 896.5l4.5-4 3.3 .5-4.5 4.2z"/><path class="f35" d="M1571.2 907.5l13.5-11 3.3 .7-13.6 11.1z"/><path class="f44" d="M1566.6 911.8l4.6-4.3 3.2 .8-4.5 4.3z"/><path class="f45" d="M1512.4 949.9l54.2-38.1 3.3 .8-54.2 38.1z"/><path class="f6" d="M1687.4 816.7l9-7.5 3.3 1.7-9 6.1z"/><path class="f21" d="M1682.9 814.5l4.5 2.2 3.3 .3-4.5-1.2z"/><path class="f23" d="M1678.4 804.6l4.5 9.9 3.3 1.3-4.6-13z"/><path class="f55" d="M1673.9 788.8l4.5 15.8 3.2-1.8-4.5-16.5z"/><path class="f56" d="M1669.3 775.1l4.6 13.7 3.2-2.5-4.5-9.8z"/><path class="f57" d="M1664.8 776l4.5-.9 3.3 1.4-4.5 4.5z"/><path class="f56" d="M1660.3 788.1l4.5-12.1 3.3 5-4.5 8.9z"/><path class="f58" d="M1655.8 807.5l4.5-19.4 3.3 1.8-4.5 21.7z"/><path class="f59" d="M1651.3 820.5l4.5-13 3.3 4.1-4.6 6.5z"/><path class="f60" d="M1646.7 830l4.6-9.5 3.2-2.4-4.5 8.4z"/><path class="f61" d="M1637.7 840.1l4.5-4.2 4.5-5.9 3.3-3.5-4.5 10-4.5 5.8z"/><path class="f23" d="M1633.2 849.3l4.5-9.2 3.3 2.2-4.5 6.2z"/><path class="f21" d="M1619.6 864.9l4.5-7.1 4.6-6 4.5-2.5 3.3-.8-4.6 6.4-4.5 4.8-4.5 6.1z"/><path class="f5" d="M1606.1 879.2l4.5-4.4 4.5-5.9 4.5-4 3.3 .9-4.5 5.9-9.1 9.3z"/><path class="f8" d="M1601.6 883.9l4.5-4.7 3.2 1.8-4.5 3.7z"/><path class="f13" d="M1597 888.7l4.6-4.8 3.2 .8-4.5 5.2z"/><path class="f15" d="M1588 897.2l9-8.5 3.3 1.2-9 7.8z"/><path class="f35" d="M1574.4 908.3l13.6-11.1 3.3 .5-13.6 11.4z"/><path class="f44" d="M1569.9 912.6l4.5-4.3 3.3 .8-4.5 4.3z"/><path class="f45" d="M1515.7 950.7l54.2-38.1 3.3 .8-54.2 38.1z"/><path class="f5" d="M1690.7 817l9-6.1 3.3 .7-4.5 4.5-4.5 1.7z"/><path class="f31" d="M1686.2 815.8l7.8 2-4.6-3.2z"/><path class="f61" d="M1681.6 802.8l4.6 13 3.2-1.2-4.5-5.5z"/><path class="f59" d="M1677.1 786.3l4.5 16.5 3.3 6.3z"/><path class="f58" d="M1672.6 776.5l4.5 9.8 3.3 10.3-4.5-19.5z"/><path class="f62" d="M1663.6 789.9l4.5-8.9 4.5-4.5 3.3 .6-4.5 4.9-4.5 11.2z"/><path class="f63" d="M1659.1 811.6l4.5-21.7 3.3 3.3-4.6 20.1z"/><path class="f64" d="M1654.5 818.1l4.6-6.5 3.2 1.7-4.5 9.1z"/><path class="f60" d="M1650 826.5l4.5-8.4 3.3 4.3-4.5 10.2z"/><path class="f61" d="M1645.5 836.5l4.5-10 3.3 6.1-4.5 7.3z"/><path class="f23" d="M1641 842.3l4.5-5.8 3.3 3.4-4.5 4.7z"/><path class="f31" d="M1627.4 859.7l4.5-4.8 9.1-12.6 3.3 2.3-9.1 10.2-4.5 7.6z"/><path class="f6" d="M1618.4 871.7l9-12 3.3 2.7-4.5 3.2-4.5 5.4z"/><path class="f5" d="M1613.9 876.3l4.5-4.6 3.3-.7-4.6 5.9z"/><path class="f8" d="M1604.8 884.7l4.5-3.7 4.6-4.7 3.2 .6-9 9.4z"/><path class="f13" d="M1600.3 889.9l4.5-5.2 3.3 1.6-4.5 4.4z"/><path class="f15" d="M1591.3 897.7l9-7.8 3.3 .8-9 8z"/><path class="f35" d="M1582.2 905.5l9.1-7.8 3.3 1-9.1 7.6z"/><path class="f44" d="M1577.7 909.1l4.5-3.6 3.3 .8-4.5 4.6z"/><path class="f45" d="M1519 951.5l54.2-38.1 4.5-4.3 3.3 1.8-58.7 41.3z"/><path class="f6" d="M1698.5 816.1l4.5-4.5 3.3 2.4-4.5 3.2z"/><path class="f5" d="M1694 817.8l4.5-1.7 3.3 1.1-4.6 2.2z"/><path class="f31" d="M1684.9 809.1l4.5 5.5 4.6 3.2 3.2 1.6-4.5-1.6-4.5-10.2z"/><path class="f64" d="M1680.4 796.6l4.5 12.5 3.3-1.5-4.5-10.6z"/><path class="f65" d="M1675.9 777.1l4.5 19.5 3.3 .4-4.5-13.1z"/><path class="f66" d="M1666.9 793.2l4.5-11.2 4.5-4.9 3.3 6.8-4.5 5.9-4.6 15.2z"/><path class="f65" d="M1662.3 813.3l4.6-20.1 3.2 11.8-4.5 11.6z"/><path class="f64" d="M1657.8 822.4l4.5-9.1 3.3 3.3-4.5 7.5z"/><path class="f61" d="M1653.3 832.6l4.5-10.2 3.3 1.7-4.5 10.1z"/><path class="f31" d="M1635.2 854.8l13.6-14.9 4.5-7.3 3.3 1.6-4.5 8.4-9.1 11.5-4.5 2.4z"/><path class="f6" d="M1617.1 876.9l9.1-11.3 4.5-3.2 4.5-7.6 3.3 1.7-4.5 7.5-9.1 9.3-4.5 5.5z"/><path class="f8" d="M1612.6 881.9l4.5-5 3.3 1.9-4.5 4.5z"/><path class="f13" d="M1603.6 890.7l9-8.8 3.3 1.4-9 8.1z"/><path class="f15" d="M1594.6 898.7l9-8 3.3 .7-9.1 8.2z"/><path class="f35" d="M1585.5 906.3l9.1-7.6 3.2 .9-9 7.6z"/><path class="f44" d="M1581 910.9l4.5-4.6 3.3 .9-4.5 4.5z"/><path class="f45" d="M1522.3 952.2l58.7-41.3 3.3 .8-58.8 41.3z"/><path class="f5" d="M1701.8 817.2l4.5-3.2 3.3 .3-4.6 2.6z"/><path class="f6" d="M1697.2 819.4l4.6-2.2 3.2-.3-4.5 3.3z"/><path class="f5" d="M1692.7 817.8l7.8 2.4-4.5 .5z"/><path class="f31" d="M1688.2 807.6l4.5 10.2 3.3 2.9-4.5-5.5z"/><path class="f67" d="M1683.7 797l7.8 18.2-4.5-17.8z"/><path class="f68" d="M1679.2 783.9l4.5 13.1 3.3 .4-4.6-6.2z"/><path class="f65" d="M1674.7 789.8l4.5-5.9 3.2 7.3-4.5 6.6z"/><path class="f68" d="M1670.1 805l4.6-15.2 3.2 8-4.5 8.5z"/><path class="f64" d="M1665.6 816.6l4.5-11.6 3.3 1.3-4.5 11.7z"/><path class="f61" d="M1656.6 834.2l4.5-10.1 4.5-7.5 3.3 1.4-4.5 10-4.5 8.4z"/><path class="f31" d="M1647.5 848.3l4.6-5.7 4.5-8.4 3.3 2.2-4.6 6.1-4.5 5.1z"/><path class="f21" d="M1643 854.1l4.5-5.8 3.3-.7-4.5 6.7z"/><path class="f5" d="M1620.4 878.8l9.1-10.3 4.5-4.5 4.5-7.5 4.5-2.4 3.3 .2-4.5 6.1-4.5 3.8-4.6 6.7-9 8.2z"/><path class="f8" d="M1615.9 883.3l4.5-4.5 3.3 .3-4.5 4.7z"/><path class="f13" d="M1606.9 891.4l9-8.1 3.3 .5-4.5 5.1-4.6 4.1z"/><path class="f15" d="M1597.8 899.6l9.1-8.2 3.2 1.6-9 7.6z"/><path class="f35" d="M1588.8 907.2l9-7.6 3.3 1-9 7.5z"/><path class="f44" d="M1584.3 911.7l4.5-4.5 3.3 .9-4.5 4.4z"/><path class="f45" d="M1525.5 953l58.8-41.3 3.3 .8-58.8 41.2z"/><path class="f6" d="M1705 816.9l4.6-2.6 3.2 2.2-4.5 2z"/><path class="f5" d="M1700.5 820.2l4.5-3.3 3.3 1.6-4.5 4.2z"/><path class="f6" d="M1696 820.7l4.5-.5 3.3 2.5-4.5-2.1z"/><path class="f31" d="M1691.5 815.2l4.5 5.5 3.3-.1-4.5-9.5z"/><path class="f23" d="M1687 797.4l4.5 17.8 3.3-4.1-4.6-7.4z"/><path class="f61" d="M1682.4 791.2l4.6 6.2 3.2 6.3-4.5-10.4z"/><path class="f64" d="M1677.9 797.8l4.5-6.6 3.3 2.1-4.5 4.2z"/><path class="f67" d="M1673.4 806.3l4.5-8.5 3.3-.3-4.5 10.2z"/><path class="f61" d="M1668.9 818l4.5-11.7 3.3 1.4-4.5 13.1z"/><path class="f31" d="M1655.3 842.5l4.6-6.1 4.5-8.4 4.5-10 3.3 2.8-4.5 9.2-9.1 14.5z"/><path class="f21" d="M1650.8 847.6l4.5-5.1 3.3 2-4.5 4.2z"/><path class="f6" d="M1646.3 854.3l4.5-6.7 3.3 1.1-4.5 5.1z"/><path class="f5" d="M1623.7 879.1l9-8.2 4.6-6.7 4.5-3.8 4.5-6.1 3.3-.5-4.5 7.3-4.6 5.2-9 9-4.5 5.2z"/><path class="f8" d="M1619.2 883.8l4.5-4.7 3.3 1.4-4.5 4.1z"/><path class="f13" d="M1610.1 893l4.6-4.1 4.5-5.1 3.3 .8-9.1 9z"/><path class="f15" d="M1605.6 897.1l4.5-4.1 3.3 .6-4.5 4.1z"/><path class="f35" d="M1592.1 908.1l13.5-11 3.3 .6-13.5 11.1z"/><path class="f44" d="M1587.6 912.5l4.5-4.4 3.3 .7-4.6 4.4z"/><path class="f45" d="M1528.8 953.7l58.8-41.2 3.2 .7-58.7 41.3z"/><path class="f5" d="M1699.3 820.6l4.5 2.1 4.5-4.2 4.5-2 3.3-.4-9 7.5-4.5-3.9z"/><path class="f6" d="M1694.8 811.1l4.5 9.5 3.3-.9-4.6-5.9z"/><path class="f31" d="M1690.2 803.7l4.6 7.4 3.2 2.7-4.5-11.8z"/><path class="f61" d="M1681.2 797.5l4.5-4.2 4.5 10.4 3.3-1.7-4.5-8.4-4.5 3.7z"/><path class="f23" d="M1676.7 807.7l4.5-10.2 3.3-.2-4.5 9.2z"/><path class="f21" d="M1658.6 844.5l9.1-14.5 4.5-9.2 4.5-13.1 3.3-1.2-4.6 12.6-9 15.7-4.5 9.3z"/><path class="f5" d="M1627 880.5l9-10 4.5-4.2 4.6-5.2 4.5-7.3 4.5-5.1 4.5-4.2 3.3-.4-4.5 3.5-4.5 6.4-9.1 10.7-4.5 7.2-9 9.1z"/><path class="f8" d="M1622.5 884.6l4.5-4.1 3.3 .5-4.6 4z"/><path class="f13" d="M1613.4 893.6l9.1-9 3.2 .4-4.5 5-4.5 4.2z"/><path class="f15" d="M1604.4 901.4l9-7.8 3.3 .6-9 7.8z"/><path class="f35" d="M1595.4 908.8l9-7.4 3.3 .6-9.1 7.5z"/><path class="f44" d="M1590.8 913.2l4.6-4.4 3.2 .7-4.5 4.5z"/><path class="f45" d="M1532.1 954.5l58.7-41.3 3.3 .8-58.7 41.3z"/><path class="f6" d="M1707.1 823.6l9-7.5 3.3 1.2-4.5 4.8-4.5 .4z"/><path class="f5" d="M1698 813.8l4.6 5.9 4.5 3.9 3.3-1.1-4.6 .6-4.5-10.8z"/><path class="f21" d="M1689 793.6l4.5 8.4 4.5 11.8 3.3-1.5-4.5-14.6-4.5-6.8z"/><path class="f24" d="M1684.5 797.3l7.8-6.4-4.5 .3z"/><path class="f43" d="M1680 806.5l7.8-15.3-4.6 13.2z"/><path class="f22" d="M1675.4 819.1l4.6-12.6 3.2-2.1-4.5 12.4z"/><path class="f21" d="M1670.9 827.4l4.5-8.3 3.3-2.3-4.5 13.9z"/><path class="f5" d="M1666.4 834.8l4.5-7.4 3.3 3.3-4.5 9.6z"/><path class="f2" d="M1661.9 844.1l4.5-9.3 3.3 5.5-4.5 3.6z"/><path class="f5" d="M1630.3 881l9-9.1 4.5-7.2 9.1-10.7 4.5-6.4 4.5-3.5 3.3-.2-4.5 8.2-4.6 2.8-9 12.1-4.5 3.9-4.5 5.9-4.6 5z"/><path class="f8" d="M1625.7 885l4.6-4 3.2 .8-4.5 4.5z"/><path class="f13" d="M1616.7 894.2l4.5-4.2 4.5-5 3.3 1.3-9 8.3z"/><path class="f15" d="M1607.7 902l9-7.8 3.3 .4-9.1 8.1z"/><path class="f35" d="M1598.6 909.5l9.1-7.5 3.2 .7-9 7.4z"/><path class="f44" d="M1594.1 914l4.5-4.5 3.3 .6-4.5 4.6z"/><path class="f45" d="M1535.4 955.3l58.7-41.3 3.3 .7-58.8 41.3z"/><path class="f6" d="M1714.9 822.1l4.5-4.8 3.3 2.8-4.5 2.5z"/><path class="f5" d="M1705.8 823.1l9.1-1 3.3 .5-4.6 1.4-4.5 .6z"/><path class="f6" d="M1701.3 812.3l4.5 10.8 3.3 1.5-4.5-8.9z"/><path class="f5" d="M1696.8 797.7l4.5 14.6 3.3 3.4z"/><path class="f22" d="M1687.8 791.2l4.5-.3 4.5 6.8 3.3 7.7-4.5-10.1-4.6 .5z"/><path class="f21" d="M1683.2 804.4l4.6-13.2 3.2 4.6-4.5 10.9z"/><path class="f22" d="M1678.7 816.8l4.5-12.4 3.3 2.3-4.5 14.2z"/><path class="f2" d="M1669.7 840.3l4.5-9.6 4.5-13.9 3.3 4.1-4.5 7.4-4.5 11.8z"/><path class="f5" d="M1633.5 881.8l4.6-5 4.5-5.9 4.5-3.9 9-12.1 4.6-2.8 4.5-8.2 4.5-3.6 3.3-.2-4.6 4.6-4.5 8.5-4.5 3.1-4.5 4.7-4.5 7.2-4.5 4.2-4.6 5.5-4.5 3.9z"/><path class="f8" d="M1629 886.3l4.5-4.5 3.3 0-4.5 5.8z"/><path class="f13" d="M1620 894.6l9-8.3 3.3 1.3-9 7.8z"/><path class="f15" d="M1610.9 902.7l9.1-8.1 3.3 .8-9.1 8.4z"/><path class="f35" d="M1601.9 910.1l9-7.4 3.3 1.1-9 7.2z"/><path class="f44" d="M1597.4 914.7l4.5-4.6 3.3 .9-4.5 4.5z"/><path class="f45" d="M1538.6 956l58.8-41.3 3.3 .8-58.8 41.3z"/><path class="f5" d="M1713.6 824l4.6-1.4 4.5-2.5 3.3 .1-4.6 3.9-4.5 1.7z"/><path class="f6" d="M1709.1 824.6l4.5-.6 3.3 1.8-4.5-.1z"/><path class="f5" d="M1700.1 805.4l4.5 10.3 4.5 8.9 3.3 1.1-4.5-7-4.5-14.1z"/><path class="f2" d="M1695.6 795.3l4.5 10.1 3.3-.8-4.6-9.3z"/><path class="f21" d="M1691 795.8l7.8-.5-4.5-1.9z"/><path class="f5" d="M1677.5 828.3l4.5-7.4 4.5-14.2 4.5-10.9 3.3-2.4-4.5 10.9-9 27z"/><path class="f6" d="M1673 840.1l4.5-11.8 3.3 3-4.6 5.8z"/><path class="f5" d="M1636.8 881.8l4.5-3.9 4.6-5.5 4.5-4.2 4.5-7.2 4.5-4.7 4.5-3.1 4.5-8.5 7.8-7.6-9 15.4-4.5 4.6-4.5 6.1-13.6 15.3-4.5 4.1z"/><path class="f8" d="M1632.3 887.6l4.5-5.8 3.3 .8-4.5 4.7z"/><path class="f13" d="M1623.3 895.4l9-7.8 3.3-.3-9.1 9.1z"/><path class="f15" d="M1614.2 903.8l9.1-8.4 3.2 1-4.5 4.4-4.5 3.5z"/><path class="f35" d="M1605.2 911l9-7.2 3.3 .5-9 7.4z"/><path class="f44" d="M1600.7 915.5l4.5-4.5 3.3 .7-4.6 4.6z"/><path class="f45" d="M1541.9 956.8l58.8-41.3 3.2 .8-58.7 41.2z"/><path class="f5" d="M1712.4 825.7l4.5 .1 4.5-1.7 4.6-3.9 3.2 1.6-9 5.8-4.5-1.6z"/><path class="f6" d="M1707.9 818.7l4.5 7 3.3 .3-4.5-7.9z"/><path class="f1" d="M1689.8 804.3l4.5-10.9 4.5 1.9 4.6 9.3 4.5 14.1 3.3-.6-9.1-25.6-4.5 6.3-4.5 13.3z"/><path class="f6" d="M1685.3 818.6l4.5-14.3 3.3 7.8-4.5 7.1z"/><path class="f5" d="M1662.7 857.1l4.5-4.6 9-15.4 4.6-5.8 4.5-12.7 3.3 .6-4.6 12-4.5 7.5-4.5 8.7-4.5 5.7-4.5 4.7z"/><path class="f6" d="M1658.2 863.2l4.5-6.1 3.3 .7-4.5 4.4z"/><path class="f5" d="M1640.1 882.6l4.5-4.1 13.6-15.3 3.3-1-4.6 7.4-4.5 3.7-9 11.2z"/><path class="f8" d="M1635.6 887.3l4.5-4.7 3.3 1.9-4.5 4.5z"/><path class="f13" d="M1626.5 896.4l9.1-9.1 3.3 1.7-9.1 8z"/><path class="f15" d="M1617.5 904.3l4.5-3.5 4.5-4.4 3.3 .6-9 8.3z"/><path class="f35" d="M1608.5 911.7l9-7.4 3.3 1-9.1 7.2z"/><path class="f44" d="M1603.9 916.3l4.6-4.6 3.2 .8-4.5 4.5z"/><path class="f45" d="M1545.2 957.5l58.7-41.2 3.3 .7-58.7 41.3z"/><path class="f2" d="M1720.2 827.6l9-5.8 3.3-.3-9 6.9z"/><path class="f5" d="M1711.2 818.1l4.5 7.9 7.8 2.4-4.5-1.6-4.6-8.6z"/><path class="f6" d="M1706.6 805.9l4.6 12.2 3.2 .1-4.5-15.4z"/><path class="f5" d="M1697.6 798.8l4.5-6.3 4.5 13.4 3.3-3.1-4.5-7.1-4.5 6.1z"/><path class="f6" d="M1679.5 838.7l4.5-7.5 4.6-12 4.5-7.1 4.5-13.3 3.3 3-4.5 7.8-4.6 11.6-4.5 14.5-4.5 5.8z"/><path class="f5" d="M1666 857.8l4.5-4.7 4.5-5.7 4.5-8.7 3.3 2.8-4.5 4.6-4.5 7.7-4.6 5.3z"/><path class="f6" d="M1661.5 862.2l4.5-4.4 3.2 1.3-4.5 5.7z"/><path class="f5" d="M1643.4 884.5l9-11.2 4.5-3.7 4.6-7.4 3.2 2.6-4.5 5.1-4.5 4-9 11.3z"/><path class="f8" d="M1638.9 889l4.5-4.5 3.3 .7-4.6 4.2z"/><path class="f13" d="M1629.8 897l9.1-8 3.2 .4-9 8.8z"/><path class="f15" d="M1625.3 901.4l4.5-4.4 3.3 1.2-4.5 3.9z"/><path class="f35" d="M1611.7 912.5l13.6-11.1 3.3 .7-13.6 11.3z"/><path class="f44" d="M1607.2 917l4.5-4.5 3.3 .9-4.5 4.4z"/><path class="f45" d="M1548.5 958.3l58.7-41.3 3.3 .8-58.7 41.3z"/><path class="f2" d="M1714.4 818.2l4.6 8.6 4.5 1.6 9-6.9 3.3-1.3-4.5 4.6-4.5 2.7-4.6-1.2z"/><path class="f5" d="M1709.9 802.8l4.5 15.4 3.3 3.4-4.5-11.8z"/><path class="f6" d="M1705.4 795.7l4.5 7.1 3.3 7z"/><path class="f1" d="M1696.4 809.6l4.5-7.8 4.5-6.1 3.3 5.9-4.5 2.7-4.6 8.2z"/><path class="f6" d="M1678.3 846.1l4.5-4.6 4.5-5.8 4.5-14.5 4.6-11.6 3.2 2.9-4.5 11.3-9 18-4.5 6.4z"/><path class="f5" d="M1651.2 879.7l4.5-5.8 4.5-4 13.6-16.1 4.5-7.7 3.3 2.1-4.6 8.2-4.5 5.7-18 19.6z"/><path class="f8" d="M1642.1 889.4l4.6-4.2 4.5-5.5 3.3 2-4.6 4.5-4.5 3.7z"/><path class="f13" d="M1633.1 898.2l9-8.8 3.3 .5-9 9.2z"/><path class="f15" d="M1628.6 902.1l4.5-3.9 3.3 .9-4.5 4z"/><path class="f35" d="M1615 913.4l13.6-11.3 3.3 1-13.6 11z"/><path class="f44" d="M1610.5 917.8l4.5-4.4 3.3 .7-4.5 4.4z"/><path class="f45" d="M1551.8 959.1l58.7-41.3 3.3 .7-58.8 41.3z"/><path class="f2" d="M1722.2 826.3l4.6 1.2 4.5-2.7 4.5-4.6 3.3-.7-4.6 3.8-4.5 2.8-4.5 1.4z"/><path class="f5" d="M1713.2 809.8l4.5 11.8 4.5 4.7 3.3 1.2-4.5-5.8-4.5-10z"/><path class="f6" d="M1708.7 801.6l4.5 8.2 3.3 1.9-4.5-14.3z"/><path class="f1" d="M1704.2 804.3l4.5-2.7 3.3-4.2-4.6 6.7z"/><path class="f6" d="M1695.1 823.8l4.5-11.3 4.6-8.2 3.2-.2-4.5 9.2-4.5 15.9z"/><path class="f1" d="M1686.1 841.8l9-18 3.3 5.4-4.5 8.5-4.5 5.2z"/><path class="f6" d="M1681.6 848.2l4.5-6.4 3.3 1.1-4.6 10.2z"/><path class="f5" d="M1677 856.4l4.6-8.2 3.2 4.9-4.5 2.8z"/><path class="f6" d="M1654.5 881.7l18-19.6 4.5-5.7 3.3-.5-4.5 5.2-4.5 7.1-4.5 3.3-9.1 10.6z"/><path class="f8" d="M1645.4 889.9l4.5-3.7 4.6-4.5 3.2 .4-9 9.8z"/><path class="f13" d="M1636.4 899.1l9-9.2 3.3 2-4.5 3.4-4.5 4.2z"/><path class="f15" d="M1631.9 903.1l4.5-4 3.3 .4-4.6 4.5z"/><path class="f35" d="M1618.3 914.1l13.6-11 3.2 .9-13.5 11z"/><path class="f44" d="M1613.8 918.5l4.5-4.4 3.3 .9-4.5 4.3z"/><path class="f45" d="M1555 959.8l58.8-41.3 3.3 .8-58.8 41.3z"/><path class="f3" d="M1734.5 823.3l4.6-3.8 3.2 .9-4.5 2.5z"/><path class="f2" d="M1725.5 827.5l4.5-1.4 4.5-2.8 3.3-.4-4.5 3-4.5-.3z"/><path class="f5" d="M1721 821.7l4.5 5.8 3.3-1.9-4.5-4.3z"/><path class="f1" d="M1716.5 811.7l4.5 10 3.3-.4-4.5-9.4z"/><path class="f7" d="M1712 797.4l4.5 14.3 3.3 .2-4.6-4.3z"/><path class="f1" d="M1702.9 813.3l4.5-9.2 4.6-6.7 3.2 10.2-4.5-2.2-4.5 9.8z"/><path class="f7" d="M1698.4 829.2l4.5-15.9 3.3 1.9-4.5 11.2z"/><path class="f1" d="M1693.9 837.7l4.5-8.5 3.3-2.8-4.5 9.6z"/><path class="f6" d="M1657.7 882.1l9.1-10.6 4.5-3.3 4.5-7.1 4.5-5.2 4.5-2.8 4.6-10.2 4.5-5.2 3.3-1.7-4.6 9.1-9 12.5-9 10.9-4.6 4.4-4.5 6-4.5 3.9z"/><path class="f8" d="M1648.7 891.9l9-9.8 3.3 .7-9 9.7z"/><path class="f13" d="M1644.2 895.3l4.5-3.4 3.3 .6-4.5 4.5z"/><path class="f15" d="M1635.1 904l9.1-8.7 3.3 1.7-9.1 7.9z"/><path class="f35" d="M1621.6 915l13.5-11 3.3 .9-13.5 10.8z"/><path class="f44" d="M1617.1 919.3l4.5-4.3 3.3 .7-4.6 4.4z"/><path class="f45" d="M1558.3 960.6l58.8-41.3 3.2 .8-58.7 41.2z"/><path class="f2" d="M1728.8 825.6l4.5 .3 4.5-3 4.5-2.5 3.3 0-4.5 1.6-4.5 3.9-4.5 2.5z"/><path class="f5" d="M1724.3 821.3l7.8 7.1-4.5-7.5z"/><path class="f6" d="M1719.8 811.9l4.5 9.4 3.2-.4-4.5-9z"/><path class="f1" d="M1715.2 807.6l4.6 4.3 3.2 0-4.5-7.4z"/><path class="f7" d="M1706.2 815.2l4.5-9.8 4.5 2.2 3.3-3.1-4.5 5.3-4.5 7.5z"/><path class="f1" d="M1692.6 845.1l9.1-18.7 4.5-11.2 3.3 2.1-4.5 11.4-4.6 13.3-4.5 8z"/><path class="f6" d="M1670 872.9l4.6-4.4 9-10.9 9-12.5 3.3 4.9-4.5 2.6-9 13.4-4.6 2.7-4.5 7z"/><path class="f5" d="M1661 882.8l4.5-3.9 4.5-6 3.3 2.8-4.5 4-4.5 4.8z"/><path class="f8" d="M1656.5 887.8l4.5-5 3.3 1.7-4.5 4.8z"/><path class="f13" d="M1647.5 897l9-9.2 3.3 1.5-9.1 8.2z"/><path class="f15" d="M1638.4 904.9l9.1-7.9 3.2 .5-9 8.2z"/><path class="f35" d="M1629.4 912.3l9-7.4 3.3 .8-9 7.3z"/><path class="f44" d="M1620.3 920.1l4.6-4.4 4.5-3.4 3.3 .7-9.1 7.8z"/><path class="f45" d="M1561.6 961.3l58.7-41.2 3.3 .7-58.7 41.3z"/><path class="f2" d="M1741.1 822l7.8-2.8-4.5 2.2z"/><path class="f5" d="M1727.5 820.9l4.6 7.5 4.5-2.5 4.5-3.9 3.3-.6-4.5 6.9-4.6 1.2-4.5-3.7z"/><path class="f1" d="M1723 811.9l4.5 9 3.3 4.9-4.5-7.4z"/><path class="f0" d="M1709.5 817.3l4.5-7.5 4.5-5.3 4.5 7.4 3.3 6.5-9-7.9-4.5 15.7z"/><path class="f7" d="M1705 828.7l4.5-11.4 3.3 8.9-4.6 6.8z"/><path class="f1" d="M1691.4 852.6l4.5-2.6 4.5-8 4.6-13.3 3.2 4.3-4.5 10.9-4.5 5.4-4.5 8.5z"/><path class="f6" d="M1664.3 884.5l4.5-4.8 4.5-4 4.5-7 4.6-2.7 9-13.4 3.3 5.2-4.5 3-22.6 25.2z"/><path class="f9" d="M1659.8 889.3l4.5-4.8 3.3 1.5-4.6 3.6z"/><path class="f13" d="M1650.7 897.5l9.1-8.2 3.2 .3-9 9.1z"/><path class="f15" d="M1641.7 905.7l9-8.2 3.3 1.2-9 7.8z"/><path class="f35" d="M1632.7 913l9-7.3 3.3 .8-9.1 7.4z"/><path class="f44" d="M1623.6 920.8l9.1-7.8 3.2 .9-4.5 3.4-4.5 4.3z"/><path class="f45" d="M1564.9 962.1l58.7-41.3 3.3 .8-58.7 41.3z"/><path class="f2" d="M1744.4 821.4l4.5-2.2 3.3 .1-4.5 2.7z"/><path class="f5" d="M1735.3 829.5l4.6-1.2 4.5-6.9 3.3 .6-4.6 6.4-4.5-.3z"/><path class="f6" d="M1730.8 825.8l4.5 3.7 3.3-1.4z"/><path class="f1" d="M1726.3 818.4l4.5 7.4 3.3 .9z"/><path class="f7" d="M1721.8 814.4l7.8 7.4-4.5-5.8z"/><path class="f0" d="M1703.7 843.9l4.5-10.9 4.6-6.8 4.5-15.7 4.5 3.9 3.3 1.6-9.1 10.7-9 18.5z"/><path class="f7" d="M1694.7 857.8l4.5-8.5 4.5-5.4 3.3 1.3-4.5 7-4.5 5.2z"/><path class="f1" d="M1685.6 866l4.6-5.2 4.5-3 3.3-.4-4.6 7.3-4.5 2.7z"/><path class="f6" d="M1672.1 880.9l13.5-14.9 3.3 1.4-4.5 6.3-4.5 3.4-4.5 5z"/><path class="f9" d="M1663 889.6l4.6-3.6 4.5-5.1 3.3 1.2-4.6 5.1-4.5 4.2z"/><path class="f11" d="M1658.5 894l4.5-4.4 3.3 1.8-4.5 3.8z"/><path class="f13" d="M1654 898.7l4.5-4.7 3.3 1.2-4.5 4.5z"/><path class="f15" d="M1645 906.5l9-7.8 3.3 1-9 7.6z"/><path class="f35" d="M1635.9 913.9l9.1-7.4 3.3 .8-9.1 7.5z"/><path class="f44" d="M1631.4 917.3l4.5-3.4 3.3 .9-4.5 4.4z"/><path class="f45" d="M1568.2 962.9l58.7-41.3 4.5-4.3 3.3 1.9-63.3 44.4z"/><path class="f5" d="M1743.1 828.4l4.6-6.4 4.5-2.7 3.3 1.6-4.6 2-4.5 7.1z"/><path class="f6" d="M1734.1 826.7l4.5 1.4 4.5 .3 3.3 1.6-4.5 .1z"/><path class="f7" d="M1729.6 821.8l4.5 4.9 3.3 1.6-4.5-2.9z"/><path class="f0" d="M1707 845.2l9-18.5 9.1-10.7 7.8 9.4-4.6-3-4.5 3.9-4.5 6.7-4.5 8.3-4.5 6.9z"/><path class="f7" d="M1702.5 852.2l4.5-7 3.3 3-4.5 7.5z"/><path class="f1" d="M1684.4 873.7l4.5-6.3 4.5-2.7 4.6-7.3 4.5-5.2 3.3 3.5-4.6 6.6-4.5 2.8-4.5 5.9-4.5 3.7z"/><path class="f6" d="M1675.4 882.1l4.5-5 4.5-3.4 3.3 1-4.5 5.6-4.6 3.9z"/><path class="f9" d="M1670.8 887.2l4.6-5.1 3.2 2.1-4.5 4.6z"/><path class="f11" d="M1661.8 895.2l9-8 3.3 1.6-4.5 4.4-4.5 3.5z"/><path class="f14" d="M1657.3 899.7l4.5-4.5 3.3 1.5-4.5 4.2z"/><path class="f15" d="M1652.8 903.6l4.5-3.9 3.3 1.2-4.6 3.6z"/><path class="f35" d="M1639.2 914.8l13.6-11.2 3.2 .9-13.5 11.1z"/><path class="f44" d="M1634.7 919.2l4.5-4.4 3.3 .8-4.5 4.3z"/><path class="f45" d="M1571.4 963.6l63.3-44.4 3.3 .7-63.3 44.5z"/><path class="f5" d="M1741.9 830.1l4.5-.1 4.5-7.1 7.8-3.3-4.5 5.2-9 7.6z"/><path class="f6" d="M1737.4 828.3l4.5 1.8 3.3 2.3z"/><path class="f7" d="M1732.9 825.4l7.8 4.7-4.6-1.6z"/><path class="f0" d="M1714.8 841.3l4.5-8.3 4.5-6.7 4.5-3.9 4.6 3 3.2 3.1-4.5-2.8-4.5 3.8-4.5 6.5-4.5 9.7z"/><path class="f7" d="M1705.8 855.7l9-14.4 3.3 4.4-4.5 8.4-4.6 5.4z"/><path class="f1" d="M1687.7 874.7l4.5-3.7 4.5-5.9 4.5-2.8 4.6-6.6 3.2 3.8-4.5 5.8-4.5 3.5-9 8.6z"/><path class="f6" d="M1683.2 880.3l4.5-5.6 3.3 2.7-4.6 3.7z"/><path class="f9" d="M1674.1 888.8l9.1-8.5 3.2 .8-4.5 4.7-4.5 3.9z"/><path class="f11" d="M1669.6 893.2l4.5-4.4 3.3 .9-4.5 4.7z"/><path class="f14" d="M1660.6 900.9l4.5-4.2 4.5-3.5 3.3 1.2-9.1 7.5z"/><path class="f15" d="M1656 904.5l4.6-3.6 3.2 1-4.5 3.7z"/><path class="f35" d="M1647 912l9-7.5 3.3 1.1-9 7.5z"/><path class="f44" d="M1642.5 915.6l4.5-3.6 3.3 1.1-4.5 4.4z"/><path class="f45" d="M1574.7 964.4l63.3-44.5 4.5-4.3 3.3 1.9-67.8 47.6z"/><path class="f6" d="M1754.2 824.8l4.5-5.2 3.3 3.4-4.5 3.2z"/><path class="f5" d="M1749.7 828.8l4.5-4 3.3 1.4-4.5 5.4z"/><path class="f6" d="M1745.2 832.4l4.5-3.6 3.3 2.8-4.5 2.9z"/><path class="f1" d="M1736.1 828.5l4.6 1.6 7.8 4.4-4.6-1.5-4.5-.5z"/><path class="f0" d="M1718.1 845.7l4.5-9.7 4.5-6.5 4.5-3.8 4.5 2.8 3.3 4-4.5 0-4.5 5.4-4.5 3.7-4.6 7.9z"/><path class="f7" d="M1709 859.5l4.6-5.4 4.5-8.4 3.2 3.8-4.5 7.8-4.5 5.4z"/><path class="f1" d="M1695.5 873.4l4.5-4.6 4.5-3.5 4.5-5.8 3.3 3.2-4.5 3.3-9 9.2z"/><path class="f9" d="M1681.9 885.8l4.5-4.7 9.1-7.7 3.3 1.8-4.6 4.9-4.5 3.3-4.5 4.5z"/><path class="f11" d="M1672.9 894.4l4.5-4.7 4.5-3.9 3.3 2.1-9 7.4z"/><path class="f14" d="M1663.8 901.9l9.1-7.5 3.3 .9-9.1 8.1z"/><path class="f35" d="M1654.8 909.6l9-7.7 3.3 1.5-9 7z"/><path class="f44" d="M1650.3 913.1l4.5-3.5 3.3 .8-4.5 4.7z"/><path class="f45" d="M1578 965.1l67.8-47.6 4.5-4.4 3.3 2-72.3 50.8z"/><path class="f6" d="M1748.5 834.5l4.5-2.9 4.5-5.4 4.5-3.2 3.3-1.6-4.5 5.8-9.1 8.6z"/><path class="f1" d="M1743.9 833l7.8 2.8-4.5 2z"/><path class="f7" d="M1739.4 832.5l4.5 .5 3.3 4.8-4.5-3.5z"/><path class="f0" d="M1721.3 849.5l4.6-7.9 4.5-3.7 4.5-5.4 4.5 0 3.3 1.8-4.5 1.6-4.5 5.2-4.6 3.4-4.5 7.9z"/><path class="f7" d="M1712.3 862.7l4.5-5.4 4.5-7.8 3.3 2.9-4.5 6.5-4.5 4.8z"/><path class="f1" d="M1698.8 875.2l9-9.2 4.5-3.3 3.3 1-4.5 4.7-4.5 3.8-4.6 5z"/><path class="f9" d="M1689.7 883.4l4.5-3.3 4.6-4.9 3.2 2-9 7.7z"/><path class="f11" d="M1680.7 891.5l4.5-3.6 4.5-4.5 3.3 1.5-9 7.8z"/><path class="f14" d="M1671.6 899.2l9.1-7.7 3.3 1.2-9.1 8.1z"/><path class="f35" d="M1658.1 910.4l9-7 4.5-4.2 3.3 1.6-13.5 10.5z"/><path class="f44" d="M1653.6 915.1l4.5-4.7 3.3 .9-4.6 4.6z"/><path class="f45" d="M1581.3 965.9l72.3-50.8 3.2 .8-72.3 50.8z"/><path class="f6" d="M1751.7 835.8l9.1-8.6 4.5-5.8 3.3 4.9-9.1 6.1-4.5 5.2z"/><path class="f1" d="M1747.2 837.8l4.5-2 3.3 1.8-4.5 .8z"/><path class="f7" d="M1738.2 835.9l4.5-1.6 4.5 3.5 3.3 .6-4.5-1.6-4.5 3.3z"/><path class="f0" d="M1729.1 844.5l4.6-3.4 4.5-5.2 3.3 4.2-4.6 2.6-4.5 6.1z"/><path class="f7" d="M1720.1 858.9l4.5-6.5 4.5-7.9 3.3 4.3-9 11.8z"/><path class="f1" d="M1711.1 868.4l9-9.5 3.3 1.7-4.5 6.1-4.5 3.6z"/><path class="f6" d="M1706.6 872.2l4.5-3.8 3.3 1.9-4.6 4.9z"/><path class="f9" d="M1697.5 881.1l4.5-3.9 4.6-5 3.2 3-9 7.1z"/><path class="f11" d="M1684 892.7l13.5-11.6 3.3 1.2-13.6 11.8z"/><path class="f14" d="M1674.9 900.8l9.1-8.1 3.2 1.4-9 7.6z"/><path class="f35" d="M1670.4 904.2l4.5-3.4 3.3 .9-4.5 3.6z"/><path class="f28" d="M1665.9 908l4.5-3.8 3.3 1.1-4.5 3.7z"/><path class="f44" d="M1661.4 911.3l4.5-3.3 3.3 1-4.6 4.4z"/><path class="f45" d="M1584.5 966.7l72.3-50.8 4.6-4.6 3.2 2.1-76.8 54z"/><path class="f6" d="M1755 837.6l4.5-5.2 9.1-6.1 3.3-.5-4.6 5.2-4.5 4.2-4.5 5.1z"/><path class="f1" d="M1750.5 838.4l4.5-.8 3.3 2.7-4.5 .5z"/><path class="f7" d="M1727.9 854.9l9-12.2 4.6-2.6 4.5-3.3 4.5 1.6 3.3 2.4-9.1 1.9-4.5 3.4-9 12.8z"/><path class="f1" d="M1723.4 860.6l4.5-5.7 3.3 4-4.5 5.1z"/><path class="f6" d="M1718.9 866.7l4.5-6.1 3.3 3.4-4.6 4.8z"/><path class="f9" d="M1709.8 875.2l4.6-4.9 4.5-3.6 3.2 2.1-4.5 3.4-4.5 4.7z"/><path class="f11" d="M1691.8 890.2l13.5-11.7 4.5-3.3 3.3 1.7-18.1 15z"/><path class="f14" d="M1682.7 897.8l9.1-7.6 3.2 1.7-9 7.3z"/><path class="f35" d="M1669.2 909l13.5-11.2 3.3 1.4-13.6 10.7z"/><path class="f44" d="M1664.6 913.4l4.6-4.4 3.2 .9-4.5 4.3z"/><path class="f45" d="M1587.8 967.4l76.8-54 3.3 .8-76.8 54z"/><path class="f1" d="M1767.3 831l4.6-5.2 3.2 1.8-4.5 4.3z"/><path class="f6" d="M1753.8 840.8l4.5-.5 4.5-5.1 4.5-4.2 3.3 .9-4.5 5.8-9 6.9z"/><path class="f1" d="M1749.3 841.7l4.5-.9 3.3 3.8-4.6-.3z"/><path class="f7" d="M1744.7 842.7l4.6-1 3.2 2.6-4.5 1z"/><path class="f1" d="M1726.7 864l4.5-5.1 9-12.8 4.5-3.4 3.3 2.6-4.5 4.3-9 12.2-4.6 4.4z"/><path class="f9" d="M1717.6 872.2l4.5-3.4 4.6-4.8 3.2 2.2-4.5 3.8-4.5 4.7z"/><path class="f11" d="M1704.1 884.2l9-7.3 4.5-4.7 3.3 2.5-4.5 3.3-4.5 4.1-4.5 3.4z"/><path class="f14" d="M1690.5 895.8l13.6-11.6 3.3 1.3-4.6 4.2-4.5 3.3-4.5 3.9z"/><path class="f35" d="M1677 906.5l13.5-10.7 3.3 1.1-13.6 10.5z"/><path class="f44" d="M1672.4 909.9l4.6-3.4 3.2 .9-4.5 4.4z"/><path class="f45" d="M1591.1 968.2l76.8-54 4.5-4.3 3.3 1.9-81.3 57.1z"/><path class="f6" d="M1761.6 841.2l4.5-3.5 4.5-5.8 4.5-4.3 3.3 3.8-4.5 3.3-9 8.4z"/><path class="f1" d="M1734.5 861.8l9-12.2 4.5-4.3 4.5-1 4.6 .3 4.5-3.4 3.3 1.9-4.6 3.1-9 2.8-4.5 2.5-4.5 6.9-4.6 4.1z"/><path class="f10" d="M1729.9 866.2l4.6-4.4 3.2 .7-4.5 5.4z"/><path class="f9" d="M1725.4 870l4.5-3.8 3.3 1.7-4.5 3.9z"/><path class="f11" d="M1711.9 882.1l4.5-4.1 4.5-3.3 4.5-4.7 3.3 1.8-4.5 4.5-9.1 6.8z"/><path class="f14" d="M1698.3 893l4.5-3.3 4.6-4.2 4.5-3.4 3.2 1-13.5 11.3z"/><path class="f35" d="M1684.8 904l13.5-11 3.3 1.4-13.6 10.6z"/><path class="f44" d="M1675.7 911.8l4.5-4.4 4.6-3.4 3.2 1-4.5 3.3-4.5 4.3z"/><path class="f45" d="M1594.4 968.9l81.3-57.1 3.3 .8-81.3 57.1z"/><path class="f6" d="M1760.3 846.2l4.6-3.1 9-8.4 4.5-3.3 3.3 .5-4.5 5.2-4.5 2.9-9.1 7.7z"/><path class="f1" d="M1742.3 858.4l4.5-6.9 4.5-2.5 9-2.8 3.3 1.5-4.5 2-4.5 .5-9.1 8.3z"/><path class="f6" d="M1737.7 862.5l4.6-4.1 3.2 .1-4.5 5.2z"/><path class="f9" d="M1733.2 867.9l4.5-5.4 3.3 1.2-4.5 5.2z"/><path class="f11" d="M1719.7 879.7l4.5-3.4 9-8.4 3.3 1-4.5 4.3-4.5 3.4-4.6 4.3z"/><path class="f14" d="M1715.1 883.1l4.6-3.4 3.2 1.2-4.5 3.8z"/><path class="f15" d="M1706.1 890.9l9-7.8 3.3 1.6-9 7.1z"/><path class="f35" d="M1688 905l18.1-14.1 3.3 .9-18.1 13.9z"/><path class="f44" d="M1683.5 908.3l4.5-3.3 3.3 .7-4.5 4.4z"/><path class="f45" d="M1597.7 969.7l81.3-57.1 4.5-4.3 3.3 1.8-85.9 60.4z"/><path class="f1" d="M1777.2 837.1l4.5-5.2 3.3 1.9-4.5 4.2z"/><path class="f6" d="M1768.1 844.1l4.6-4.1 4.5-2.9 3.3 .9-9.1 8.8z"/><path class="f9" d="M1763.6 847.7l4.5-3.6 3.3 2.7-4.5 2.9z"/><path class="f6" d="M1759.1 849.7l4.5-2 3.3 2z"/><path class="f1" d="M1750.1 854.2l4.5-4 7.8-.7-4.5 2.5-4.6 3.9z"/><path class="f6" d="M1741 863.7l4.5-5.2 4.6-4.3 3.2 1.7-4.5 4.4-4.5 5.3z"/><path class="f9" d="M1736.5 868.9l4.5-5.2 3.3 1.9-4.5 4.7z"/><path class="f11" d="M1727.5 876.6l4.5-3.4 4.5-4.3 3.3 1.4-9.1 8.2z"/><path class="f15" d="M1709.4 891.8l13.5-10.9 4.6-4.3 3.2 1.9-4.5 3.2-4.5 4-9 6.9z"/><path class="f35" d="M1691.3 905.7l18.1-13.9 3.3 .8-18.1 14z"/><path class="f44" d="M1686.8 910.1l4.5-4.4 3.3 .9-4.5 4.3z"/><path class="f45" d="M1600.9 970.5l85.9-60.4 3.3 .8-85.9 60.3z"/><path class="f6" d="M1775.9 842.6l9.1-8.8 3.2 1.8-9 8.5z"/><path class="f9" d="M1766.9 849.7l4.5-2.9 4.5-4.2 3.3 1.5-4.5 4.2-4.5 2.5z"/><path class="f6" d="M1748.8 860.3l9.1-8.3 4.5-2.5 4.5 .2 3.3 1.1-4.5 1.5-4.6 2.2-4.5 3.9-4.5 3.2z"/><path class="f9" d="M1739.8 870.3l9-10 3.3 1.3-9 10.3z"/><path class="f11" d="M1735.3 874.1l4.5-3.8 3.3 1.6-4.6 3.7z"/><path class="f13" d="M1730.7 878.5l4.6-4.4 3.2 1.5-4.5 3.8z"/><path class="f15" d="M1712.7 892.6l9-6.9 4.5-4 4.5-3.2 3.3 .9-18.1 14z"/><path class="f35" d="M1699.1 903l13.6-10.4 3.2 .8-13.5 10.7z"/><path class="f44" d="M1690.1 910.9l4.5-4.3 4.5-3.6 3.3 1.1-4.5 3.3-4.5 4.3z"/><path class="f45" d="M1604.2 971.2l85.9-60.3 3.3 .8-85.9 60.3z"/><path class="f6" d="M1783.7 839.8l4.5-4.2 3.3 3.2-4.5 2.3z"/><path class="f9" d="M1765.7 852.3l4.5-1.5 4.5-2.5 9-8.5 3.3 1.3-4.5 4.7-4.5 3.9-4.5 2.6-4.6 1.6z"/><path class="f6" d="M1752.1 861.6l4.5-3.2 4.5-3.9 4.6-2.2 3.2 1.6-4.5 2.3-9 7.1z"/><path class="f9" d="M1747.6 866.8l4.5-5.2 3.3 1.7-4.5 5.3z"/><path class="f11" d="M1738.5 875.6l4.6-3.7 4.5-5.1 3.3 1.8-9.1 7.8z"/><path class="f14" d="M1729.5 883.1l9-7.5 3.3 .8-9 7.5z"/><path class="f15" d="M1720.5 889.9l9-6.8 3.3 .8-9.1 7.3z"/><path class="f35" d="M1702.4 904.1l18.1-14.2 3.2 1.3-18 13.6z"/><path class="f44" d="M1697.9 907.4l4.5-3.3 3.3 .7-4.5 4.4z"/><path class="f45" d="M1607.5 972l85.9-60.3 4.5-4.3 3.3 1.8-90.4 63.5z"/><path class="f9" d="M1782.5 845.8l4.5-4.7 4.5-2.3 3.3 1.8-9 6.4z"/><path class="f11" d="M1773.5 852.3l4.5-2.6 4.5-3.9 3.3 1.2-4.6 4.2-4.5 2.3z"/><path class="f9" d="M1764.4 856.2l4.5-2.3 4.6-1.6 3.2 1.2-9 3.6z"/><path class="f6" d="M1759.9 859.7l4.5-3.5 3.3 .9-4.5 4.4z"/><path class="f9" d="M1750.9 868.6l4.5-5.3 4.5-3.6 3.3 1.8-9.1 8z"/><path class="f11" d="M1741.8 876.4l9.1-7.8 3.2 .9-4.5 4.7-4.5 3.5z"/><path class="f15" d="M1728.3 887.6l13.5-11.2 3.3 1.3-13.6 11.1z"/><path class="f35" d="M1710.2 901.5l18.1-13.9 3.2 1.2-18 13.7z"/><path class="f44" d="M1701.2 909.2l4.5-4.4 4.5-3.3 3.3 1-4.6 3.2-4.5 4.3z"/><path class="f45" d="M1610.8 972.7l90.4-63.5 3.2 .8-90.3 63.5z"/><path class="f11" d="M1772.2 855.1l4.5-1.6 4.5-2.3 4.6-4.2 9-6.4 3.3 1-13.6 10.5-4.5 3.1-4.5 1.7z"/><path class="f9" d="M1758.7 865.3l9-8.2 4.5-2 3.3 1.8-4.5 2.8-9.1 7.1z"/><path class="f11" d="M1749.6 874.2l9.1-8.9 3.2 1.5-4.5 4.8-4.5 3.6z"/><path class="f15" d="M1736.1 885.2l13.5-11 3.3 1-9 7.8-4.6 3.4z"/><path class="f35" d="M1718 899.1l18.1-13.9 3.2 1.2-18 13.6z"/><path class="f44" d="M1708.9 905.7l9.1-6.6 3.3 .9-4.6 3.3-4.5 4.3z"/><path class="f45" d="M1614.1 973.5l90.3-63.5 4.5-4.3 3.3 1.9-94.9 66.7z"/><path class="f11" d="M1775.5 856.9l4.5-1.7 13.6-9.8 4.5-3.8 3.3 1.1-13.6 11.1-9 4.3z"/><path class="f9" d="M1766.5 863.1l4.5-3.4 4.5-2.8 3.3 1.2-4.6 2.3-4.5 3.8z"/><path class="f11" d="M1757.4 871.6l4.5-4.8 4.6-3.7 3.2 1.1-4.5 3.7-4.5 4.4z"/><path class="f14" d="M1752.9 875.2l4.5-3.6 3.3 .7-4.5 4.2z"/><path class="f15" d="M1743.9 883l9-7.8 3.3 1.3-9.1 7.3z"/><path class="f35" d="M1721.3 900l22.6-17 3.2 .8-22.6 16.9z"/><path class="f44" d="M1712.2 907.6l4.5-4.3 4.6-3.3 3.2 .7-4.5 3.3-4.5 4.4z"/><path class="f45" d="M1617.3 974.3l94.9-66.7 3.3 .8-94.9 66.6z"/><path class="f13" d="M1796.8 846.6l4.6-3.9 3.2 1-4.5 4.2z"/><path class="f11" d="M1792.3 849.9l4.5-3.3 3.3 1.3-4.5 2.9z"/><path class="f14" d="M1787.8 853.8l4.5-3.9 3.3 .9-4.5 3.6z"/><path class="f13" d="M1783.3 855.9l4.5-2.1 3.3 .6-4.5 3.1z"/><path class="f11" d="M1774.2 860.4l9.1-4.5 3.3 1.6-9.1 4.6z"/><path class="f9" d="M1769.7 864.2l4.5-3.8 3.3 1.7-4.5 2.9z"/><path class="f11" d="M1760.7 872.3l4.5-4.4 4.5-3.7 3.3 .8-9 8.4z"/><path class="f15" d="M1751.7 880.1l9-7.8 3.3 1.1-9.1 7.8z"/><path class="f35" d="M1724.5 900.7l27.2-20.6 3.2 1.1-27.1 20.4z"/><path class="f44" d="M1720 904l4.5-3.3 3.3 .9-4.5 4.3z"/><path class="f45" d="M1620.6 975l94.9-66.6 4.5-4.4 3.3 1.9-99.4 69.9z"/><path class="f13" d="M1800.1 847.9l4.5-4.2 3.3 1.3-4.5 3.9z"/><path class="f15" d="M1786.6 857.5l13.5-9.6 3.3 1-13.6 9.8z"/><path class="f13" d="M1782 859.7l4.6-2.2 3.2 1.2-4.5 1.6z"/><path class="f11" d="M1773 865l9-5.3 3.3 .6-4.5 2.6-4.5 3.5z"/><path class="f13" d="M1764 873.4l9-8.4 3.3 1.4-9 8.1z"/><path class="f15" d="M1754.9 881.2l9.1-7.8 3.3 1.1-9.1 7.4z"/><path class="f35" d="M1732.3 898.2l22.6-17 3.3 .7-22.6 17.2z"/><path class="f44" d="M1723.3 905.9l4.5-4.3 4.5-3.4 3.3 .9-4.5 3.4-4.5 4.2z"/><path class="f45" d="M1623.9 975.8l99.4-69.9 3.3 .8-99.4 69.8z"/><path class="f15" d="M1789.8 858.7l13.6-9.8 4.5-3.9 3.3 1.7-4.5 2.7-4.5 3.9-9.1 6z"/><path class="f14" d="M1785.3 860.3l4.5-1.6 3.3 .6-4.5 2.9z"/><path class="f11" d="M1771.8 870.6l4.5-4.2 4.5-3.5 4.5-2.6 3.3 1.9-9 5.1-4.6 3.9z"/><path class="f15" d="M1758.2 881.9l13.6-11.3 3.2 .6-4.5 4.3-9 7.7z"/><path class="f35" d="M1735.6 899.1l22.6-17.2 3.3 1.3-22.6 16.7z"/><path class="f44" d="M1726.6 906.7l4.5-4.2 4.5-3.4 3.3 .8-4.5 3.3-4.5 4.3z"/><path class="f45" d="M1627.2 976.5l99.4-69.8 3.3 .8-99.5 69.8z"/><path class="f15" d="M1788.6 862.2l13.6-8.9 4.5-3.9 4.5-2.7 3.3 .8-4.5 3.1-9.1 7-9 5.5z"/><path class="f13" d="M1784.1 864.6l4.5-2.4 3.3 .9-4.5 2.8z"/><path class="f11" d="M1775 871.2l4.6-3.9 4.5-2.7 3.3 1.3-9.1 6.5z"/><path class="f15" d="M1766 879.1l4.5-3.6 4.5-4.3 3.3 1.2-9 8z"/><path class="f35" d="M1743.4 896.7l18.1-13.5 4.5-4.1 3.3 1.3-22.6 17.1z"/><path class="f44" d="M1734.4 903.2l9-6.5 3.3 .8-4.5 4.4-4.5 3.1z"/><path class="f45" d="M1630.4 977.3l99.5-69.8 4.5-4.3 3.3 1.8-104 73.1z"/><path class="f15" d="M1791.9 863.1l13.5-8.7 4.6-3.8 4.5-3.1 3.3 .9-13.6 10.5-9 5.4z"/><path class="f14" d="M1787.4 865.9l4.5-2.8 3.3 1.2-4.6 2z"/><path class="f11" d="M1782.8 869.1l4.6-3.2 3.2 .4-4.5 3.8z"/><path class="f15" d="M1769.3 880.4l9-8 4.5-3.3 3.3 1-13.5 11.4z"/><path class="f35" d="M1751.2 894l18.1-13.6 3.3 1.1-18.1 13.5z"/><path class="f44" d="M1746.7 897.5l4.5-3.5 3.3 1-4.5 4.5z"/><path class="f45" d="M1633.7 978.1l108.5-76.2 4.5-4.4 3.3 2-113 79.3z"/><path class="f15" d="M1790.6 866.3l4.6-2 9-5.4 13.6-10.5 3.2 1-13.5 10.1-9.1 5.7-4.5 2.3z"/><path class="f14" d="M1781.6 873.9l9-7.6 3.3 1.2-9 7.6z"/><path class="f15" d="M1777.1 877.7l4.5-3.8 3.3 1.2-4.5 3.7z"/><path class="f35" d="M1759 891.8l18.1-14.1 3.3 1.1-18.1 13.9z"/><path class="f44" d="M1750 899.5l4.5-4.5 4.5-3.2 3.3 .9-4.5 3.1-4.5 4.4z"/><path class="f45" d="M1637 978.8l113-79.3 3.3 .7-113 79.4z"/><path class="f15" d="M1784.9 875.1l9-7.6 4.5-2.3 9.1-5.7 13.5-10.1 3.3 1-18.1 13.2-4.5 2.5-13.5 10z"/><path class="f35" d="M1766.8 889.2l18.1-14.1 3.3 1-18.1 14.1z"/><path class="f44" d="M1753.3 900.2l4.5-4.4 9-6.6 3.3 1-9 6.5-4.6 4.3z"/><path class="f45" d="M1640.3 979.6l113-79.4 3.2 .8-112.9 79.4z"/><path class="f15" d="M1815.3 857.1l9-6.7 3.3 .9-4.5 2.8-4.5 3.7z"/><path class="f35" d="M1806.2 863.6l9.1-6.5 3.3 .7-9.1 6.5z"/><path class="f15" d="M1788.2 876.1l13.5-10 4.5-2.5 3.3 .7-18.1 12.7z"/><path class="f35" d="M1770.1 890.2l18.1-14.1 3.2 .9-18 14.2z"/><path class="f44" d="M1761 896.7l9.1-6.5 3.3 1-4.6 4.2-4.5 3.2z"/><path class="f45" d="M1643.6 980.4l112.9-79.4 4.5-4.3 3.3 1.9-117.5 82.5z"/><path class="f15" d="M1818.6 857.8l4.5-3.7 4.5-2.8 3.3 .2-9.1 7.1z"/><path class="f35" d="M1805 867.3l13.6-9.5 3.2 .8-13.5 9.7z"/><path class="f15" d="M1791.4 877l9.1-6.8 4.5-2.9 3.3 1-4.5 2.7-9.1 6.8z"/><path class="f35" d="M1777.9 887.7l13.5-10.7 3.3 .8-13.5 10.8z"/><path class="f44" d="M1768.8 895.4l4.6-4.2 4.5-3.5 3.3 .9-4.6 3.3-4.5 4.2z"/><path class="f45" d="M1646.8 981.1l122-85.7 3.3 .7-122 85.8z"/><path class="f15" d="M1821.8 858.6l9.1-7.1 3.2 1.2-9 6.9z"/><path class="f35" d="M1808.3 868.3l9-6.1 4.5-3.6 3.3 1-9 6.6-4.5 2.7z"/><path class="f15" d="M1799.2 874.4l4.6-3.4 4.5-2.7 3.3 .6-4.6 2.8-4.5 3.8z"/><path class="f35" d="M1781.2 888.6l18-14.2 3.3 1.1-18.1 13.8z"/><path class="f44" d="M1776.6 891.9l4.6-3.3 3.2 .7-4.5 4.4z"/><path class="f45" d="M1650.1 981.9l122-85.8 4.5-4.2 3.3 1.8-126.5 88.9z"/><path class="f15" d="M1825.1 859.6l9-6.9 3.3 .4-9 7.1z"/><path class="f35" d="M1811.6 868.9l13.5-9.3 3.3 .6-9 6.8-4.6 2.7z"/><path class="f15" d="M1802.5 875.5l4.5-3.8 4.6-2.8 3.2 .8-9 6.4z"/><path class="f35" d="M1789 886l13.5-10.5 3.3 .6-13.6 10.8z"/><path class="f44" d="M1779.9 893.7l4.5-4.4 4.6-3.3 3.2 .9-4.5 3.2-4.5 4.4z"/><path class="f45" d="M1653.4 982.6l126.5-88.9 3.3 .8-126.5 88.9z"/><path class="f15" d="M1828.4 860.2l9-7.1 3.3 1-9 6.9z"/><path class="f35" d="M1814.8 869.7l9.1-5.9 4.5-3.6 3.3 .8-13.6 9.5z"/><path class="f15" d="M1805.8 876.1l9-6.4 3.3 .8-4.5 2.9-4.5 3.6z"/><path class="f35" d="M1792.2 886.9l13.6-10.8 3.3 .9-13.6 10.5z"/><path class="f44" d="M1783.2 894.5l4.5-4.4 4.5-3.2 3.3 .6-4.5 3.5-4.5 4.3z"/><path class="f45" d="M1656.7 983.4l126.5-88.9 3.3 .8-126.5 88.9z"/><path class="f15" d="M1831.7 861l9-6.9 3.3 .8-9.1 6.6z"/><path class="f35" d="M1818.1 870.5l13.6-9.5 3.2 .5-4.5 3.9-9 6.2z"/><path class="f15" d="M1809.1 877l4.5-3.6 4.5-2.9 3.3 1.1-4.5 2.6-4.5 3.4z"/><path class="f35" d="M1795.5 887.5l13.6-10.5 3.3 .6-13.6 10.7z"/><path class="f44" d="M1786.5 895.3l4.5-4.3 4.5-3.5 3.3 .8-4.5 3.4-4.5 4.3z"/><path class="f45" d="M1660 984.2l126.5-88.9 3.3 .7-126.6 88.9z"/><path class="f15" d="M1834.9 861.5l9.1-6.6 3.3 .7-9.1 6.7z"/><path class="f35" d="M1798.8 888.3l18.1-14.1 4.5-2.6 9-6.2 4.5-3.9 3.3 .8-9 7-13.6 9.2-13.5 10.7z"/><path class="f44" d="M1794.3 891.7l4.5-3.4 3.3 .9-4.5 4.4z"/><path class="f45" d="M1663.2 984.9l126.6-88.9 4.5-4.3 3.3 1.9-131.1 92.1z"/><path class="f15" d="M1838.2 862.3l9.1-6.7 3.2 .9-9 6.6z"/><path class="f35" d="M1802.1 889.2l22.6-17 4.5-2.9 9-7 3.3 .8-9 7.1-4.6 2.7-22.5 17z"/><path class="f44" d="M1797.6 893.6l4.5-4.4 3.3 .7-4.6 3.4z"/><path class="f45" d="M1666.5 985.7l131.1-92.1 3.2-.3-4.5 4.2-126.5 88.9z"/><path class="f15" d="M1841.5 863.1l9-6.6 3.3 .3-9 7.2z"/><path class="f35" d="M1805.4 889.9l22.5-17 9.1-6 4.5-3.8 3.3 .9-22.6 16.1-13.6 10.6z"/><path class="f44" d="M1800.8 893.3l4.6-3.4 3.2 .8-4.5 4.4z"/><path class="f45" d="M1669.8 986.4l126.5-88.9 4.5-4.2 3.3 1.8-131 92.1z"/><path class="f15" d="M1844.8 864l9-7.2 3.3 1-4.5 3-4.5 3.8z"/><path class="f35" d="M1808.6 890.7l18.1-13.8 18.1-12.9 3.3 .6-36.2 26.9z"/><path class="f44" d="M1804.1 895.1l4.5-4.4 3.3 .8-4.5 4.4z"/><path class="f45" d="M1673.1 987.2l131-92.1 3.3 .8-131.1 92.1z"/><path class="f15" d="M1843.5 868.1l9.1-7.3 4.5-3 3.3 .2-4.5 3.2-4.6 4.2-4.5 3.3z"/><path class="f35" d="M1811.9 891.5l31.6-23.4 3.3 .6-31.6 23.6z"/><path class="f44" d="M1807.4 895.9l4.5-4.4 3.3 .8-4.5 4.3z"/><path class="f45" d="M1676.3 988l131.1-92.1 3.3 .7-131.1 92.1z"/><path class="f15" d="M1846.8 868.7l4.5-3.3 4.6-4.2 4.5-3.2 3.3 .3-13.6 10.9z"/><path class="f35" d="M1819.7 888.9l13.6-10.6 9-6 4.5-3.6 3.3 .5-9 7.1-4.6 2.8-13.5 10.6z"/><path class="f44" d="M1810.7 896.6l4.5-4.3 4.5-3.4 3.3 .8-4.5 3.4-4.5 4.3z"/><path class="f45" d="M1679.6 988.7l131.1-92.1 3.3 .8-131.1 92.1z"/><path class="f15" d="M1845.6 872.8l18.1-14.5 3.2 1.2-18 14.3z"/><path class="f35" d="M1823 889.7l13.5-10.6 4.6-2.8 4.5-3.5 3.3 1-22.6 16.6z"/><path class="f44" d="M1814 897.4l4.5-4.3 4.5-3.4 3.3 .7-4.6 3.5-4.5 4.3z"/><path class="f45" d="M1682.9 989.5l131-92.1 3.3 .8-131 92z"/><path class="f15" d="M1848.9 873.8l13.5-11.1 4.5-3.2 3.3-.1-18.1 15z"/><path class="f35" d="M1826.3 890.4l22.6-16.6 3.2 .6-22.6 17z"/><path class="f44" d="M1817.2 898.2l4.5-4.3 4.6-3.5 3.2 1-4.5 3.2-4.5 4.3z"/><path class="f45" d="M1686.2 990.2l131-92 3.3 .7-131 92.1z"/><path class="f13" d="M1861.2 866.9l9-7.5 3.3 .8-4.5 3-4.5 3.8z"/><path class="f15" d="M1852.1 874.4l9.1-7.5 3.3 .1-9.1 8.2z"/><path class="f35" d="M1829.5 891.4l18.1-14 4.5-3 3.3 .8-13.5 9.7-9.1 7.1z"/><path class="f44" d="M1825 894.6l4.5-3.2 3.3 .6-4.5 4.5z"/><path class="f45" d="M1689.5 991l131-92.1 4.5-4.3 3.3 1.9-135.6 95.3z"/><path class="f13" d="M1864.5 867l4.5-3.8 4.5-3 3.3 .6-9.1 6.7z"/><path class="f15" d="M1855.4 875.2l9.1-8.2 3.2 .5-4.5 4.6-4.5 3.3z"/><path class="f35" d="M1832.8 892l22.6-16.8 3.3 .2-22.6 17.4z"/><path class="f44" d="M1828.3 896.5l4.5-4.5 3.3 .8-4.5 4.5z"/><path class="f45" d="M1692.7 991.8l135.6-95.3 3.3 .8-135.6 95.2z"/><path class="f13" d="M1867.7 867.5l9.1-6.7 3.2 .8-4.5 3-4.5 4.2z"/><path class="f15" d="M1854.2 878.9l9-6.8 4.5-4.6 3.3 1.3-13.5 11.1z"/><path class="f35" d="M1836.1 892.8l18.1-13.9 3.3 1-18.1 13.7z"/><path class="f44" d="M1831.6 897.3l4.5-4.5 3.3 .8-4.5 4.4z"/><path class="f45" d="M1696 992.5l135.6-95.2 3.3 .7-135.6 95.3z"/><path class="f13" d="M1871 868.8l4.5-4.2 4.5-3 3.3 .5-4.5 3.1-4.5 4.2z"/><path class="f15" d="M1857.5 879.9l13.5-11.1 3.3 .6-4.5 4.2-9.1 6.9z"/><path class="f35" d="M1839.4 893.6l18.1-13.7 3.2 .6-18 13.9z"/><path class="f44" d="M1834.9 898l4.5-4.4 3.3 .8-4.6 4.4z"/><path class="f45" d="M1699.3 993.3l135.6-95.3 3.2 .8-135.5 95.2z"/><path class="f13" d="M1874.3 869.4l4.5-4.2 4.5-3.1 3.3 .9-4.5 3.2-4.5 3.9z"/><path class="f15" d="M1865.3 877l4.5-3.4 4.5-4.2 3.3 .7-9.1 8.1z"/><path class="f35" d="M1847.2 891.1l18.1-14.1 3.2 1.2-18 13.7z"/><path class="f44" d="M1842.7 894.4l4.5-3.3 3.3 .8-4.6 4.5z"/><path class="f45" d="M1702.6 994l135.5-95.2 4.6-4.4 3.2 2-140 98.4z"/><path class="f13" d="M1877.6 870.1l4.5-3.9 4.5-3.2 3.3 .2-9.1 7.8z"/><path class="f15" d="M1868.5 878.2l9.1-8.1 3.2 .9-9 7.7z"/><path class="f35" d="M1850.5 891.9l18-13.7 3.3 .5-18.1 13.9z"/><path class="f44" d="M1845.9 896.4l4.6-4.5 3.2 .7-4.5 3.5z"/><path class="f45" d="M1705.9 994.8l140-98.4 3.3-.3-4.5 4.2-135.6 95.3z"/><path class="f11" d="M1885.4 867.3l4.5-4.1 3.3 .8-4.6 3.9z"/><path class="f14" d="M1880.8 871l4.6-3.7 3.2 .6-4.5 4.2z"/><path class="f15" d="M1871.8 878.7l9-7.7 3.3 1.1-9 7.6z"/><path class="f35" d="M1853.7 892.6l18.1-13.9 3.3 1-18.1 13.7z"/><path class="f44" d="M1849.2 896.1l4.5-3.5 3.3 .8-4.5 4.5z"/><path class="f45" d="M1709.1 995.6l135.6-95.3 4.5-4.2 3.3 1.8-140.1 98.4z"/><path class="f11" d="M1888.6 867.9l4.6-3.9 3.2 2.1-4.5 3.8z"/><path class="f14" d="M1879.6 875.9l9-8 3.3 2-9 7.2z"/><path class="f28" d="M1870.6 883.1l9-7.2 3.3 1.2-9.1 7.1z"/><path class="f35" d="M1857 893.4l13.6-10.3 3.2 1.1-13.5 10.1z"/><path class="f44" d="M1852.5 897.9l4.5-4.5 3.3 .9-4.5 4.4z"/><path class="f45" d="M1712.4 996.3l140.1-98.4 3.3 .8-140.1 98.4z"/><path class="f25" d="M1891.9 869.9l4.5-3.8 3.3 2.6-4.5 3.4z"/><path class="f28" d="M1873.8 884.2l18.1-14.3 3.3 2.2-18.1 13.3z"/><path class="f35" d="M1860.3 894.3l13.5-10.1 3.3 1.2-13.5 9.7z"/><path class="f44" d="M1855.8 898.7l4.5-4.4 3.3 .8-4.5 4.3z"/><path class="f45" d="M1715.7 997.1l140.1-98.4 3.3 .7-140.1 98.4z"/><path class="f29" d="M1890.7 875.5l9-6.8 3.3 2.9-9 6.4z"/><path class="f36" d="M1872.6 888.4l18.1-12.9 3.3 2.5-13.6 9.5-4.5 2z"/><path class="f35" d="M1868.1 891.6l4.5-3.2 3.3 1.1-4.5 3.1z"/><path class="f44" d="M1863.6 895.1l4.5-3.5 3.3 1-4.5 4.4z"/><path class="f45" d="M1719 997.8l140.1-98.4 4.5-4.3 3.2 1.9-144.5 101.6z"/></g>
<path d="M1528.2 832Q1533 829.6 1533.8 812Q1534.5 829.6 1539.3 832Z" fill="url(#sgb)"/><path d="M1575 806Q1584.8 802.9 1586.2 780Q1587.7 802.9 1597.5 806Z" fill="url(#sgb)"/><path d="M1591.5 815Q1595.7 805.8 1596.2 738.5Q1596.8 805.8 1601 815Z" fill="url(#sgp)"/><path d="M1602 818Q1606.2 811 1606.8 760Q1607.3 811 1611.5 818Z" fill="url(#sgp)"/><path d="M1608.7 815Q1613.5 810.8 1614.2 780Q1615 810.8 1619.8 815Z" fill="url(#sgv)"/><path d="M1628.2 822Q1633 817.1 1633.8 781Q1634.5 817.1 1639.3 822Z" fill="url(#sgv)"/><path d="M1636.3 822Q1641.7 817.7 1642.5 786Q1643.3 817.7 1648.7 822Z" fill="url(#sgv)"/><path d="M1689 830Q1693.2 824.4 1693.8 783.5Q1694.3 824.4 1698.5 830Z" fill="url(#sgp)"/><path d="M1616.6 815Q1624 812.2 1625 792Q1626 812.2 1633.4 815Z" fill="url(#sgb)"/><path d="M1555.3 815Q1562.7 812.6 1563.8 795Q1564.8 812.6 1572.2 815Z" fill="url(#sgb)"/><path d="M1565 820Q1571.1 817.6 1572 800Q1572.9 817.6 1579 820Z" fill="url(#sgb)"/><path d="M1571 885Q1577.1 880.8 1578 850Q1578.9 880.8 1585 885Z" fill="url(#sgb)"/><path d="M1593.8 850Q1599.2 844 1600 800Q1600.8 844 1606.2 850Z" fill="url(#sgv)"/><path d="M1605.8 856Q1611.2 849.9 1612 805Q1612.8 849.9 1618.2 856Z" fill="url(#sgv)"/><path d="M1615.8 850Q1621.2 845.4 1622 812Q1622.8 845.4 1628.2 850Z" fill="url(#sgv)"/><path d="M1626.4 858Q1631.3 851 1632 800Q1632.7 851 1637.6 858Z" fill="url(#sgv)"/><path d="M1638.8 862Q1644.2 855.5 1645 808Q1645.8 855.5 1651.2 862Z" fill="url(#sgv)"/><path d="M1649.4 860Q1654.3 854.6 1655 815Q1655.7 854.6 1660.6 860Z" fill="url(#sgv)"/><path d="M1656.4 880Q1661.3 870.4 1662 800Q1662.7 870.4 1667.6 880Z" fill="url(#sgp)"/><path d="M1665.8 870Q1671.2 860.6 1672 792Q1672.8 860.6 1678.2 870Z" fill="url(#sgv)"/><path d="M1674.4 866Q1679.3 858.7 1680 805Q1680.7 858.7 1685.6 866Z" fill="url(#sgv)"/><path d="M1682.4 872Q1687.3 863.4 1688 800Q1688.7 863.4 1693.6 872Z" fill="url(#sgv)"/><path d="M1694.4 870Q1699.3 862.8 1700 810Q1700.7 862.8 1705.6 870Z" fill="url(#sgv)"/><path d="M1700.4 868Q1705.3 861.6 1706 815Q1706.7 861.6 1711.6 868Z" fill="url(#sgv)"/><path d="M1706.4 866Q1711.3 860.7 1712 822Q1712.7 860.7 1717.6 866Z" fill="url(#sgb)"/><path d="M1633 870Q1639.1 865.2 1640 830Q1640.9 865.2 1647 870Z" fill="url(#sgb)"/><path d="M1583 852Q1589.1 848.2 1590 820Q1590.9 848.2 1597 852Z" fill="url(#sgb)"/><path d="M1558 845Q1564.1 841.4 1565 815Q1565.9 841.4 1572 845Z" fill="url(#sgb)"/><path d="M1543 846Q1549.1 843.1 1550 822Q1550.9 843.1 1557 846Z" fill="url(#sgb)"/><path d="M1658 905Q1662.4 899.6 1663 860Q1663.6 899.6 1668 905Z" fill="url(#sgb)"/><path d="M1684.7 861.5Q1689.6 855.1 1690.3 808.5Q1691 855.1 1695.9 861.5Z" fill="url(#sgv)"/><path d="M1620.9 856.1Q1624.6 854 1625.1 838.7Q1625.6 854 1629.4 856.1Z" fill="url(#sgb)"/><path d="M1665.7 875.2Q1670.5 872.4 1671.2 851.7Q1671.9 872.4 1676.7 875.2Z" fill="url(#sgb)"/><path d="M1634.9 863.8Q1638.8 857.8 1639.3 814.4Q1639.9 857.8 1643.8 863.8Z" fill="url(#sgv)"/><path d="M1610.6 852.6Q1614.8 846 1615.4 797.5Q1616 846 1620.3 852.6Z" fill="url(#sgv)"/><path d="M1687.6 863Q1692.7 857.5 1693.4 816.8Q1694.2 857.5 1699.3 863Z" fill="url(#sgv)"/><path d="M1633.5 855.7Q1637.2 853.3 1637.7 835.7Q1638.2 853.3 1642 855.7Z" fill="url(#sgb)"/><path d="M1624.6 861.2Q1628.5 855.1 1629.1 810.3Q1629.7 855.1 1633.6 861.2Z" fill="url(#sgv)"/><path d="M1698.3 862.2Q1703.2 857.9 1703.9 826.2Q1704.6 857.9 1709.5 862.2Z" fill="url(#sgv)"/><path d="M1696.4 878.8Q1700 872.3 1700.5 824.6Q1701 872.3 1704.6 878.8Z" fill="url(#sgv)"/><path d="M1691.5 859Q1695.7 854.9 1696.3 824.7Q1696.8 854.9 1701 859Z" fill="url(#sgv)"/><path d="M1640.1 855Q1644.9 851.1 1645.6 822.6Q1646.3 851.1 1651 855Z" fill="url(#sgv)"/><path d="M1668.8 858.8Q1672.8 853.1 1673.4 811Q1674 853.1 1678 858.8Z" fill="url(#sgv)"/><path d="M1653.1 862.3Q1657.5 857.1 1658.1 819.4Q1658.8 857.1 1663.2 862.3Z" fill="url(#sgv)"/><path d="M1691.2 860.2Q1696.5 856.3 1697.3 828.3Q1698.1 856.3 1703.4 860.2Z" fill="url(#sgb)"/><path d="M1591.5 839.3Q1596.9 833.9 1597.6 794.5Q1598.4 833.9 1603.7 839.3Z" fill="url(#sgv)"/><path d="M1599.8 843.7Q1604.2 838.5 1604.9 800Q1605.5 838.5 1609.9 843.7Z" fill="url(#sgv)"/><path d="M1699.1 861.3Q1702.9 858.8 1703.4 840.1Q1704 858.8 1707.8 861.3Z" fill="url(#sgb)"/><path d="M1640.9 858.3Q1644.5 854.1 1645.1 823Q1645.6 854.1 1649.2 858.3Z" fill="url(#sgv)"/><path d="M1658.5 863.4Q1662.2 860.4 1662.8 838.6Q1663.3 860.4 1667 863.4Z" fill="url(#sgb)"/><path d="M1626.5 855.7Q1631.2 849.1 1631.9 800.6Q1632.6 849.1 1637.3 855.7Z" fill="url(#sgv)"/><path d="M1690.8 869.5Q1695.4 867.2 1696.1 849.8Q1696.8 867.2 1701.4 869.5Z" fill="url(#sgb)"/><path d="M1677.5 881.6Q1681 879.6 1681.5 865.3Q1682 879.6 1685.5 881.6Z" fill="url(#sgb)"/><path d="M1683 864.7Q1686.6 862.7 1687.1 848.1Q1687.6 862.7 1691.2 864.7Z" fill="url(#sgb)"/><path d="M1683.8 871.3Q1688.7 865 1689.5 818.5Q1690.2 865 1695.1 871.3Z" fill="url(#sgv)"/><path d="M1647 861.9Q1650.8 858.3 1651.3 832.1Q1651.9 858.3 1655.6 861.9Z" fill="url(#sgb)"/><path d="M1698.3 867.5Q1702.6 863.3 1703.2 832.6Q1703.8 863.3 1708 867.5Z" fill="url(#sgv)"/><path d="M1653.8 874.6Q1658.2 869.5 1658.9 832.6Q1659.5 869.5 1663.9 874.6Z" fill="url(#sgv)"/><path d="M1669.1 875.8Q1673.5 870.9 1674.2 835.4Q1674.8 870.9 1679.3 875.8Z" fill="url(#sgv)"/><path d="M1611.9 847.3Q1616.7 842.2 1617.4 804.7Q1618.1 842.2 1622.9 847.3Z" fill="url(#sgv)"/>
<line x1="1407.5" y1="926.1" x2="1407.5" y2="666.1" stroke="#b2b2b2" stroke-width="2.8"/>
<path d="M1407.5 925.6l-9.3 -2.1M1407.5 873.7l-9.3 -2.1M1407.5 821.8l-9.3 -2.1M1407.5 769.9l-9.3 -2.1M1407.5 718l-9.3 -2.1M1407.5 666.1l-9.3 -2.1M1407.5 925.6L1722.2 998.6L1903 871.6M1498.4 946.7l-5.7 4M1600.2 970.3l-5.7 4M1701.9 993.9l-5.7 4M1725.9 996.1l5.8 1.4M1780.1 958l5.8 1.4M1834.3 919.9l5.8 1.4M1888.5 881.8l5.8 1.4" stroke="#333" stroke-width="1.2" fill="none"/>
<path d="M1723.4 997.8l3.2 0.7M1742.2 984.6l3.2 0.7M1751.7 977.9l3.2 0.7M1758.5 973.1l3.2 0.7M1763.8 969.4l3.2 0.7M1768.1 966.4l3.2 0.7M1771.7 963.9l3.2 0.7M1774.8 961.7l3.2 0.7M1777.6 959.7l3.2 0.7M1796.4 946.5l3.2 0.7M1806 939.8l3.2 0.7M1812.7 935l3.2 0.7M1818 931.3l3.2 0.7M1822.3 928.3l3.2 0.7M1825.9 925.8l3.2 0.7M1829.1 923.6l3.2 0.7M1831.8 921.6l3.2 0.7M1850.6 908.4l3.2 0.7M1860.2 901.7l3.2 0.7M1867 896.9l3.2 0.7M1872.2 893.2l3.2 0.7M1876.5 890.2l3.2 0.7M1880.1 887.7l3.2 0.7M1883.3 885.5l3.2 0.7M1886.1 883.5l3.2 0.7" stroke="#555" stroke-width="0.8" fill="none"/>
<text x="1384" y="936" font-size="31" text-anchor="end" >0</text>
<text x="1384" y="885.5" font-size="31" text-anchor="end" >0.2</text>
<text x="1384" y="834.2" font-size="31" text-anchor="end" >0.4</text>
<text x="1384" y="783" font-size="31" text-anchor="end" >0.6</text>
<text x="1384" y="733" font-size="31" text-anchor="end" >0.8</text>
<text x="1384" y="681.7" font-size="31" text-anchor="end" >1.0</text>
<text x="1476" y="983.4" font-size="30.5" text-anchor="middle" >5</text>
<text x="1579.4" y="1008.3" font-size="30.5" text-anchor="middle" >10</text>
<text x="1680.4" y="1030.5" font-size="30.5" text-anchor="middle" >15</text>
<text x="1356" y="581.2" font-size="52" >f.)</text>
<text x="1897.8" y="907.3" font-size="30.5">10<tspan font-size="21" dy="-7.5">0</tspan></text>
<text x="1851.5" y="942.3" font-size="30.5">10<tspan font-size="21" dy="-7.5">-1</tspan></text>
<text x="1791.5" y="981" font-size="30.5">10<tspan font-size="21" dy="-7.5">-2</tspan></text>
<text x="1746.5" y="1019.8" font-size="30.5">10<tspan font-size="21" dy="-7.5">-3</tspan></text>
<g transform="translate(1804.5,1061) rotate(-37.9)"><text font-size="37" font-weight="bold">Aspect Ratio</text></g>
<g transform="matrix(1,0.266,-0.2,1,1427.5,1017)"><text font-size="35.9" font-weight="bold">Wavelength (μm)</text></g>
</g>
</svg>
</body></html>
